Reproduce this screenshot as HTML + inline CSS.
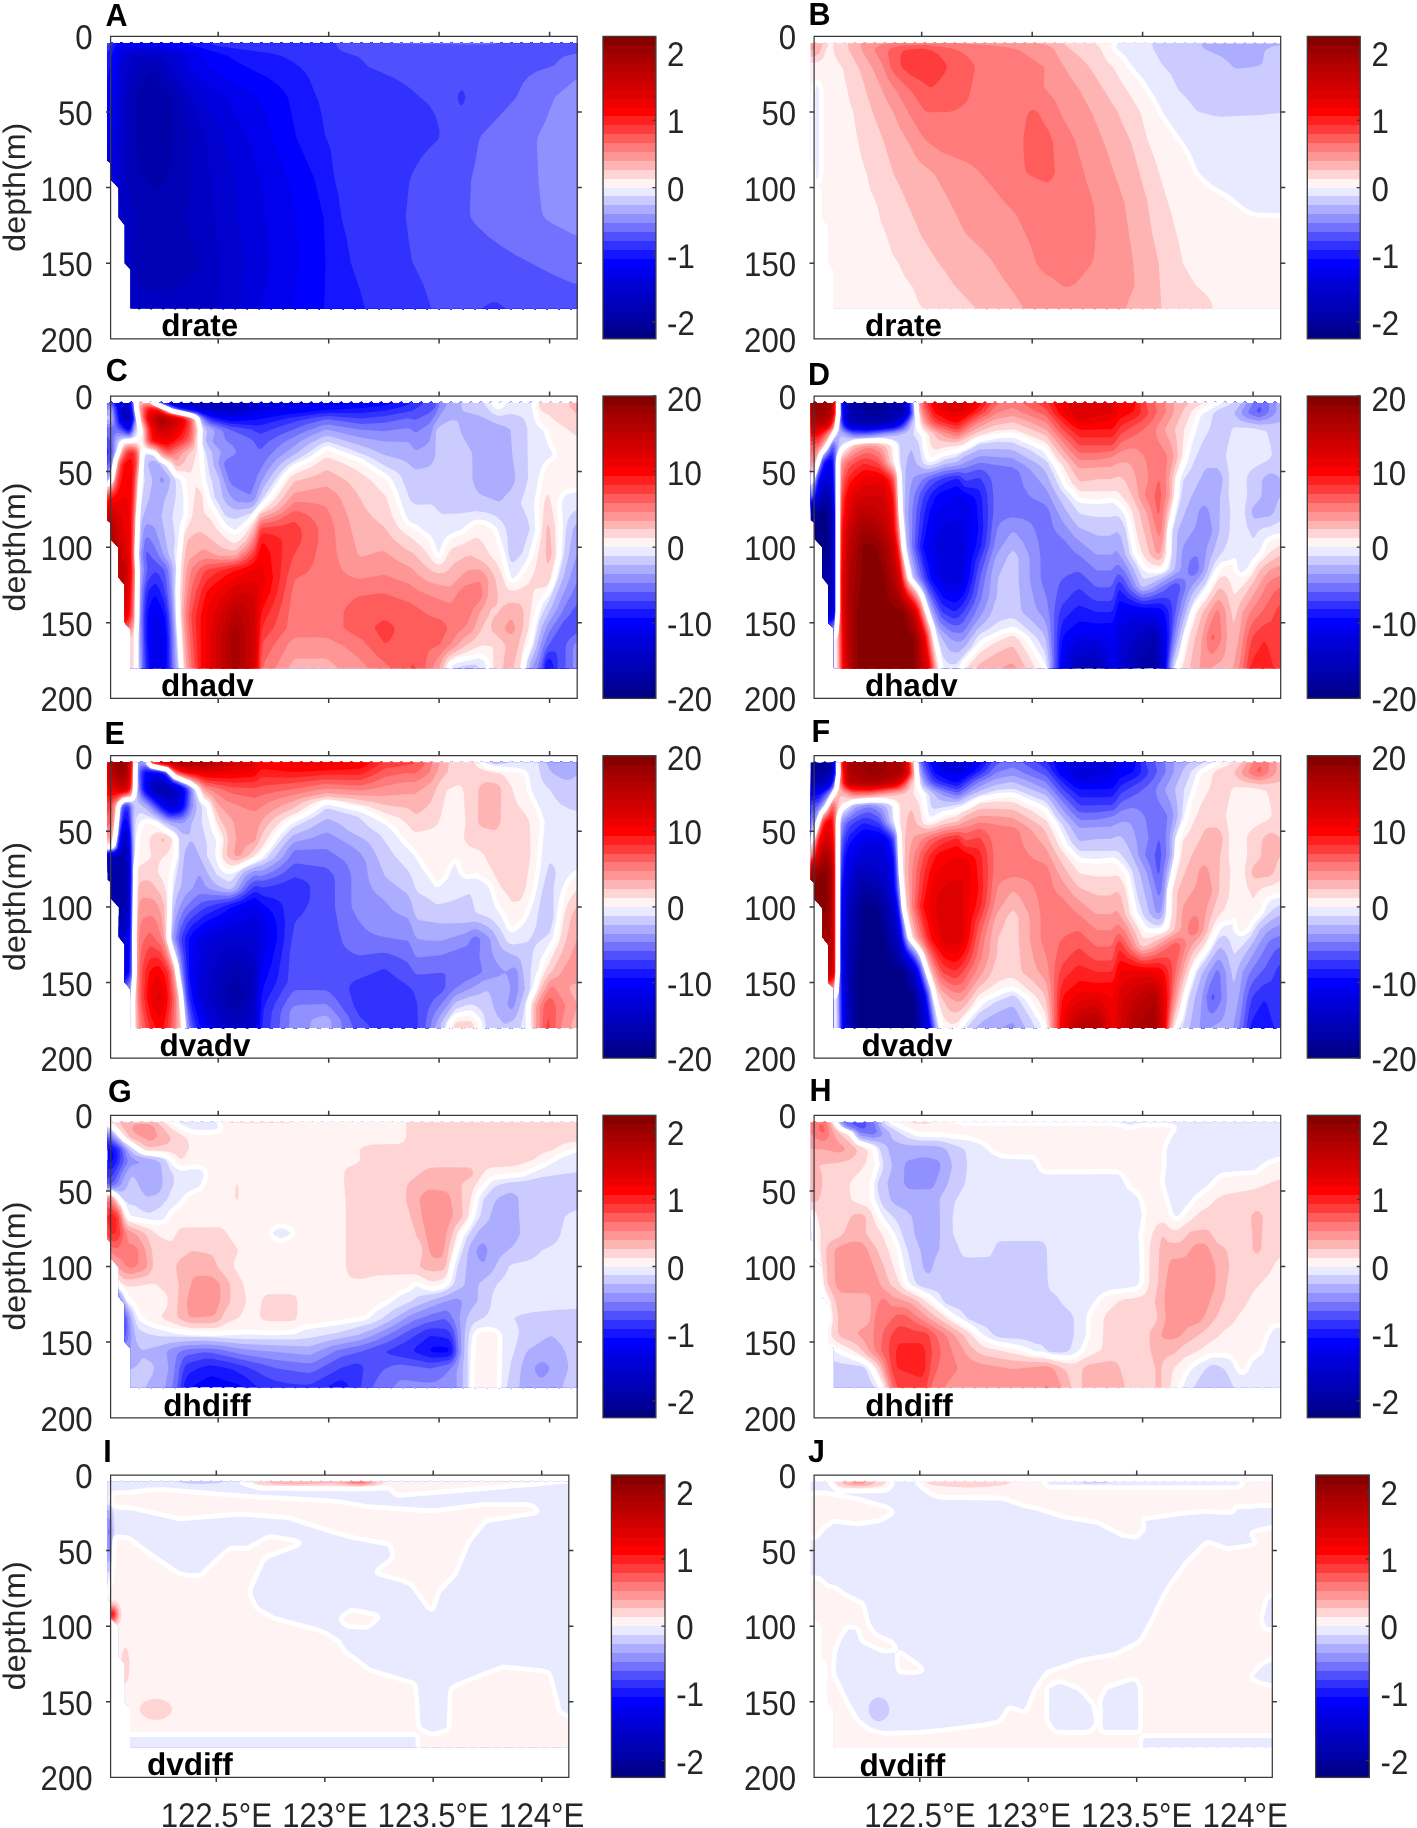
<!DOCTYPE html>
<html><head><meta charset="utf-8"><style>
html,body{margin:0;padding:0;background:#fff;}
svg{display:block;}
text{text-rendering:geometricPrecision;}
svg{will-change:transform;}
.t{font-family:"Liberation Sans",sans-serif;font-size:31.2px;fill:#262626;}
.yl{font-family:"Liberation Sans",sans-serif;font-size:31px;fill:#262626;}
.v{font-family:"Liberation Sans",sans-serif;font-size:31.5px;font-weight:bold;fill:#000;}
.L{font-family:"Liberation Sans",sans-serif;font-size:30.5px;font-weight:bold;fill:#000;}
</style></head><body>
<svg width="1417" height="1828" viewBox="0 0 1417 1828" shape-rendering="geometricPrecision">
<rect width="1417" height="1828" fill="#fff"/>
<clipPath id="p00"><path d="M107.3 43.2 109.3 43.2 111.3 41.9 113.3 43.2 115.3 43.2 117.3 43.2 119.3 43.2 121.3 41.9 123.3 43.2 125.3 43.2 127.3 43.2 129.3 43.2 131.3 41.9 133.3 43.2 135.3 43.2 137.3 43.2 139.3 43.2 141.3 41.9 143.3 43.2 145.3 43.2 147.3 43.2 149.3 43.2 151.3 41.9 153.3 43.2 155.3 43.2 157.3 43.2 159.3 43.2 161.3 41.9 163.3 43.2 165.3 43.2 167.3 43.2 169.3 43.2 171.3 41.9 173.3 43.2 175.3 43.2 177.3 43.2 179.3 43.2 181.3 41.9 183.3 43.2 185.3 43.2 187.3 43.2 189.3 43.2 191.3 41.9 193.3 43.2 195.3 43.2 197.3 43.2 199.3 43.2 201.3 41.9 203.3 43.2 205.3 43.2 207.3 43.2 209.3 43.2 211.3 41.9 213.3 43.2 215.3 43.2 217.3 43.2 219.3 43.2 221.3 41.9 223.3 43.2 225.3 43.2 227.3 43.2 229.3 43.2 231.3 41.9 233.3 43.2 235.3 43.2 237.3 43.2 239.3 43.2 241.3 41.9 243.3 43.2 245.3 43.2 247.3 43.2 249.3 43.2 251.3 41.9 253.3 43.2 255.3 43.2 257.3 43.2 259.3 43.2 261.3 41.9 263.3 43.2 265.3 43.2 267.3 43.2 269.3 43.2 271.3 41.9 273.3 43.2 275.3 43.2 277.3 43.2 279.3 43.2 281.3 41.9 283.3 43.2 285.3 43.2 287.3 43.2 289.3 43.2 291.3 41.9 293.3 43.2 295.3 43.2 297.3 43.2 299.3 43.2 301.3 41.9 303.3 43.2 305.3 43.2 307.3 43.2 309.3 43.2 311.3 41.9 313.3 43.2 315.3 43.2 317.3 43.2 319.3 43.2 321.3 41.9 323.3 43.2 325.3 43.2 327.3 43.2 329.3 43.2 331.3 41.9 333.3 43.2 335.3 43.2 337.3 43.2 339.3 43.2 341.3 41.9 343.3 43.2 345.3 43.2 347.3 43.2 349.3 43.2 351.3 41.9 353.3 43.2 355.3 43.2 357.3 43.2 359.3 43.2 361.3 41.9 363.3 43.2 365.3 43.2 367.3 43.2 369.3 43.2 371.3 41.9 373.3 43.2 375.3 43.2 377.3 43.2 379.3 43.2 381.3 41.9 383.3 43.2 385.3 43.2 387.3 43.2 389.3 43.2 391.3 41.9 393.3 43.2 395.3 43.2 397.3 43.2 399.3 43.2 401.3 41.9 403.3 43.2 405.3 43.2 407.3 43.2 409.3 43.2 411.3 41.9 413.3 43.2 415.3 43.2 417.3 43.2 419.3 43.2 421.3 41.9 423.3 43.2 425.3 43.2 427.3 43.2 429.3 43.2 431.3 41.9 433.3 43.2 435.3 43.2 437.3 43.2 439.3 43.2 441.3 41.9 443.3 43.2 445.3 43.2 447.3 43.2 449.3 43.2 451.3 41.9 453.3 43.2 455.3 43.2 457.3 43.2 459.3 43.2 461.3 41.9 463.3 43.2 465.3 43.2 467.3 43.2 469.3 43.2 471.3 41.9 473.3 43.2 475.3 43.2 477.3 43.2 479.3 43.2 481.3 41.9 483.3 43.2 485.3 43.2 487.3 43.2 489.3 43.2 491.3 41.9 493.3 43.2 495.3 43.2 497.3 43.2 499.3 43.2 501.3 41.9 503.3 43.2 505.3 43.2 507.3 43.2 509.3 43.2 511.3 41.9 513.3 43.2 515.3 43.2 517.3 43.2 519.3 43.2 521.3 41.9 523.3 43.2 525.3 43.2 527.3 43.2 529.3 43.2 531.3 41.9 533.3 43.2 535.3 43.2 537.3 43.2 539.3 43.2 541.3 41.9 543.3 43.2 545.3 43.2 547.3 43.2 549.3 43.2 551.3 41.9 553.3 43.2 555.3 43.2 557.3 43.2 559.3 43.2 561.3 41.9 563.3 43.2 565.3 43.2 567.3 43.2 569.3 43.2 571.3 41.9 573.3 43.2 575.3 43.2 577.2 43.2 577.2 308.6 577.2 308.6 575.2 308.6 573.2 308.6 571.2 309.4 569.2 308.6 567.2 308.6 565.2 308.6 563.2 308.6 561.2 308.6 559.2 309.4 557.2 308.6 555.2 308.6 553.2 308.6 551.2 308.6 549.2 308.6 547.2 309.4 545.2 308.6 543.2 308.6 541.2 308.6 539.2 308.6 537.2 308.6 535.2 309.4 533.2 308.6 531.2 308.6 529.2 308.6 527.2 308.6 525.2 308.6 523.2 309.4 521.2 308.6 519.2 308.6 517.2 308.6 515.2 308.6 513.2 308.6 511.2 309.4 509.2 308.6 507.2 308.6 505.2 308.6 503.2 308.6 501.2 308.6 499.2 309.4 497.2 308.6 495.2 308.6 493.2 308.6 491.2 308.6 489.2 308.6 487.2 309.4 485.2 308.6 483.2 308.6 481.2 308.6 479.2 308.6 477.2 308.6 475.2 309.4 473.2 308.6 471.2 308.6 469.2 308.6 467.2 308.6 465.2 308.6 463.2 309.4 461.2 308.6 459.2 308.6 457.2 308.6 455.2 308.6 453.2 308.6 451.2 309.4 449.2 308.6 447.2 308.6 445.2 308.6 443.2 308.6 441.2 308.6 439.2 309.4 437.2 308.6 435.2 308.6 433.2 308.6 431.2 308.6 429.2 308.6 427.2 309.4 425.2 308.6 423.2 308.6 421.2 308.6 419.2 308.6 417.2 308.6 415.2 309.4 413.2 308.6 411.2 308.6 409.2 308.6 407.2 308.6 405.2 308.6 403.2 309.4 401.2 308.6 399.2 308.6 397.2 308.6 395.2 308.6 393.2 308.6 391.2 309.4 389.2 308.6 387.2 308.6 385.2 308.6 383.2 308.6 381.2 308.6 379.2 309.4 377.2 308.6 375.2 308.6 373.2 308.6 371.2 308.6 369.2 308.6 367.2 309.4 365.2 308.6 363.2 308.6 361.2 308.6 359.2 308.6 357.2 308.6 355.2 309.4 353.2 308.6 351.2 308.6 349.2 308.6 347.2 308.6 345.2 308.6 343.2 309.4 341.2 308.6 339.2 308.6 337.2 308.6 335.2 308.6 333.2 308.6 331.2 309.4 329.2 308.6 327.2 308.6 325.2 308.6 323.2 308.6 321.2 308.6 319.2 309.4 317.2 308.6 315.2 308.6 313.2 308.6 311.2 308.6 309.2 308.6 307.2 309.4 305.2 308.6 303.2 308.6 301.2 308.6 299.2 308.6 297.2 308.6 295.2 309.4 293.2 308.6 291.2 308.6 289.2 308.6 287.2 308.6 285.2 308.6 283.2 309.4 281.2 308.6 279.2 308.6 277.2 308.6 275.2 308.6 273.2 308.6 271.2 309.4 269.2 308.6 267.2 308.6 265.2 308.6 263.2 308.6 261.2 308.6 259.2 309.4 257.2 308.6 255.2 308.6 253.2 308.6 251.2 308.6 249.2 308.6 247.2 309.4 245.2 308.6 243.2 308.6 241.2 308.6 239.2 308.6 237.2 308.6 235.2 309.4 233.2 308.6 231.2 308.6 229.2 308.6 227.2 308.6 225.2 308.6 223.2 309.4 221.2 308.6 219.2 308.6 217.2 308.6 215.2 308.6 213.2 308.6 211.2 309.4 209.2 308.6 207.2 308.6 205.2 308.6 203.2 308.6 201.2 308.6 199.2 309.4 197.2 308.6 195.2 308.6 193.2 308.6 191.2 308.6 189.2 308.6 187.2 309.4 185.2 308.6 183.2 308.6 181.2 308.6 179.2 308.6 177.2 308.6 175.2 309.4 173.2 308.6 171.2 308.6 169.2 308.6 167.2 308.6 165.2 308.6 163.2 309.4 161.2 308.6 159.2 308.6 157.2 308.6 155.2 308.6 153.2 308.6 151.2 309.4 149.2 308.6 147.2 308.6 145.2 308.6 143.2 308.6 141.2 308.6 139.2 309.4 137.2 308.6 135.2 308.6 133.2 308.6 131.2 308.6 130.4 308.6 130.4 269.6 124.6 263.2 124.6 225.2 118.5 217.5 118.5 188.1 110.6 179.4 110.6 163.1 107.3 160.7 107.3 43.2z"/></clipPath>
<g clip-path="url(#p00)">
<path fill="#0000a8" d="M107.3 43.2 109.3 43.2 111.3 41.9 113.3 43.2 115.3 43.2 117.3 43.2 119.3 43.2 121.3 41.9 123.3 43.2 125.3 43.2 127.3 43.2 129.3 43.2 131.3 41.9 133.3 43.2 135.3 43.2 137.3 43.2 139.3 43.2 141.3 41.9 143.3 43.2 145.3 43.2 147.3 43.2 149.3 43.2 151.3 41.9 153.3 43.2 155.3 43.2 157.3 43.2 159.3 43.2 161.3 41.9 163.3 43.2 165.3 43.2 167.3 43.2 169.3 43.2 171.3 41.9 173.3 43.2 175.3 43.2 177.3 43.2 179.3 43.2 181.3 41.9 183.3 43.2 185.3 43.2 187.3 43.2 189.3 43.2 191.3 41.9 193.3 43.2 195.3 43.2 197.3 43.2 199.3 43.2 201.3 41.9 203.3 43.2 205.3 43.2 207.3 43.2 209.3 43.2 211.3 41.9 213.3 43.2 215.3 43.2 217.3 43.2 219.3 43.2 221.3 41.9 223.3 43.2 225.3 43.2 227.3 43.2 229.3 43.2 231.3 41.9 233.3 43.2 235.3 43.2 237.3 43.2 239.3 43.2 241.3 41.9 243.3 43.2 245.3 43.2 247.3 43.2 249.3 43.2 251.3 41.9 253.3 43.2 255.3 43.2 257.3 43.2 259.3 43.2 261.3 41.9 263.3 43.2 265.3 43.2 267.3 43.2 269.3 43.2 271.3 41.9 273.3 43.2 275.3 43.2 277.3 43.2 279.3 43.2 281.3 41.9 283.3 43.2 285.3 43.2 287.3 43.2 289.3 43.2 291.3 41.9 293.3 43.2 295.3 43.2 297.3 43.2 299.3 43.2 301.3 41.9 303.3 43.2 305.3 43.2 307.3 43.2 309.3 43.2 311.3 41.9 313.3 43.2 315.3 43.2 317.3 43.2 319.3 43.2 321.3 41.9 323.3 43.2 325.3 43.2 327.3 43.2 329.3 43.2 331.3 41.9 333.3 43.2 335.3 43.2 337.3 43.2 339.3 43.2 341.3 41.9 343.3 43.2 345.3 43.2 347.3 43.2 349.3 43.2 351.3 41.9 353.3 43.2 355.3 43.2 357.3 43.2 359.3 43.2 361.3 41.9 363.3 43.2 365.3 43.2 367.3 43.2 369.3 43.2 371.3 41.9 373.3 43.2 375.3 43.2 377.3 43.2 379.3 43.2 381.3 41.9 383.3 43.2 385.3 43.2 387.3 43.2 389.3 43.2 391.3 41.9 393.3 43.2 395.3 43.2 397.3 43.2 399.3 43.2 401.3 41.9 403.3 43.2 405.3 43.2 407.3 43.2 409.3 43.2 411.3 41.9 413.3 43.2 415.3 43.2 417.3 43.2 419.3 43.2 421.3 41.9 423.3 43.2 425.3 43.2 427.3 43.2 429.3 43.2 431.3 41.9 433.3 43.2 435.3 43.2 437.3 43.2 439.3 43.2 441.3 41.9 443.3 43.2 445.3 43.2 447.3 43.2 449.3 43.2 451.3 41.9 453.3 43.2 455.3 43.2 457.3 43.2 459.3 43.2 461.3 41.9 463.3 43.2 465.3 43.2 467.3 43.2 469.3 43.2 471.3 41.9 473.3 43.2 475.3 43.2 477.3 43.2 479.3 43.2 481.3 41.9 483.3 43.2 485.3 43.2 487.3 43.2 489.3 43.2 491.3 41.9 493.3 43.2 495.3 43.2 497.3 43.2 499.3 43.2 501.3 41.9 503.3 43.2 505.3 43.2 507.3 43.2 509.3 43.2 511.3 41.9 513.3 43.2 515.3 43.2 517.3 43.2 519.3 43.2 521.3 41.9 523.3 43.2 525.3 43.2 527.3 43.2 529.3 43.2 531.3 41.9 533.3 43.2 535.3 43.2 537.3 43.2 539.3 43.2 541.3 41.9 543.3 43.2 545.3 43.2 547.3 43.2 549.3 43.2 551.3 41.9 553.3 43.2 555.3 43.2 557.3 43.2 559.3 43.2 561.3 41.9 563.3 43.2 565.3 43.2 567.3 43.2 569.3 43.2 571.3 41.9 573.3 43.2 575.3 43.2 577.2 43.2 577.2 308.6 577.2 308.6 575.2 308.6 573.2 308.6 571.2 309.4 569.2 308.6 567.2 308.6 565.2 308.6 563.2 308.6 561.2 308.6 559.2 309.4 557.2 308.6 555.2 308.6 553.2 308.6 551.2 308.6 549.2 308.6 547.2 309.4 545.2 308.6 543.2 308.6 541.2 308.6 539.2 308.6 537.2 308.6 535.2 309.4 533.2 308.6 531.2 308.6 529.2 308.6 527.2 308.6 525.2 308.6 523.2 309.4 521.2 308.6 519.2 308.6 517.2 308.6 515.2 308.6 513.2 308.6 511.2 309.4 509.2 308.6 507.2 308.6 505.2 308.6 503.2 308.6 501.2 308.6 499.2 309.4 497.2 308.6 495.2 308.6 493.2 308.6 491.2 308.6 489.2 308.6 487.2 309.4 485.2 308.6 483.2 308.6 481.2 308.6 479.2 308.6 477.2 308.6 475.2 309.4 473.2 308.6 471.2 308.6 469.2 308.6 467.2 308.6 465.2 308.6 463.2 309.4 461.2 308.6 459.2 308.6 457.2 308.6 455.2 308.6 453.2 308.6 451.2 309.4 449.2 308.6 447.2 308.6 445.2 308.6 443.2 308.6 441.2 308.6 439.2 309.4 437.2 308.6 435.2 308.6 433.2 308.6 431.2 308.6 429.2 308.6 427.2 309.4 425.2 308.6 423.2 308.6 421.2 308.6 419.2 308.6 417.2 308.6 415.2 309.4 413.2 308.6 411.2 308.6 409.2 308.6 407.2 308.6 405.2 308.6 403.2 309.4 401.2 308.6 399.2 308.6 397.2 308.6 395.2 308.6 393.2 308.6 391.2 309.4 389.2 308.6 387.2 308.6 385.2 308.6 383.2 308.6 381.2 308.6 379.2 309.4 377.2 308.6 375.2 308.6 373.2 308.6 371.2 308.6 369.2 308.6 367.2 309.4 365.2 308.6 363.2 308.6 361.2 308.6 359.2 308.6 357.2 308.6 355.2 309.4 353.2 308.6 351.2 308.6 349.2 308.6 347.2 308.6 345.2 308.6 343.2 309.4 341.2 308.6 339.2 308.6 337.2 308.6 335.2 308.6 333.2 308.6 331.2 309.4 329.2 308.6 327.2 308.6 325.2 308.6 323.2 308.6 321.2 308.6 319.2 309.4 317.2 308.6 315.2 308.6 313.2 308.6 311.2 308.6 309.2 308.6 307.2 309.4 305.2 308.6 303.2 308.6 301.2 308.6 299.2 308.6 297.2 308.6 295.2 309.4 293.2 308.6 291.2 308.6 289.2 308.6 287.2 308.6 285.2 308.6 283.2 309.4 281.2 308.6 279.2 308.6 277.2 308.6 275.2 308.6 273.2 308.6 271.2 309.4 269.2 308.6 267.2 308.6 265.2 308.6 263.2 308.6 261.2 308.6 259.2 309.4 257.2 308.6 255.2 308.6 253.2 308.6 251.2 308.6 249.2 308.6 247.2 309.4 245.2 308.6 243.2 308.6 241.2 308.6 239.2 308.6 237.2 308.6 235.2 309.4 233.2 308.6 231.2 308.6 229.2 308.6 227.2 308.6 225.2 308.6 223.2 309.4 221.2 308.6 219.2 308.6 217.2 308.6 215.2 308.6 213.2 308.6 211.2 309.4 209.2 308.6 207.2 308.6 205.2 308.6 203.2 308.6 201.2 308.6 199.2 309.4 197.2 308.6 195.2 308.6 193.2 308.6 191.2 308.6 189.2 308.6 187.2 309.4 185.2 308.6 183.2 308.6 181.2 308.6 179.2 308.6 177.2 308.6 175.2 309.4 173.2 308.6 171.2 308.6 169.2 308.6 167.2 308.6 165.2 308.6 163.2 309.4 161.2 308.6 159.2 308.6 157.2 308.6 155.2 308.6 153.2 308.6 151.2 309.4 149.2 308.6 147.2 308.6 145.2 308.6 143.2 308.6 141.2 308.6 139.2 309.4 137.2 308.6 135.2 308.6 133.2 308.6 131.2 308.6 130.4 308.6 130.4 269.6 124.6 263.2 124.6 225.2 118.5 217.5 118.5 188.1 110.6 179.4 110.6 163.1 107.3 160.7 107.3 43.2z"/>
<path fill="#0000b5" d="M104.6 36.4l475 0l0 302l-475 0l0-302zM149.6 74l-2 2.2l-9 16.2l-1.8 5l-1.1 41l2.9 21.6l4 13.6l2.5 4.8l3.3 4l5.2 4.3l3 0.9l3-1.1l3.2-3.1l3.3-5l1.9-5l4-18l1.6-13l0.1-7l-2.9-37l-1.8-3l-8.5-9l-7.9-11.1l-2-1.4l-1 0.1z"/>
<path fill="#0000c2" d="M104.6 36.4l475 0l0 302l-475 0l0-302zM146.6 61.4l-7 3.3l-3.8 4.7l-4.2 14.8l-2.4 14.2l-0.9 41l1 46l2.4 19l5.7 15l-3.8 19.8l-1.8 23.2l2.6 14l4.2 9l3 2.8l4 2.1l6 2l4 0.6l5-0.9l9-3.1l8.1-3.5l5.9-3.4l6-4.9l5.2-5.7l3.2-5l0.9-4l-1.1-5l-7.2-20l-5.6-18l0-4l3.2-16l2.3-18l0.1-39l-0.5-5l-5.1-18l-4-20l-4.4-8.9l-10-13.2l-7.1-10.9l-3.2-3l-3.7-2l-3-0.5l-3 0.5z"/>
<path fill="#0000cf" d="M104.6 36.4l475 0l0 302l-363.3 0l0.1-26l4.2-50l-6.7-48l-7.4-75l-1.6-5l-8.9-20l-6.2-18l-23.6-34l-3.6-3.3l-4.8-2.7l-5.2-1.5l-4-0.3l-7 1l-6.2 1.8l-2.8 2.1l-2.9 4.9l-2.8 11l-2.8 21l-2.7 79l-1.6 16l-2.2 9.2l-3 5.9l-4 3l-6 0.8l0-173.9z"/>
<path fill="#0000dd" d="M104.6 36.4l475 0l0 302l-339.7 0l0.3-29l5-48l-7.2-43l-2.6-38l-10.3-40l-2.2-6l-20-37l-19.3-22.5l-4.2-6.5l-3.9-9l-2.4-3l-6.5-3l-15-2.6l-16 0.8l-7 1.8l-2.3 2l-1.7 3.1l-2.8 12.9l-2.1 25l-4.6 85l-1.6 6l-2.6 5l-2.3 1.9l-4 0.8l0-158.7z"/>
<path fill="#0000ec" d="M104.6 36.4l475 0l0 302l-320.3 0l0.3-27l9.7-41l1-6l-0.1-6l-3.9-36l-5.7-42l-12.2-40l-6.7-15l-9.6-18l-5.1-8l-4.4-4.2l-13-9.1l-19-17.2l-2.5-4.5l-0.9-8l-2.9-3l-9.4-3l-22.3-2.9l-20 0.7l-8 1.7l-4 3.1l-1.9 6.4l-7.8 106l-2.3 11l-1.8 2l-2.2 0.7l0-142.7z"/>
<path fill="#0000ff" d="M104.6 36.4l475 0l0 302l-287.1 0l0.2-27l5.7-48l-2.2-46l-7.8-37l-11.8-29.4l-10.3-34.6l-6.7-16.1l-3.1-3.9l-5.2-4l-21.7-13.5l-20.1-11.5l-2.9-3.1l-3.5-7.9l-1.9-2l-3.6-2l-18-5.8l-28-4.3l-21 1.2l-8 1.2l-3 2l-2 2.6l-2.4 7.1l-6.6 80.8l-2 9.7l-2 3.5l0-114z"/>
<path fill="#1515ff" d="M104.6 36.4l13.6 0l-0.8 5l-6 15l-4.8 30.2l-2 6.7l0-56.9zM183.4 36.4l396.2 0l0 302l-255.6 0l0-26l1.4-48l-1.8-46.3l-9.3-39.7l-18-41l-7.4-36l-1.6-5l-3.2-5l-5.5-6.1l-12-8.4l-24-11.8l-16.2-9.7l-36.1-11l-4.7-3l-1.4-2l-0.8-3z"/>
<path fill="#3232ff" d="M104.6 36.4l10 0l-0.6 5l-2.4 5.2l-4 5.6l-3 2.1l0-17.9zM209 36.4l370.6 0l0 302l-213.5 0l-0.5-28l-5.8-21l-9.1-27l-4.2-25l-4.9-19.2l-3.5-24.8l-3.5-14l-3.8-28l-1.6-6l-4.1-10l-3.3-20l-2.7-12l-9.6-24l-3.9-6.3l-5.1-5.7l-7.9-6l-7.6-4l-8.4-2.8l-9-1.8l-50-6.8l-4.2-1.6l-2.8-2l-1.1-2l-0.5-4z"/>
<path fill="#5050ff" d="M104.6 36.4l7 0l-0.6 4l-1.4 3.2l-2 2.3l-3 1.7l0-11.2zM333.9 36.4l245.7 0l0 302l-70 0l0-21l-1-5l-2.1-3l-4.9-4.2l-4-2.5l-3-0.7l-4 1l-6 3.3l-3.7 3.1l-1.9 3l-0.9 5l0 21l-45.6 0l0-22l-0.6-6l-8.3-25.4l-11.4-23.6l-3.6-21.7l-2.8-23.3l3.1-32l2.1-8l4.9-10l5.7-9.1l6.4-7.9l9.2-9l1.9-3l0.4-6l-2.7-12l-3.4-8l-4.8-7l-17.2-15l-7.8-5.7l-9-5.4l-26.6-11.9l-7.5-8l-2.8-2l-13.1-4.1l-3.9-1.9l-2.9-3l-2.2-3.8l-1.7-7.2zM461.6 90.3l-3 3.1l-1 4l1.2 5l1.2 2l1.6 0.8l2-1.8l1.8-6l-1.2-5l-1.6-1.9l-1-0.2z"/>
<path fill="#7272ff" d="M104.6 36.4l3.1 0l-1.1 3.8l-2 1.7l0-5.5zM384.9 36.4l116.4 0l-1.1 4l-2.6 2.4l-4 1.2l-8 0.4l-89-0.7l-6-0.9l-3-1.4l-1.8-2l-0.9-3zM578.5 53.4l1.1 0l0 231.2l-8-1.8l-18-7.9l-38-20l-13-7.8l-14.4-10.7l-12.6-11.8l-4.6-6.2l-1.1-6l1.1-32l4.2-18l3.5-21l2.5-6l33.4-35.9l2.6-4.1l5.5-12l5.9-7l8-4.8l17.3-6.2l6.7-6.7l3.7-2.3l6.3-2l7.9-1z"/>
<path fill="#9090ff" d="M579 78.4l0.6-0.1l0 157.6l-7-1.9l-18.4-9.6l-8-5l-3.3-4l-1.5-7l-2.8-26l-1.8-40l1.1-6l7.7-15.6l8.5-22.4l2.6-3l17.9-14.8l4.4-2.2z"/>
</g>
<clipPath id="p01"><path d="M810.8 43.2 812.8 43.2 814.8 41.9 816.8 43.2 818.8 43.2 820.8 43.2 822.8 43.2 824.8 41.9 826.8 43.2 828.8 43.2 830.8 43.2 832.8 43.2 834.8 41.9 836.8 43.2 838.8 43.2 840.8 43.2 842.8 43.2 844.8 41.9 846.8 43.2 848.8 43.2 850.8 43.2 852.8 43.2 854.8 41.9 856.8 43.2 858.8 43.2 860.8 43.2 862.8 43.2 864.8 41.9 866.8 43.2 868.8 43.2 870.8 43.2 872.8 43.2 874.8 41.9 876.8 43.2 878.8 43.2 880.8 43.2 882.8 43.2 884.8 41.9 886.8 43.2 888.8 43.2 890.8 43.2 892.8 43.2 894.8 41.9 896.8 43.2 898.8 43.2 900.8 43.2 902.8 43.2 904.8 41.9 906.8 43.2 908.8 43.2 910.8 43.2 912.8 43.2 914.8 41.9 916.8 43.2 918.8 43.2 920.8 43.2 922.8 43.2 924.8 41.9 926.8 43.2 928.8 43.2 930.8 43.2 932.8 43.2 934.8 41.9 936.8 43.2 938.8 43.2 940.8 43.2 942.8 43.2 944.8 41.9 946.8 43.2 948.8 43.2 950.8 43.2 952.8 43.2 954.8 41.9 956.8 43.2 958.8 43.2 960.8 43.2 962.8 43.2 964.8 41.9 966.8 43.2 968.8 43.2 970.8 43.2 972.8 43.2 974.8 41.9 976.8 43.2 978.8 43.2 980.8 43.2 982.8 43.2 984.8 41.9 986.8 43.2 988.8 43.2 990.8 43.2 992.8 43.2 994.8 41.9 996.8 43.2 998.8 43.2 1000.8 43.2 1002.8 43.2 1004.8 41.9 1006.8 43.2 1008.8 43.2 1010.8 43.2 1012.8 43.2 1014.8 41.9 1016.8 43.2 1018.8 43.2 1020.8 43.2 1022.8 43.2 1024.8 41.9 1026.8 43.2 1028.8 43.2 1030.8 43.2 1032.8 43.2 1034.8 41.9 1036.8 43.2 1038.8 43.2 1040.8 43.2 1042.8 43.2 1044.8 41.9 1046.8 43.2 1048.8 43.2 1050.8 43.2 1052.8 43.2 1054.8 41.9 1056.8 43.2 1058.8 43.2 1060.8 43.2 1062.8 43.2 1064.8 41.9 1066.8 43.2 1068.8 43.2 1070.8 43.2 1072.8 43.2 1074.8 41.9 1076.8 43.2 1078.8 43.2 1080.8 43.2 1082.8 43.2 1084.8 41.9 1086.8 43.2 1088.8 43.2 1090.8 43.2 1092.8 43.2 1094.8 41.9 1096.8 43.2 1098.8 43.2 1100.8 43.2 1102.8 43.2 1104.8 41.9 1106.8 43.2 1108.8 43.2 1110.8 43.2 1112.8 43.2 1114.8 41.9 1116.8 43.2 1118.8 43.2 1120.8 43.2 1122.8 43.2 1124.8 41.9 1126.8 43.2 1128.8 43.2 1130.8 43.2 1132.8 43.2 1134.8 41.9 1136.8 43.2 1138.8 43.2 1140.8 43.2 1142.8 43.2 1144.8 41.9 1146.8 43.2 1148.8 43.2 1150.8 43.2 1152.8 43.2 1154.8 41.9 1156.8 43.2 1158.8 43.2 1160.8 43.2 1162.8 43.2 1164.8 41.9 1166.8 43.2 1168.8 43.2 1170.8 43.2 1172.8 43.2 1174.8 41.9 1176.8 43.2 1178.8 43.2 1180.8 43.2 1182.8 43.2 1184.8 41.9 1186.8 43.2 1188.8 43.2 1190.8 43.2 1192.8 43.2 1194.8 41.9 1196.8 43.2 1198.8 43.2 1200.8 43.2 1202.8 43.2 1204.8 41.9 1206.8 43.2 1208.8 43.2 1210.8 43.2 1212.8 43.2 1214.8 41.9 1216.8 43.2 1218.8 43.2 1220.8 43.2 1222.8 43.2 1224.8 41.9 1226.8 43.2 1228.8 43.2 1230.8 43.2 1232.8 43.2 1234.8 41.9 1236.8 43.2 1238.8 43.2 1240.8 43.2 1242.8 43.2 1244.8 41.9 1246.8 43.2 1248.8 43.2 1250.8 43.2 1252.8 43.2 1254.8 41.9 1256.8 43.2 1258.8 43.2 1260.8 43.2 1262.8 43.2 1264.8 41.9 1266.8 43.2 1268.8 43.2 1270.8 43.2 1272.8 43.2 1274.8 41.9 1276.8 43.2 1278.8 43.2 1280.7 43.2 1280.7 308.6 1280.7 308.6 1278.7 308.6 1276.7 308.6 1274.7 309.4 1272.7 308.6 1270.7 308.6 1268.7 308.6 1266.7 308.6 1264.7 308.6 1262.7 309.4 1260.7 308.6 1258.7 308.6 1256.7 308.6 1254.7 308.6 1252.7 308.6 1250.7 309.4 1248.7 308.6 1246.7 308.6 1244.7 308.6 1242.7 308.6 1240.7 308.6 1238.7 309.4 1236.7 308.6 1234.7 308.6 1232.7 308.6 1230.7 308.6 1228.7 308.6 1226.7 309.4 1224.7 308.6 1222.7 308.6 1220.7 308.6 1218.7 308.6 1216.7 308.6 1214.7 309.4 1212.7 308.6 1210.7 308.6 1208.7 308.6 1206.7 308.6 1204.7 308.6 1202.7 309.4 1200.7 308.6 1198.7 308.6 1196.7 308.6 1194.7 308.6 1192.7 308.6 1190.7 309.4 1188.7 308.6 1186.7 308.6 1184.7 308.6 1182.7 308.6 1180.7 308.6 1178.7 309.4 1176.7 308.6 1174.7 308.6 1172.7 308.6 1170.7 308.6 1168.7 308.6 1166.7 309.4 1164.7 308.6 1162.7 308.6 1160.7 308.6 1158.7 308.6 1156.7 308.6 1154.7 309.4 1152.7 308.6 1150.7 308.6 1148.7 308.6 1146.7 308.6 1144.7 308.6 1142.7 309.4 1140.7 308.6 1138.7 308.6 1136.7 308.6 1134.7 308.6 1132.7 308.6 1130.7 309.4 1128.7 308.6 1126.7 308.6 1124.7 308.6 1122.7 308.6 1120.7 308.6 1118.7 309.4 1116.7 308.6 1114.7 308.6 1112.7 308.6 1110.7 308.6 1108.7 308.6 1106.7 309.4 1104.7 308.6 1102.7 308.6 1100.7 308.6 1098.7 308.6 1096.7 308.6 1094.7 309.4 1092.7 308.6 1090.7 308.6 1088.7 308.6 1086.7 308.6 1084.7 308.6 1082.7 309.4 1080.7 308.6 1078.7 308.6 1076.7 308.6 1074.7 308.6 1072.7 308.6 1070.7 309.4 1068.7 308.6 1066.7 308.6 1064.7 308.6 1062.7 308.6 1060.7 308.6 1058.7 309.4 1056.7 308.6 1054.7 308.6 1052.7 308.6 1050.7 308.6 1048.7 308.6 1046.7 309.4 1044.7 308.6 1042.7 308.6 1040.7 308.6 1038.7 308.6 1036.7 308.6 1034.7 309.4 1032.7 308.6 1030.7 308.6 1028.7 308.6 1026.7 308.6 1024.7 308.6 1022.7 309.4 1020.7 308.6 1018.7 308.6 1016.7 308.6 1014.7 308.6 1012.7 308.6 1010.7 309.4 1008.7 308.6 1006.7 308.6 1004.7 308.6 1002.7 308.6 1000.7 308.6 998.7 309.4 996.7 308.6 994.7 308.6 992.7 308.6 990.7 308.6 988.7 308.6 986.7 309.4 984.7 308.6 982.7 308.6 980.7 308.6 978.7 308.6 976.7 308.6 974.7 309.4 972.7 308.6 970.7 308.6 968.7 308.6 966.7 308.6 964.7 308.6 962.7 309.4 960.7 308.6 958.7 308.6 956.7 308.6 954.7 308.6 952.7 308.6 950.7 309.4 948.7 308.6 946.7 308.6 944.7 308.6 942.7 308.6 940.7 308.6 938.7 309.4 936.7 308.6 934.7 308.6 932.7 308.6 930.7 308.6 928.7 308.6 926.7 309.4 924.7 308.6 922.7 308.6 920.7 308.6 918.7 308.6 916.7 308.6 914.7 309.4 912.7 308.6 910.7 308.6 908.7 308.6 906.7 308.6 904.7 308.6 902.7 309.4 900.7 308.6 898.7 308.6 896.7 308.6 894.7 308.6 892.7 308.6 890.7 309.4 888.7 308.6 886.7 308.6 884.7 308.6 882.7 308.6 880.7 308.6 878.7 309.4 876.7 308.6 874.7 308.6 872.7 308.6 870.7 308.6 868.7 308.6 866.7 309.4 864.7 308.6 862.7 308.6 860.7 308.6 858.7 308.6 856.7 308.6 854.7 309.4 852.7 308.6 850.7 308.6 848.7 308.6 846.7 308.6 844.7 308.6 842.7 309.4 840.7 308.6 838.7 308.6 836.7 308.6 834.7 308.6 833.9 308.6 833.9 269.6 828.1 263.2 828.1 225.2 822 217.5 822 188.1 814.1 179.4 814.1 163.1 810.8 160.7 810.8 43.2z"/></clipPath>
<g clip-path="url(#p01)">
<path fill="#adadff" d="M810.8 43.2 812.8 43.2 814.8 41.9 816.8 43.2 818.8 43.2 820.8 43.2 822.8 43.2 824.8 41.9 826.8 43.2 828.8 43.2 830.8 43.2 832.8 43.2 834.8 41.9 836.8 43.2 838.8 43.2 840.8 43.2 842.8 43.2 844.8 41.9 846.8 43.2 848.8 43.2 850.8 43.2 852.8 43.2 854.8 41.9 856.8 43.2 858.8 43.2 860.8 43.2 862.8 43.2 864.8 41.9 866.8 43.2 868.8 43.2 870.8 43.2 872.8 43.2 874.8 41.9 876.8 43.2 878.8 43.2 880.8 43.2 882.8 43.2 884.8 41.9 886.8 43.2 888.8 43.2 890.8 43.2 892.8 43.2 894.8 41.9 896.8 43.2 898.8 43.2 900.8 43.2 902.8 43.2 904.8 41.9 906.8 43.2 908.8 43.2 910.8 43.2 912.8 43.2 914.8 41.9 916.8 43.2 918.8 43.2 920.8 43.2 922.8 43.2 924.8 41.9 926.8 43.2 928.8 43.2 930.8 43.2 932.8 43.2 934.8 41.9 936.8 43.2 938.8 43.2 940.8 43.2 942.8 43.2 944.8 41.9 946.8 43.2 948.8 43.2 950.8 43.2 952.8 43.2 954.8 41.9 956.8 43.2 958.8 43.2 960.8 43.2 962.8 43.2 964.8 41.9 966.8 43.2 968.8 43.2 970.8 43.2 972.8 43.2 974.8 41.9 976.8 43.2 978.8 43.2 980.8 43.2 982.8 43.2 984.8 41.9 986.8 43.2 988.8 43.2 990.8 43.2 992.8 43.2 994.8 41.9 996.8 43.2 998.8 43.2 1000.8 43.2 1002.8 43.2 1004.8 41.9 1006.8 43.2 1008.8 43.2 1010.8 43.2 1012.8 43.2 1014.8 41.9 1016.8 43.2 1018.8 43.2 1020.8 43.2 1022.8 43.2 1024.8 41.9 1026.8 43.2 1028.8 43.2 1030.8 43.2 1032.8 43.2 1034.8 41.9 1036.8 43.2 1038.8 43.2 1040.8 43.2 1042.8 43.2 1044.8 41.9 1046.8 43.2 1048.8 43.2 1050.8 43.2 1052.8 43.2 1054.8 41.9 1056.8 43.2 1058.8 43.2 1060.8 43.2 1062.8 43.2 1064.8 41.9 1066.8 43.2 1068.8 43.2 1070.8 43.2 1072.8 43.2 1074.8 41.9 1076.8 43.2 1078.8 43.2 1080.8 43.2 1082.8 43.2 1084.8 41.9 1086.8 43.2 1088.8 43.2 1090.8 43.2 1092.8 43.2 1094.8 41.9 1096.8 43.2 1098.8 43.2 1100.8 43.2 1102.8 43.2 1104.8 41.9 1106.8 43.2 1108.8 43.2 1110.8 43.2 1112.8 43.2 1114.8 41.9 1116.8 43.2 1118.8 43.2 1120.8 43.2 1122.8 43.2 1124.8 41.9 1126.8 43.2 1128.8 43.2 1130.8 43.2 1132.8 43.2 1134.8 41.9 1136.8 43.2 1138.8 43.2 1140.8 43.2 1142.8 43.2 1144.8 41.9 1146.8 43.2 1148.8 43.2 1150.8 43.2 1152.8 43.2 1154.8 41.9 1156.8 43.2 1158.8 43.2 1160.8 43.2 1162.8 43.2 1164.8 41.9 1166.8 43.2 1168.8 43.2 1170.8 43.2 1172.8 43.2 1174.8 41.9 1176.8 43.2 1178.8 43.2 1180.8 43.2 1182.8 43.2 1184.8 41.9 1186.8 43.2 1188.8 43.2 1190.8 43.2 1192.8 43.2 1194.8 41.9 1196.8 43.2 1198.8 43.2 1200.8 43.2 1202.8 43.2 1204.8 41.9 1206.8 43.2 1208.8 43.2 1210.8 43.2 1212.8 43.2 1214.8 41.9 1216.8 43.2 1218.8 43.2 1220.8 43.2 1222.8 43.2 1224.8 41.9 1226.8 43.2 1228.8 43.2 1230.8 43.2 1232.8 43.2 1234.8 41.9 1236.8 43.2 1238.8 43.2 1240.8 43.2 1242.8 43.2 1244.8 41.9 1246.8 43.2 1248.8 43.2 1250.8 43.2 1252.8 43.2 1254.8 41.9 1256.8 43.2 1258.8 43.2 1260.8 43.2 1262.8 43.2 1264.8 41.9 1266.8 43.2 1268.8 43.2 1270.8 43.2 1272.8 43.2 1274.8 41.9 1276.8 43.2 1278.8 43.2 1280.7 43.2 1280.7 308.6 1280.7 308.6 1278.7 308.6 1276.7 308.6 1274.7 309.4 1272.7 308.6 1270.7 308.6 1268.7 308.6 1266.7 308.6 1264.7 308.6 1262.7 309.4 1260.7 308.6 1258.7 308.6 1256.7 308.6 1254.7 308.6 1252.7 308.6 1250.7 309.4 1248.7 308.6 1246.7 308.6 1244.7 308.6 1242.7 308.6 1240.7 308.6 1238.7 309.4 1236.7 308.6 1234.7 308.6 1232.7 308.6 1230.7 308.6 1228.7 308.6 1226.7 309.4 1224.7 308.6 1222.7 308.6 1220.7 308.6 1218.7 308.6 1216.7 308.6 1214.7 309.4 1212.7 308.6 1210.7 308.6 1208.7 308.6 1206.7 308.6 1204.7 308.6 1202.7 309.4 1200.7 308.6 1198.7 308.6 1196.7 308.6 1194.7 308.6 1192.7 308.6 1190.7 309.4 1188.7 308.6 1186.7 308.6 1184.7 308.6 1182.7 308.6 1180.7 308.6 1178.7 309.4 1176.7 308.6 1174.7 308.6 1172.7 308.6 1170.7 308.6 1168.7 308.6 1166.7 309.4 1164.7 308.6 1162.7 308.6 1160.7 308.6 1158.7 308.6 1156.7 308.6 1154.7 309.4 1152.7 308.6 1150.7 308.6 1148.7 308.6 1146.7 308.6 1144.7 308.6 1142.7 309.4 1140.7 308.6 1138.7 308.6 1136.7 308.6 1134.7 308.6 1132.7 308.6 1130.7 309.4 1128.7 308.6 1126.7 308.6 1124.7 308.6 1122.7 308.6 1120.7 308.6 1118.7 309.4 1116.7 308.6 1114.7 308.6 1112.7 308.6 1110.7 308.6 1108.7 308.6 1106.7 309.4 1104.7 308.6 1102.7 308.6 1100.7 308.6 1098.7 308.6 1096.7 308.6 1094.7 309.4 1092.7 308.6 1090.7 308.6 1088.7 308.6 1086.7 308.6 1084.7 308.6 1082.7 309.4 1080.7 308.6 1078.7 308.6 1076.7 308.6 1074.7 308.6 1072.7 308.6 1070.7 309.4 1068.7 308.6 1066.7 308.6 1064.7 308.6 1062.7 308.6 1060.7 308.6 1058.7 309.4 1056.7 308.6 1054.7 308.6 1052.7 308.6 1050.7 308.6 1048.7 308.6 1046.7 309.4 1044.7 308.6 1042.7 308.6 1040.7 308.6 1038.7 308.6 1036.7 308.6 1034.7 309.4 1032.7 308.6 1030.7 308.6 1028.7 308.6 1026.7 308.6 1024.7 308.6 1022.7 309.4 1020.7 308.6 1018.7 308.6 1016.7 308.6 1014.7 308.6 1012.7 308.6 1010.7 309.4 1008.7 308.6 1006.7 308.6 1004.7 308.6 1002.7 308.6 1000.7 308.6 998.7 309.4 996.7 308.6 994.7 308.6 992.7 308.6 990.7 308.6 988.7 308.6 986.7 309.4 984.7 308.6 982.7 308.6 980.7 308.6 978.7 308.6 976.7 308.6 974.7 309.4 972.7 308.6 970.7 308.6 968.7 308.6 966.7 308.6 964.7 308.6 962.7 309.4 960.7 308.6 958.7 308.6 956.7 308.6 954.7 308.6 952.7 308.6 950.7 309.4 948.7 308.6 946.7 308.6 944.7 308.6 942.7 308.6 940.7 308.6 938.7 309.4 936.7 308.6 934.7 308.6 932.7 308.6 930.7 308.6 928.7 308.6 926.7 309.4 924.7 308.6 922.7 308.6 920.7 308.6 918.7 308.6 916.7 308.6 914.7 309.4 912.7 308.6 910.7 308.6 908.7 308.6 906.7 308.6 904.7 308.6 902.7 309.4 900.7 308.6 898.7 308.6 896.7 308.6 894.7 308.6 892.7 308.6 890.7 309.4 888.7 308.6 886.7 308.6 884.7 308.6 882.7 308.6 880.7 308.6 878.7 309.4 876.7 308.6 874.7 308.6 872.7 308.6 870.7 308.6 868.7 308.6 866.7 309.4 864.7 308.6 862.7 308.6 860.7 308.6 858.7 308.6 856.7 308.6 854.7 309.4 852.7 308.6 850.7 308.6 848.7 308.6 846.7 308.6 844.7 308.6 842.7 309.4 840.7 308.6 838.7 308.6 836.7 308.6 834.7 308.6 833.9 308.6 833.9 269.6 828.1 263.2 828.1 225.2 822 217.5 822 188.1 814.1 179.4 814.1 163.1 810.8 160.7 810.8 43.2z"/>
<path fill="#cbcbff" d="M808.1 36.4l393.4 0l-0.1 8l1.7 3.3l2.5 1.7l15.4 7l5.5 4l6.6 6.4l2 1.2l3 0.6l13-1.3l9-2.1l2.5-2.8l1.7-10l2-3l6.8-3.1l10-1.5l0 293.6l-475 0l0-302z"/>
<path fill="#e9e9ff" d="M808.1 36.4l344.3 0l0 8l0.7 4l8 14.7l10 11.3l7 15.2l9.6 9.8l7.4 9.5l3 2.5l15 4.3l8 1.1l39-1.9l23-2.3l0 225.8l-475 0l0-302z"/>
<path fill="#fff3f3" d="M808.1 36.4l308.7 0l-0.6 5l-2.6 6l0.6 2l8.9 7.9l7 10.1l11 12.7l12 18.5l9 17l24.1 34.8l4.1 8l5.1 13l3.7 5.2l12 10.7l16.2 9.1l13.2 11l8.6 5.3l8 2.3l26 0.7l0 122.7l-475 0l0-302zM817.1 81.4l-1.3 1l-1.6 3l-1.3 7l0 68l0.7 16l1.5 5.2l2 2.2l2-1.9l1.1-3.5l0.9-6l0.2-9l-0.1-72l-1.3-7l-1-2l-1.8-1z"/>
<path fill="#ffd4d4" d="M808.1 36.4l21.9 0l-0.4 4l-5.7 16l-1.8 3.1l-3 2.2l-11 2.1l0-27.4zM833.6 36.4l256.9 0l1.8 4l7.8 7l6.2 13l7.8 8.2l6.3 11.8l7.5 11l13.1 22l6.6 27l7.4 19l16.3 54l8.1 32l3.7 18l12 21.2l11.8 10.8l3.2 4.7l2 4.5l1.6 8.8l0.1 25l-287.8 0l0-21l-0.8-5l-7.1-11l-5.2-14l-7.8-10l-6-13l-7.4-12l-5.6-18l-5.2-13l-4.1-17l-6.1-14l-3.9-16l-5.1-16l-5.4-26l-2.8-19l-3.9-13l-6.5-30.4l-1.5-3.6l-5.1-7l-2.3-6l-0.8-6l0.2-11z"/>
<path fill="#ffb4b4" d="M808.1 36.4l15.2 0l-1.7 11l-2.5 6l-4 2.7l-7 1.4l0-21.1zM848 36.4l210.3 0l1 3l1.7 2l20.5 17l5.7 6l5.8 8l23.8 38l14.7 33l15.8 58l4.7 31l6.8 31l2.7 47l0.1 28l-182.6 0l-0.1-22l-1.1-5l-3.6-5l-19.8-21l-7.8-12l-9.1-12l-16.4-26l-20.7-48l-7.3-14.5l-9.1-30.5l-11.9-31.3l-12.6-41.7l-10.8-20l-0.7-4l0-9z"/>
<path fill="#ff9696" d="M861.5 36.4l162.5 0l1.5 2l3.7 2l17.9 4.7l4 2l3 2.5l15 25.4l10.3 14.4l13.3 25l11.3 28l20.4 60l8.9 61l1.3 19l-0.6 5l-5.5 13l-2.9 10l-0.5 28l-98.8 0l-0.1-23l-1.8-6l-11.3-17.5l-11-14.7l-11.1-17.8l-8.8-10l-14.8-14l-3.2-4l-11.5-24l-17.4-32l-3.8-4l-10.4-8.1l-6.2-7.9l-6.5-13l-8.3-14l-6.2-15l-7.8-14.1l-14.6-32.9l-9.8-16l-1-5l0.8-9zM808.1 38.4l5 4.5l1.7 3.5l-0.7 2l-1.1 1l-4.9 1.5l0-12.5z"/>
<path fill="#ff7a7a" d="M902.4 41.4l24.7-0.4l66 4.5l15.2 1.9l8.5 2l4.9 2l21.6 15l1.4 4l-1 14l0.6 3l10.7 13l7.1 15.8l13 24.2l11.1 40l7.8 25l1.9 28l-1 15l-1.5 11l-2.8 6l-15.5 18.8l-7 2.5l-5-0.3l-10-7.8l-8-4.9l-4.5-4.3l-4.7-7l-6-19l-12.8-27.4l-4-5.1l-9-8.8l-13-16.5l-13.1-15.2l-5.9-4.9l-7.2-4.1l-23.8-9.3l-13-9.6l-6-6.8l-10.4-17.3l-14.2-26l-9.4-13l-6.3-16l-7.1-13l1.1-3l5.3-2.7l8-1.7l13.3-1.6z"/>
<path fill="#ff5c5c" d="M903.3 45.4l22.8-0.6l25 3.5l9.5 3.1l8.5 6.5l4.9 6.5l0.8 5l-5.1 25l-2.5 6l-3.1 4.1l-7 5l-8 2.5l-19 0.3l-3-0.5l-3-1.9l-12.6-18.5l-15.8-16l-3.6-4.9l-1.8-4.1l-2.3-13l0.5-3l2.4-2l2.5-1l9.9-2zM1031 110.4l2.1-0.7l2 0.3l3.1 2.4l5.1 10l5.8 9.1l3.7 9.9l2.1 31l-2.8 6.9l-4 3.1l-5-0.8l-12.6-6.2l-3.8-3l-1.6-3.6l-1.8-20.4l0.2-11l3.3-21l1.9-4l2.3-2z"/>
<path fill="#ff3c3c" d="M908.5 49.4l14.6-0.9l9.1 1.9l6.2 4l6.7 8l1.8 4l-1.2 5l-5.6 8.1l-7 6.9l-3 0.8l-2-0.9l-6.2-4.9l-10.8-5.8l-9.4-8.2l-1.4-5l0.9-9l2.9-2.9l4.4-1.1z"/>
<path fill="none" stroke="#fff" stroke-width="4.8" stroke-linejoin="round" d="M1116.8 36.4l-0.6 5l-2.6 6l0.6 2l8.9 7.9l7 10.1l11 12.7l12 18.5l9 17l24.1 34.8l4.1 8l5.1 13l3.7 5.2l12 10.7l16.2 9.1l13.2 11l8.6 5.3l8 2.3l26 0.7M817.1 81.4l-1.3 1l-1.6 3l-1.3 7l0 68l0.7 16l1.5 5.2l2 2.2l2-1.9l1.1-3.5l0.9-6l0.2-9l-0.1-72l-1.3-7l-1-2l-1.8-1"/>
</g>
<clipPath id="p10"><path d="M107.3 402.9 109.3 402.9 111.3 401.6 113.3 402.9 115.3 402.9 117.3 402.9 119.3 402.9 121.3 401.6 123.3 402.9 125.3 402.9 127.3 402.9 129.3 402.9 131.3 401.6 133.3 402.9 135.3 402.9 137.3 402.9 139.3 402.9 141.3 401.6 143.3 402.9 145.3 402.9 147.3 402.9 149.3 402.9 151.3 401.6 153.3 402.9 155.3 402.9 157.3 402.9 159.3 402.9 161.3 401.6 163.3 402.9 165.3 402.9 167.3 402.9 169.3 402.9 171.3 401.6 173.3 402.9 175.3 402.9 177.3 402.9 179.3 402.9 181.3 401.6 183.3 402.9 185.3 402.9 187.3 402.9 189.3 402.9 191.3 401.6 193.3 402.9 195.3 402.9 197.3 402.9 199.3 402.9 201.3 401.6 203.3 402.9 205.3 402.9 207.3 402.9 209.3 402.9 211.3 401.6 213.3 402.9 215.3 402.9 217.3 402.9 219.3 402.9 221.3 401.6 223.3 402.9 225.3 402.9 227.3 402.9 229.3 402.9 231.3 401.6 233.3 402.9 235.3 402.9 237.3 402.9 239.3 402.9 241.3 401.6 243.3 402.9 245.3 402.9 247.3 402.9 249.3 402.9 251.3 401.6 253.3 402.9 255.3 402.9 257.3 402.9 259.3 402.9 261.3 401.6 263.3 402.9 265.3 402.9 267.3 402.9 269.3 402.9 271.3 401.6 273.3 402.9 275.3 402.9 277.3 402.9 279.3 402.9 281.3 401.6 283.3 402.9 285.3 402.9 287.3 402.9 289.3 402.9 291.3 401.6 293.3 402.9 295.3 402.9 297.3 402.9 299.3 402.9 301.3 401.6 303.3 402.9 305.3 402.9 307.3 402.9 309.3 402.9 311.3 401.6 313.3 402.9 315.3 402.9 317.3 402.9 319.3 402.9 321.3 401.6 323.3 402.9 325.3 402.9 327.3 402.9 329.3 402.9 331.3 401.6 333.3 402.9 335.3 402.9 337.3 402.9 339.3 402.9 341.3 401.6 343.3 402.9 345.3 402.9 347.3 402.9 349.3 402.9 351.3 401.6 353.3 402.9 355.3 402.9 357.3 402.9 359.3 402.9 361.3 401.6 363.3 402.9 365.3 402.9 367.3 402.9 369.3 402.9 371.3 401.6 373.3 402.9 375.3 402.9 377.3 402.9 379.3 402.9 381.3 401.6 383.3 402.9 385.3 402.9 387.3 402.9 389.3 402.9 391.3 401.6 393.3 402.9 395.3 402.9 397.3 402.9 399.3 402.9 401.3 401.6 403.3 402.9 405.3 402.9 407.3 402.9 409.3 402.9 411.3 401.6 413.3 402.9 415.3 402.9 417.3 402.9 419.3 402.9 421.3 401.6 423.3 402.9 425.3 402.9 427.3 402.9 429.3 402.9 431.3 401.6 433.3 402.9 435.3 402.9 437.3 402.9 439.3 402.9 441.3 401.6 443.3 402.9 445.3 402.9 447.3 402.9 449.3 402.9 451.3 401.6 453.3 402.9 455.3 402.9 457.3 402.9 459.3 402.9 461.3 401.6 463.3 402.9 465.3 402.9 467.3 402.9 469.3 402.9 471.3 401.6 473.3 402.9 475.3 402.9 477.3 402.9 479.3 402.9 481.3 401.6 483.3 402.9 485.3 402.9 487.3 402.9 489.3 402.9 491.3 401.6 493.3 402.9 495.3 402.9 497.3 402.9 499.3 402.9 501.3 401.6 503.3 402.9 505.3 402.9 507.3 402.9 509.3 402.9 511.3 401.6 513.3 402.9 515.3 402.9 517.3 402.9 519.3 402.9 521.3 401.6 523.3 402.9 525.3 402.9 527.3 402.9 529.3 402.9 531.3 401.6 533.3 402.9 535.3 402.9 537.3 402.9 539.3 402.9 541.3 401.6 543.3 402.9 545.3 402.9 547.3 402.9 549.3 402.9 551.3 401.6 553.3 402.9 555.3 402.9 557.3 402.9 559.3 402.9 561.3 401.6 563.3 402.9 565.3 402.9 567.3 402.9 569.3 402.9 571.3 401.6 573.3 402.9 575.3 402.9 577.2 402.9 577.2 668.2 577.2 668.2 575.2 668.2 573.2 668.2 571.2 669 569.2 668.2 567.2 668.2 565.2 668.2 563.2 668.2 561.2 668.2 559.2 669 557.2 668.2 555.2 668.2 553.2 668.2 551.2 668.2 549.2 668.2 547.2 669 545.2 668.2 543.2 668.2 541.2 668.2 539.2 668.2 537.2 668.2 535.2 669 533.2 668.2 531.2 668.2 529.2 668.2 527.2 668.2 525.2 668.2 523.2 669 521.2 668.2 519.2 668.2 517.2 668.2 515.2 668.2 513.2 668.2 511.2 669 509.2 668.2 507.2 668.2 505.2 668.2 503.2 668.2 501.2 668.2 499.2 669 497.2 668.2 495.2 668.2 493.2 668.2 491.2 668.2 489.2 668.2 487.2 669 485.2 668.2 483.2 668.2 481.2 668.2 479.2 668.2 477.2 668.2 475.2 669 473.2 668.2 471.2 668.2 469.2 668.2 467.2 668.2 465.2 668.2 463.2 669 461.2 668.2 459.2 668.2 457.2 668.2 455.2 668.2 453.2 668.2 451.2 669 449.2 668.2 447.2 668.2 445.2 668.2 443.2 668.2 441.2 668.2 439.2 669 437.2 668.2 435.2 668.2 433.2 668.2 431.2 668.2 429.2 668.2 427.2 669 425.2 668.2 423.2 668.2 421.2 668.2 419.2 668.2 417.2 668.2 415.2 669 413.2 668.2 411.2 668.2 409.2 668.2 407.2 668.2 405.2 668.2 403.2 669 401.2 668.2 399.2 668.2 397.2 668.2 395.2 668.2 393.2 668.2 391.2 669 389.2 668.2 387.2 668.2 385.2 668.2 383.2 668.2 381.2 668.2 379.2 669 377.2 668.2 375.2 668.2 373.2 668.2 371.2 668.2 369.2 668.2 367.2 669 365.2 668.2 363.2 668.2 361.2 668.2 359.2 668.2 357.2 668.2 355.2 669 353.2 668.2 351.2 668.2 349.2 668.2 347.2 668.2 345.2 668.2 343.2 669 341.2 668.2 339.2 668.2 337.2 668.2 335.2 668.2 333.2 668.2 331.2 669 329.2 668.2 327.2 668.2 325.2 668.2 323.2 668.2 321.2 668.2 319.2 669 317.2 668.2 315.2 668.2 313.2 668.2 311.2 668.2 309.2 668.2 307.2 669 305.2 668.2 303.2 668.2 301.2 668.2 299.2 668.2 297.2 668.2 295.2 669 293.2 668.2 291.2 668.2 289.2 668.2 287.2 668.2 285.2 668.2 283.2 669 281.2 668.2 279.2 668.2 277.2 668.2 275.2 668.2 273.2 668.2 271.2 669 269.2 668.2 267.2 668.2 265.2 668.2 263.2 668.2 261.2 668.2 259.2 669 257.2 668.2 255.2 668.2 253.2 668.2 251.2 668.2 249.2 668.2 247.2 669 245.2 668.2 243.2 668.2 241.2 668.2 239.2 668.2 237.2 668.2 235.2 669 233.2 668.2 231.2 668.2 229.2 668.2 227.2 668.2 225.2 668.2 223.2 669 221.2 668.2 219.2 668.2 217.2 668.2 215.2 668.2 213.2 668.2 211.2 669 209.2 668.2 207.2 668.2 205.2 668.2 203.2 668.2 201.2 668.2 199.2 669 197.2 668.2 195.2 668.2 193.2 668.2 191.2 668.2 189.2 668.2 187.2 669 185.2 668.2 183.2 668.2 181.2 668.2 179.2 668.2 177.2 668.2 175.2 669 173.2 668.2 171.2 668.2 169.2 668.2 167.2 668.2 165.2 668.2 163.2 669 161.2 668.2 159.2 668.2 157.2 668.2 155.2 668.2 153.2 668.2 151.2 669 149.2 668.2 147.2 668.2 145.2 668.2 143.2 668.2 141.2 668.2 139.2 669 137.2 668.2 135.2 668.2 133.2 668.2 131.2 668.2 130.4 668.2 130.4 629.2 124.6 622.8 124.6 584.9 118.5 577.2 118.5 547.7 110.6 539.1 110.6 522.8 107.3 520.3 107.3 402.9z"/></clipPath>
<g clip-path="url(#p10)">
<path fill="#0000a8" d="M107.3 402.9 109.3 402.9 111.3 401.6 113.3 402.9 115.3 402.9 117.3 402.9 119.3 402.9 121.3 401.6 123.3 402.9 125.3 402.9 127.3 402.9 129.3 402.9 131.3 401.6 133.3 402.9 135.3 402.9 137.3 402.9 139.3 402.9 141.3 401.6 143.3 402.9 145.3 402.9 147.3 402.9 149.3 402.9 151.3 401.6 153.3 402.9 155.3 402.9 157.3 402.9 159.3 402.9 161.3 401.6 163.3 402.9 165.3 402.9 167.3 402.9 169.3 402.9 171.3 401.6 173.3 402.9 175.3 402.9 177.3 402.9 179.3 402.9 181.3 401.6 183.3 402.9 185.3 402.9 187.3 402.9 189.3 402.9 191.3 401.6 193.3 402.9 195.3 402.9 197.3 402.9 199.3 402.9 201.3 401.6 203.3 402.9 205.3 402.9 207.3 402.9 209.3 402.9 211.3 401.6 213.3 402.9 215.3 402.9 217.3 402.9 219.3 402.9 221.3 401.6 223.3 402.9 225.3 402.9 227.3 402.9 229.3 402.9 231.3 401.6 233.3 402.9 235.3 402.9 237.3 402.9 239.3 402.9 241.3 401.6 243.3 402.9 245.3 402.9 247.3 402.9 249.3 402.9 251.3 401.6 253.3 402.9 255.3 402.9 257.3 402.9 259.3 402.9 261.3 401.6 263.3 402.9 265.3 402.9 267.3 402.9 269.3 402.9 271.3 401.6 273.3 402.9 275.3 402.9 277.3 402.9 279.3 402.9 281.3 401.6 283.3 402.9 285.3 402.9 287.3 402.9 289.3 402.9 291.3 401.6 293.3 402.9 295.3 402.9 297.3 402.9 299.3 402.9 301.3 401.6 303.3 402.9 305.3 402.9 307.3 402.9 309.3 402.9 311.3 401.6 313.3 402.9 315.3 402.9 317.3 402.9 319.3 402.9 321.3 401.6 323.3 402.9 325.3 402.9 327.3 402.9 329.3 402.9 331.3 401.6 333.3 402.9 335.3 402.9 337.3 402.9 339.3 402.9 341.3 401.6 343.3 402.9 345.3 402.9 347.3 402.9 349.3 402.9 351.3 401.6 353.3 402.9 355.3 402.9 357.3 402.9 359.3 402.9 361.3 401.6 363.3 402.9 365.3 402.9 367.3 402.9 369.3 402.9 371.3 401.6 373.3 402.9 375.3 402.9 377.3 402.9 379.3 402.9 381.3 401.6 383.3 402.9 385.3 402.9 387.3 402.9 389.3 402.9 391.3 401.6 393.3 402.9 395.3 402.9 397.3 402.9 399.3 402.9 401.3 401.6 403.3 402.9 405.3 402.9 407.3 402.9 409.3 402.9 411.3 401.6 413.3 402.9 415.3 402.9 417.3 402.9 419.3 402.9 421.3 401.6 423.3 402.9 425.3 402.9 427.3 402.9 429.3 402.9 431.3 401.6 433.3 402.9 435.3 402.9 437.3 402.9 439.3 402.9 441.3 401.6 443.3 402.9 445.3 402.9 447.3 402.9 449.3 402.9 451.3 401.6 453.3 402.9 455.3 402.9 457.3 402.9 459.3 402.9 461.3 401.6 463.3 402.9 465.3 402.9 467.3 402.9 469.3 402.9 471.3 401.6 473.3 402.9 475.3 402.9 477.3 402.9 479.3 402.9 481.3 401.6 483.3 402.9 485.3 402.9 487.3 402.9 489.3 402.9 491.3 401.6 493.3 402.9 495.3 402.9 497.3 402.9 499.3 402.9 501.3 401.6 503.3 402.9 505.3 402.9 507.3 402.9 509.3 402.9 511.3 401.6 513.3 402.9 515.3 402.9 517.3 402.9 519.3 402.9 521.3 401.6 523.3 402.9 525.3 402.9 527.3 402.9 529.3 402.9 531.3 401.6 533.3 402.9 535.3 402.9 537.3 402.9 539.3 402.9 541.3 401.6 543.3 402.9 545.3 402.9 547.3 402.9 549.3 402.9 551.3 401.6 553.3 402.9 555.3 402.9 557.3 402.9 559.3 402.9 561.3 401.6 563.3 402.9 565.3 402.9 567.3 402.9 569.3 402.9 571.3 401.6 573.3 402.9 575.3 402.9 577.2 402.9 577.2 668.2 577.2 668.2 575.2 668.2 573.2 668.2 571.2 669 569.2 668.2 567.2 668.2 565.2 668.2 563.2 668.2 561.2 668.2 559.2 669 557.2 668.2 555.2 668.2 553.2 668.2 551.2 668.2 549.2 668.2 547.2 669 545.2 668.2 543.2 668.2 541.2 668.2 539.2 668.2 537.2 668.2 535.2 669 533.2 668.2 531.2 668.2 529.2 668.2 527.2 668.2 525.2 668.2 523.2 669 521.2 668.2 519.2 668.2 517.2 668.2 515.2 668.2 513.2 668.2 511.2 669 509.2 668.2 507.2 668.2 505.2 668.2 503.2 668.2 501.2 668.2 499.2 669 497.2 668.2 495.2 668.2 493.2 668.2 491.2 668.2 489.2 668.2 487.2 669 485.2 668.2 483.2 668.2 481.2 668.2 479.2 668.2 477.2 668.2 475.2 669 473.2 668.2 471.2 668.2 469.2 668.2 467.2 668.2 465.2 668.2 463.2 669 461.2 668.2 459.2 668.2 457.2 668.2 455.2 668.2 453.2 668.2 451.2 669 449.2 668.2 447.2 668.2 445.2 668.2 443.2 668.2 441.2 668.2 439.2 669 437.2 668.2 435.2 668.2 433.2 668.2 431.2 668.2 429.2 668.2 427.2 669 425.2 668.2 423.2 668.2 421.2 668.2 419.2 668.2 417.2 668.2 415.2 669 413.2 668.2 411.2 668.2 409.2 668.2 407.2 668.2 405.2 668.2 403.2 669 401.2 668.2 399.2 668.2 397.2 668.2 395.2 668.2 393.2 668.2 391.2 669 389.2 668.2 387.2 668.2 385.2 668.2 383.2 668.2 381.2 668.2 379.2 669 377.2 668.2 375.2 668.2 373.2 668.2 371.2 668.2 369.2 668.2 367.2 669 365.2 668.2 363.2 668.2 361.2 668.2 359.2 668.2 357.2 668.2 355.2 669 353.2 668.2 351.2 668.2 349.2 668.2 347.2 668.2 345.2 668.2 343.2 669 341.2 668.2 339.2 668.2 337.2 668.2 335.2 668.2 333.2 668.2 331.2 669 329.2 668.2 327.2 668.2 325.2 668.2 323.2 668.2 321.2 668.2 319.2 669 317.2 668.2 315.2 668.2 313.2 668.2 311.2 668.2 309.2 668.2 307.2 669 305.2 668.2 303.2 668.2 301.2 668.2 299.2 668.2 297.2 668.2 295.2 669 293.2 668.2 291.2 668.2 289.2 668.2 287.2 668.2 285.2 668.2 283.2 669 281.2 668.2 279.2 668.2 277.2 668.2 275.2 668.2 273.2 668.2 271.2 669 269.2 668.2 267.2 668.2 265.2 668.2 263.2 668.2 261.2 668.2 259.2 669 257.2 668.2 255.2 668.2 253.2 668.2 251.2 668.2 249.2 668.2 247.2 669 245.2 668.2 243.2 668.2 241.2 668.2 239.2 668.2 237.2 668.2 235.2 669 233.2 668.2 231.2 668.2 229.2 668.2 227.2 668.2 225.2 668.2 223.2 669 221.2 668.2 219.2 668.2 217.2 668.2 215.2 668.2 213.2 668.2 211.2 669 209.2 668.2 207.2 668.2 205.2 668.2 203.2 668.2 201.2 668.2 199.2 669 197.2 668.2 195.2 668.2 193.2 668.2 191.2 668.2 189.2 668.2 187.2 669 185.2 668.2 183.2 668.2 181.2 668.2 179.2 668.2 177.2 668.2 175.2 669 173.2 668.2 171.2 668.2 169.2 668.2 167.2 668.2 165.2 668.2 163.2 669 161.2 668.2 159.2 668.2 157.2 668.2 155.2 668.2 153.2 668.2 151.2 669 149.2 668.2 147.2 668.2 145.2 668.2 143.2 668.2 141.2 668.2 139.2 669 137.2 668.2 135.2 668.2 133.2 668.2 131.2 668.2 130.4 668.2 130.4 629.2 124.6 622.8 124.6 584.9 118.5 577.2 118.5 547.7 110.6 539.1 110.6 522.8 107.3 520.3 107.3 402.9z"/>
<path fill="#0000b5" d="M104.6 396l77.8 0l2 2l4.3 1l21.9 2.9l8.4-1.9l2-2l0.4-2l358.2 0l0 302l-475 0l0-302z"/>
<path fill="#0000c2" d="M104.6 396l68.6 0l1.7 3l6.7 2.7l22 3.4l25 1.5l4-0.8l7.9-4.8l1.8-2l0.7-3l336.6 0l0 302l-475 0l0-302zM126.6 415.4l-0.6 1.6l0.6 1.4l0.8-0.4l0.2-1l-1-1.6z"/>
<path fill="#0000cf" d="M104.6 396l62.2 0l0.6 2l1.1 1l13.1 4.5l22 4.1l27 2.9l11.6-2.5l11.4-4.4l5.5-3.6l1.3-2l0.3-2l318.9 0l0 302l-475 0l0-302zM124.6 406.3l-1.1 2.7l-0.1 8l1.3 3l2.9 1.7l1.8-2.7l0-3l-1.8-6.5l-3-3.2z"/>
<path fill="#0000dd" d="M104.6 396l15.2 0l2.3 22l2.4 4l3.1 1.9l2.1-1.9l0.9-5l-1.8-9l-2.7-7l-0.3-5l38.4 0l0.4 2.3l1.7 1.7l15.3 5l29 5.6l20 2.6l19.1-3.2l12.9-4.8l23.9-4.2l5.3-2l1.7-3l286.1 0l0 302l-475 0l0-302z"/>
<path fill="#0000ec" d="M104.6 396l12.8 0l0.3 4l2 7l1.4 12l2.5 4.1l4 2.9l2-1.2l1.9-6.8l-1.6-10l-2.2-7l-0.4-5l35 0l0.8 3l2.5 2l15 5l15 2.8l16 4l20 3.1l20-2.7l12-3.5l51.6-7.7l9.8-3l1.3-1l0.8-2l252.5 0l0 302l-475 0l0-302z"/>
<path fill="#0000ff" d="M104.6 396l11 0l0.3 4l2.7 8l1.7 12l2.4 4l4.9 4l1 0l1.6-2l2-7l-1.5-11l-1.9-7l-0.3-5l32.1 0l0.8 3l2.3 2l16.7 6l15.2 2.7l17 5.3l19 3.5l20-1.9l16-3.3l58-7.6l41.7-3.7l14.3-2.8l1.5-1.2l0.6-2l195.9 0l0 302l-415.4 0l-0.2-60l-5.2-22l-1.2-2.7l-2-1.8l-2 2l-1 3.5l-1.3 19l1.3 34l0.1 28l-48.1 0l0-302z"/>
<path fill="#1515ff" d="M104.6 396l9.4 0l0.3 4l3.1 8l2.2 13.5l4.2 5.5l2.8 2.3l2 0.5l2-2.1l2.3-8.7l-3.5-23l29.6 0l0.8 3l2.3 2l15.5 6.1l19 3.8l16 6.2l17 3.9l4 0.3l22-1.2l26.4-5.1l41.6-5.1l35-1.7l25-2.5l8-1.9l6.8-2.8l2.2-2l0.6-3l178.4 0l0 302l-412.6 0l-0.2-59l-1.7-19l-2.5-9.9l-5-11.1l-2-2.7l-1-0.1l-2 2.4l-2.3 5.4l-1.7 6.2l-0.8 6.8l-0.2 21l2 32l0.1 28l-45.1 0l0-302z"/>
<path fill="#3232ff" d="M104.6 396l7.4 0l0.5 4l3.7 8l2.6 15l4 5l3.8 2.9l2 0.4l1.7-1.3l1.1-2l2.1-9l-3.2-23l27.2 0l0.2 2l1.4 2l5.5 3.1l15 5.4l17.9 3.5l15.1 7.2l18 4.6l28 1.6l29.5-7.4l32.5-4.6l8-0.7l31 0.6l27-2.9l14-3.2l8-2.6l3-3.1l0.7-5.5l167.3 0l0 302l-26 0l-0.1-32l-1.6-5l-2.3-2.2l-2 0.8l-1 1.5l-1.4 4.9l-0.1 32l-376.2 0l-0.4-59l-1.6-24l-3.3-14.6l-5-12.9l-3-3.8l-3 1.5l-4 5.9l-1.3 5.9l-1.7 16l-0.1 24l1.7 34l0 27l-42.6 0l0-302z"/>
<path fill="#5050ff" d="M104.6 396l4.9 0l0.6 4l4.5 7l2.5 15l1.5 4.2l2.9 2.8l6.1 3.7l2-0.3l1.8-2.4l2.6-10l-2.9-24l25.1 0l0.5 3l2.2 2l13.9 6l6.8 2.2l17 3.4l16 8.8l18 5.1l20 2.8l10 4.7l14-5.7l22.9-7.3l19.5-4l11.6-1.1l33 2.6l24-2.6l26-4.9l4-2l6.7-5l0.7-2l0.1-6l156.5 0l0 302l-21.5 0l-0.5-40l-1.6-6l-3.4-0.8l-3 0.4l-2 1.4l-2 3.6l-1.9 6.4l-0.5 35l-372.6 0l-0.5-59l-1.6-26l-1.9-12.7l-4-17.9l-4-8.3l-3-2.2l-3 1.9l-4 5.7l-2 5.9l-1.5 9.6l-1.2 20l0 20l1.4 36l0.1 27l-40.8 0l0-240.2l3-2.2l1.4-3.6l-1.4-3.7l-3-1.4l0-50.9z"/>
<path fill="#7272ff" d="M131.8 396l23.3 0l0.4 3l1.1 1.4l8 4l12 4.7l20 4.3l4 2.1l10 7.5l15.4 5l21.6 9.3l5.9 3.7l4.1 6.6l2 1.6l2-0.8l8-7.7l12-6.5l24-9.5l18-4.9l6-0.2l32 4.3l23-1.2l23-4.5l7 1.5l2-0.1l12-6l6-5.4l1.7-4.2l0.2-8l143.1 0l0 208l-2 0.5l-2 1.5l-6 8.7l-6 6.5l-18.6 29.8l-3.8 15l-0.1 32l-368.8 0l-0.1-29l-1.4-46l-5.2-48.1l-2-5.7l-11.4-11.2l-4.6-6.3l-1 0.6l-0.7 2.8l1.5 14l-3.5 20l-1.4 26l1.3 83l-39.2 0l0-231.1l2-0.9l2-2.4l2-5.7l1.3-6.9l-2.3-12l-2-2.6l-3-0.9l0-36.9l7 6.3l2 3.1l2.3 17l1 3l2.2 2l5.8 3l3.7 1.1l2-1.1l1.3-2l2.7-11l-2.8-24zM575.3 634l4.3-0.9l0 64.9l-14.4 0l0.5-52l1.1-3l2.6-4l5.9-5z"/>
<path fill="#9090ff" d="M132.5 396l21.5 0l1 4l2.6 2l16.7 7l22.3 5.3l4.4 2.7l7.6 7.3l13.1 5.7l1.5 2l2.4 8l8 6.6l2.5 4.4l-0.4 2l-1.1 1.6l-8 4.8l-2.5 3.6l0.2 3l5.3 15.5l2 3.1l3 2.5l14 7.2l2-0.7l1-1.7l6.5-17.9l7.5-13.2l4-5.4l7-6.9l6-5.2l5.4-3.3l18.2-9l15.4-5.5l7-1.1l31 5.1l24 1.7l24-3.3l3 1l4 3.2l2 0.2l12-7.8l7-10.1l3.6-8.4l0.5-10l139.9 0l0 183.5l-2 1.3l-1 1.6l-4.8 11.6l-5.2 8.8l-4.9 10.2l-11.1 16.7l-4 8.4l-3.6 9.9l-4.9 18l-0.2 32l-363.9 0l-1-62l-1.1-22l-3.7-43l-2.4-6l-6.9-9l-5.3-11.6l-4-6l-2-1.5l-2 1.6l-1 3.2l-1.7 12.3l1.2 16l-2.1 22l-0.9 26l1.3 80l-37.8 0l0-225.1l3-1.8l3-6.1l2.7-13l-0.1-12l1.4-5.6l1.8-1.4l2.2-0.1l10 2.5l2.5-1.4l2.1-4l2.1-11l-2.8-23zM104.6 405l0-0.5l1 0.1l4 1.4l2 1.7l1.1 2.3l1.3 7l0 5l-1.2 4l-2.2 1.5l-6 0.2l0-22.7zM576.9 642l2.7-0.6l0 56.6l-6.8 0l0.2-50l1.5-4l2.4-2z"/>
<path fill="#adadff" d="M133.2 396l19.9 0l0.3 3l1.4 2l14.8 7l8 2.6l14 2.7l6 2.3l3.1 2.4l4.9 7l8.1 5l0.9 3l-2.1 8l1 2l7 8l0.3 2l-2 7l-0.2 4l9 27.1l3.6 5.9l4.3 4l3.1 1l9 0.7l4-0.8l3.3-2.9l6.2-17l7.5-13l8.2-10l24.2-18l10.6-5.5l12-5l3-0.7l4 0.4l29 7l25 4.3l23 0.5l2 1.3l4.5 5.7l2.5 1.2l6.6-3.2l5.4-4.5l1.8-4.5l2.9-12l13.4-21l0.6-9l132.3 0l0 158.4l-2 1.3l-2 3.4l-6.8 21.9l-12.3 29l-8.9 14.8l-4.3 10.2l-5.1 18l-4.8 13l-0.2 32l-357.5 0l0-27l-1-33l-3.9-68l-2.3-7l-5.3-9l-7.6-24.4l-3-3.8l-5-2l-2 1.5l-2 5.3l-2.8 23.4l1.1 16l-1.5 25l-0.5 41l1.1 35l0 27l-36.4 0l0-219.9l2-0.6l1.5-1.5l2.5-5.6l3.9-18.4l0.6-10l1.2-4l1.3-1.4l3-0.9l9 0.9l2.2-1.6l2.1-4l1.5-6l0.5-6l-2.3-15.7l-0.4-7.3zM160.6 477.3l-0.6 3.7l1.6 2.5l1.8-1.5l0.5-2l-1.3-2.4l-2-0.3zM104.6 409l2-0.2l3 0.8l2 3.2l0.9 7.2l-0.9 2.3l-2 1.5l-5 0.2l0-15z"/>
<path fill="#cbcbff" d="M134 396l18.1 0l0.8 4l2.7 2.4l16 7.1l20.1 4.5l4.9 2l2.8 2l3.6 7l4.2 6l-1.2 8l0.1 3l6.1 11l1.3 12l5.9 14l3.3 18l2.9 5.1l3 3.6l4 2.9l4 1.2l12-1.2l4-1.8l4.7-5.8l6.3-13.6l10.3-15.4l5.9-7l6.8-5.7l11.8-7.3l10.2-7.7l14-7.2l4-1.2l5 0.7l37 11.4l16 6.9l18 5.1l5 2.8l6 5.7l2 0.8l3 0l10-2.5l3.3-2.8l2-4l1.5-6l0.5-21l0.7-3.6l2-2.2l4-2.6l7-3.8l3-0.8l4 0.7l1.5 1.3l3.3 12l10.1 18l0.7 4l0.3 23l1.3 5l2.2 5l2.6 3.7l3 2.3l15.6 6l2.4 0.4l2-1.3l9-10.2l2.8-4.9l1.7-5l0.1-4l-2.9-22l-1.7-23l-1.3-2l-3-2l-11.7-3.9l-16-7.8l-15-3.7l-1.2-1.6l-0.8-3l-0.2-11l118.2 0l0 126.7l-4 1.9l-2.7 4.4l-4.2 27l-5.5 22l-11.6 29l-10 20l-5.4 21l-6.3 16l-0.6 5l0 29l-351.7 0l0-28l-4-78l-0.2-22l-1.4-7l-3.8-10l-6.8-37l2.7-14l4.8-13l1.4-9l-1.2-3l-8.9-12l-4.6-3.7l-3-0.7l-3 1.1l-1.6 2.3l0.2 3l3.8 11l0.2 5l-3 15l-7.4 23l-2.7 32l0.9 17l-1.3 66l0.9 62l-35 0l0-217.2l4-1.5l2-3.7l5.4-24.6l0.9-8l1.1-3l3.6-2.1l9-0.2l2.8-2.7l1.7-4l1.1-5l0.5-7l-2.1-12.6l-0.6-10.4zM104.6 416l0-0.7l4 0.4l1.2 1.3l-0.2 2l-2 0.9l-3 0.1l0-4z"/>
<path fill="#e9e9ff" d="M134.8 396l16.2 0l0.8 4l3.7 3l16.1 7.2l21 4.8l4.2 2l2.1 2l4 11l-0.5 13l3.9 11l2.9 18l3.1 11l2.3 14l10 17.4l3 2.8l5 1.6l3 0.3l16-6.1l6-7l20.3-30l7.9-9l5.8-4.5l13.4-7.5l13.6-9.5l6-3l4-0.4l12.8 3.9l28.2 10.9l14 8.2l12 6.1l3.4 2.8l2.9 4l7.7 20.7l2 3.1l3 2.3l3 0.6l13-0.5l3.1 1.8l6.7 7l2.2 1l17-0.6l17-2.5l10 1.5l9.1 3.6l6.5 6l3.4 6l1.7 8l1.4 19l1.9 5.9l2 1.6l3-1.7l6.3-6.8l7.9-25l-2.5-11l-6.5-15l5.2-16l2-9l-0.7-50l-2.9-8l-1.8-2.2l-3-1.9l-8-2.2l-12 2.2l-3-0.6l-4-2l-5.6-5.3l-2.2-3l-0.7-9l95.5 0l0 113.9l-4 0.8l-3 2.1l-2.7 3.2l-1.9 4l-2 9l-2.1 26l-5.6 23l-8.7 21.4l-6 11.3l-4 9.3l-6.1 26l-6 15l-1.1 6l0 31l-48 0l-0.2-30l-1.6-2.9l-3-0.7l-10.5 1.6l-4.9 2l-0.6 3l0 27l-278 0l-0.1-28l-3.8-77l0.3-24l-2.1-16l1.1-15l-2.6-21l3.3-20l0.2-15l-1-3l-9.2-13l-12.1-10.2l-5-1.4l-3 1.2l-2 6.5l-0.1 6.9l1.2 12l-5.1 33.4l-1.8 38.6l0.8 18l-1.2 67l0.7 60l-33.5 0l0-215.3l4-1.1l2.6-3.6l3.5-18l4.8-18l3.1-2.2l9-0.9l2.5-1.9l2.2-4l1.1-5l0.1-8l-2.1-13l-0.6-11z"/>
<path fill="#fff3f3" d="M135.9 396l13.7 0l1 4l4 3.3l17 7.5l20 4.6l3.7 1.6l2.3 2l2.9 11l-0.7 13l1.7 11l1.9 24l5 21l2.8 6l11.7 19l3.7 3.9l7 4.2l2 0.3l2-1.1l14-12.6l6.4-8.7l12.7-14l13.1-19l6.8-7.2l4-2.8l16-7.9l14-10l4-0.6l33 12.4l25.1 16.1l3.8 5l4.5 9l8.3 24l3.1 6l2.5 3l6.7 2.8l13 10.2l3.3 5l3.9 11l1.8 2.4l2 0l1.3-1.4l4.2-11l3.5-5.1l3-2l11-4.3l11-8.8l4-1l6 0.7l4 1.3l4 2.5l3 2.8l1.8 4l5.2 16.8l7 27l2 3.1l2 0.9l3-0.9l3-2.9l7.4-11l4.6-9.2l7-26.8l-1.2-27l4.7-26l2-7l2.5-5.4l2-2.5l5.6-4.1l1.8-3l-0.4-3l-4.8-9l-4-13l-6.2-5.7l-2.7-5.3l-2.8-12l-0.4-11l45.9 0l0 94l-8 0.7l-6 1.7l-3 2.7l-2.3 4.9l-0.6 4l0.9 25l-1.2 27l-5 21l-3.1 9l-3.7 7.3l-6 7.8l-2.7 5.9l-3.9 13l-4.8 24l-5.1 13l-1.6 10l0 31l-35.1 0l-0.5-34l-1.3-3.2l-2-2.4l-3-1.7l-4-0.7l-21 4.7l-4 2l-2.3 2.3l-0.9 4l0 29l-267.9 0l-0.1-27l-3.2-55l-0.5-25l1.3-37l3-28l3.6-11.4l0.1-19.6l-2.2-14l-1.8-3l-6.1-3.4l-6.1-9.6l-8.9-5.2l-6-6.6l-10-3l-1.6 0.8l-0.6 3l-4.5 64l-1.2 36l0.8 17l-0.5 46l-1 23l0.2 58l-31.6 0l0-213.4l4-1l3-3.6l4-19.9l5.9-17.1l3.1-1.7l7-0.7l5.6-1.6l2.4-2l0.8-6l-4-23l-0.5-12zM493.5 396l10 0l-0.1 6l-1.2 3l-3.6 1.8l-3.9-1.8l-1.1-2.4l-0.1-6.6z"/>
<path fill="#ffd4d4" d="M137.8 396l9.4 0l1.5 4l4.9 3.5l6.9 2.5l9.9 5l19.2 4.4l4 1.6l2.6 2l1.3 3l1 8l-1.1 17l-1.8 9l-3.8 14l-1.2 2.2l-2 0.5l-4-1.2l-8-0.6l-2-1.8l-4-6.3l-9-4.5l-7-7.1l-8-2.7l-2.5-2.5l-1.3-4l-0.3-12l-2.3-7l-2.6-14l0.2-13zM538.8 396l40.8 0l0 40.2l-3-0.4l-3-1.6l-9-7.1l-8-5l-7-6.3l-8-4.5l-2.4-5.3l-0.4-10zM125.2 443l8.4-0.8l4 1.1l2.2 2.7l1.1 6l-0.3 14l-1.6 15l-2 36l-1.1 37l0.8 17l-0.5 45l-0.7 13l-1.6 12l-1 57l-28.3 0l0-211.6l4-0.9l3.2-3.5l1.4-4l3.4-18.1l5.2-13.9l1.5-2l1.9-1zM325.2 458l2.4-0.6l2 0.5l17.5 7.1l12.5 6.9l10.8 8.1l15.2 15.7l7.1 21.3l5.3 10l6.6 6.6l9 5.9l8 7.4l5 5.5l6 8.5l4 3.4l3 0.4l3-1.7l3-3.9l4-8.2l3-2.8l11-4l11-6.2l2-0.2l2.7 1.3l4.3 4.5l5.6 10.5l5.4 6.2l3 4.5l3 6.4l5.6 15.9l2.4 2.7l3 0.9l4-0.1l4-1.2l8.9-5.2l5.4-11l2-7l5.3-28l2.9-35l2.5-7.6l1-1l1 0.4l2 5.3l4.5 25.9l0.7 29l-5.2 23l-2 5.3l-3 3.3l-10 2.3l-1.2 1.1l-1.3 3l-4.7 36l-5.8 21l-2.4 14l-0.2 34l-26.6 0l-0.3-49l-0.9-2l-1.6-0.9l-6-1l-4 0.8l-25 10.5l-5 3l-2.7 2.6l-1.5 3l-0.4 3l0 30l-262.8 0l0-28l-3.6-56l0.1-22l1-22l3.5-34l1.4-5.2l4.4-8.8l2.2-6l3.4-28.2l1-0.8l1 0.5l4 6.4l1 4.1l0.9 12l1.2 4l5.9 4.9l6.2 10.1l6.3 7l7.5 5.7l3 1.2l2 0l4.3-2.9l3.7-3.7l9-12.8l6-10.5l9.8-7l7.2-7.6l12.5-18.4l3.5-4l3-2.2l16-6.3l14.6-9.5z"/>
<path fill="#ffb4b4" d="M568.7 396l10.9 0l0 18.4l-4.1-1.4l-5.3-6l-1.4-4l-0.1-7zM142.5 400l2.1 0.2l15 6.1l11 5.5l19 4.3l4 1.9l1.8 2l1.3 10l-1.9 16l-1.4 3l-4.6 5l-4.6 8l-4.3 4l-3.3 0.5l-5-5.7l-9-3.9l-7-6.7l-7-2.5l-3.1-2.7l-1.4-4l-0.5-11.9l-2.8-8.1l-2-13l0.8-4.7l2.9-3.3zM128.1 444l5.5 0l3 1.1l2.2 2.9l1 6l-0.1 11l-1.7 15l-1.8 37l-1 37l0.8 17l-0.5 43l-0.9 12l-2 8.7l-4 5l-4 0.8l-20 0l0-152.3l4.5-1.2l2.9-3l1.8-5l3.1-17l5.1-13l2.6-3.6l3.5-1.4zM324.4 471l2.2-0.8l3 0.8l14.3 8l4.7 3.7l7.2 8.3l9.7 17l6.8 9l11.3 9.2l7 9.7l5 5.1l10 8l8 4.6l8.8 9.4l10.2 8.6l6 2l6-1.2l3.7-2.4l5.3-6l4-3.1l8-4.2l5-1.1l10 4.6l4 2.7l5 5.1l3.8 6l2.2 6l2.2 15l0 5l-0.8 4l-1.4 2l-3 1.9l-2 2.3l-2.4 6.8l-3.6 5.8l-3.8 8.2l-5.1 7l-4.1 3.7l-9.4 6.3l-12.6 7.4l-4 4.7l-2.3 6.9l-0.1 31l-258.2 0l-0.1-28l-3.6-59l2-42l2.3-19.8l2.2-9.2l6.8-6.2l3-1.3l3-0.3l4 2l17.8 13.8l9.2 2.6l4-0.6l11-10l13-24.7l3-2.2l9-4.1l4-3l7.9-9l10.1-14.5l3-1.7l18-4.9l9.8-4.9zM547.6 525l1 0.2l1.2 3.8l2 24l-1.2 5.9l-3 4.9l-1.1-1.8l-0.8-8l0.7-24l1.2-5zM508.5 603l3.1-0.6l5 0.7l3 1l2 1.9l2.1 6l-0.4 14l-9.1 37l-0.3 35l-10.8 0l0.1-32l2.4-19l-0.6-2l-2.8-4l-10-10l-1.3-5l0.9-5l2.1-4l4.7-5l3.1-5l6.8-4z"/>
<path fill="#ff9696" d="M143.3 403l2.3-0.3l4 0.7l10 3.5l10 5.2l20 4.7l4.4 3.2l1 10l-0.8 10l-1.1 4l-2.5 3.7l-7.9 5.3l-5.1 7.2l-2 0.1l-3-1.9l-8-2.4l-3-1.8l-5-4.8l-7-2.7l-3.2-2.7l-1.3-4l-0.4-11l-3.1-9l-1.4-10l0.4-4l2.7-3zM126.9 446l4.7-0.6l4 1l2.6 3.6l0.7 5l0.1 9l-1.8 16l-1.8 37l-0.9 37l0.8 17l-1 49l-2.1 10l-1.6 2.8l-2 1.6l-5 1.1l-19 0.1l0-145.6l5-1.3l3-3.4l1.8-5.3l3.4-18l5.6-13l3.5-3zM322 487l4.6-0.5l3 1.4l7.3 6.1l4 5l6.8 17l9 35l1.1 3l1.8 2.3l3 0.2l16-5l6-0.2l13.4 9.8l13.6 7l7 7.1l8 5.5l5 2.2l16 3.5l2 0.1l2-1l12-12.1l3-2.1l4-1.5l7-0.2l3 0.7l3 2.3l3.5 4.5l1.3 5l-0.7 15l-3 8l-5.3 9l-5.5 15l-3.3 4.1l-7 5.3l-5.8 6.6l-11.2 8.1l-2.9 3.9l-2.9 6l-1 5l0 30l-96.7 0l0-23l-1.1-4l-14.4-11.5l-3-1l-6-0.1l-22 0.1l-2 0.6l-2 1.9l-4.1 7l-1.5 4l-0.2 26l-99.8 0l-0.1-28l-3.7-57l2.9-39l1.5-9.3l2-5.3l10-8.6l4-1.6l3 0.7l6.8 4.1l6.2 2l13 0l3.7-1l9.3-8.9l4-5.1l4-7.7l4.2-11.2l2.8-4.2l13.4-5.8l5.6-3.2l4.1-3.8l10.9-12.5l27.4-5.5zM509.6 620l2-0.3l1 0.9l2.4 6.4l-0.5 4l-2.9 3.3l-2-0.2l-1.8-1.1l-3.2-4l0.6-3l4.4-6z"/>
<path fill="#ff7a7a" d="M143.5 405l3.1-0.8l4 0.4l8 2.5l11 5.6l16 3.5l6.1 2.8l1.4 3l0.3 8l-1.1 10l-1.8 4l-15.9 10.7l-5 0.7l-5-1.5l-8-5.9l-8-3.5l-2.2-3.5l-0.7-12l-3.6-12l-0.6-8l0.4-2l1.6-2zM129.4 447l4.2 0.3l3 2l1.2 3.7l0.4 7l-1.8 20l-1.7 36l-0.8 39l0.7 17l-1 45.9l-2 8.6l-2 3.5l-2 1.6l-5 1.3l-18 0l0-141l5-1.3l3.4-3.6l2.1-6l3.8-19l5.5-12l2.2-2l2.8-1zM295.1 502l9.5 0.3l12 1.4l7 2l3 2.4l4.4 7.9l3.5 12l2.4 26l2.8 11l3.2 6l3.6 3l4.1 2.2l6 2l4 0.5l22-3.6l3 0.1l24 9l9 6.5l30 12.3l2-0.2l2-1.5l5.7-9.2l6.3-6.3l13-4l2 0.2l0.9 1.1l2.1 9l-0.5 5l-1.5 2.9l-6.9 8.1l-6.1 14.7l-3 4l-8.3 8.3l-5.6 9l-7.7 7l-8.8 12l-1.1 5l0 30l-61 0l-0.1-24l-1.7-4l-12.7-13.1l-14.2-10.9l-15.8-8.1l-9-0.7l-23 0.2l-3 1.5l-4.5 5.1l-14.4 27l-0.5 27l-83.8 0l0-28l-3.9-56l3.1-30.6l2-11.3l1.5-4.1l5.5-5.8l7-3.7l18 1.2l12-0.9l4.1-1.8l6.9-6.1l6-7.6l2.5-5.2l3.8-12l2.7-4.6l2-1.4l11-3.5l8-3.7l5.3-3.8l5.7-5.7l2.5-1.3z"/>
<path fill="#ff5c5c" d="M145.2 406l4.4-0.6l7 1.8l12 5.8l16 3.6l5.4 2.4l1.6 3l0.2 8l-1.2 8l-1.9 4l-16.1 10l-3 1.1l-4-0.8l-8.1-5.3l-7.9-3.3l-2.2-3.7l-0.6-11l-3.7-12l-0.2-8l0.9-2l1.4-1zM128 449l4.6-0.3l3 1.5l1.2 2.8l0.5 8l-1.7 19l-1.6 35l-0.8 40l0.7 17l-1.1 44l-2.6 9l-1.6 2.5l-3 2.1l-4 0.8l-17 0l0-136.7l5.9-1.7l3.1-3.4l2.2-6.6l3.8-19l5.2-11l3.2-3zM294.1 511l4.5 0.5l8 3l4 2.5l3.5 4l2.8 5l1.3 4l0.1 9l-0.9 7l-3.2 14l-3.8 9l-3.8 4.1l-10 5.5l-2 2.3l-3 12.1l-4.9 35l-13.6 18l-8.5 16.1l-2.1 8.9l-0.1 27l-70.2 0l-0.1-28l-3.9-56l3.4-24.7l2.4-9.2l3.2-8l3.4-4.4l5-3.3l28-2.5l7.1-2.8l5.9-4.6l6-7.3l2-4.4l4-13.9l2.2-3.8l2.8-1.5l9-1.9l7-2.2l14.5-8.4zM374.5 594l8.1-0.7l3 0.4l25 9.3l19 13l12 4.1l3 2.8l2 3.1l0.4 4l-6.3 13l-2.1 2l-8 4.4l-2 2.7l-1.6 3.9l-1.6 10l0 32l-32.5 0l-0.1-25l-2-5l-14.2-12.5l-14.9-16.5l-15.6-9l-2.6-3l0.1-15l2-4l4-5l5-4.2l5-2.6l14.9-2.2z"/>
<path fill="#ff3c3c" d="M146.8 407l3.8-0.4l6.5 1.4l11.5 5.7l15 3.3l4.6 2l1.7 3l-0.1 7l-1.3 6l-2.4 5l-3.5 3l-12 7l-2 0.6l-4-1.1l-7-3.9l-7-2.8l-1.8-2.8l-0.9-11l-3.7-12l0.2-7l0.9-2l1.5-1zM127.8 451l3.8-0.7l3 1.2l1.1 2.5l0.6 8l-1.5 17l-1.6 36l-0.7 40l0.6 17l-1.3 43l-2.2 7.3l-2 2.9l-2.4 1.8l-3.6 0.9l-17 0l0-132.3l6-1.6l3.8-4l2.6-8l3.5-18l5.1-10.2l2.2-2.8zM292.4 522l3.2 0.5l5.1 5.5l1.1 4l-0.2 7l-1.2 4l-6.8 12.9l-2 5.3l-4.3 15.8l-4.8 24l-6.8 22l-2.9 6l-8.2 10.6l-2 4.7l-2.2 24.8l-0.1 29l-65.3 0l-0.1-28l-3.6-55l4.8-24l6.5-16l2.8-4l3.5-2l27.7-5l5-2.1l5-3.2l4-3.7l3-4l2-4.8l4-14.7l2.4-3.5l20.6-2.6l9.8-3.4zM381.7 621l2.9-0.8l4 1.5l4.9 4.3l1.4 3l-0.5 3l-2.6 5l-2.8 4l-2.4 2l-2-0.1l-1-0.9l-8.7-13l0.3-2l1.4-2l5.1-4zM412 665l1.6-0.5l1.3 3.5l0.2 30l-5.5 0l0.1-25l0.9-5l1.4-3z"/>
<path fill="#ff1f1f" d="M148.5 408l3.1-0.2l6 1.3l10 4.9l14 3.2l5.7 2.8l0.7 3l-1.1 7l-2.7 6l-2.9 4l-10.7 6.8l-3 0.9l-4-1l-12-5l-1.4-2.7l-0.9-10l-3.8-11l0.5-7l1-2l1.5-1zM128.9 453l2.7-0.4l2 1.4l1.2 9l-2.5 50l-0.6 41l0.6 18l-1.6 42l-2.1 6.5l-4 4.2l-3 0.6l-17 0.1l0-127.5l7-2.2l3.7-3.7l2.9-8l3.9-20l6.8-11zM262.1 534l2.5-0.7l7 1.3l5 1.6l4 2.5l1.6 3.3l0 11l-2.3 26l-2.8 14l-4.5 12.6l-9 18.4l-2 7.3l-2.1 25.8l-0.5 41l-61.2 0l0-28l-2.1-53l1.1-7l4.8-20l5-9.3l9.3-7.7l6.6-3l19.1-4.8l5-2.4l5.2-3.8l1.8-2l2-4l4-14.7l2.5-4.2z"/>
<path fill="#ff0000" d="M149.1 410l2.5-0.8l5.6 0.8l9.4 4.4l15 3.6l3.6 2l0.6 3l-1.4 5l-2.8 5.6l-3 3.8l-5.6 4.6l-5.4 2.7l-4-0.3l-10-3.5l-1.3-1.9l-1.4-10l-3.8-10l0.2-5l1.8-4zM129 459l1.6-0.1l1 1.3l1 5.8l-1.6 48l-0.2 40l0.6 19l-2 41l-1.9 5l-1.9 2.3l-2 1.2l-19 0.3l0-121.6l3-0.6l5-2.5l4.4-4.1l3.8-10l3.1-18l1.5-3l3.6-4zM261.6 544l2-0.6l1.9 1.6l2.8 4l2.2 5l2.5 24l-2.7 14l-7.7 16.9l-2 9.9l-2 32.2l-0.6 47l-56.9 0l-0.5-81l5.2-23l1.8-3.3l4-4.3l13.3-10.4l7.1-4l13.6-4.6l8-4.3l2.7-4.1l5.3-15z"/>
<path fill="#ec0000" d="M150.9 412l2.7-0.8l4 0.3l10 4l14 3.5l1.9 2l-0.9 4.2l-5 7.5l-9 8.2l-4 1l-6.6-1.9l-1.8-1l-1.5-2l-2.1-8l-3.7-9l-0.1-4l2.1-4zM128.1 476l0.5-0.7l0.9 1.7l0.2 3l-2.1 11.1l-0.8-9.1l1.3-6zM124.4 497l2.2-0.1l1 3.2l1.1 13.9l1.6 57l-0.7 21.8l-1.7 20.2l-1.3 4.2l-3 2.7l-19 0.4l0-115.1l12-3.9l7.8-4.3zM260.5 563l1.1 0.4l1 2l3.4 13.6l-2.2 11l-3.2 10.5l-1.5 11.5l-2 52l-0.2 34l-51.3 0l0.3-80l0.7-5l2.8-8l5.5-11l6.9-7l12.8-8.8l20-9.1l5.9-6.1z"/>
<path fill="#dd0000" d="M155.4 413l4.2 0.3l9 3.2l9.9 2.5l2.4 2l-0.3 2l-5 6.4l-7 6.4l-4 2l-4-0.7l-3.3-3.1l-6.6-14l-0.1-2.8l1-2l3.8-2.2zM110.6 508l3-0.2l3 1.4l2.5 2.8l2.2 5l3.1 14l4.2 32l0.2 17l-2.6 32l-1.4 4l-3.2 1.6l-17 0.1l0-108.6l6-1.1zM248.7 582l3.9-0.2l3 1.2l1.4 2l0.9 5l-2.1 77l-0.1 31l-45.1 0l0.1-60l2.7-23l6.6-14l6.5-9l9.1-6.5l13.1-3.5z"/>
<path fill="#cf0000" d="M155.5 415l3.1-0.6l3 0.6l14.7 5l0.7 2l-7.4 7.7l-5 2.8l-3 0.3l-3-2.3l-5.6-9.5l-0.3-3l2.8-3zM105.2 513l7.4-0.1l2 1.3l1.8 2.8l7.6 37l3.6 13l-0.4 13l-3.6 28.5l-1 3.7l-2 1.2l-16 0.1l0-100.4l0.6-0.1zM237 593l12.6 0.5l2.4 2.5l1.8 6l1.2 14l-1.1 82l-38.3 0l0-58l1.7-12l3-12l4.7-10l6.6-9.3l3-2.7l2.4-1z"/>
<path fill="#c20000" d="M157.8 416l3.8 0l6 2l4 2l0.5 2l-2.7 3l-3.8 2.5l-3 1.1l-2-0.4l-3.1-3.2l-2.7-5l0.3-2l2.7-2zM104.6 518l6 0l2 1.5l1 1.8l2.3 7.8l6.1 29l3.8 10l-0.1 7l-2.1 9.8l-2 5.2l-1 1.5l-2 1l-14 0.1l0-74.6zM235.4 603l3.2 0l6 3.8l3.6 4.2l1.9 5l0.7 22l-0.2 60l-30 0l0.3-61l5.9-22l4.8-8.1l3.8-3.9z"/>
<path fill="#b50000" d="M158 418l1.6-0.7l3 0.1l3.8 1.6l1.5 2l-2.7 3l-3.6 1.1l-2-1.1l-2-2.7l-0.3-2.3l0.7-1zM104.6 529l0-0.7l6 0.6l3 4.8l5.6 21.3l0 13l-1.6 1.9l-13 0.4l0-41.2zM234.7 613l2.9-0.2l3.6 4.2l2.2 7l1.7 10l0.5 64l-20 0l0.2-60l5.5-19l3.4-6z"/>
<path fill="#a80000" d="M160.4 420l1.2-0.8l1.8 0.8l-0.2 1l-1.6 0.5l-1.2-1.5zM235.3 627l1.3 0.1l2 3.7l1.9 9.2l-1.3 25l-1.6 6.6l-2 2.6l-2-2.6l-1.5-5.6l-1.4-25l1.1-7l1.8-4.7l1.7-2.2z"/>
<path fill="none" stroke="#fff" stroke-width="4.8" stroke-linejoin="round" d="M149.6 396l1 4l4 3.3l17 7.5l20 4.6l3.7 1.6l2.3 2.1l2.9 10.9l-0.7 13l1.7 11l1.9 24l5 21l2.8 6l11.7 19l3.7 3.9l7 4.2l2 0.3l2-1.1l14-12.6l6.4-8.7l12.7-14l13.1-19l6.8-7.2l4-2.8l16-7.9l14-10l4-0.6l33 12.4l25.1 16.1l3.8 5l4.5 9l8.3 24l3.1 6l2.5 3l6.7 2.8l13 10.2l3.3 5l3.9 11l1.8 2.4l2 0l1.3-1.4l4.2-11l3.5-5.1l3-2l11-4.3l11-8.8l4-1l6 0.7l4 1.3l4 2.5l3 2.8l1.8 4l5.2 16.8l7 27l2 3.1l2 0.9l3-0.9l3-2.9l7.4-11l4.6-9.2l7-26.8l-1.2-27l4.7-26l2-7l2.5-5.4l2-2.5l5.6-4.1l1.8-3l-0.4-3l-4.8-9l-4-13l-6.2-5.7l-2.7-5.3l-2.8-12l-0.4-11M503.5 396l-0.6 8l-1.9 2l-2.4 0.8l-2.6-0.8l-2-2l-0.5-8M104.6 484.6l4-1l3-3.6l4-19.9l5.9-17.1l3.1-1.7l7-0.7l5.6-1.6l2.4-2l0.8-6l-4-23l-0.5-12M579.6 490l-8 0.7l-6 1.7l-3 2.7l-2.3 4.9l-0.6 4l0.9 25l-1.2 27l-5 21l-3.1 9l-3.7 7.3l-6 7.8l-2.7 5.9l-3.9 13l-4.8 24l-5.1 13l-1.6 10l0 31M181.5 698l-0.1-27l-3.2-55l-0.5-25l1.3-37l3-28l3.6-11.4l0.1-19.6l-2.2-14l-1.8-3l-6.1-3.4l-6.1-9.6l-8.9-5.2l-6-6.6l-10-3l-1.6 0.8l-0.6 3l-4.5 64l-1.2 36l0.8 17l-0.5 46l-1 23l0.2 58M488.4 698l-0.5-34l-1.3-3.2l-2-2.4l-3-1.7l-4-0.7l-21 4.7l-4 2l-2.3 2.3l-0.9 4l0 29"/>
</g>
<clipPath id="p11"><path d="M810.8 402.9 812.8 402.9 814.8 401.6 816.8 402.9 818.8 402.9 820.8 402.9 822.8 402.9 824.8 401.6 826.8 402.9 828.8 402.9 830.8 402.9 832.8 402.9 834.8 401.6 836.8 402.9 838.8 402.9 840.8 402.9 842.8 402.9 844.8 401.6 846.8 402.9 848.8 402.9 850.8 402.9 852.8 402.9 854.8 401.6 856.8 402.9 858.8 402.9 860.8 402.9 862.8 402.9 864.8 401.6 866.8 402.9 868.8 402.9 870.8 402.9 872.8 402.9 874.8 401.6 876.8 402.9 878.8 402.9 880.8 402.9 882.8 402.9 884.8 401.6 886.8 402.9 888.8 402.9 890.8 402.9 892.8 402.9 894.8 401.6 896.8 402.9 898.8 402.9 900.8 402.9 902.8 402.9 904.8 401.6 906.8 402.9 908.8 402.9 910.8 402.9 912.8 402.9 914.8 401.6 916.8 402.9 918.8 402.9 920.8 402.9 922.8 402.9 924.8 401.6 926.8 402.9 928.8 402.9 930.8 402.9 932.8 402.9 934.8 401.6 936.8 402.9 938.8 402.9 940.8 402.9 942.8 402.9 944.8 401.6 946.8 402.9 948.8 402.9 950.8 402.9 952.8 402.9 954.8 401.6 956.8 402.9 958.8 402.9 960.8 402.9 962.8 402.9 964.8 401.6 966.8 402.9 968.8 402.9 970.8 402.9 972.8 402.9 974.8 401.6 976.8 402.9 978.8 402.9 980.8 402.9 982.8 402.9 984.8 401.6 986.8 402.9 988.8 402.9 990.8 402.9 992.8 402.9 994.8 401.6 996.8 402.9 998.8 402.9 1000.8 402.9 1002.8 402.9 1004.8 401.6 1006.8 402.9 1008.8 402.9 1010.8 402.9 1012.8 402.9 1014.8 401.6 1016.8 402.9 1018.8 402.9 1020.8 402.9 1022.8 402.9 1024.8 401.6 1026.8 402.9 1028.8 402.9 1030.8 402.9 1032.8 402.9 1034.8 401.6 1036.8 402.9 1038.8 402.9 1040.8 402.9 1042.8 402.9 1044.8 401.6 1046.8 402.9 1048.8 402.9 1050.8 402.9 1052.8 402.9 1054.8 401.6 1056.8 402.9 1058.8 402.9 1060.8 402.9 1062.8 402.9 1064.8 401.6 1066.8 402.9 1068.8 402.9 1070.8 402.9 1072.8 402.9 1074.8 401.6 1076.8 402.9 1078.8 402.9 1080.8 402.9 1082.8 402.9 1084.8 401.6 1086.8 402.9 1088.8 402.9 1090.8 402.9 1092.8 402.9 1094.8 401.6 1096.8 402.9 1098.8 402.9 1100.8 402.9 1102.8 402.9 1104.8 401.6 1106.8 402.9 1108.8 402.9 1110.8 402.9 1112.8 402.9 1114.8 401.6 1116.8 402.9 1118.8 402.9 1120.8 402.9 1122.8 402.9 1124.8 401.6 1126.8 402.9 1128.8 402.9 1130.8 402.9 1132.8 402.9 1134.8 401.6 1136.8 402.9 1138.8 402.9 1140.8 402.9 1142.8 402.9 1144.8 401.6 1146.8 402.9 1148.8 402.9 1150.8 402.9 1152.8 402.9 1154.8 401.6 1156.8 402.9 1158.8 402.9 1160.8 402.9 1162.8 402.9 1164.8 401.6 1166.8 402.9 1168.8 402.9 1170.8 402.9 1172.8 402.9 1174.8 401.6 1176.8 402.9 1178.8 402.9 1180.8 402.9 1182.8 402.9 1184.8 401.6 1186.8 402.9 1188.8 402.9 1190.8 402.9 1192.8 402.9 1194.8 401.6 1196.8 402.9 1198.8 402.9 1200.8 402.9 1202.8 402.9 1204.8 401.6 1206.8 402.9 1208.8 402.9 1210.8 402.9 1212.8 402.9 1214.8 401.6 1216.8 402.9 1218.8 402.9 1220.8 402.9 1222.8 402.9 1224.8 401.6 1226.8 402.9 1228.8 402.9 1230.8 402.9 1232.8 402.9 1234.8 401.6 1236.8 402.9 1238.8 402.9 1240.8 402.9 1242.8 402.9 1244.8 401.6 1246.8 402.9 1248.8 402.9 1250.8 402.9 1252.8 402.9 1254.8 401.6 1256.8 402.9 1258.8 402.9 1260.8 402.9 1262.8 402.9 1264.8 401.6 1266.8 402.9 1268.8 402.9 1270.8 402.9 1272.8 402.9 1274.8 401.6 1276.8 402.9 1278.8 402.9 1280.7 402.9 1280.7 668.2 1280.7 668.2 1278.7 668.2 1276.7 668.2 1274.7 669 1272.7 668.2 1270.7 668.2 1268.7 668.2 1266.7 668.2 1264.7 668.2 1262.7 669 1260.7 668.2 1258.7 668.2 1256.7 668.2 1254.7 668.2 1252.7 668.2 1250.7 669 1248.7 668.2 1246.7 668.2 1244.7 668.2 1242.7 668.2 1240.7 668.2 1238.7 669 1236.7 668.2 1234.7 668.2 1232.7 668.2 1230.7 668.2 1228.7 668.2 1226.7 669 1224.7 668.2 1222.7 668.2 1220.7 668.2 1218.7 668.2 1216.7 668.2 1214.7 669 1212.7 668.2 1210.7 668.2 1208.7 668.2 1206.7 668.2 1204.7 668.2 1202.7 669 1200.7 668.2 1198.7 668.2 1196.7 668.2 1194.7 668.2 1192.7 668.2 1190.7 669 1188.7 668.2 1186.7 668.2 1184.7 668.2 1182.7 668.2 1180.7 668.2 1178.7 669 1176.7 668.2 1174.7 668.2 1172.7 668.2 1170.7 668.2 1168.7 668.2 1166.7 669 1164.7 668.2 1162.7 668.2 1160.7 668.2 1158.7 668.2 1156.7 668.2 1154.7 669 1152.7 668.2 1150.7 668.2 1148.7 668.2 1146.7 668.2 1144.7 668.2 1142.7 669 1140.7 668.2 1138.7 668.2 1136.7 668.2 1134.7 668.2 1132.7 668.2 1130.7 669 1128.7 668.2 1126.7 668.2 1124.7 668.2 1122.7 668.2 1120.7 668.2 1118.7 669 1116.7 668.2 1114.7 668.2 1112.7 668.2 1110.7 668.2 1108.7 668.2 1106.7 669 1104.7 668.2 1102.7 668.2 1100.7 668.2 1098.7 668.2 1096.7 668.2 1094.7 669 1092.7 668.2 1090.7 668.2 1088.7 668.2 1086.7 668.2 1084.7 668.2 1082.7 669 1080.7 668.2 1078.7 668.2 1076.7 668.2 1074.7 668.2 1072.7 668.2 1070.7 669 1068.7 668.2 1066.7 668.2 1064.7 668.2 1062.7 668.2 1060.7 668.2 1058.7 669 1056.7 668.2 1054.7 668.2 1052.7 668.2 1050.7 668.2 1048.7 668.2 1046.7 669 1044.7 668.2 1042.7 668.2 1040.7 668.2 1038.7 668.2 1036.7 668.2 1034.7 669 1032.7 668.2 1030.7 668.2 1028.7 668.2 1026.7 668.2 1024.7 668.2 1022.7 669 1020.7 668.2 1018.7 668.2 1016.7 668.2 1014.7 668.2 1012.7 668.2 1010.7 669 1008.7 668.2 1006.7 668.2 1004.7 668.2 1002.7 668.2 1000.7 668.2 998.7 669 996.7 668.2 994.7 668.2 992.7 668.2 990.7 668.2 988.7 668.2 986.7 669 984.7 668.2 982.7 668.2 980.7 668.2 978.7 668.2 976.7 668.2 974.7 669 972.7 668.2 970.7 668.2 968.7 668.2 966.7 668.2 964.7 668.2 962.7 669 960.7 668.2 958.7 668.2 956.7 668.2 954.7 668.2 952.7 668.2 950.7 669 948.7 668.2 946.7 668.2 944.7 668.2 942.7 668.2 940.7 668.2 938.7 669 936.7 668.2 934.7 668.2 932.7 668.2 930.7 668.2 928.7 668.2 926.7 669 924.7 668.2 922.7 668.2 920.7 668.2 918.7 668.2 916.7 668.2 914.7 669 912.7 668.2 910.7 668.2 908.7 668.2 906.7 668.2 904.7 668.2 902.7 669 900.7 668.2 898.7 668.2 896.7 668.2 894.7 668.2 892.7 668.2 890.7 669 888.7 668.2 886.7 668.2 884.7 668.2 882.7 668.2 880.7 668.2 878.7 669 876.7 668.2 874.7 668.2 872.7 668.2 870.7 668.2 868.7 668.2 866.7 669 864.7 668.2 862.7 668.2 860.7 668.2 858.7 668.2 856.7 668.2 854.7 669 852.7 668.2 850.7 668.2 848.7 668.2 846.7 668.2 844.7 668.2 842.7 669 840.7 668.2 838.7 668.2 836.7 668.2 834.7 668.2 833.9 668.2 833.9 629.2 828.1 622.8 828.1 584.9 822 577.2 822 547.7 814.1 539.1 814.1 522.8 810.8 520.3 810.8 402.9z"/></clipPath>
<g clip-path="url(#p11)">
<path fill="#000087" d="M810.8 402.9 812.8 402.9 814.8 401.6 816.8 402.9 818.8 402.9 820.8 402.9 822.8 402.9 824.8 401.6 826.8 402.9 828.8 402.9 830.8 402.9 832.8 402.9 834.8 401.6 836.8 402.9 838.8 402.9 840.8 402.9 842.8 402.9 844.8 401.6 846.8 402.9 848.8 402.9 850.8 402.9 852.8 402.9 854.8 401.6 856.8 402.9 858.8 402.9 860.8 402.9 862.8 402.9 864.8 401.6 866.8 402.9 868.8 402.9 870.8 402.9 872.8 402.9 874.8 401.6 876.8 402.9 878.8 402.9 880.8 402.9 882.8 402.9 884.8 401.6 886.8 402.9 888.8 402.9 890.8 402.9 892.8 402.9 894.8 401.6 896.8 402.9 898.8 402.9 900.8 402.9 902.8 402.9 904.8 401.6 906.8 402.9 908.8 402.9 910.8 402.9 912.8 402.9 914.8 401.6 916.8 402.9 918.8 402.9 920.8 402.9 922.8 402.9 924.8 401.6 926.8 402.9 928.8 402.9 930.8 402.9 932.8 402.9 934.8 401.6 936.8 402.9 938.8 402.9 940.8 402.9 942.8 402.9 944.8 401.6 946.8 402.9 948.8 402.9 950.8 402.9 952.8 402.9 954.8 401.6 956.8 402.9 958.8 402.9 960.8 402.9 962.8 402.9 964.8 401.6 966.8 402.9 968.8 402.9 970.8 402.9 972.8 402.9 974.8 401.6 976.8 402.9 978.8 402.9 980.8 402.9 982.8 402.9 984.8 401.6 986.8 402.9 988.8 402.9 990.8 402.9 992.8 402.9 994.8 401.6 996.8 402.9 998.8 402.9 1000.8 402.9 1002.8 402.9 1004.8 401.6 1006.8 402.9 1008.8 402.9 1010.8 402.9 1012.8 402.9 1014.8 401.6 1016.8 402.9 1018.8 402.9 1020.8 402.9 1022.8 402.9 1024.8 401.6 1026.8 402.9 1028.8 402.9 1030.8 402.9 1032.8 402.9 1034.8 401.6 1036.8 402.9 1038.8 402.9 1040.8 402.9 1042.8 402.9 1044.8 401.6 1046.8 402.9 1048.8 402.9 1050.8 402.9 1052.8 402.9 1054.8 401.6 1056.8 402.9 1058.8 402.9 1060.8 402.9 1062.8 402.9 1064.8 401.6 1066.8 402.9 1068.8 402.9 1070.8 402.9 1072.8 402.9 1074.8 401.6 1076.8 402.9 1078.8 402.9 1080.8 402.9 1082.8 402.9 1084.8 401.6 1086.8 402.9 1088.8 402.9 1090.8 402.9 1092.8 402.9 1094.8 401.6 1096.8 402.9 1098.8 402.9 1100.8 402.9 1102.8 402.9 1104.8 401.6 1106.8 402.9 1108.8 402.9 1110.8 402.9 1112.8 402.9 1114.8 401.6 1116.8 402.9 1118.8 402.9 1120.8 402.9 1122.8 402.9 1124.8 401.6 1126.8 402.9 1128.8 402.9 1130.8 402.9 1132.8 402.9 1134.8 401.6 1136.8 402.9 1138.8 402.9 1140.8 402.9 1142.8 402.9 1144.8 401.6 1146.8 402.9 1148.8 402.9 1150.8 402.9 1152.8 402.9 1154.8 401.6 1156.8 402.9 1158.8 402.9 1160.8 402.9 1162.8 402.9 1164.8 401.6 1166.8 402.9 1168.8 402.9 1170.8 402.9 1172.8 402.9 1174.8 401.6 1176.8 402.9 1178.8 402.9 1180.8 402.9 1182.8 402.9 1184.8 401.6 1186.8 402.9 1188.8 402.9 1190.8 402.9 1192.8 402.9 1194.8 401.6 1196.8 402.9 1198.8 402.9 1200.8 402.9 1202.8 402.9 1204.8 401.6 1206.8 402.9 1208.8 402.9 1210.8 402.9 1212.8 402.9 1214.8 401.6 1216.8 402.9 1218.8 402.9 1220.8 402.9 1222.8 402.9 1224.8 401.6 1226.8 402.9 1228.8 402.9 1230.8 402.9 1232.8 402.9 1234.8 401.6 1236.8 402.9 1238.8 402.9 1240.8 402.9 1242.8 402.9 1244.8 401.6 1246.8 402.9 1248.8 402.9 1250.8 402.9 1252.8 402.9 1254.8 401.6 1256.8 402.9 1258.8 402.9 1260.8 402.9 1262.8 402.9 1264.8 401.6 1266.8 402.9 1268.8 402.9 1270.8 402.9 1272.8 402.9 1274.8 401.6 1276.8 402.9 1278.8 402.9 1280.7 402.9 1280.7 668.2 1280.7 668.2 1278.7 668.2 1276.7 668.2 1274.7 669 1272.7 668.2 1270.7 668.2 1268.7 668.2 1266.7 668.2 1264.7 668.2 1262.7 669 1260.7 668.2 1258.7 668.2 1256.7 668.2 1254.7 668.2 1252.7 668.2 1250.7 669 1248.7 668.2 1246.7 668.2 1244.7 668.2 1242.7 668.2 1240.7 668.2 1238.7 669 1236.7 668.2 1234.7 668.2 1232.7 668.2 1230.7 668.2 1228.7 668.2 1226.7 669 1224.7 668.2 1222.7 668.2 1220.7 668.2 1218.7 668.2 1216.7 668.2 1214.7 669 1212.7 668.2 1210.7 668.2 1208.7 668.2 1206.7 668.2 1204.7 668.2 1202.7 669 1200.7 668.2 1198.7 668.2 1196.7 668.2 1194.7 668.2 1192.7 668.2 1190.7 669 1188.7 668.2 1186.7 668.2 1184.7 668.2 1182.7 668.2 1180.7 668.2 1178.7 669 1176.7 668.2 1174.7 668.2 1172.7 668.2 1170.7 668.2 1168.7 668.2 1166.7 669 1164.7 668.2 1162.7 668.2 1160.7 668.2 1158.7 668.2 1156.7 668.2 1154.7 669 1152.7 668.2 1150.7 668.2 1148.7 668.2 1146.7 668.2 1144.7 668.2 1142.7 669 1140.7 668.2 1138.7 668.2 1136.7 668.2 1134.7 668.2 1132.7 668.2 1130.7 669 1128.7 668.2 1126.7 668.2 1124.7 668.2 1122.7 668.2 1120.7 668.2 1118.7 669 1116.7 668.2 1114.7 668.2 1112.7 668.2 1110.7 668.2 1108.7 668.2 1106.7 669 1104.7 668.2 1102.7 668.2 1100.7 668.2 1098.7 668.2 1096.7 668.2 1094.7 669 1092.7 668.2 1090.7 668.2 1088.7 668.2 1086.7 668.2 1084.7 668.2 1082.7 669 1080.7 668.2 1078.7 668.2 1076.7 668.2 1074.7 668.2 1072.7 668.2 1070.7 669 1068.7 668.2 1066.7 668.2 1064.7 668.2 1062.7 668.2 1060.7 668.2 1058.7 669 1056.7 668.2 1054.7 668.2 1052.7 668.2 1050.7 668.2 1048.7 668.2 1046.7 669 1044.7 668.2 1042.7 668.2 1040.7 668.2 1038.7 668.2 1036.7 668.2 1034.7 669 1032.7 668.2 1030.7 668.2 1028.7 668.2 1026.7 668.2 1024.7 668.2 1022.7 669 1020.7 668.2 1018.7 668.2 1016.7 668.2 1014.7 668.2 1012.7 668.2 1010.7 669 1008.7 668.2 1006.7 668.2 1004.7 668.2 1002.7 668.2 1000.7 668.2 998.7 669 996.7 668.2 994.7 668.2 992.7 668.2 990.7 668.2 988.7 668.2 986.7 669 984.7 668.2 982.7 668.2 980.7 668.2 978.7 668.2 976.7 668.2 974.7 669 972.7 668.2 970.7 668.2 968.7 668.2 966.7 668.2 964.7 668.2 962.7 669 960.7 668.2 958.7 668.2 956.7 668.2 954.7 668.2 952.7 668.2 950.7 669 948.7 668.2 946.7 668.2 944.7 668.2 942.7 668.2 940.7 668.2 938.7 669 936.7 668.2 934.7 668.2 932.7 668.2 930.7 668.2 928.7 668.2 926.7 669 924.7 668.2 922.7 668.2 920.7 668.2 918.7 668.2 916.7 668.2 914.7 669 912.7 668.2 910.7 668.2 908.7 668.2 906.7 668.2 904.7 668.2 902.7 669 900.7 668.2 898.7 668.2 896.7 668.2 894.7 668.2 892.7 668.2 890.7 669 888.7 668.2 886.7 668.2 884.7 668.2 882.7 668.2 880.7 668.2 878.7 669 876.7 668.2 874.7 668.2 872.7 668.2 870.7 668.2 868.7 668.2 866.7 669 864.7 668.2 862.7 668.2 860.7 668.2 858.7 668.2 856.7 668.2 854.7 669 852.7 668.2 850.7 668.2 848.7 668.2 846.7 668.2 844.7 668.2 842.7 669 840.7 668.2 838.7 668.2 836.7 668.2 834.7 668.2 833.9 668.2 833.9 629.2 828.1 622.8 828.1 584.9 822 577.2 822 547.7 814.1 539.1 814.1 522.8 810.8 520.3 810.8 402.9z"/>
<path fill="#000099" d="M808.1 396l475 0l0 302l-475 0l0-152.1l6.5 6.1l4.5 1.8l4 0.5l2-1.4l1.2-2.9l0.8-11l-0.1-24l-0.5-3l-1.4-1.8l-2 0.4l-4.9 3.4l-3.7 12l-6.4 6.5l0-136.5z"/>
<path fill="#0000a8" d="M808.1 396l43.4 0l0.4 4l1.2 2.3l15 11.7l4 2.5l2 0.3l7.4-3.8l3.7-3l3.3-8l0.6-6l394 0l0 302l-129 0l0-26l-1-5l-1-1.2l-1 0.3l-2 2.7l-1.5 4.2l-0.2 25l-339.3 0l0-108.2l4-3l7.7-10.8l5.3-5.4l1.9-3.6l2.1-9.8l0.8-18.2l-0.1-26l-1.7-7.4l-2-3.7l-1 0.1l-4.4 5l-5.8 5l-4.5 7l-2.3 1.5l0-124.5z"/>
<path fill="#0000b5" d="M808.1 396l40.4 0l0.6 8.9l1 4.7l2 4.5l9.1 5.9l6.9 2l5 0.6l6.5-1.6l21.3-10l0.9-3l0-12l381.3 0l0 302l-126.4 0l-0.6-35.3l-2-15.5l-1-2.7l-1-0.5l-16.8 27l-0.4 27l-37.4 0l-0.3-26l-1.7-3l-2.4-0.6l-9.8 2.6l-2.1 2l-0.4 25l-272.7 0l0-87.8l2-0.5l2.1-1.7l15.9-23.2l1.5-3.8l1.5-22.5l0.2-38.5l-0.2-9l-1-7l-2-7.6l-2-1.8l-2 1.6l-6.6 10.8l-5.4 4.7l-4 2l0-117.7z"/>
<path fill="#0000c2" d="M808.1 396l38.9 0l1.1 14.6l1 6l1.6 4.4l1.4 1.1l4.8 0.9l15.2 1.4l6-0.6l10.7-2.8l14.3-7.7l1.2-3.3l-0.1-14l378.9 0l0 302l-124.5 0l0-28l-1.9-29l-1.6-5.4l-1-1.1l-2-0.6l-4.8 2.1l-3.4 3l-8.8 14.5l-3 6.9l-2.9 11.6l-0.1 26l-27.9 0l-0.3-27l-2.9-7l-1.9-2.3l-2-0.8l-13 2.8l-2 1.3l-2.2 3l-1.5 6l-0.1 24l-267.2 0l0-84.2l10.1-1.8l4.5-2l5.4-6.9l2-4.6l1-6.5l0.7-14l0.4-59l-0.1-8l-1.5-13l-1.5-5.2l-2-2.5l-1-0.3l-2 1.5l-5.8 11.5l-3 4l-3.2 2.7l-4 1.4l0-115.1z"/>
<path fill="#0000cf" d="M808.1 396l37.6 0l1.4 18.2l1 6.4l1 2.1l2 1.4l3 0.5l18 1.1l20-3.2l11.5-7.5l1.5-1.9l0.5-2.1l-0.3-15l377.8 0l0 302l-122.7 0l0-28l-1.3-31l-3-8.1l-2-2.1l-2-0.5l-8 2.7l-6.7 4l-3.8 4l-3.4 7l-3.4 11l-2.5 13l-0.2 28l-19.5 0l0-24l-0.6-5l-4.9-11.7l-2-2.5l-3-1.3l-14 3.3l-3 2.9l-2.6 4.3l-2.1 5l-0.8 4l-0.1 25l-263.4 0l0-82.2l18.6-2.8l3.4-1l1.3-2l1.2-29l0.2-63l-1.7-24.8l-2-5.3l-2-2.1l-2 0.4l-2 2.4l-5.3 12.4l-2.5 4l-3.2 3l-4 1.4l0-113.4z"/>
<path fill="#0000dd" d="M808.1 396l36.5 0l1.7 22l0.8 4l1 1.8l2 1.4l3 0.7l17 1l23-2.9l11-7.6l1.8-2.4l0.9-3l-0.5-15l376.8 0l0 302l-121 0l-0.7-60l-1.8-7l-2.4-5l-2.1-2.3l-3-1l-9 1.6l-8 2.9l-6.1 4.8l-4.9 6.7l-2 8.3l-2 17.1l-0.5 33.9l-11.6 0l0-25l-1.6-9l-2.3-7l-3.2-6l-3.6-4l-3.2-0.8l-11 2.1l-4 1.5l-3.2 3.2l-3.7 6l-2.9 7l-1.4 6l-0.1 26l-259.7 0l0-80.4l22-2.9l2-1.5l0.6-2.2l0.7-93l-1.6-27l-1.7-6.3l-3-3.4l-2 0.5l-3 4.2l-4.7 13l-2.3 4.2l-3 3.1l-4 1.5l0-111.8z"/>
<path fill="#0000ec" d="M808.1 396l35.5 0l1.6 23l1.9 5.5l2 1.6l3 1l17 0.9l24-2.7l3.2-1.3l6.8-5.1l3-3.2l1.6-3.7l-0.5-16l375.9 0l0 302l-119.6 0l-0.2-63l-2.2-8.7l-3-6.2l-3-2.4l-5-0.7l-14 0.4l-4 0.9l-8 5l-4 5.6l-2 7.7l-0.8 8.4l-1.6 27l-0.1 26l-3.7 0l-0.2-27l-2-12l-2.3-8l-2.3-4.6l-3-3.6l-4-2.8l-4-0.8l-11 1.5l-4 1.2l-5 4.4l-4.5 6.8l-3.1 8l-2.1 9l-0.2 28l-256.1 0l0-78.7l22-2.4l2-1.2l1.4-3.7l0.3-95l-1.6-31l-4.1-12.6l-2 1.2l-5 8.9l-3.7 12.5l-2.2 5l-3.1 3.7l-4 1.6l0-110.3zM954.1 521l-6 1.7l-5.6 5.3l-4.4 8.8l-2.4 10.2l6.1 32l1.3 2.1l2.8 1.9l9.2 2.2l3-0.7l2-1.8l2.6-5.7l0.7-38l-0.3-10.7l-1-5.2l-2-2l-6 0z"/>
<path fill="#0000ff" d="M808.1 396l34.6 0l1.6 24l1.8 5l2.4 2l3.6 1.3l16 0.9l26-2.9l4-1.9l5-3.8l3.3-3.6l2.1-4l-0.5-17l375.1 0l0 302l-118.4 0l1-60l-1.4-11l-2.2-8.2l-2-4l-3-2.3l-26-2.2l-8 0.2l-2 0.7l-1 1.2l-7 25.6l-1 1.4l-6.2-4.4l-5.8-2l-5-0.7l-12 0.5l-6 1.6l-4 3.1l-4.3 4.5l-3.7 6.5l-2.3 10.5l-1.2 13l0 26l-253.5 0l0-76.9l23-2.5l2.5-3.6l0.7-7l-0.1-97l-1.1-25l-2-21l-1-2.4l-1-0.2l-2 1.6l-7 17.6l-4.5 16.4l-3.5 5l-4 1.8l0-108.8zM956.1 496.9l-4.9 2.1l-14.1 12.4l-2 2.6l-2 7.2l-4.7 25.8l7.4 32l8.3 11.1l10 3.7l4-1l3-2.9l2.6-4.9l2.1-6l5.2-50l-1.1-23l-0.8-4l-2-2.5l-3-1.7l-8-0.9z"/>
<path fill="#1515ff" d="M808.1 396l33.9 0l1.3 24l1.8 5.5l3 2.6l4 1.4l16 0.8l25-2.6l4.7-1.7l4.3-2.8l4.8-5.2l2.6-5l-0.7-17l374.3 0l0 302l-117.4 0l0.1-29l1.7-33l-1.3-15l-2-8l-2.1-3.1l-3-1.9l-19-0.6l-11-2.8l-8-3.4l-1 0.1l-1.3 1.8l-4.7 15.9l-1 2.1l-2 1.9l-14 0.4l-15-2l-3 0.2l-12 10l-2.9 3.5l-2.1 6.1l-1.4 10.9l-1 19l-0.1 27l-251.5 0l0-75.1l23-2.3l2-1.9l1-2.7l0.7-7l-0.2-97l-2.1-49l-0.8-3l-1.6-0.9l-3 1.8l-2 2.2l-6 17.4l-4 16.5l-3 4.3l-4 2l0-107.3zM954.1 486.9l-14 5.6l-3 2.4l-2.1 3.1l-5.5 14l-6.3 35l4.9 17l2.8 14l1.2 2.8l11 16.4l4 2.6l7 2.7l4-1.4l4-4.1l2.7-5l2.6-7l2.1-8l2.1-17l4.5-15l2.3-17l-1.9-24l-1.4-5.1l-3-3.2l-9-4.2l-5-4.5l-2-0.6l-2 0.5z"/>
<path fill="#3232ff" d="M808.1 396l33.2 0l1.2 25l1.7 5l3.3 3l4.6 1.8l15 0.7l27-2.9l5-1.8l4-2.7l5-6l2.3-5.1l-0.8-17l373.5 0l0 302l-116.5 0l0.2-30l2.5-32l-0.4-21l-1-5l-2.8-4.2l-5-2.6l-17 1.2l-7-1.9l-8.4-4.5l-7.6-7.5l-1 0.1l-1 1.4l-4 14.6l-1 2.6l-2 2.5l-3 0.6l-12-0.3l-17-6.7l-4 2.6l-11.6 12.1l-2.6 8l-2.1 16l-0.9 54l-249.8 0l0-73.3l20.8-1.7l3.2-0.9l2.1-4.1l1-9l-0.2-97l-1.8-52l-1.1-4l-1-0.4l-7 6.4l-5.9 18l-3.7 16l-2.8 4l-3.6 1.7l0-105.7zM955.1 479l-8.6 3l-7.4 4.1l-5.6 4.9l-3.9 5l-2.5 6.6l-2.6 10.4l-4.4 33l0.7 5l6.7 26l2.1 5l12.5 22l4 3.3l8 3.9l3-1.1l5-4.9l3.9-6.2l3-7l3.5-13l2.8-17l5.9-16l2.1-19l-1.2-28l-2-7.2l-2-2.5l-2-0.9l-11-1.5l-2.4-1.9l-3.6-5.2l-2-0.9l-2 0.1z"/>
<path fill="#5050ff" d="M808.1 396l32.7 0l0.9 26l1.4 4.5l3 3l5 2.3l5 0.8l10 0.1l28-3l5-1.5l4-2.3l5-6l3.1-5.9l-0.9-18l372.8 0l0 302l-115.6 0l0.2-30l3.3-31l1.3-24l-0.5-7l-1.3-5l-2.4-2.5l-4-0.8l-5 0.4l-12 2.7l-4 0.2l-3-0.6l-6-3.1l-4.4-3.2l-3.6-4l-4-6.2l-3-2.1l-2.5 2.3l-3.5 13.4l-1 2l-2 1.5l-11 0.2l-4-0.7l-6-3.7l-8-7.1l-3-0.8l-4.4 3.2l-11.6 13.1l-3.2 9.9l-1.9 18l-0.8 65l-248.1 0l0-71.6l20.7-1.4l3.3-0.8l2.3-4.2l1.2-10l-0.2-98l-1.6-56l-0.7-3.7l-1-1.1l-9 10.2l-5.2 16.6l-3.8 16.4l-2.1 3.6l-3.9 2.2l0-104.2zM952.1 476l-8.7 2l-7.3 3.5l-6 5.2l-5.3 7.3l-1.8 5l-2.7 13l-3.1 34l7.7 32l16.2 32.3l2 2.5l3 2l6 3.2l3 0.5l4-1.8l5-5.7l5-8.3l3.6-8.7l6.2-30l6.5-18l2.1-17l0.7-18l-1.2-18l-2.9-9l-3-4.6l-2-1.3l-2-0.1l-11 2.9l-7-5.3l-7 0.4z"/>
<path fill="#7272ff" d="M808.1 396l32.2 0l0.6 26l1.2 5l2 2.6l4 2.5l5 1.6l5 0.3l12-0.2l23-2.8l6-1.4l4-1.9l2.8-2.7l3.2-4.6l3-6.4l-1-18l372 0l0 302l-114.6 0l0-26l0.7-10l5.5-44l2.5-16l3.1-13l-0.7-4l-2.5-1.7l-2 0l-3.6 1.8l-8.4 6.1l-8 3.9l-6 1.8l-7 0.7l-5-2.3l-6-4.9l-2.5-3.2l-5-9l-3.5-3.4l-2-0.2l-2 1.7l-4 8.5l-2 2.3l-11 0.4l-4-1.3l-14-13.2l-4-1.4l-9.7 3.6l-6.3 5.3l-2.7 5.8l-2.9 15l-1.4 14l0.4 83l-246.4 0l0-69.8l24-1.8l1.8-2.4l1-3l1.1-11l-0.6-130l-1.1-31l-0.8-2l-1.4 0.1l-4 6.9l-5.3 6l-5.4 17l-4.3 17l-2 3.2l-3 1.5l0-102.7zM976.1 469.9l-10 3.7l-8-1.6l-12 1.9l-12.8 4.1l-4.1 2l-4.4 5l-5.1 9l-3.1 15l-2.1 38l7.3 30l19.3 40.1l7 5.8l6 2.7l5-0.5l4-2.8l10.2-17.2l3.6-10l4.2-21.9l8.9-29.1l3.5-33l-0.2-16l-1.5-13l-1.9-5l-4-5l-4.8-2.5l-5 0.4zM1260.1 406.7l-2 1.4l-1.2 1.9l0.2 2l1 0.7l2-0.1l1.4-1.6l-0.2-3l-1.2-1.3z"/>
<path fill="#9090ff" d="M808.1 396l31.7 0l0.4 27l1 5l1.9 2.7l5 2.9l5 1.6l4 0.2l13-0.3l24-3l6-1.3l4-1.8l3.5-4l3.7-6l1.5-4l0.3-4l-1.2-15l342.5 0l-0.9 6l-5.3 10l0.9 1.5l2.2 1.5l7.8 2.4l6-2.1l3.4-3.3l0.6-3l-0.1-13l14.1 0l0 302l-113.7 0l0.1-26l1.1-12l6.5-39.3l4.5-19.7l4.1-14l0.1-4l-1-3l-2.7-1.6l-6 0l-23 13.4l-10 2.4l-4-1.4l-5.5-4.8l-8.5-16.1l-6-6.6l-2-0.5l-1 0.5l-4 4.3l-2 0.9l-11 0.1l-3-0.7l-15-13.2l-7-5l-10-11.7l-7.5-7l-3.5-6.3l-3.2-13.7l-2.8-6l-3-3.1l-11-5.1l-5.1-4.8l-4.5-8l-3.9-13l-2.4-3l-5.1-2.7l-31-4.5l-4 0.6l-13 4.6l-20 3.1l-16 5.2l-6 3.7l-4.7 7l-3.1 8l-1.9 14l-0.5 36l0.8 6l6.1 25l6.6 12l13.2 31l2.5 4.6l6 5.4l5 3l6 1.3l4-1l4-3.9l8.7-14.4l6.8-16l3.7-21l3.5-14l4.9-16l3.4-17.4l2-4.9l2.1-2.7l2.9-2.1l4.7-1.9l4.3-0.7l10.1 1.8l6.9 3.5l2.1 2.5l2.7 5l3.5 12l2.1 15l0.3 22l6.3 21l2.9 20l2.6 40l0.2 38l-244.7 0l0-68l21-1l3.6-1l1.4-1.7l1-3.1l1.3-13.2l-0.8-163l-1.3-3l-2.2 0.4l-4 7.6l-5.8 7l-5.2 16.3l-4 15.7l-2 4l-3 2l0-101zM1193.1 556.9l-3.3 4.1l-2.1 8l0.7 5l2.7 2l3-0.6l2-1.6l1.9-2.8l0.9-3l-0.5-7l-1.1-4l-1.2-0.9l-3 0.8z"/>
<path fill="#adadff" d="M808.1 396l31.2 0l0.3 28l0.8 6l1.7 2.3l5 2.9l4 1.4l4 0.4l15-0.6l25-2.9l7-1.6l3.7-1.9l2.6-3l5.1-11l0.4-5l-1.2-15l335.9 0l-0.6 5l-6.2 10l0.1 3l1.8 2l3.4 2l12 3.1l8.7-2.1l6.4-4l2.1-4l0.2-15l6.6 0l0 302l-112.6 0l0-25l0.6-7l8.8-44l5.6-21l3.7-10l2.9-5.6l7.2-8.4l4.2-7l3.2-22l5.2-15l0-5l-2.5-14l-1.3-4.2l-2-3.2l-3-0.9l-3 2.8l-1.9 4.5l-1.6 9l-1.9 6l-10.6 16.3l-2 6.9l-0.9 15.8l-1.4 4l-27.7 17.2l-6 2.2l-4 0.3l-3-1.6l-2.8-3.1l-7.2-16l-12-19.2l-1 0l-4 3.2l-2 0.7l-13-0.2l-3-1.6l-20.4-16.9l-12-16l-15.6-31.1l-16.3-19.9l-6.8-5l-10.9-5.9l-30-2.2l-5 1l-18 8.3l-14 2.3l-14 4.5l-11 2.3l-4.8 1.7l-2.2 2.2l-2 5.4l-1.5 8.4l-1.4 21l1.4 34l6.5 29l8.4 14l12.6 32.5l3 6.2l11 10.6l6 2.7l4-0.7l3-2.1l2-2.4l15.9-22.8l2.7-5l4.4-13l1.8-19l3.1-15l3.1-8.3l13-19.6l3-2l3 1.4l6.8 8.5l5.5 12l1.2 6l0.2 20l3.9 19l3.5 11l6.9 8.8l3 8.1l1.8 12.1l1.8 21l0.5 38l-243.1 0l0-66.2l24-1.2l2.4-2.6l1.6-7.5l0.6-10.5l-0.6-148l0.9-16l-0.9-4.1l-2-0.7l-2 1.2l-4.7 8.6l-5.3 6.5l-5.1 15.5l-3.9 14.7l-2.7 5.3l-2.3 1.7l0-98.7z"/>
<path fill="#cbcbff" d="M808.1 396l30.8 0l0.5 17l-0.8 18l-0.9 4l-6.6 6.7l-4 8l-5.2 6.3l-5.2 15l-3.6 13.4l-2 4l-3 2.9l0-95.3zM913.6 396l329.9 0l-0.1 3l-1.1 3l-7.7 10l0 2l1.2 2l4.3 4l6 2.6l14 2.2l13-1.1l10-2.7l0 60.7l-5.2-5.7l-4.8-2.5l-4 0l-4 2.7l-2.3 2.8l-0.7 2l-0.5 13l-0.8 3l-1.7 3l-5 5.4l-1.9 3.6l-0.7 3l1 4l2.6 2.8l15-2.6l4.1-4.2l3.9-12.1l5-6.8l0 204.9l-111.4 0l0.4-29.7l2-10.5l9-36l5.2-17.8l3.1-8l3.7-6.3l8-10.2l4-7.5l3.1-12l4.1-11l5-17l0.8-34l2.7-18l-1.7-6.6l-3-4.6l-2-0.8l-7-0.1l-2 0.4l-2 1.3l-14 27.4l-13.6 35l-1.1 24l-1.7 13l-2.7 3l-5.9 4.1l-19.4 9.9l-3.6 1.1l-3-2.1l-6.1-15l-8.5-15l-4.4-17.7l-3-4.9l-2-0.4l-6 3.8l-12 0l-19-8.2l-5.8-6.6l-9.2-13.7l-11.1-19.3l-6.9-15.4l-4.4-5.6l-5.5-4l-22.1-12.6l-4-0.8l-17-0.6l-14 0.6l-15 7.1l-7 5.4l-12 2l-11 3.8l-7 1.3l-5-1l-4.3-3.2l-2.1-3l-3.6-10.9l-1-0.8l-1 0.6l-2.7 7.1l-1.8 13l-1 40l2.5 35l5.7 27l2 6l5.5 7l3.8 7l12 34l3 6.8l10 16.5l3 1.7l5 0.7l3-1.7l5.5-5l11.5-16.6l9-8.2l4-5.7l2.4-5.5l4.4-14l1.2-18l9.8-22l4.2-4.8l1-0.2l2 1.2l2.4 3.8l0.9 3l0.4 23l2.5 28l1.7 3l10.1 9l9 9.6l2.1 3.4l1.9 6.1l3 23.9l0.3 33l-241.3 0l0-64.5l24-0.8l2-1.2l0.8-1.5l1.3-6l0.9-13l-0.4-149l2.8-24l1.6-1.7l9 2.3l21-0.9l27-2.2l8-2.7l3.8-3.8l4.3-11l0.6-6l-1.2-16z"/>
<path fill="#e9e9ff" d="M808.1 396l30.4 0l0.4 16l-1.1 15l-1.3 5l-6.4 9.5l-3 6.3l-6 7.9l-8 25.4l-2 3.7l-3 2.4l0-91.2zM914.5 396l320.6 0l-0.7 4l-2.4 3l-3.9 2.5l-10.4 4.5l-4.7 4l-2.3 11l-2.1 6l-6.5 11.9l-11.2 26.1l-7.4 11l-2.6 18l-8.4 33l-0.5 23l-1.6 11l-1.2 4l-3 3l-4.1 2.2l-12 3.6l-5 0.9l-2-0.5l-1-1.1l-5.2-11.1l-7-12l-4.2-24l-2.6-6.9l-4-6.2l-3-1.2l-6 1.3l-14-0.1l-14-2.4l-3-1.5l-19.3-25l-11.6-25l-3.1-3l-15-10l-18-7.7l-15-0.5l-15 1.7l-4 1.1l-7.3 4.4l-8.7 4l-6 4l-11 2.5l-8 3.9l-5 1.6l-4 0.5l-4-1.4l-2.3-4.1l-3.2-17l-5.2-9l2.3-19l-1.2-19zM1233 428l3.1-0.8l17 1l12.3 2.8l2.3 3l3 12l1.2 8l-1.5 4l-4.3 3.4l-7.6 3.6l-5.4 3.6l-3.5 3.4l-2.2 4l-1 5l0.8 14l-1.9 11l-0.5 8l2.3 12.7l4.9 10.3l1.1 1.1l1-0.3l4.4-6.8l3.6-2.6l10-2.7l8-4.3l3-0.7l0 177.3l-110 0l0.5-29l6.1-21l4.2-18l6.6-22l4.6-9.7l11-15.3l9.2-21l2.8-4.5l6.1-7.5l3.9-10.2l1.4-8.8l0.8-19l-1.6-16l0.2-22l-3.1-19l5.1-23l2.1-4zM873.1 439l12-0.5l7 0.7l5 2l2.6 3.8l0.6 16l1.5 17l0.5 34l3 36l6.2 29l1.5 3l6.6 8l4.1 8l8 23l10.4 35.1l2.4 4.9l2.6 3.3l3 1.8l4 0.1l3-1l14.9-17.2l5.1-8.7l3-3.2l8.7-5.1l10.3-7.8l10-2.9l5 0.3l4.9 3.4l16.1 14l3.1 4l5.9 10.7l2 7.3l1.3 11l0.2 29l-239.5 0l0-62.6l25-0.7l2-1.9l1.3-5.8l1-16l-0.1-148l1.6-12l2.2-5.7l3-2.9l10-2.1l19-1.3z"/>
<path fill="#fff3f3" d="M808.1 396l30 0l0.3 16l-1.1 13l-1.7 6l-5.5 8.5l-3.8 7.5l-5.2 6.7l-9 26l-2 2.5l-2 0.9l0-87.1zM915.4 396l306.1 0l-0.5 3l-2.4 3l-17.4 10l-2.9 4l-8.5 27l-4.2 17l-7.7 19l-1.3 18l-7.3 34l-0.7 22l-2.1 11l-1.9 4l-2.5 2l-4 1l-5 0.2l-5-0.6l-3.9-2.6l-9.1-15l-6.9-34l-2.2-6l-3.9-5.4l-6-5.8l-3-1.5l-18 1.6l-13-1.1l-4-1.7l-12.1-13.1l-10.7-22l-5.5-7l-3.7-6.1l-3.5-2.9l-28.5-12.7l-4-0.3l-12 0.9l-19 3.7l-14 8.1l-11 4l-11 2.4l-10 5.3l-4 0.3l-1.9-2.7l-1.5-5l-2.1-16l-4.1-6l-1.6-5l-2.5-29zM863.1 441l15-0.5l9 0.7l6 2.3l2.6 3.5l0.6 14l2.4 8l1.1 8l1.1 36l3 36l6 29l1.7 3l6.5 7.7l4 7.1l10.3 31.2l5 21l4.4 23l0.3 27l-134 0l0-60.2l25-0.3l2-1.3l1.6-6.2l1.1-18l0.2-148l1.1-8.8l3-6.3l6.9-4.9l5.1-2l9-1zM1276.4 536l6.7-0.9l0 162.9l-107.7 0l0.3-27l5.4-14.7l4-19.2l7.2-24l4.8-9.5l11.1-15.5l8.9-17.4l3-4l3-2.6l7-1.4l4-2.3l1.5 8.8l1.3 3l3.2 2.4l2 0.1l2-1l4.3-3.5l5.4-9l7.5-8l3.6-9l2.2-3.4l3-2.4l6.3-2.2zM1011.1 629l3 0.3l3 1.5l6 3.8l4 3.4l14.7 24l2.2 6l0.6 4l0.1 26l-85.7 0l0.3-26l1.4-4l3.4-5.9l20-21.5l16-8l11-3.6z"/>
<path fill="#ffd4d4" d="M808.1 396l29.6 0l0.3 16l-1.1 11l-1.8 6.7l-9 15.6l-5.8 7.7l-8.2 22.6l-2 2.6l-2 0.8l0-83zM916.5 396l292.5 0l-0.5 3l-1.7 2l-10.7 6.3l-5 4.5l-7 18.2l-2.2 26l-6.9 22l-1.1 19l-3.8 16.3l-2.5 15.8l-1.5 24l-1.1 5l-1.9 4.5l-2 2.2l-2 0.9l-4.8-0.6l-5.2-2.5l-5-5.8l-2.3-4.7l-3.7-12.6l-5.7-27.4l-4.3-8.2l-9-11.1l-3-1.7l-33 0.3l-3-0.4l-2-1.1l-6.1-6.8l-9.6-18l-7.3-9.1l-5.4-8.9l-3.6-4.1l-3-2l-26-10.5l-4-1.1l-4 0l-12 1.1l-17 4.8l-8.8 3.8l-7.2 4.6l-3 1.2l-18 2.9l-7 1.8l-3-0.6l-2.3-3.9l-1.8-10l-6.1-6l-3-6l-1.8-8.3l-1.6-18.7zM868.5 442l9.6 0.3l7 1.1l4.1 1.6l2.2 3l1.3 13l3.7 7l2 9l1.5 37l3.2 36.7l5.6 28.3l1.6 3l7.5 9l3.8 7l9.9 31l4.9 24l2.5 16l0.3 29l-102.2 0l-0.8-57l2-28l-0.2-85l1-67l1.1-4.4l2-3.7l9.3-7.9l4.7-1.6l12.4-1.4zM1278.9 546l4.2-0.7l0 152.8l-102.3 0l0.3-26.5l4.2-14.5l3.8-19.3l7.7-24.7l2.1-4l8.2-10.9l10-17.2l3-3.4l4-1.5l2 0.7l2 1.9l2.4 4.4l2.6 8.6l1 1.9l1 0.5l15.5-17l5.5-10l3-3.9l13-12.7l6.8-4.4zM1010.5 636l2.6-0.2l2 0.7l4 3.5l11 18l5.5 11l1 5l0.1 24l-72.5 0l0-24l0.6-3l1.3-2.2l13-15.6l15.3-10.2l16.1-7z"/>
<path fill="#ffb4b4" d="M808.1 396l29.2 0l0.2 15l-1 11l-2.1 7l-9.3 15.6l-5.5 7.4l-7.5 19.1l-2 2.8l-2 0.9l0-78.8zM917.6 396l276.3 0l-1.2 4l-5.7 5l-3.1 4l-9 20l2.3 16l0.6 11l-5.4 21l-0.5 19l-4.2 19l-3.6 35l-2 7l-2 2.4l-3 0.5l-4.8-2.9l-3.2-4l-9.8-41l-12.7-28l-2.5-4.1l-3-2.7l-3-0.8l-7 2.6l-14 0.3l-14 2.1l-3-0.2l-3-2.9l-8.6-14.3l-8.4-9.4l-13-17.8l-4-2.6l-29-11.6l-4-0.1l-15 2.8l-16 6.2l-21 10.5l-9 0.3l-8-1.3l-3.3-2l-4.1-5l-8.1-6l-3-4l-3.5-12l-1.5-16zM863.2 444l6.9-0.5l7 0.5l4.8 1l3.8 2l2.1 4l2.2 11l4.3 6l1.8 4.1l1.5 7.9l1.5 34.5l2.6 32.5l5.3 30l2.1 5.7l7.6 9.3l4.4 8.1l9.4 29.9l6.9 40l0.2 28l-99.4 0l-0.7-58l1.1-27l-0.2-85l1.3-64l0.8-4l1.6-3.1l10.3-9.9l3.7-1.8l7.1-1.2zM1279.4 556l3.7-0.7l0 142.8l-94 0l0.4-28l5.5-32l6.7-23l1.9-4l13.5-20.2l2-2l2-0.4l3.3 2.6l2.9 5l3.5 13l2.3 13l1 0l3.3-12l2.7-7l8.5-14l5.7-8l5.7-11l9.1-8l10.3-6zM1010 647l3.1 0.1l2 2l6 9.9l5.4 11l0.7 4l0 24l-53.4 0l0-24l0.7-3l1.9-3l3.7-4.4l4.9-3.6l13.1-7.7l11.9-5.2z"/>
<path fill="#ff9696" d="M808.1 396l28.8 0l0.1 15l-1 10l-2.1 7l-15.2 23l-7.6 17.4l-3 2.2l0-74.6zM918.8 396l255.9 0l-1.1 17l-8.4 16l0.4 3l5.5 12.6l2.3 11.4l-4 21l0.1 19l-3.4 15l-3 28.7l-3 12.9l-1 1.1l-2-0.1l-2-2.8l-8-36.8l-8.3-17l-2.9-19l-2.8-9.1l-3-4.9l-3-1.2l-5-0.5l-3 0.7l-8 3.7l-31 1.7l-3-2.2l-12.7-14.2l-9.8-13l-8.5-9.2l-16.2-7.8l-16.8-5.9l-17 3l-16 7.4l-21 12.1l-5 0.4l-8-1.8l-15-8.1l-6-5.3l-2-4l-2.4-7.8l-1.6-9.2l-0.3-6.8zM862.4 446l8.7-0.8l6 1.1l4 2l3 4.3l3.8 10.4l5.5 7l2.2 5l1.1 6l2.2 43l2.1 23l4.9 30l3.2 8l7 8.8l4.5 8.2l9 29l6.5 39l0.2 28l-97.2 0l-0.8-59l0.6-26l0-84l0.5-33l1.4-30l0.8-4l1.5-2.4l10-9.5l3-2.2l6.3-1.9zM1278.3 566l4.8-0.9l0 132.9l-50.7 0l0.2-28l5.5-28.7l4.6-29.2l22.4-37.2l4.8-4.8l8.4-4zM1217.9 600l2.2 0.4l2 2.5l2.5 5.1l1.3 5l1.1 24l-1.3 13l-1.6 6l-2 3.8l-2.1 2.2l-7.5 5l-2.9 4l-0.5 27l-10 0l0.1-26l2.7-35l3.4-14l3-9l6.8-11.3l2.8-2.7zM1009.2 664l1.9-0.5l2 0.5l2 2.3l2.2 4.8l0.5 27l-21.7 0l0.3-25l1.2-2l2.4-2l9.2-5z"/>
<path fill="#ff7a7a" d="M808.1 396l28.4 0l0.1 14l-1.2 11l-2.3 6.9l-16.5 23.1l-2.3 4l-3.2 8.7l-3 2.7l0-70.4zM920.1 396l244 0l1.6 14l-0.3 3l-8.4 14l-1.2 4l0.8 5l1.7 5l8 13l1 3l-1.6 20l0.5 18l-2.4 13l-2.4 22l-1.3 4.7l-1 1.2l-1-0.5l-1-2.3l-6.7-26.1l-5.3-11.6l0.1-3.4l3.3-14l-2.2-16l-2.8-7l-5.4-5l-4-1.7l-4 0.2l-9 2.8l-9 5.8l-12 2.5l-7 0.7l-13-0.2l-3-2l-7-7.3l-24-28.2l-4-2.2l-19-7.4l-10-5.3l-16 4.9l-8 5.4l-11 5l-18 12.1l-3 0.9l-3-0.4l-9-2.9l-11-4.6l-6-4.6l-3-4.9l-2.5-6.6l-2-9l-0.5-7zM866 448l5.6 0l7.5 4.1l2.3 2.9l4.4 9l7.3 8.8l2 4.6l3.5 52.6l2.3 22l4.1 25l3.1 8.8l8 10.6l4 7.6l8.9 29l6 37l0.2 28l-95.4 0l-0.8-60l0.4-108l0.7-34.1l1.3-20.9l1.6-10l2.4-4l9.7-8.1l10.9-4.9zM1279.5 576l3.6-0.5l0 122.5l-44.5 0l0.2-28l4.9-36l3.4-14.7l3-6.9l10-14.6l7-13.8l4-3.9l8.4-4.1zM1215.9 611l2.2-0.6l1.9 3.6l1.6 24l-1.5 5.4l-3 5.6l-3 3.8l-3 1.1l-2-1.9l-1.5-4l-1.2-11l3.7-12.9l5.8-13.1z"/>
<path fill="#ff5c5c" d="M808.1 396l28 0l0 13l-1.1 11l-2.9 8l-6.9 8l-6.1 8.7l-5.5 5.3l-5.5 10.8l0-64.8zM921.8 396l82.8 0l-1 4l-7.5 5.5l-7.7 8.5l-13.1 7l-15.2 11l-3 0.8l-9-2.3l-12-4.2l-5-3.3l-3-4.5l-3.5-7.5l-2.5-9l-0.3-6zM1019.7 396l134.4 0l0.4 5l2.6 11l-2.9 6l-6.1 7.6l-10 8.1l-17 8.9l-5.7 6.4l-2.3 1.7l-17 2.2l-15-0.1l-3-1.2l-3-2.8l-16-16.9l-12-14.6l-3-2.2l-11-5.1l-8.9-6l-3.8-4l-0.7-4zM865.2 453l4.9 0l8 4.1l5.7 7.9l8.3 9.4l2 3.9l1.3 10.7l2.3 40l2.8 25l3.6 23.2l1.6 5.8l2.4 5.3l7.4 9.8l4.2 8l8.7 29l5.5 35l0.2 28l-93.6 0l-0.8-61l0.2-107l1-33l1.2-16l2-10l3.5-8l7.5-5.5l10.1-4.5zM1158 481l1.1-0.1l1 3.4l1.1 10.7l-1.6 16l-0.5 2.5l-1 0.4l-1-2.6l-2.5-15.3l1.5-8.7l1.9-6.3zM1281.9 587l1.2 0l0 111l-40.6 0l0.3-29l4-29l2.8-11l3.5-7.4l11-12.6l9-15.5l5-5l3.8-1.5zM1212.3 635l0.8-0.4l0.7 0.4l0.7 2l-0.3 2l-1.1 1.3l-1 0l-0.9-2.2l1.1-3z"/>
<path fill="#ff3c3c" d="M808.1 396l27.6 0l0 12l-1.3 12l-3.3 8.1l-7.1 6.9l-5.9 7.2l-10 4.7l0-50.9zM923.9 396l69.9 0l-1.2 6l-7.7 10l-16.5 10l-8.3 6.6l-3 1l-5-0.9l-14-4.6l-5-3l-3.7-6.1l-2.6-6l-2.3-7l-0.6-6zM1032.9 396l111.9 0l0.4 5l3.2 11l-1.7 4l-5.6 5.6l-20 12.2l-7 9.8l-2 1.5l-4 0.5l-27 0l-3-1.4l-7-7.4l-9-8l-17-20.3l-10.7-7.5l-1.1-2l-0.4-3zM861.7 459l3.4-0.8l3 0.2l9 3.6l13 13.1l3 4.8l1.9 16.1l1.8 33l6.6 49l3.8 11l7.9 10.9l4.2 8.1l8.3 28l5.4 35l0.1 27l-91.9 0l-1.1-120l0.5-50l1.5-32.4l2-14.8l4-11.1l4-5.3l9.6-5.4zM1281.6 604l1.5-0.2l0 94.2l-37.1 0l0.2-28l2.9-19.5l3-12.4l3-4.6l7-7.4l9.4-5.1l5-12l2.6-3.4l2.5-1.6z"/>
<path fill="#ff1f1f" d="M808.1 396l27.2 0l-0.4 18l-1.8 8l-2 4.5l-2 2.6l-5.3 3.9l-5.7 5.8l-5 2l-5 1.1l0-45.9zM926.6 396l62.2 0l-1.2 6l-7.2 9l-15.3 9.8l-5.1 4.2l-3.9 1.3l-11.7-3.3l-6.3-2.8l-3.1-2.2l-3-4l-2.9-6.5l-2.1-6.5l-0.4-5zM1045.5 396l94.6 0l0.8 16l-1.7 3l-4.1 3.5l-14 7l-7 9.9l-2 1.6l-4 0.6l-27-0.2l-3-1.3l-12-10l-11-11.1l-8.5-14l-1.1-5zM862.5 464l4.6-0.1l12 4.2l9 7.8l2.5 3.1l1.2 3l2.3 14.5l1.7 32.5l6.8 49l1.8 7l2.7 6.5l8 10.9l3.4 6.6l8 27l5.4 35l0.2 27l-90.1 0l-1.3-119l0.6-50l1.8-27.3l2-14l4-11.5l5-5.9l8.4-6.3zM1263.3 642l1.8-0.1l2.8 5.1l6.4 22l0.5 29l-25.2 0l0.1-25l1.4-8.8l3-7.5l9.2-14.7z"/>
<path fill="#ff0000" d="M808.1 396l26.7 0l-0.4 18l-1.7 7l-2.3 5l-2.3 2.6l-10 6.8l-10 2.4l0-41.8zM929.4 396l54.5 0l-0.1 3l-1.2 3l-7.7 9l-15.8 10.7l-3 1l-4-0.7l-5-1.8l-11-6.4l-2.2-2.8l-3.2-7l-1.1-4l-0.2-4zM1052.5 396l83.4 0l0 4l-1.1 8l-1.7 3.8l-13 6.9l-6 8.4l-2 1.7l-3 0.5l-27 0.6l-4-0.9l-5.1-3l-13.9-11.9l-5.6-12.1l-1-6zM864 470l3.1 0l10 1.9l6 2.6l5 5.2l3 8.6l1.9 10.7l1.7 30l7.3 50l1.7 7l2.4 6.1l3 5.1l5.5 6.8l3.1 6l7.8 26l5.4 35l0.1 27l-88.1 0l-1.6-117l1.6-60l2.9-25l2.8-10l2.5-4.5l3-3.5l6-5.6l3.9-2.4z"/>
<path fill="#ec0000" d="M808.1 396l26.3 0l-0.4 17l-2.9 10.1l-3 4l-11 5.9l-9 0.9l0-37.9zM932.6 396l46.3 0l-0.3 3l-1.3 3l-8.9 10l-6.3 4l-7 1.8l-8-2l-8-5.4l-5.3-7.4l-1-3l-0.2-4zM1058.9 396l60.8 0l-1.3 15l-3.3 6.6l-2 2.3l-2 1.1l-27 4l-5 0l-4-2.2l-12.1-10.8l-3.4-10l-0.7-6zM863.3 477l4.8-0.8l10 0.7l5 1.3l3 3.8l4 12.3l2 13.4l1.5 22.3l8.6 54l4 11l7.9 10.8l2.8 5.2l7.9 27l4.9 33l0.1 27l-85.9 0l-1.8-116l1.5-54l5.5-34.1l3-4.9l11.2-12z"/>
<path fill="#dd0000" d="M808.1 396l25.8 0l-0.3 16l-2.5 9l-3 4.6l-9 4.5l-11 0.2l0-34.3zM936.9 396l35.8 0l-1 5l-7.2 9l-3.4 1.9l-6 0.4l-6-0.7l-7-4.6l-4.5-6l-0.7-5zM1067.8 396l47 0l-0.7 9.3l-1.8 5.7l-2.2 1.8l-30 7.4l-3-1.6l-6.5-7.6l-2.5-10l-0.3-5zM865.8 485l13.3-0.2l3 0.5l2 2.3l3 7.6l3 13.4l2.1 21.4l2.9 14.3l2.6 19.8l4 22l4.4 11.5l9.5 13.5l8 27l4.7 34l0.1 26l-83.3 0l0-27l-1.9-58l-0.1-31l2.1-52l6.9-31l2-3l8-8.5l3.7-2.5z"/>
<path fill="#cf0000" d="M808.1 396l25.3 0l-0.8 18l-2.6 7l-2.9 3.7l-9 3.4l-10-1.3l0-30.8zM941.8 396l24.4 0l0 2l-1.1 3.3l-3 2.8l-12 0.4l-4-1l-2.4-1.5l-1.6-2.8l-0.3-3.2zM865.2 496l11.9 0l4.8 1l1.4 2l3.8 11.5l3.3 19.5l3.7 15.5l2.7 20.5l4.6 23l4.1 10l9.2 13l7.5 26l4.4 34l0 26l-80.1 0l0-27l-2-58l-0.1-31l2.6-50l1.8-9l6.3-18.3l4-5.2l6.1-3.5z"/>
<path fill="#c20000" d="M808.1 396l24.7 0l-0.7 16.9l-3 7.2l-2 2.6l-5.2 2.3l-3.8 0.9l-10-2.9l0-27zM860.5 506l5.6-0.7l6 1.2l3 1.4l7 7.8l3.2 6.3l7.4 25l3.2 23l5.5 23l3.6 8l8.6 12l7.2 25l3.6 34l0.1 26l-76.5 0l-0.1-27l-2-62l0.1-30l1.6-31l2.5-19.4l6.8-18.6l3.6-4z"/>
<path fill="#b50000" d="M808.1 396l24.1 0l-1.1 16.9l-2 3.9l-3 3.5l-5 2.6l-3 0.4l-10-5.2l0-22.1zM860.9 514l4.2 0.1l7 2.2l7 5.1l3 5.1l7.6 19.5l5 29l5.1 18l3.4 8l8.9 12.9l7.2 24.1l2.8 34l0.1 26l-72.5 0l0-27l-1.6-32l-0.4-24l0.4-42.5l1.8-24.5l1.2-7.7l2.4-9.2l4.6-12.7l2.8-4.2z"/>
<path fill="#a80000" d="M808.1 396l23.2 0l-1.1 14l-2.1 4.2l-6 4.2l-3 0.9l-2-0.7l-6-4.9l-3-1.5l0-16.2zM862.7 523l3.4-0.6l8 3.8l4 3l3 4.8l5.6 14l5.6 30l2 7l7.3 17l7.9 11l5.6 16.1l2.9 11.9l1.8 31l0.1 26l-67.9 0l0-27l-2-35l0.2-57l3.6-33l5.3-17l2-4.2l1.6-1.8z"/>
<path fill="#990000" d="M808.1 396l21.6 0l-0.4 6l-1.2 3.8l-5 6.4l-3 1.7l-2-0.3l-2.6-2.6l-7.4-11.8l0-3.2zM863.8 532l1.3-0.8l2 0.4l9 5.2l3 2.9l1.9 3.3l2.1 6l6.9 35l1.9 7l2.4 5l5.5 8l6.8 8l3.2 11l5.3 11.7l1.3 7.3l1.1 30l0 26l-62.7 0l0-28l-1.7-34l0.7-38l3.9-50l3.4-10.9l2.7-5.1z"/>
<path fill="#870000" d="M816.2 396l7.2 0l-0.8 5l-2.5 2.9l-2-0.7l-1-1.5l-0.9-5.7zM865 543l3.1 0.2l6.4 2.8l2.6 2.1l8 29.5l1.7 14.4l1.8 8l3.5 5.3l10 5.6l2 2.1l3.2 16l6.3 9l1.1 32l0 28l-56.7 0l-0.6-86l3.6-32l1.2-31l0.9-3.6l1.9-2.4z"/>
<path fill="none" stroke="#fff" stroke-width="4.8" stroke-linejoin="round" d="M838.1 396l0.3 18l-2 15l-10.1 18l-5.4 7l-8.8 25.7l-2 2.5l-2 0.9M1221.5 396l-0.5 3l-2.4 3l-17.4 10l-2.9 4l-8.5 27l-4.2 17l-7.7 19l-1.3 18l-7.3 34l-0.7 22l-2.1 11l-1.9 4l-2.5 2l-4 1l-5 0.2l-5-0.6l-3.9-2.6l-9.1-15l-6.9-34l-2.2-6l-3.9-5.4l-6-5.8l-3-1.5l-18 1.6l-13-1.1l-4-1.7l-12.1-13.1l-10.7-22l-5.5-7l-3.7-6.1l-3.5-2.9l-28.5-12.7l-4-0.3l-12 0.9l-19 3.7l-14 8.1l-11 4l-11 2.4l-10 5.3l-4 0.3l-1.9-2.7l-1.5-5l-2.1-16l-4.1-6l-1.6-5l-2.5-29M808.1 637.8l25-0.3l2-1.3l1.3-4.2l1.4-20l0.2-148l0.5-6l1.6-5.9l2-3.2l2-1.7l6-3.8l4-1.4l13-1.3l11-0.2l7.9 0.5l5.1 1.4l3 1.9l1.6 2.7l0.6 14l3.2 13l1.4 39l3.2 36.9l6 28.7l8 10.1l4 7.1l10.3 31.2l5 21l4.4 23l0.3 27M959 698l0.3-26l1.4-4l3.4-5.9l17-18.8l3.8-3.2l16.2-7.8l11-3.2l3 0.7l4 2.3l8 6l14.7 24l2.2 6l0.6 4l0.1 26M1175.4 698l0.3-27l5.4-14.7l4-19.2l7.6-25l4.4-8.5l11.1-15.5l9.9-18.9l5-5.1l7-1.4l4-2.3l1.5 8.8l1.3 3l3.2 2.4l3-0.3l5.3-4.1l5.4-9l7.5-8l3.8-9.4l2.5-3.6l2.5-1.8l4-1.5l9-1.6"/>
</g>
<clipPath id="p20"><path d="M107.3 762.5 109.3 762.5 111.3 761.2 113.3 762.5 115.3 762.5 117.3 762.5 119.3 762.5 121.3 761.2 123.3 762.5 125.3 762.5 127.3 762.5 129.3 762.5 131.3 761.2 133.3 762.5 135.3 762.5 137.3 762.5 139.3 762.5 141.3 761.2 143.3 762.5 145.3 762.5 147.3 762.5 149.3 762.5 151.3 761.2 153.3 762.5 155.3 762.5 157.3 762.5 159.3 762.5 161.3 761.2 163.3 762.5 165.3 762.5 167.3 762.5 169.3 762.5 171.3 761.2 173.3 762.5 175.3 762.5 177.3 762.5 179.3 762.5 181.3 761.2 183.3 762.5 185.3 762.5 187.3 762.5 189.3 762.5 191.3 761.2 193.3 762.5 195.3 762.5 197.3 762.5 199.3 762.5 201.3 761.2 203.3 762.5 205.3 762.5 207.3 762.5 209.3 762.5 211.3 761.2 213.3 762.5 215.3 762.5 217.3 762.5 219.3 762.5 221.3 761.2 223.3 762.5 225.3 762.5 227.3 762.5 229.3 762.5 231.3 761.2 233.3 762.5 235.3 762.5 237.3 762.5 239.3 762.5 241.3 761.2 243.3 762.5 245.3 762.5 247.3 762.5 249.3 762.5 251.3 761.2 253.3 762.5 255.3 762.5 257.3 762.5 259.3 762.5 261.3 761.2 263.3 762.5 265.3 762.5 267.3 762.5 269.3 762.5 271.3 761.2 273.3 762.5 275.3 762.5 277.3 762.5 279.3 762.5 281.3 761.2 283.3 762.5 285.3 762.5 287.3 762.5 289.3 762.5 291.3 761.2 293.3 762.5 295.3 762.5 297.3 762.5 299.3 762.5 301.3 761.2 303.3 762.5 305.3 762.5 307.3 762.5 309.3 762.5 311.3 761.2 313.3 762.5 315.3 762.5 317.3 762.5 319.3 762.5 321.3 761.2 323.3 762.5 325.3 762.5 327.3 762.5 329.3 762.5 331.3 761.2 333.3 762.5 335.3 762.5 337.3 762.5 339.3 762.5 341.3 761.2 343.3 762.5 345.3 762.5 347.3 762.5 349.3 762.5 351.3 761.2 353.3 762.5 355.3 762.5 357.3 762.5 359.3 762.5 361.3 761.2 363.3 762.5 365.3 762.5 367.3 762.5 369.3 762.5 371.3 761.2 373.3 762.5 375.3 762.5 377.3 762.5 379.3 762.5 381.3 761.2 383.3 762.5 385.3 762.5 387.3 762.5 389.3 762.5 391.3 761.2 393.3 762.5 395.3 762.5 397.3 762.5 399.3 762.5 401.3 761.2 403.3 762.5 405.3 762.5 407.3 762.5 409.3 762.5 411.3 761.2 413.3 762.5 415.3 762.5 417.3 762.5 419.3 762.5 421.3 761.2 423.3 762.5 425.3 762.5 427.3 762.5 429.3 762.5 431.3 761.2 433.3 762.5 435.3 762.5 437.3 762.5 439.3 762.5 441.3 761.2 443.3 762.5 445.3 762.5 447.3 762.5 449.3 762.5 451.3 761.2 453.3 762.5 455.3 762.5 457.3 762.5 459.3 762.5 461.3 761.2 463.3 762.5 465.3 762.5 467.3 762.5 469.3 762.5 471.3 761.2 473.3 762.5 475.3 762.5 477.3 762.5 479.3 762.5 481.3 761.2 483.3 762.5 485.3 762.5 487.3 762.5 489.3 762.5 491.3 761.2 493.3 762.5 495.3 762.5 497.3 762.5 499.3 762.5 501.3 761.2 503.3 762.5 505.3 762.5 507.3 762.5 509.3 762.5 511.3 761.2 513.3 762.5 515.3 762.5 517.3 762.5 519.3 762.5 521.3 761.2 523.3 762.5 525.3 762.5 527.3 762.5 529.3 762.5 531.3 761.2 533.3 762.5 535.3 762.5 537.3 762.5 539.3 762.5 541.3 761.2 543.3 762.5 545.3 762.5 547.3 762.5 549.3 762.5 551.3 761.2 553.3 762.5 555.3 762.5 557.3 762.5 559.3 762.5 561.3 761.2 563.3 762.5 565.3 762.5 567.3 762.5 569.3 762.5 571.3 761.2 573.3 762.5 575.3 762.5 577.2 762.5 577.2 1027.9 577.2 1027.9 575.2 1027.9 573.2 1027.9 571.2 1028.7 569.2 1027.9 567.2 1027.9 565.2 1027.9 563.2 1027.9 561.2 1027.9 559.2 1028.7 557.2 1027.9 555.2 1027.9 553.2 1027.9 551.2 1027.9 549.2 1027.9 547.2 1028.7 545.2 1027.9 543.2 1027.9 541.2 1027.9 539.2 1027.9 537.2 1027.9 535.2 1028.7 533.2 1027.9 531.2 1027.9 529.2 1027.9 527.2 1027.9 525.2 1027.9 523.2 1028.7 521.2 1027.9 519.2 1027.9 517.2 1027.9 515.2 1027.9 513.2 1027.9 511.2 1028.7 509.2 1027.9 507.2 1027.9 505.2 1027.9 503.2 1027.9 501.2 1027.9 499.2 1028.7 497.2 1027.9 495.2 1027.9 493.2 1027.9 491.2 1027.9 489.2 1027.9 487.2 1028.7 485.2 1027.9 483.2 1027.9 481.2 1027.9 479.2 1027.9 477.2 1027.9 475.2 1028.7 473.2 1027.9 471.2 1027.9 469.2 1027.9 467.2 1027.9 465.2 1027.9 463.2 1028.7 461.2 1027.9 459.2 1027.9 457.2 1027.9 455.2 1027.9 453.2 1027.9 451.2 1028.7 449.2 1027.9 447.2 1027.9 445.2 1027.9 443.2 1027.9 441.2 1027.9 439.2 1028.7 437.2 1027.9 435.2 1027.9 433.2 1027.9 431.2 1027.9 429.2 1027.9 427.2 1028.7 425.2 1027.9 423.2 1027.9 421.2 1027.9 419.2 1027.9 417.2 1027.9 415.2 1028.7 413.2 1027.9 411.2 1027.9 409.2 1027.9 407.2 1027.9 405.2 1027.9 403.2 1028.7 401.2 1027.9 399.2 1027.9 397.2 1027.9 395.2 1027.9 393.2 1027.9 391.2 1028.7 389.2 1027.9 387.2 1027.9 385.2 1027.9 383.2 1027.9 381.2 1027.9 379.2 1028.7 377.2 1027.9 375.2 1027.9 373.2 1027.9 371.2 1027.9 369.2 1027.9 367.2 1028.7 365.2 1027.9 363.2 1027.9 361.2 1027.9 359.2 1027.9 357.2 1027.9 355.2 1028.7 353.2 1027.9 351.2 1027.9 349.2 1027.9 347.2 1027.9 345.2 1027.9 343.2 1028.7 341.2 1027.9 339.2 1027.9 337.2 1027.9 335.2 1027.9 333.2 1027.9 331.2 1028.7 329.2 1027.9 327.2 1027.9 325.2 1027.9 323.2 1027.9 321.2 1027.9 319.2 1028.7 317.2 1027.9 315.2 1027.9 313.2 1027.9 311.2 1027.9 309.2 1027.9 307.2 1028.7 305.2 1027.9 303.2 1027.9 301.2 1027.9 299.2 1027.9 297.2 1027.9 295.2 1028.7 293.2 1027.9 291.2 1027.9 289.2 1027.9 287.2 1027.9 285.2 1027.9 283.2 1028.7 281.2 1027.9 279.2 1027.9 277.2 1027.9 275.2 1027.9 273.2 1027.9 271.2 1028.7 269.2 1027.9 267.2 1027.9 265.2 1027.9 263.2 1027.9 261.2 1027.9 259.2 1028.7 257.2 1027.9 255.2 1027.9 253.2 1027.9 251.2 1027.9 249.2 1027.9 247.2 1028.7 245.2 1027.9 243.2 1027.9 241.2 1027.9 239.2 1027.9 237.2 1027.9 235.2 1028.7 233.2 1027.9 231.2 1027.9 229.2 1027.9 227.2 1027.9 225.2 1027.9 223.2 1028.7 221.2 1027.9 219.2 1027.9 217.2 1027.9 215.2 1027.9 213.2 1027.9 211.2 1028.7 209.2 1027.9 207.2 1027.9 205.2 1027.9 203.2 1027.9 201.2 1027.9 199.2 1028.7 197.2 1027.9 195.2 1027.9 193.2 1027.9 191.2 1027.9 189.2 1027.9 187.2 1028.7 185.2 1027.9 183.2 1027.9 181.2 1027.9 179.2 1027.9 177.2 1027.9 175.2 1028.7 173.2 1027.9 171.2 1027.9 169.2 1027.9 167.2 1027.9 165.2 1027.9 163.2 1028.7 161.2 1027.9 159.2 1027.9 157.2 1027.9 155.2 1027.9 153.2 1027.9 151.2 1028.7 149.2 1027.9 147.2 1027.9 145.2 1027.9 143.2 1027.9 141.2 1027.9 139.2 1028.7 137.2 1027.9 135.2 1027.9 133.2 1027.9 131.2 1027.9 130.4 1027.9 130.4 988.9 124.6 982.5 124.6 944.5 118.5 936.8 118.5 907.4 110.6 898.7 110.6 882.4 107.3 880 107.3 762.5z"/></clipPath>
<g clip-path="url(#p20)">
<path fill="#0000a8" d="M107.3 762.5 109.3 762.5 111.3 761.2 113.3 762.5 115.3 762.5 117.3 762.5 119.3 762.5 121.3 761.2 123.3 762.5 125.3 762.5 127.3 762.5 129.3 762.5 131.3 761.2 133.3 762.5 135.3 762.5 137.3 762.5 139.3 762.5 141.3 761.2 143.3 762.5 145.3 762.5 147.3 762.5 149.3 762.5 151.3 761.2 153.3 762.5 155.3 762.5 157.3 762.5 159.3 762.5 161.3 761.2 163.3 762.5 165.3 762.5 167.3 762.5 169.3 762.5 171.3 761.2 173.3 762.5 175.3 762.5 177.3 762.5 179.3 762.5 181.3 761.2 183.3 762.5 185.3 762.5 187.3 762.5 189.3 762.5 191.3 761.2 193.3 762.5 195.3 762.5 197.3 762.5 199.3 762.5 201.3 761.2 203.3 762.5 205.3 762.5 207.3 762.5 209.3 762.5 211.3 761.2 213.3 762.5 215.3 762.5 217.3 762.5 219.3 762.5 221.3 761.2 223.3 762.5 225.3 762.5 227.3 762.5 229.3 762.5 231.3 761.2 233.3 762.5 235.3 762.5 237.3 762.5 239.3 762.5 241.3 761.2 243.3 762.5 245.3 762.5 247.3 762.5 249.3 762.5 251.3 761.2 253.3 762.5 255.3 762.5 257.3 762.5 259.3 762.5 261.3 761.2 263.3 762.5 265.3 762.5 267.3 762.5 269.3 762.5 271.3 761.2 273.3 762.5 275.3 762.5 277.3 762.5 279.3 762.5 281.3 761.2 283.3 762.5 285.3 762.5 287.3 762.5 289.3 762.5 291.3 761.2 293.3 762.5 295.3 762.5 297.3 762.5 299.3 762.5 301.3 761.2 303.3 762.5 305.3 762.5 307.3 762.5 309.3 762.5 311.3 761.2 313.3 762.5 315.3 762.5 317.3 762.5 319.3 762.5 321.3 761.2 323.3 762.5 325.3 762.5 327.3 762.5 329.3 762.5 331.3 761.2 333.3 762.5 335.3 762.5 337.3 762.5 339.3 762.5 341.3 761.2 343.3 762.5 345.3 762.5 347.3 762.5 349.3 762.5 351.3 761.2 353.3 762.5 355.3 762.5 357.3 762.5 359.3 762.5 361.3 761.2 363.3 762.5 365.3 762.5 367.3 762.5 369.3 762.5 371.3 761.2 373.3 762.5 375.3 762.5 377.3 762.5 379.3 762.5 381.3 761.2 383.3 762.5 385.3 762.5 387.3 762.5 389.3 762.5 391.3 761.2 393.3 762.5 395.3 762.5 397.3 762.5 399.3 762.5 401.3 761.2 403.3 762.5 405.3 762.5 407.3 762.5 409.3 762.5 411.3 761.2 413.3 762.5 415.3 762.5 417.3 762.5 419.3 762.5 421.3 761.2 423.3 762.5 425.3 762.5 427.3 762.5 429.3 762.5 431.3 761.2 433.3 762.5 435.3 762.5 437.3 762.5 439.3 762.5 441.3 761.2 443.3 762.5 445.3 762.5 447.3 762.5 449.3 762.5 451.3 761.2 453.3 762.5 455.3 762.5 457.3 762.5 459.3 762.5 461.3 761.2 463.3 762.5 465.3 762.5 467.3 762.5 469.3 762.5 471.3 761.2 473.3 762.5 475.3 762.5 477.3 762.5 479.3 762.5 481.3 761.2 483.3 762.5 485.3 762.5 487.3 762.5 489.3 762.5 491.3 761.2 493.3 762.5 495.3 762.5 497.3 762.5 499.3 762.5 501.3 761.2 503.3 762.5 505.3 762.5 507.3 762.5 509.3 762.5 511.3 761.2 513.3 762.5 515.3 762.5 517.3 762.5 519.3 762.5 521.3 761.2 523.3 762.5 525.3 762.5 527.3 762.5 529.3 762.5 531.3 761.2 533.3 762.5 535.3 762.5 537.3 762.5 539.3 762.5 541.3 761.2 543.3 762.5 545.3 762.5 547.3 762.5 549.3 762.5 551.3 761.2 553.3 762.5 555.3 762.5 557.3 762.5 559.3 762.5 561.3 761.2 563.3 762.5 565.3 762.5 567.3 762.5 569.3 762.5 571.3 761.2 573.3 762.5 575.3 762.5 577.2 762.5 577.2 1027.9 577.2 1027.9 575.2 1027.9 573.2 1027.9 571.2 1028.7 569.2 1027.9 567.2 1027.9 565.2 1027.9 563.2 1027.9 561.2 1027.9 559.2 1028.7 557.2 1027.9 555.2 1027.9 553.2 1027.9 551.2 1027.9 549.2 1027.9 547.2 1028.7 545.2 1027.9 543.2 1027.9 541.2 1027.9 539.2 1027.9 537.2 1027.9 535.2 1028.7 533.2 1027.9 531.2 1027.9 529.2 1027.9 527.2 1027.9 525.2 1027.9 523.2 1028.7 521.2 1027.9 519.2 1027.9 517.2 1027.9 515.2 1027.9 513.2 1027.9 511.2 1028.7 509.2 1027.9 507.2 1027.9 505.2 1027.9 503.2 1027.9 501.2 1027.9 499.2 1028.7 497.2 1027.9 495.2 1027.9 493.2 1027.9 491.2 1027.9 489.2 1027.9 487.2 1028.7 485.2 1027.9 483.2 1027.9 481.2 1027.9 479.2 1027.9 477.2 1027.9 475.2 1028.7 473.2 1027.9 471.2 1027.9 469.2 1027.9 467.2 1027.9 465.2 1027.9 463.2 1028.7 461.2 1027.9 459.2 1027.9 457.2 1027.9 455.2 1027.9 453.2 1027.9 451.2 1028.7 449.2 1027.9 447.2 1027.9 445.2 1027.9 443.2 1027.9 441.2 1027.9 439.2 1028.7 437.2 1027.9 435.2 1027.9 433.2 1027.9 431.2 1027.9 429.2 1027.9 427.2 1028.7 425.2 1027.9 423.2 1027.9 421.2 1027.9 419.2 1027.9 417.2 1027.9 415.2 1028.7 413.2 1027.9 411.2 1027.9 409.2 1027.9 407.2 1027.9 405.2 1027.9 403.2 1028.7 401.2 1027.9 399.2 1027.9 397.2 1027.9 395.2 1027.9 393.2 1027.9 391.2 1028.7 389.2 1027.9 387.2 1027.9 385.2 1027.9 383.2 1027.9 381.2 1027.9 379.2 1028.7 377.2 1027.9 375.2 1027.9 373.2 1027.9 371.2 1027.9 369.2 1027.9 367.2 1028.7 365.2 1027.9 363.2 1027.9 361.2 1027.9 359.2 1027.9 357.2 1027.9 355.2 1028.7 353.2 1027.9 351.2 1027.9 349.2 1027.9 347.2 1027.9 345.2 1027.9 343.2 1028.7 341.2 1027.9 339.2 1027.9 337.2 1027.9 335.2 1027.9 333.2 1027.9 331.2 1028.7 329.2 1027.9 327.2 1027.9 325.2 1027.9 323.2 1027.9 321.2 1027.9 319.2 1028.7 317.2 1027.9 315.2 1027.9 313.2 1027.9 311.2 1027.9 309.2 1027.9 307.2 1028.7 305.2 1027.9 303.2 1027.9 301.2 1027.9 299.2 1027.9 297.2 1027.9 295.2 1028.7 293.2 1027.9 291.2 1027.9 289.2 1027.9 287.2 1027.9 285.2 1027.9 283.2 1028.7 281.2 1027.9 279.2 1027.9 277.2 1027.9 275.2 1027.9 273.2 1027.9 271.2 1028.7 269.2 1027.9 267.2 1027.9 265.2 1027.9 263.2 1027.9 261.2 1027.9 259.2 1028.7 257.2 1027.9 255.2 1027.9 253.2 1027.9 251.2 1027.9 249.2 1027.9 247.2 1028.7 245.2 1027.9 243.2 1027.9 241.2 1027.9 239.2 1027.9 237.2 1027.9 235.2 1028.7 233.2 1027.9 231.2 1027.9 229.2 1027.9 227.2 1027.9 225.2 1027.9 223.2 1028.7 221.2 1027.9 219.2 1027.9 217.2 1027.9 215.2 1027.9 213.2 1027.9 211.2 1028.7 209.2 1027.9 207.2 1027.9 205.2 1027.9 203.2 1027.9 201.2 1027.9 199.2 1028.7 197.2 1027.9 195.2 1027.9 193.2 1027.9 191.2 1027.9 189.2 1027.9 187.2 1028.7 185.2 1027.9 183.2 1027.9 181.2 1027.9 179.2 1027.9 177.2 1027.9 175.2 1028.7 173.2 1027.9 171.2 1027.9 169.2 1027.9 167.2 1027.9 165.2 1027.9 163.2 1028.7 161.2 1027.9 159.2 1027.9 157.2 1027.9 155.2 1027.9 153.2 1027.9 151.2 1028.7 149.2 1027.9 147.2 1027.9 145.2 1027.9 143.2 1027.9 141.2 1027.9 139.2 1028.7 137.2 1027.9 135.2 1027.9 133.2 1027.9 131.2 1027.9 130.4 1027.9 130.4 988.9 124.6 982.5 124.6 944.5 118.5 936.8 118.5 907.4 110.6 898.7 110.6 882.4 107.3 880 107.3 762.5z"/>
<path fill="#0000b5" d="M104.6 755.7l475 0l0 302l-475 0l0-144.4l12 2.7l4-0.7l2-2.4l1.3-3.2l0.8-8l0-31l-1.7-14l-1.4-0.6l-2.4 1.6l-7.4 11l-7.2 6.7l0-119.7zM162.6 788.5l-0.3 1.2l1.3 0.9l3.1 0.1l0.2-1l-0.9-1l-3.4-0.2zM234.6 975.5l-4.1 8.2l-4.2 13l0.8 3l2.7 4l3.8 4.1l2 0.8l2-0.9l2.3-3l2.3-5l0.6-4l-1.4-9l-2.3-8l-2.5-3.7l-2 0.5z"/>
<path fill="#0000c2" d="M104.6 755.7l475 0l0 302l-475 0l0-131.7l12 1.2l3-1.2l2-2.1l2-3.6l2-6.4l1.1-6.2l0.1-8l-0.3-41l-0.7-5l-1.2-2.5l-2 0.2l-4 3.5l-5 2.8l-5 8.1l-4 2.1l0-112.2zM157.6 785.5l-1.8 1.2l-0.5 2l2.3 2.5l10 4.3l2 0l2.1-1.8l0.7-3l-4.9-4l-3.9-1.5l-6 0.3zM233.6 960.4l-5 4.3l-5.6 8l-3.8 12l-2.1 12l1.3 4l8.2 14.3l6 5.5l3 1.5l2 0.1l3-1.2l3-4.2l6.4-16l1.1-6l1.3-22l-1.8-4.3l-5-3.8l-8-4.4l-4 0.2z"/>
<path fill="#0000cf" d="M104.6 755.7l475 0l0 302l-331 0l0.1-25l3.9-12.9l2-19.2l1.1-27.9l-0.9-11l-1.2-5.8l-2-3.4l-9-4.1l-8-2.1l-4 0.8l-5 3.8l-6.2 6.8l-5.8 8.7l-2.6 7.3l-2 20l0 3l1 3l16.4 32l0.4 26l-122.2 0l0-118.8l10 0l3-0.8l4-4.7l3-5.8l2-7.4l1.2-10.5l0.3-32l-0.3-22l-2.2-13.4l-1-0.2l-2.7 6.6l-2.7 4l-2.6 1.9l-5 2.1l-4 5.2l-3 1.7l0-107.9zM156.6 782.5l-2 1.3l-1.8 2.9l-0.1 2l1 2l15.9 10.9l2.4 0.1l3.6-6.1l1-2.9l-0.1-2l-11.9-7.4l-5-1.1l-3 0.3z"/>
<path fill="#0000dd" d="M104.6 755.7l475 0l0 302l-324.9 0l0-27l2.7-59l-1.1-29l-1.4-5l-2.3-2.3l-4-0.7l-13-0.6l-6 0.6l-7.8 3l-5.7 3l-3.5 3.3l-3 4.4l-2 5l-3.6 18.3l-2.2 21l0.1 5l12.7 24.2l3.9 8.8l0.4 27l-114.3 0l0-102.4l13-0.6l2.1-2l2.2-5l4.7-15.8l1-6.2l1.3-18l0-31l-0.1-20l-1.1-17l-1.1-4.1l-1-0.7l-2 1.8l-2.7 11l-2.1 4l-2.2 1.8l-5.9 2.2l-6.1 3.8l0-103.8zM155.6 779.5l-2.8 2.2l-1.8 3l-0.6 3l1.1 3l3.1 3.2l8.7 5.8l6.3 6.1l3 0.3l2.6-1.4l1.6-2l1.8-5.1l0.9-4.9l-0.7-3l-8.2-4.2l-7-4.6l-5-1.7l-3 0.3z"/>
<path fill="#0000ec" d="M104.6 755.7l475 0l0 302l-323.1 0l0-28l3.1-68.3l1-12l2.2-12.7l-3.2-14l-4-5.4l-3-1.5l-9 4.6l-12 4.4l-11 5.3l-14 5.1l-3.3 2.5l-1.6 3l-4.2 30l0.5 26l3.6 12l10.2 22l0.5 27l-107.7 0l0-87.2l16-0.2l2-0.7l1.4-2.9l2.6-16l2-22.3l1-21.7l0-31l-0.9-37l-2.1-8.2l-1-0.6l-2 1.9l-3.6 15.9l-2.3 4l-3.1 1.9l-10 3.2l0-101.1zM153.6 776.6l-3 2.4l-2 4.7l-0.4 4l2 4l19.4 16.4l4 0.1l5-2.4l1.3-2.1l1.1-6l0.5-6l-0.9-2.3l-2.2-1.7l-7.1-3l-6.7-5.4l-4.9-2.6l-3.1-0.7l-3 0.6z"/>
<path fill="#0000ff" d="M104.6 755.7l475 0l0 302l-321.6 0l0.1-30l2.5-47.2l2-15.1l6.8-24.7l0.6-5l-1.5-11l-1.3-4l-10.3-15l-3.3-1.8l-10 3.8l-21 13.5l-17 7.5l-7.3 6l-3.8 5l-1.9 16.1l-0.7 16.9l3.9 28l3 11l7.1 20l0.2 26l-101.5 0l0-83l18-0.1l3-1.4l1.5-2.5l2.7-53l0.4-44l-0.7-35l-0.9-7.4l-2-6l-1-0.3l-1 0.6l-2 4.1l-3.1 17l-1.9 4l-3 2.2l-10 2.4l0-99.6zM148.6 774.5l-1.6 3.2l-1 9l0.7 3l3.2 4l16 14l3.7 2.3l5 0l4-1.4l2-1.5l1.6-3.4l1-10l-0.1-3l-1.3-2l-10.2-5l-7-6.4l-4.4-2.6l-4.6-0.9l-7 0.7z"/>
<path fill="#1515ff" d="M104.6 755.7l475 0l0 302l-320.1 0l0.1-29.5l2-32.5l2-9.3l4.2-10.7l3.6-12l5.3-23l0.6-6l-1-13l-3.7-8.6l-4.5-5.4l-6.5-4.4l-4.9-4.6l-2.1-0.7l-3 0.9l-8 4.1l-12.8 4.7l-11.2 7.4l-15 7.2l-11 9.4l-4.2 6l-0.6 5l0.6 33l3.5 25l8.8 31l0.2 26l-97.3 0l0-80.1l19-0.3l4-2.6l1.4-4l1.6-62l0.1-37l-0.7-35l-1.4-11.3l-2-6.5l-1-0.2l-1 1.2l-2 5l-3.6 20.8l-1.5 4l-2.9 2.5l-10 2.1l0-98.6zM146.6 772.2l-1.5 1.5l-0.5 2l-0.4 11l1.1 4l2.4 3l15.9 14.3l5 3.5l3 0.9l3-0.3l4-1.2l3-2l1.9-3.2l0.7-4l0.7-10l-1.3-3l-3-2.1l-8.9-3.9l-6.7-7l-3.4-2l-4-1l-11-0.5z"/>
<path fill="#3232ff" d="M104.6 755.7l475 0l0 302l-317.8 0l0.1-27l1.7-20.4l2.1-7.6l10-19l1.8-5l6.8-40l0.7-17l-1.7-14l-1.2-3l-2.3-3l-5-3l-12.2-3l-5-3.3l-2-0.5l-3 1l-11 7.3l-19.4 6.5l-18.6 9.2l-12 10.1l-3 4.2l-3.1 6.5l-0.5 4l4.3 55l3.8 18l4.8 18l0.2 26l-93.5 0l0-77.2l20-0.5l2-1.1l2-2.3l1.4-4.9l1.1-111l-0.8-28l-1.7-15.3l-1-5.3l-1-1.6l-1 0.3l-1 1.6l-2 6.9l-5.2 29.4l-2.8 2.8l-10 1.9l0-97.7zM145.6 770.5l-1.8 1.2l-0.9 2l-0.3 11l0.5 5l2.5 4.2l17 15.5l6 4l3 0.9l3-0.2l4-0.9l3-1.7l2.9-3.8l1.2-4l0.8-12l-1.2-3l-4.5-3l-8.2-3.5l-6.9-7.5l-2.1-1.3l-5-1.5l-13-1.4z"/>
<path fill="#5050ff" d="M104.6 755.7l475 0l0 302l-161.5 0l-0.5-49l-0.7-6l-2.2-8l-2.1-4.3l-3-3.4l-13-9.2l-10-8.1l-3-0.9l-29 12l-3.8 2.9l-1.6 4l0.3 4l4 13l1.8 4l4.3 7.7l8.5 8.3l3.6 6l0.4 27l-102.8 0l0.1-26l2.6-20l3.5-9l12.2-21l2.2-30l4.7-28l2-3.7l5.1-5.3l3.5-5l3.4-6.6l1.3-4.4l0.2-11l-1.3-4l-5.8-4l-8.4-2.4l-11 5.1l-12 3.7l-8 1.4l-6-1.5l-3 0.2l-10 8.5l-6 3.5l-7 2.7l-16 3.3l-7.7 2.5l-6.3 3.3l-7 5.4l-4.5 4.3l-3.5 5.1l-4.4 9.9l-0.8 5l2.6 17l3.6 41l6.7 34l0.1 26l-89.8 0l0-74.4l17 0l4-0.7l3-2.5l2-6.4l1-114l-0.3-22l-1.9-24l-0.8-5.9l-2-1.6l-2 0.7l-1.6 3.8l-5 34l-1.2 4l-3.2 2.5l-9 1.4l0-96.9zM143.6 769.3l-2 2.2l-0.6 2.2l0.2 12l0.8 5l2.8 5l16.8 15.2l6 4l3 1.1l4 0.1l5-1l3-1.7l3-4l1.6-4.7l1-12l-1.2-4l-4.3-3l-10.1-4.6l-6-6.8l-2.2-1.6l-4.8-1.4l-8-0.8l-5-1.7l-3 0.5z"/>
<path fill="#7272ff" d="M104.6 755.7l475 0l0 302l-154.3 0l0-32l1.9-12l2.3-7l3.9-7l8.2-7l3.1-4l0.9-4l-0.2-10l-1.8-1.5l-3-0.5l-20 1.9l-4-0.3l-3-2.7l-4-6.6l-3-3.2l-9-4.8l-11-4.1l-6-0.2l-21 2.9l-5-1.6l-5.6-3.3l-3.4-3l-2.7-4l-3.9-14l-4-22l-0.2-28l-1.5-5l-4.7-5.2l-4-2.2l-28-3.9l-3 0.7l-9.9 8.6l-8.1 4.4l-12 3.7l-7-0.3l-3 0.9l-3.2 2.3l-7.8 8.7l-9 4.9l-5 1.3l-21 2.1l-6 1.5l-12 9.7l-5 6.9l-4.2 9.9l-2 10l3.4 17l4.8 45l4.6 29l0.3 28l-86.9 0l0-71.5l18-0.1l4-0.9l3-3.4l1.7-7.1l0.8-116l-0.2-21l-1.7-28l-0.6-3.2l-2-1.8l-3 0.3l-2.2 2.7l-5.8 40l-3 2.8l-9 1.4l0-96.2zM142.6 767.5l-2.6 3.2l-0.5 5l0.8 14l1.3 4l2 3.3l17.4 15.7l6.3 4l3.3 1.2l4 0.2l6-0.9l3-1.7l3-3.9l2.2-5.9l0.9-13l-1.1-4l-4-3l-11.1-5l-2.9-2.5l-3.4-4.5l-2.6-1.8l-13-2.2l-6-2.6l-3 0.4zM294.4 990.7l4.2-0.6l27 0.2l4 2.1l6 5.9l13 18.1l4.4 11.3l1.1 6l0 24l-75.1 0l0.1-27l1.6-18l2.4-6l4.1-7l4.4-6.5l2.8-2.5z"/>
<path fill="#9090ff" d="M104.6 755.7l475 0l0 302l-149 0l0.1-32l1.7-7l3.2-7l13.2-17l5.8-5.7l10-7.3l13.7-7l2.6-2l1.2-2l-2.7-15l0.9-14l-0.7-2.8l-3-2.4l-2.7 0.2l-2.5 2l-3.8 6l-2 1.8l-24 8.5l-23 2.6l-2-0.5l-2-2.2l-5-11.6l-2.5-2.6l-25.5-4.2l-7-2.1l-5-2.4l-4.3-3.3l-6.7-8.3l-6.4-11.7l-0.8-5l-0.2-27l-1.5-6l-2.4-6l-3.4-4l-13.3-9.3l-4-2.1l-3-0.4l-26 1l-3 0.7l-2 1.9l-5 7.5l-8 7.1l-7 4.4l-8 3.5l-4 0.9l-5-0.4l-3.3 1.2l-4.7 4l-6.4 9l-4.6 3.2l-5 2.2l-4 0.6l-27-1.7l-3 1.5l-5.1 4.2l-7.9 9.1l-3.2 5.9l-2.6 7l-3.1 16l4.7 20l9 71l0.3 29l-85.1 0l0-68.6l18-0.1l4-0.7l3-2.6l2-7.7l0.6-8.3l0.4-113l-1.4-48l-1.3-4l-2.3-1.2l-4 0.8l-2.2 3.4l-3.8 32l-1.7 8l-2.3 2.1l-9 1.3l0-95.4zM141.6 765.2l-1.8 1.5l-0.8 2l-0.6 7l0.9 15l1.3 4.7l2 3.4l14.2 12.9l8.8 6.2l5 1.9l4 0.5l6-0.5l4-1.8l3.5-4.3l2.8-8l0.3-13l-1.1-4l-4.5-3.5l-12-5.4l-8-8.2l-5-1.4l-8-0.9l-7-3.8l-4-0.3zM302.5 1004.7l23.1-0.6l4 2.6l8.1 9l3.2 5l2 10l0.2 27l-54.4 0l0.1-28l0.8-17l2-4l3-3l7.9-1z"/>
<path fill="#adadff" d="M104.6 755.7l475 0l0 302l-144 0l0-29l0.6-5l4.5-9l12.6-17l3.3-2.7l13.4-6.3l14.6-8.5l14-4l6-3.3l1 0.4l2 3.3l2.6 10.1l-0.1 4l-2.8 14l2.3 3.6l2 0.6l1-0.4l2-3.2l3.9-16.6l-0.5-15l-1.2-4l-2.2-2.2l-2 0l-7 4l-1 0l-4-3.9l-3.9-4.9l-3.1-6.2l-1.7-5.8l-1.5-10l-1.3-3l-4.5-4.2l-7-4.1l-2-0.5l-3 0.6l-8 3.9l-24 7.6l-14-0.6l-9-1.4l-3-4.1l-4-11.5l-3-5.2l-9.4-4.5l-5.6-3.8l-8-9.4l-7.3-5.8l-4.2-5l-2.6-5l-2-6l-2.7-17l-5.2-8.4l-4-3.6l-8.8-6l-18.2-10.4l-3-1l-15 5.7l-18 4.6l-5.1 5.1l-5.8 9l-3.1 3.3l-8.2 5.7l-7.8 4.2l-3 0.9l-6 0.2l-6.1 2.7l-3.9 3.9l-6 10.1l-3 2.6l-4 1.9l-4 0.4l-7-0.8l-11-2.9l-4-3.2l-5-9.1l-1-0.9l-2 1l-4.7 11l-8.3 8.9l-6 12.5l-3 10.3l-2.2 16.3l0.4 4l3.1 9l1.8 8l4.4 31l5.1 43l0.1 27l-83.7 0l0-65.8l18 0l5-0.8l2-1.6l1-2l1.4-6.8l0.8-10l0.4-127l-1-37l-0.8-2l-1.8-1.7l-4-0.5l-3 1.3l-2.1 3.9l-3.4 31l-1.5 8.2l-1 1.5l-2 1l-8 0.9l0-94.6zM139.6 762.4l-1.2 2.3l-0.9 6l0.3 16l1 9l2.4 5l7.3 6l5.1 5.3l11 7.6l7 2.7l7 0.9l4-0.3l3-1.7l4.7-5.5l3.1-9l-0.7-15l-1.8-4l-4.3-3l-12-5.2l-3-2.6l-3.4-4.2l-2.6-1.8l-13-2.3l-8-5.3l-3-1.1l-2 0.2zM323.1 1015.7l2.5 0l2 0.8l2.2 2.2l1.5 3l0.8 10l0 26l-22 0l0.5-36l1.5-2l2.5-1.5l8.5-2.5z"/>
<path fill="#cbcbff" d="M104.6 755.7l33.1 0l-1.1 20l0.6 22l1.2 5l15.2 12.5l10 6.4l13 6.3l6 5.5l5 1l1.9-0.7l0.5-1l1.5-9l3.5-8l1.6-7l0.1-4l-2.9-15l-2.4-3l-2.8-2l-14-6.2l-8-7.9l-5-1.4l-8-1l-3-1.2l-6.4-6.3l-1.1-2l-0.4-3l403.9 0l0.4 8l2.6 6.3l3 3.2l9 5.2l4 1.7l4-0.3l3-1.3l5-4.3l2-0.6l0 284.1l-139.2 0l0-29l0.7-5l3.2-6l7.3-10.5l3-3.7l3-2.2l12-4.6l9-2.2l8-3.6l2 1.3l2 3.5l3.3 12l2.7 6.7l6 8.2l3 1.5l6-2.9l3-2.4l3.6-7.1l6.7-23l-2.2-20l-2.1-8.3l-3-3.7l-9-3.6l-5.4-3.4l-3.1-4l-3.9-9l-3.6-5.6l-4.8-4.4l-6.2-3.3l-7-1.8l-11 1.3l-23 0.7l-19-3.1l-4-1.2l-2.8-4.6l-3.6-13l-2.6-6l-3-3.1l-18.1-13.9l-2.8-3l-8-20l-4.4-8l-3.7-5l-5.1-4l-13.5-7l-10.6-8l-6.8-3.2l-5-1.4l-3 0.8l-15.4 8.8l-16.6 6.9l-6.8 7.1l-12.5 16l-10.7 6.3l-8 2.2l-10 4.4l-3 3.1l-7.4 12l-3.6 2.5l-4-0.2l-6.4-2.3l-3.6-2.3l-4-3.7l-4.1-6l-8.4-17l-5.5-13l-3-3.2l-2 0.5l-3.3 5.7l-1.7 5.7l-3.5 32.3l-4.5 12.1l-2.6 11.9l-2.4 27l0.6 4l5.4 17.6l4.8 32.4l4.4 40l0.2 27l-82.4 0l0-62.9l19 0l5-0.8l2.5-3.3l1.5-7.9l0.8-12.1l0.6-127l-0.4-23l0.8-13l-0.2-2l-1.5-2l-4.1-2.2l-5 0.6l-2.8 2.6l-1.2 4l-4.3 37l-1.2 2l-1.5 0.9l-8 0.9l0-93.8z"/>
<path fill="#e9e9ff" d="M104.6 755.7l31.8 0l-0.4 35l-1 8l-1.4 2.1l-6-0.4l-4 0.7l-3.7 3.6l-1.1 4l-2.2 23.4l-2 13l-1 1.8l-1.3 0.8l-7.7 0.9l0-92.9zM145 755.7l344.3 0l0.6 6l2.8 2l3.9 0.7l7.6-0.7l4.4-1.4l1.6-1.6l0.4-5l27.5 0l0.2 8l1.6 9l1.7 6.3l2.4 4.7l6.1 6l5.5 9l5.8 6l8.2 4.3l6 1.8l4 0.3l0 246.6l-59 0l0.2-32l2.3-9l1.9-13l5.3-16l0.5-18l2.4-19l1.6-4l3.8-4.6l10-7.9l2.1-4.5l3-13l-0.2-28l2.3-16l-1.2-5.1l-3-4.1l-2 0.3l-1.7 3.9l-5.6 23l-4.4 23l-1.5 11l-2.3 7l-4.5 7.7l-2 2.1l-3.4 1.2l-10.6 1.8l-4-0.8l-3-2.7l-7.1-13.3l-5.9-6.8l-6-3.8l-9.2-3.4l-3-2l-3.8-14.1l-2-3.9l-19.9 8l-12.1 2.9l-3-1.3l-6-4.9l-10-5.2l-3-4.4l-4-11.6l-3-5.9l-13.1-14.6l-14.9-21.4l-11.9-8.6l-10.1-9.6l-29-8.4l-4 0.3l-10 7.3l-23 11.5l-9 8.9l-16.6 21l-4.4 2.7l-19.4 8.3l-5.1 4l-6.5 7.9l-3 1.1l-8-4.1l-4-3.2l-9.3-17.7l-0.5-3l0.3-8l-5.2-23l0-15l-3.3-7.7l-2.9-10.3l-2.6-3l-3.5-2.6l-15-6.5l-8-7.6l-13-2.4l-3-1.3l-4.6-5.6l-1-5zM138.8 813.7l2.8-0.8l16 7.4l17 11.4l2.8 3l1.8 4l0.2 19l-6.9 41l-2.4 38l0.5 4l6.4 21l4.8 32l3.8 38l0.1 26l-81.1 0l0-57.6l23-0.5l3-2.9l2.1-7l1.3-18l-0.2-36l1.6-111l1.2-7.3l2.2-3.7zM468.1 1004.7l4.5-0.3l5 2.4l4 3.9l2.4 5l1.9 10l0.1 32l-41.4 0l0-29l0.8-5l5.2-8.4l5-6l3-1.6l9.5-3z"/>
<path fill="#fff3f3" d="M104.6 755.7l31 0l-0.4 33l-1.3 8l-2.3 2.4l-8 1l-4 3.6l-1.5 4l-2.5 26.3l-2 10.5l-2.4 2.2l-6.6 0.8l0-91.8zM146.3 755.7l336.1 0l0.6 7l1.5 2l3.3 2l5.8 1.4l18 1.2l11 2l2.4 1.4l1.2 2l2.6 15l11.4 25l2.3 9l-2.9 33l-2 15l-4.4 23l-6.4 19l-2.9 6l-3.3 4.4l-7 5.4l-2 0.5l-1-0.6l-7-13.9l-6.5-9.8l-5.6-18l-2.9-4l-4-3.6l-8-4.2l-10 0.7l-3-1.2l-3-3.7l-3-8.7l-2-1.9l-3 1.6l-2 2.7l-5 12.2l-7 6.7l-2 0.2l-11.6-15.8l-8.4-14l-11-11.2l-11-13.8l-6.4-6l-16.2-9l-10.8-5l-31.6-7.2l-4 0l-3.4 1.2l-13.6 9.2l-15 6.8l-4 2.7l-10 9.7l-11.2 15.6l-8.1 9l-25.7 13.4l-5 1.6l-3-0.5l-4.6-3.5l-3-7l-1.3-7l0.9-14l-3.9-8l-4.4-15l-1.7-9.1l-1-2.1l-6-5.7l-4-10.4l-2.6-2.7l-5.4-3.7l-14.8-6.3l-7.5-7l-15.7-3.5l-2.7-2.5l-1.8-3l-0.8-5zM143.3 821.7l5.3-0.7l8 2.6l5 4.2l11 6.9l2 2l1.4 3l-0.2 16l-4.3 17l-0.8 6l-2.1 58l0.8 5l6.9 23l4.7 31l3.1 36l0.1 26l-51.3 0l-0.2-57l1.9-28l-0.2-38l1.2-67.9l3-32.4l2.3-9.7l2.4-3zM575.9 872.7l3.7-0.9l0 185.9l-51.1 0l-0.3-49l0.7-6l2.4-7l3.7-8l1.9-9l3.2-8l3.4-12l11.6-20l4-22l2.1-16l2.4-9.5l5.2-11.5l3.3-4l3.8-3zM468.3 1012.7l3.3 0.5l2.2 1.5l3.8 4.5l2.2 4.5l0.6 5l0 29l-31.7 0l0-29l1-5l3.9-5.8l3-2.6l11.7-2.6z"/>
<path fill="#ffd4d4" d="M104.6 755.7l30.4 0l-0.5 32l-1.1 7l-2.5 3l-8.3 1.9l-4 4.1l-1.4 4l-1.3 17l-2.7 16l-2.5 4l-6.1 1.4l0-90.4zM147.2 755.7l327.4 0l0.5 8l1.1 2l2.2 2l8.2 3.3l14.5 2.7l4 3l7 11l3.1 11l2.6 6l7.8 9.7l3.4 6.3l1 6l0.5 28l-4.5 31l-1.5 6l-2.9 6.5l-2 2.5l-5 1.4l-3-0.7l-4.9-7.7l-5.1-5.6l-18-33.8l-5.1-4.6l-8.9-3.3l-4.4-4.7l-1.3-4l1.6-16l-1.8-29l-1.2-5l-2.9-2.6l-3 0.3l-7.3 3.3l-2.7 2.5l-6.3 26.5l-1.7 4.9l-2 3l-5.1 3.1l-12.9 3.3l-3-0.1l-3-1.5l-7.8-8.7l-5.7-4l-14.5-4.8l-15.1-6.2l-23.2-5l-16.7-2.4l-6 0.3l-7.8 2.1l-6.2 3l-10.8 7l-12.7 6l-5.5 4l-9 10.2l-9.9 15.8l-8.2 9l-15.9 7.9l-6 0.8l-5-1.9l-3.3-4.8l-1-5l1.4-13l-0.7-5l-4.8-10l-7.6-21.7l-2-2.6l-5.1-3.7l-4.3-9l-1.9-2l-6.7-4.4l-15-6l-8-7.1l-16-3.7l-3.7-4.8l-0.7-5zM155.7 832.7l3.9-0.4l6 2l5 3.3l1.4 3.1l-0.8 5l-2 5l-2.6 3.6l-4.9 4.4l-1.9 3l-1.6 5l-0.5 4l1 3l4.9 8.8l2.5 10.2l1.3 14l-0.1 32l8.3 28.4l4.3 28.6l2.5 36l0.1 26l-47.4 0l-0.8-59l1-26l0.3-65.7l1.2-28.3l0.8-7.4l2-5.3l8-5.3l3.3-4l0.3-2l-1.4-8l-0.4-7l2-4l4.3-3zM576.9 889.7l2.7-0.8l0 168.8l-48.1 0l-0.5-50l0.7-5l6-13l3.9-11l17.4-36l1.6-6l4.1-24l2.4-8l5.5-9.9l4.3-5.1zM457.7 1021.7l11.9-0.6l2 1.2l1.7 2.4l0.6 4l0 29l-20.5 0l0.2-31l1.2-3l2.9-2z"/>
<path fill="#ffb4b4" d="M104.6 755.7l29.9 0l-0.6 31l-0.9 6l-2.4 3.7l-8 2.2l-2.7 2.1l-2.3 3l-1.4 4l-1.1 16l-2.5 13.3l-1 2.7l-2 2.4l-5 1.8l0-88.2zM147.9 755.7l301.2 0l-0.1 6l-1.2 10l-6.2 7.9l-4.9 8.1l-6.1 14.7l-5 5.6l-8 5.9l-3-0.3l-5-4.3l-4-1.6l-20-2.7l-13-3.1l-21-3.1l-24-2.3l-16 2.7l-9.4 3.5l-8.6 5.2l-13.9 6.8l-5.1 3.3l-4 3.9l-5 6.5l-3 5.1l-4 9.7l-8 10.6l-2.1 1.9l-7.9 3.9l-5 1.2l-5-1.6l-3.5-3.5l-0.5-3l1.5-13l-1.5-8l-1.4-4l-4.2-7l-10.4-21.7l-6-4.4l-5.2-7.9l-6.8-4.5l-16.4-6.5l-6.6-5.8l-3-1.7l-12-2.1l-3-1.2l-3-4.2l-0.7-5zM483.4 782.7l4.2-0.7l9 1.4l3 2.5l1.7 3.8l-0.8 32l-2.5 6l-3.4 2.3l-4-0.4l-8-2.1l-3-2.3l-1.5-3.5l0.2-32l1.7-4l3.4-3zM161.4 838.7l2.2 0l0.9 1l-0.9 1.9l-1.4 0.1l-1.2-1l0.4-2zM142 880.7l6.6-0.1l4 2.7l8 11.2l3.6 10.2l1.6 34l8.9 30l4.1 28l1.6 35l0 26l-43.8 0l-1-60l1.1-86l1.9-24.9l1-3.6l2.4-2.5zM577.3 906.7l2.3-0.7l0 151.7l-45.9 0l-0.3-49l0.6-5l10.6-22.8l3-4.8l5.4-6.4l8.9-17l4.4-13l5.1-24l3.2-6.2l2.7-2.8z"/>
<path fill="#ff9696" d="M104.6 755.7l29.4 0l-0.6 30l-0.9 6l-1.9 3.3l-9 3.2l-5.2 5.5l-1.2 4l-1.5 17l-2.1 8.4l-3 6.3l-4 1.9l0-85.6zM148.5 755.7l291.5 0l0 4l-0.4 4l-2.3 8l-4.7 8.8l-3 3.3l-15 10.5l-7-0.4l-25 2l-23-0.4l-34-2.5l-24 5l-20.1 7.7l-10.9 6.4l-6.6 5.6l-5 8l-3.5 14l-1.9 2l-7 4l-2 2.5l-2.7 5.5l-2.3 2l-2 0.5l-2-0.5l-1.4-3l1.9-15l-2.3-15l-2.4-4l-14.8-16.4l-5-7.1l-7-4.6l-4.1-4.9l-2.9-2.2l-7.5-3.8l-13.5-4.7l-9-7l-15.2-3.3l-3.2-4l-0.7-5zM141.4 898.7l2.2-0.8l5 0l3 0.9l3 1.8l4 5.9l3 10.1l2.6 23.1l9.5 30l3.8 27l0.6 61l-40.1 0l-0.1-27l-1.2-33l0.6-60l1.3-28.8l1-6.6l1.8-3.6zM579.1 938.7l0.5-0.2l0 44.5l-7 1.4l-1.8 1.3l-1.1 2l0.5 3l6.7 13l0.4 2l-5.8 19l-0.2 33l-35.3 0l0-48l0.6-5l12-22.8l3-2.5l6-2.4l2.2-2.3l9.7-16l6.1-16.1l2-3l1.5-0.9z"/>
<path fill="#ff7a7a" d="M104.6 755.7l29 0l-0.7 28l-0.8 7l-2.5 3.8l-8 2.6l-3.4 2.6l-2.5 3l-1.6 4l-1.4 14l-1.1 4.9l-4 9.5l-3 2.6l0-82zM149.1 755.7l283.2 0l0 5l-1 7l-1.9 5l-5.8 4.8l-8 4.5l-10 0.1l-19 3.6l-12 3.1l-13 1.8l-34-2.2l-11 1.5l-16 3.3l-25.5 6.5l-8.9 4l-8.6 6.3l-4 1.1l-5-1.3l-22-8.9l-13.9-10.2l-8.1-3.3l-6-5.1l-8-3.6l-14-4.7l-9-6.7l-15-3.1l-2.9-3.5l-0.6-5zM148.7 915.7l2.9 0.1l2 1.3l3 5.2l16.2 49.4l3.3 27l-0.5 59l-35.9 0l-0.1-26l-1.7-35l1.1-59l1.1-11l1.5-6.1l2-2.4l5.1-2.5zM549.9 987.7l2.7-0.9l2.9 1.9l7.8 12l1.9 4l0 3l-3.9 18l-0.1 32l-22.1 0l0.6-51l3.9-8.8l6.3-10.2z"/>
<path fill="#ff5c5c" d="M104.6 755.7l28.5 0l-0.8 28l-1 7l-2.2 3l-8.5 2.9l-5.8 5.1l-2 4l-3.2 17.2l-3 5.7l-2 1.5l0-74.4zM149.6 755.7l275.7 0l0 3l-0.6 5l-1.8 3l-4.3 4.4l-4 2.3l-8-0.4l-20 3.6l-14 5.8l-12 3.1l-37-1.4l-47.5 7.6l-10.5 2.5l-11 3.5l-22-3.9l-12.6-5.1l-14.4-3.5l-8-5.1l-21-7l-9-6.4l-14.7-3l-2.6-3l-0.7-5zM148.2 933.7l1.4-0.9l2 0.6l4.2 6.3l4.8 5.3l8 18.8l2.9 8.9l2.9 26l-1.3 33l0 26l-30.5 0l0-26l-3.1-33l0.2-29l0.9-14.6l1.3-9.4l2.1-6l4.2-6zM550.4 997.7l1.2 0.5l2 2.5l2.4 6l-0.6 51l-12.9 0l0-32l1-18l1.1-4l2-3.3l2-2.1l1.8-0.6z"/>
<path fill="#ff3c3c" d="M104.6 755.7l28.1 0l-0.9 27l-1.2 7.8l-2 2.4l-8 2.5l-6.3 4.3l-3.3 5l-4.4 13.9l-2 2.5l0-65.4zM150.1 755.7l265.8 0l-0.5 6l-1.8 2.4l-28 4.2l-14 7.7l-11 4l-36-0.6l-31 3.7l-29 2.3l-11 2.8l-22-1.3l-26-4.3l-8-4.2l-20-5.9l-10-6.4l-14-2.7l-2.7-2.7l-0.8-5zM150 946.7l1.6-0.2l2 0.9l5 3l2 2.2l7 14l2.2 6.1l2.7 26l-2.2 33l-0.1 26l-23.6 0l-0.1-26l-3-17l-2-16l0.4-22l0.7-9.4l2-10.1l2.8-7.5l2.6-3zM548.1 1018.7l0.5-0.3l0.3 1.3l0.9 6l0.1 32l-3.4 0l0-32l1.6-7z"/>
<path fill="#ff1f1f" d="M104.6 755.7l27.6 0l-1 28l-0.6 4.7l-1 2.3l-2 1.7l-6 1.5l-6.7 2.8l-10.3 9l0-50zM150.6 755.7l235.2 0l-1.3 4l-4.5 4l-11.4 7.2l-9 3.8l-34 0l-33 3l-29-0.6l-3 0.8l-4 3.1l-3 1.3l-20 0.4l-27-2.5l-9-3.5l-16.5-4l-4.5-1.8l-8.4-5.2l-14.6-2.9l-2.2-2.1l-0.8-5zM151.4 957.7l5.2-0.3l3 1.6l7 11.3l1.4 4.4l2.4 24l-3.7 33l-0.1 26l-15.6 0l-0.2-26l-4.5-19l-2.3-17l1.6-25.1l3-9.7l2.8-3.2z"/>
<path fill="#ff0000" d="M104.6 755.7l27.2 0l-1.4 30l-0.8 3.4l-2 2.2l-23 5.9l0-41.5zM151.2 755.7l223.4 0l-0.4 3l-2.1 3l-8.5 5.5l-5 1.9l-65 2.8l-31-3l-2 0.9l-5 5.6l-2.4 1.3l-22.6 1.8l-24-1l-9-2.5l-13-2.3l-7-2.4l-9-5.1l-15-3.1l-2-2.4l-0.4-4zM156.5 965.7l3.1 1l4.4 7l2.3 10l1.7 13l-1.5 14l-4.1 21l-0.2 26l-4.8 0l-0.2-26l-6.6-16l-3.8-18l0.9-14l1.7-11l2.2-4l4.9-3z"/>
<path fill="#ec0000" d="M107 755.7l24.3 0l-1.4 28l-0.7 4l-1.6 2.5l-7 1.8l-4 0.2l-12-3.6l0-23.1l2-4.1l0.4-5.7zM151.7 755.7l212.9 0l-1 4.1l-2 1.9l-3 1.4l-30 2l-35-0.9l-30-4.4l-3 2.1l-5.5 7.8l-3.5 1.9l-20 2.7l-23 0.6l-23-3.3l-8-2.6l-9-4.5l-14-2.7l-2.3-2.1l-0.6-4zM156.6 976.7l2-0.7l2 3l2.8 8.7l1.7 9l-2.5 15.3l-1.7 4.7l-1.3 1.1l-2-1.9l-5-9.1l-2.7-9.1l1.7-10.6l5-10.4z"/>
<path fill="#dd0000" d="M108.4 755.7l22.3 0l-1.1 24.6l-1 6.5l-2 2.6l-6 1.3l-4-0.6l-5-3.4l-3.1-4l-3.5-9l2.6-8.6l0.8-9.4zM152.4 755.7l104.9 0l-0.3 4l-1.2 3l-2.2 2.4l-2 0.9l-22 4.2l-23 2.1l-21-2.1l-8-2.5l-9-3.8l-13-2.5l-2.5-1.7l-0.7-4zM158.4 993.7l1.2-0.1l1.5 3.1l-0.3 3l-1.2 1.8l-2-1.3l-1-2.5l0.3-2l1.5-2z"/>
<path fill="#cf0000" d="M109.5 755.7l20.6 0l-0.4 16l-0.8 8l-1.3 6.2l-2 2.3l-5 1l-3-0.9l-5-4.9l-2.5-3.7l-2-7l1.4-17zM153.2 755.7l98.7 0l-0.2 2l-1.1 1.6l-5.7 2.4l-16.3 4.5l-23 3.6l-18-0.9l-4-0.8l-14-4.7l-14-2.9l-2-1.8l-0.4-3z"/>
<path fill="#c20000" d="M110.6 755.7l18.8 0l-1 21l-1.8 6.9l-3 2.9l-3 0.4l-2-1.1l-5.6-6.1l-2.3-4l-0.8-4l0.7-16zM154.3 755.7l79.6 0l-1.3 3.6l-4.2 2.4l-14.8 4.2l-10 1.5l-17-0.4l-9-1.8l-21-5.5l-2-1.9l-0.3-2.1z"/>
<path fill="#b50000" d="M111.7 755.7l17 0l-1.1 19.3l-2 5l-3 2.5l-2 0.2l-2-1.2l-5-5.1l-1.5-2.7l-0.6-3l0.2-15zM156.5 755.7l64.5 0l-0.6 3l-2.1 2l-7.2 3l-6.5 1.3l-16 0.4l-11-1.6l-17.4-4.1l-3.1-2l-0.6-2z"/>
<path fill="#a80000" d="M112.8 755.7l14.9 0l-1.1 16.6l-1 2.4l-3 2.9l-2 0.4l-2-1l-3-2.6l-1.8-2.7l-1-16zM160.1 755.7l53 0l-0.3 2l-1.2 2l-4 2.1l-5 0.9l-15 0.8l-10-1.1l-13.5-2.7l-3.4-2l-0.6-2z"/>
<path fill="#990000" d="M114.2 755.7l12.4 0l-1 11l-1.7 4l-2.3 2.1l-3-0.8l-2.9-4.3l-1.2-5l-0.3-7zM164 755.7l40.8 0l-1.2 2.6l-3.2 1.4l-13.8 1.8l-19.9-2.8l-1.9-1l-0.8-2z"/>
<path fill="#870000" d="M117 755.7l7.7 0l-0.5 5l-1.6 2.4l-2 0.1l-2.1-1.5l-1.1-2l-0.4-4z"/>
<path fill="none" stroke="#fff" stroke-width="4.8" stroke-linejoin="round" d="M135.6 755.7l-0.4 33l-1.3 8l-2.3 2.4l-8 1l-4 3.6l-1.5 4l-2.5 26.3l-2 10.5l-2.4 2.2l-6.6 0.8M482.4 755.7l0.6 7l1.5 2l3.3 2l6.8 1.5l24 2.1l6.4 2.4l1.5 3l2.7 15l10.1 22l3 9l-3.9 45l-4.1 23l-2.2 9l-4.8 14l-4 8l-4.7 5.2l-5 3.6l-2 0.5l-2-1.8l-6-12.7l-6.5-9.8l-5.6-18l-2.9-4l-4-3.6l-8-4.2l-10 0.7l-3-1.2l-3-3.7l-3-8.7l-2-1.9l-3 1.6l-2 2.7l-5 12.2l-7 6.7l-2 0.2l-11.6-15.8l-8.4-14l-11-11.2l-11-13.8l-6.4-6l-16.2-9l-10.4-4.9l-31-7.1l-4-0.3l-4.4 1.3l-14.6 9.7l-17.2 8.3l-10.8 10.4l-11.2 15.6l-8.1 9l-27.7 14.2l-4 0.8l-3-1l-4.3-4l-2.9-8l-0.7-6l0.9-13l-3.9-8l-4.4-15l-1.7-9.1l-1-2.1l-6-5.7l-4-10.4l-2.6-2.7l-5.4-3.7l-14.8-6.3l-7.5-7l-15.7-3.5l-2.7-2.5l-1.8-3l-0.8-5M132.9 1057.7l-0.2-57l1.9-28l-0.2-38l1.2-67.9l2.1-19.1l0.4-10l2.5-12l2-3.5l5-1.3l9.2 2.8l4.8 4.1l11 6.9l2 2l1.4 3l-0.2 16l-4.3 17l-0.8 6l-2.1 58l0.8 5l6.9 23l4.7 31l3.1 36l0.1 26M448.7 1057.7l0-29l1-5l3.9-5.8l3-2.6l13-2.7l3 1.1l3 2.9l2.9 4.1l1.6 4l0.3 33M528.5 1057.7l-0.3-50l1-6l5.8-14l1.9-9l3.2-8l3.4-12l11.6-20l4-22l2.3-17l3.2-11.2l3-6.8l3.5-5l4.5-3.9l4-1"/>
</g>
<clipPath id="p21"><path d="M810.8 762.5 812.8 762.5 814.8 761.2 816.8 762.5 818.8 762.5 820.8 762.5 822.8 762.5 824.8 761.2 826.8 762.5 828.8 762.5 830.8 762.5 832.8 762.5 834.8 761.2 836.8 762.5 838.8 762.5 840.8 762.5 842.8 762.5 844.8 761.2 846.8 762.5 848.8 762.5 850.8 762.5 852.8 762.5 854.8 761.2 856.8 762.5 858.8 762.5 860.8 762.5 862.8 762.5 864.8 761.2 866.8 762.5 868.8 762.5 870.8 762.5 872.8 762.5 874.8 761.2 876.8 762.5 878.8 762.5 880.8 762.5 882.8 762.5 884.8 761.2 886.8 762.5 888.8 762.5 890.8 762.5 892.8 762.5 894.8 761.2 896.8 762.5 898.8 762.5 900.8 762.5 902.8 762.5 904.8 761.2 906.8 762.5 908.8 762.5 910.8 762.5 912.8 762.5 914.8 761.2 916.8 762.5 918.8 762.5 920.8 762.5 922.8 762.5 924.8 761.2 926.8 762.5 928.8 762.5 930.8 762.5 932.8 762.5 934.8 761.2 936.8 762.5 938.8 762.5 940.8 762.5 942.8 762.5 944.8 761.2 946.8 762.5 948.8 762.5 950.8 762.5 952.8 762.5 954.8 761.2 956.8 762.5 958.8 762.5 960.8 762.5 962.8 762.5 964.8 761.2 966.8 762.5 968.8 762.5 970.8 762.5 972.8 762.5 974.8 761.2 976.8 762.5 978.8 762.5 980.8 762.5 982.8 762.5 984.8 761.2 986.8 762.5 988.8 762.5 990.8 762.5 992.8 762.5 994.8 761.2 996.8 762.5 998.8 762.5 1000.8 762.5 1002.8 762.5 1004.8 761.2 1006.8 762.5 1008.8 762.5 1010.8 762.5 1012.8 762.5 1014.8 761.2 1016.8 762.5 1018.8 762.5 1020.8 762.5 1022.8 762.5 1024.8 761.2 1026.8 762.5 1028.8 762.5 1030.8 762.5 1032.8 762.5 1034.8 761.2 1036.8 762.5 1038.8 762.5 1040.8 762.5 1042.8 762.5 1044.8 761.2 1046.8 762.5 1048.8 762.5 1050.8 762.5 1052.8 762.5 1054.8 761.2 1056.8 762.5 1058.8 762.5 1060.8 762.5 1062.8 762.5 1064.8 761.2 1066.8 762.5 1068.8 762.5 1070.8 762.5 1072.8 762.5 1074.8 761.2 1076.8 762.5 1078.8 762.5 1080.8 762.5 1082.8 762.5 1084.8 761.2 1086.8 762.5 1088.8 762.5 1090.8 762.5 1092.8 762.5 1094.8 761.2 1096.8 762.5 1098.8 762.5 1100.8 762.5 1102.8 762.5 1104.8 761.2 1106.8 762.5 1108.8 762.5 1110.8 762.5 1112.8 762.5 1114.8 761.2 1116.8 762.5 1118.8 762.5 1120.8 762.5 1122.8 762.5 1124.8 761.2 1126.8 762.5 1128.8 762.5 1130.8 762.5 1132.8 762.5 1134.8 761.2 1136.8 762.5 1138.8 762.5 1140.8 762.5 1142.8 762.5 1144.8 761.2 1146.8 762.5 1148.8 762.5 1150.8 762.5 1152.8 762.5 1154.8 761.2 1156.8 762.5 1158.8 762.5 1160.8 762.5 1162.8 762.5 1164.8 761.2 1166.8 762.5 1168.8 762.5 1170.8 762.5 1172.8 762.5 1174.8 761.2 1176.8 762.5 1178.8 762.5 1180.8 762.5 1182.8 762.5 1184.8 761.2 1186.8 762.5 1188.8 762.5 1190.8 762.5 1192.8 762.5 1194.8 761.2 1196.8 762.5 1198.8 762.5 1200.8 762.5 1202.8 762.5 1204.8 761.2 1206.8 762.5 1208.8 762.5 1210.8 762.5 1212.8 762.5 1214.8 761.2 1216.8 762.5 1218.8 762.5 1220.8 762.5 1222.8 762.5 1224.8 761.2 1226.8 762.5 1228.8 762.5 1230.8 762.5 1232.8 762.5 1234.8 761.2 1236.8 762.5 1238.8 762.5 1240.8 762.5 1242.8 762.5 1244.8 761.2 1246.8 762.5 1248.8 762.5 1250.8 762.5 1252.8 762.5 1254.8 761.2 1256.8 762.5 1258.8 762.5 1260.8 762.5 1262.8 762.5 1264.8 761.2 1266.8 762.5 1268.8 762.5 1270.8 762.5 1272.8 762.5 1274.8 761.2 1276.8 762.5 1278.8 762.5 1280.7 762.5 1280.7 1027.9 1280.7 1027.9 1278.7 1027.9 1276.7 1027.9 1274.7 1028.7 1272.7 1027.9 1270.7 1027.9 1268.7 1027.9 1266.7 1027.9 1264.7 1027.9 1262.7 1028.7 1260.7 1027.9 1258.7 1027.9 1256.7 1027.9 1254.7 1027.9 1252.7 1027.9 1250.7 1028.7 1248.7 1027.9 1246.7 1027.9 1244.7 1027.9 1242.7 1027.9 1240.7 1027.9 1238.7 1028.7 1236.7 1027.9 1234.7 1027.9 1232.7 1027.9 1230.7 1027.9 1228.7 1027.9 1226.7 1028.7 1224.7 1027.9 1222.7 1027.9 1220.7 1027.9 1218.7 1027.9 1216.7 1027.9 1214.7 1028.7 1212.7 1027.9 1210.7 1027.9 1208.7 1027.9 1206.7 1027.9 1204.7 1027.9 1202.7 1028.7 1200.7 1027.9 1198.7 1027.9 1196.7 1027.9 1194.7 1027.9 1192.7 1027.9 1190.7 1028.7 1188.7 1027.9 1186.7 1027.9 1184.7 1027.9 1182.7 1027.9 1180.7 1027.9 1178.7 1028.7 1176.7 1027.9 1174.7 1027.9 1172.7 1027.9 1170.7 1027.9 1168.7 1027.9 1166.7 1028.7 1164.7 1027.9 1162.7 1027.9 1160.7 1027.9 1158.7 1027.9 1156.7 1027.9 1154.7 1028.7 1152.7 1027.9 1150.7 1027.9 1148.7 1027.9 1146.7 1027.9 1144.7 1027.9 1142.7 1028.7 1140.7 1027.9 1138.7 1027.9 1136.7 1027.9 1134.7 1027.9 1132.7 1027.9 1130.7 1028.7 1128.7 1027.9 1126.7 1027.9 1124.7 1027.9 1122.7 1027.9 1120.7 1027.9 1118.7 1028.7 1116.7 1027.9 1114.7 1027.9 1112.7 1027.9 1110.7 1027.9 1108.7 1027.9 1106.7 1028.7 1104.7 1027.9 1102.7 1027.9 1100.7 1027.9 1098.7 1027.9 1096.7 1027.9 1094.7 1028.7 1092.7 1027.9 1090.7 1027.9 1088.7 1027.9 1086.7 1027.9 1084.7 1027.9 1082.7 1028.7 1080.7 1027.9 1078.7 1027.9 1076.7 1027.9 1074.7 1027.9 1072.7 1027.9 1070.7 1028.7 1068.7 1027.9 1066.7 1027.9 1064.7 1027.9 1062.7 1027.9 1060.7 1027.9 1058.7 1028.7 1056.7 1027.9 1054.7 1027.9 1052.7 1027.9 1050.7 1027.9 1048.7 1027.9 1046.7 1028.7 1044.7 1027.9 1042.7 1027.9 1040.7 1027.9 1038.7 1027.9 1036.7 1027.9 1034.7 1028.7 1032.7 1027.9 1030.7 1027.9 1028.7 1027.9 1026.7 1027.9 1024.7 1027.9 1022.7 1028.7 1020.7 1027.9 1018.7 1027.9 1016.7 1027.9 1014.7 1027.9 1012.7 1027.9 1010.7 1028.7 1008.7 1027.9 1006.7 1027.9 1004.7 1027.9 1002.7 1027.9 1000.7 1027.9 998.7 1028.7 996.7 1027.9 994.7 1027.9 992.7 1027.9 990.7 1027.9 988.7 1027.9 986.7 1028.7 984.7 1027.9 982.7 1027.9 980.7 1027.9 978.7 1027.9 976.7 1027.9 974.7 1028.7 972.7 1027.9 970.7 1027.9 968.7 1027.9 966.7 1027.9 964.7 1027.9 962.7 1028.7 960.7 1027.9 958.7 1027.9 956.7 1027.9 954.7 1027.9 952.7 1027.9 950.7 1028.7 948.7 1027.9 946.7 1027.9 944.7 1027.9 942.7 1027.9 940.7 1027.9 938.7 1028.7 936.7 1027.9 934.7 1027.9 932.7 1027.9 930.7 1027.9 928.7 1027.9 926.7 1028.7 924.7 1027.9 922.7 1027.9 920.7 1027.9 918.7 1027.9 916.7 1027.9 914.7 1028.7 912.7 1027.9 910.7 1027.9 908.7 1027.9 906.7 1027.9 904.7 1027.9 902.7 1028.7 900.7 1027.9 898.7 1027.9 896.7 1027.9 894.7 1027.9 892.7 1027.9 890.7 1028.7 888.7 1027.9 886.7 1027.9 884.7 1027.9 882.7 1027.9 880.7 1027.9 878.7 1028.7 876.7 1027.9 874.7 1027.9 872.7 1027.9 870.7 1027.9 868.7 1027.9 866.7 1028.7 864.7 1027.9 862.7 1027.9 860.7 1027.9 858.7 1027.9 856.7 1027.9 854.7 1028.7 852.7 1027.9 850.7 1027.9 848.7 1027.9 846.7 1027.9 844.7 1027.9 842.7 1028.7 840.7 1027.9 838.7 1027.9 836.7 1027.9 834.7 1027.9 833.9 1027.9 833.9 988.9 828.1 982.5 828.1 944.5 822 936.8 822 907.4 814.1 898.7 814.1 882.4 810.8 880 810.8 762.5z"/></clipPath>
<g clip-path="url(#p21)">
<path fill="#000087" d="M810.8 762.5 812.8 762.5 814.8 761.2 816.8 762.5 818.8 762.5 820.8 762.5 822.8 762.5 824.8 761.2 826.8 762.5 828.8 762.5 830.8 762.5 832.8 762.5 834.8 761.2 836.8 762.5 838.8 762.5 840.8 762.5 842.8 762.5 844.8 761.2 846.8 762.5 848.8 762.5 850.8 762.5 852.8 762.5 854.8 761.2 856.8 762.5 858.8 762.5 860.8 762.5 862.8 762.5 864.8 761.2 866.8 762.5 868.8 762.5 870.8 762.5 872.8 762.5 874.8 761.2 876.8 762.5 878.8 762.5 880.8 762.5 882.8 762.5 884.8 761.2 886.8 762.5 888.8 762.5 890.8 762.5 892.8 762.5 894.8 761.2 896.8 762.5 898.8 762.5 900.8 762.5 902.8 762.5 904.8 761.2 906.8 762.5 908.8 762.5 910.8 762.5 912.8 762.5 914.8 761.2 916.8 762.5 918.8 762.5 920.8 762.5 922.8 762.5 924.8 761.2 926.8 762.5 928.8 762.5 930.8 762.5 932.8 762.5 934.8 761.2 936.8 762.5 938.8 762.5 940.8 762.5 942.8 762.5 944.8 761.2 946.8 762.5 948.8 762.5 950.8 762.5 952.8 762.5 954.8 761.2 956.8 762.5 958.8 762.5 960.8 762.5 962.8 762.5 964.8 761.2 966.8 762.5 968.8 762.5 970.8 762.5 972.8 762.5 974.8 761.2 976.8 762.5 978.8 762.5 980.8 762.5 982.8 762.5 984.8 761.2 986.8 762.5 988.8 762.5 990.8 762.5 992.8 762.5 994.8 761.2 996.8 762.5 998.8 762.5 1000.8 762.5 1002.8 762.5 1004.8 761.2 1006.8 762.5 1008.8 762.5 1010.8 762.5 1012.8 762.5 1014.8 761.2 1016.8 762.5 1018.8 762.5 1020.8 762.5 1022.8 762.5 1024.8 761.2 1026.8 762.5 1028.8 762.5 1030.8 762.5 1032.8 762.5 1034.8 761.2 1036.8 762.5 1038.8 762.5 1040.8 762.5 1042.8 762.5 1044.8 761.2 1046.8 762.5 1048.8 762.5 1050.8 762.5 1052.8 762.5 1054.8 761.2 1056.8 762.5 1058.8 762.5 1060.8 762.5 1062.8 762.5 1064.8 761.2 1066.8 762.5 1068.8 762.5 1070.8 762.5 1072.8 762.5 1074.8 761.2 1076.8 762.5 1078.8 762.5 1080.8 762.5 1082.8 762.5 1084.8 761.2 1086.8 762.5 1088.8 762.5 1090.8 762.5 1092.8 762.5 1094.8 761.2 1096.8 762.5 1098.8 762.5 1100.8 762.5 1102.8 762.5 1104.8 761.2 1106.8 762.5 1108.8 762.5 1110.8 762.5 1112.8 762.5 1114.8 761.2 1116.8 762.5 1118.8 762.5 1120.8 762.5 1122.8 762.5 1124.8 761.2 1126.8 762.5 1128.8 762.5 1130.8 762.5 1132.8 762.5 1134.8 761.2 1136.8 762.5 1138.8 762.5 1140.8 762.5 1142.8 762.5 1144.8 761.2 1146.8 762.5 1148.8 762.5 1150.8 762.5 1152.8 762.5 1154.8 761.2 1156.8 762.5 1158.8 762.5 1160.8 762.5 1162.8 762.5 1164.8 761.2 1166.8 762.5 1168.8 762.5 1170.8 762.5 1172.8 762.5 1174.8 761.2 1176.8 762.5 1178.8 762.5 1180.8 762.5 1182.8 762.5 1184.8 761.2 1186.8 762.5 1188.8 762.5 1190.8 762.5 1192.8 762.5 1194.8 761.2 1196.8 762.5 1198.8 762.5 1200.8 762.5 1202.8 762.5 1204.8 761.2 1206.8 762.5 1208.8 762.5 1210.8 762.5 1212.8 762.5 1214.8 761.2 1216.8 762.5 1218.8 762.5 1220.8 762.5 1222.8 762.5 1224.8 761.2 1226.8 762.5 1228.8 762.5 1230.8 762.5 1232.8 762.5 1234.8 761.2 1236.8 762.5 1238.8 762.5 1240.8 762.5 1242.8 762.5 1244.8 761.2 1246.8 762.5 1248.8 762.5 1250.8 762.5 1252.8 762.5 1254.8 761.2 1256.8 762.5 1258.8 762.5 1260.8 762.5 1262.8 762.5 1264.8 761.2 1266.8 762.5 1268.8 762.5 1270.8 762.5 1272.8 762.5 1274.8 761.2 1276.8 762.5 1278.8 762.5 1280.7 762.5 1280.7 1027.9 1280.7 1027.9 1278.7 1027.9 1276.7 1027.9 1274.7 1028.7 1272.7 1027.9 1270.7 1027.9 1268.7 1027.9 1266.7 1027.9 1264.7 1027.9 1262.7 1028.7 1260.7 1027.9 1258.7 1027.9 1256.7 1027.9 1254.7 1027.9 1252.7 1027.9 1250.7 1028.7 1248.7 1027.9 1246.7 1027.9 1244.7 1027.9 1242.7 1027.9 1240.7 1027.9 1238.7 1028.7 1236.7 1027.9 1234.7 1027.9 1232.7 1027.9 1230.7 1027.9 1228.7 1027.9 1226.7 1028.7 1224.7 1027.9 1222.7 1027.9 1220.7 1027.9 1218.7 1027.9 1216.7 1027.9 1214.7 1028.7 1212.7 1027.9 1210.7 1027.9 1208.7 1027.9 1206.7 1027.9 1204.7 1027.9 1202.7 1028.7 1200.7 1027.9 1198.7 1027.9 1196.7 1027.9 1194.7 1027.9 1192.7 1027.9 1190.7 1028.7 1188.7 1027.9 1186.7 1027.9 1184.7 1027.9 1182.7 1027.9 1180.7 1027.9 1178.7 1028.7 1176.7 1027.9 1174.7 1027.9 1172.7 1027.9 1170.7 1027.9 1168.7 1027.9 1166.7 1028.7 1164.7 1027.9 1162.7 1027.9 1160.7 1027.9 1158.7 1027.9 1156.7 1027.9 1154.7 1028.7 1152.7 1027.9 1150.7 1027.9 1148.7 1027.9 1146.7 1027.9 1144.7 1027.9 1142.7 1028.7 1140.7 1027.9 1138.7 1027.9 1136.7 1027.9 1134.7 1027.9 1132.7 1027.9 1130.7 1028.7 1128.7 1027.9 1126.7 1027.9 1124.7 1027.9 1122.7 1027.9 1120.7 1027.9 1118.7 1028.7 1116.7 1027.9 1114.7 1027.9 1112.7 1027.9 1110.7 1027.9 1108.7 1027.9 1106.7 1028.7 1104.7 1027.9 1102.7 1027.9 1100.7 1027.9 1098.7 1027.9 1096.7 1027.9 1094.7 1028.7 1092.7 1027.9 1090.7 1027.9 1088.7 1027.9 1086.7 1027.9 1084.7 1027.9 1082.7 1028.7 1080.7 1027.9 1078.7 1027.9 1076.7 1027.9 1074.7 1027.9 1072.7 1027.9 1070.7 1028.7 1068.7 1027.9 1066.7 1027.9 1064.7 1027.9 1062.7 1027.9 1060.7 1027.9 1058.7 1028.7 1056.7 1027.9 1054.7 1027.9 1052.7 1027.9 1050.7 1027.9 1048.7 1027.9 1046.7 1028.7 1044.7 1027.9 1042.7 1027.9 1040.7 1027.9 1038.7 1027.9 1036.7 1027.9 1034.7 1028.7 1032.7 1027.9 1030.7 1027.9 1028.7 1027.9 1026.7 1027.9 1024.7 1027.9 1022.7 1028.7 1020.7 1027.9 1018.7 1027.9 1016.7 1027.9 1014.7 1027.9 1012.7 1027.9 1010.7 1028.7 1008.7 1027.9 1006.7 1027.9 1004.7 1027.9 1002.7 1027.9 1000.7 1027.9 998.7 1028.7 996.7 1027.9 994.7 1027.9 992.7 1027.9 990.7 1027.9 988.7 1027.9 986.7 1028.7 984.7 1027.9 982.7 1027.9 980.7 1027.9 978.7 1027.9 976.7 1027.9 974.7 1028.7 972.7 1027.9 970.7 1027.9 968.7 1027.9 966.7 1027.9 964.7 1027.9 962.7 1028.7 960.7 1027.9 958.7 1027.9 956.7 1027.9 954.7 1027.9 952.7 1027.9 950.7 1028.7 948.7 1027.9 946.7 1027.9 944.7 1027.9 942.7 1027.9 940.7 1027.9 938.7 1028.7 936.7 1027.9 934.7 1027.9 932.7 1027.9 930.7 1027.9 928.7 1027.9 926.7 1028.7 924.7 1027.9 922.7 1027.9 920.7 1027.9 918.7 1027.9 916.7 1027.9 914.7 1028.7 912.7 1027.9 910.7 1027.9 908.7 1027.9 906.7 1027.9 904.7 1027.9 902.7 1028.7 900.7 1027.9 898.7 1027.9 896.7 1027.9 894.7 1027.9 892.7 1027.9 890.7 1028.7 888.7 1027.9 886.7 1027.9 884.7 1027.9 882.7 1027.9 880.7 1027.9 878.7 1028.7 876.7 1027.9 874.7 1027.9 872.7 1027.9 870.7 1027.9 868.7 1027.9 866.7 1028.7 864.7 1027.9 862.7 1027.9 860.7 1027.9 858.7 1027.9 856.7 1027.9 854.7 1028.7 852.7 1027.9 850.7 1027.9 848.7 1027.9 846.7 1027.9 844.7 1027.9 842.7 1028.7 840.7 1027.9 838.7 1027.9 836.7 1027.9 834.7 1027.9 833.9 1027.9 833.9 988.9 828.1 982.5 828.1 944.5 822 936.8 822 907.4 814.1 898.7 814.1 882.4 810.8 880 810.8 762.5z"/>
<path fill="#000099" d="M808.1 755.7l8.1 0l0.6 5l2.3 2.9l1-0.1l2-1.9l1.1-2.9l0.2-3l459.7 0l0 302l-368.4 0l0-28l-1.1-32l-6.3-9l-3.2-16.1l-2-2l-10-5.6l-3.5-5.3l-1.8-8l-1.7-14.4l-8-29.6l-2.6-2l-8.4-3.3l-2.2 1.3l-1.7 5l-1.2 31l-3.6 32l0.6 86l-49.9 0l0-302z"/>
<path fill="#0000a8" d="M829.7 755.7l453.4 0l0 302l-365.6 0l-0.1-28l-1.1-30l-1.1-5l-5.4-12l-3.2-11l-6.8-8l-5.5-8l-2.4-5l-1.9-7l-6.9-35l-2-5.8l-4-5.7l-10-6l-2-0.4l-3 3.5l-4.2 12.4l-3.8 45.4l-0.9 19.6l-0.1 23l1.7 35l0 28l-46.7 0l0-298.8l8 12.6l2 1.8l2 0.3l4.2-2.9l3.8-5.3l1.2-3.7l0.4-6z"/>
<path fill="#0000b5" d="M831.3 755.7l451.8 0l0 302l-363.2 0l-0.2-28l-1.7-30l-1.9-7.8l-6.6-19.2l-7.9-11l-7.3-17l-2-7l-5.6-30l-5.6-14l-2-3.6l-3-3l-6-3.4l-5-1.8l-3 1.3l-2 3.2l-5.8 17.3l-4 34l-0.3 58l2 35l0 27l-43.9 0l0-285.8l3 1.4l6 4.9l2 0.8l2-0.4l5-3.1l2.9-2.8l1.1-2.3l1.2-14.7z"/>
<path fill="#0000c2" d="M832.2 755.7l450.9 0l0 302l-360.9 0l-0.1-26l-2.6-32l-6.4-23.2l-1.9-4.8l-7.5-10l-3.2-7l-5.8-20l-4.6-27.9l-8.7-22.1l-3.3-4.7l-4-3l-7-2.7l-5-0.9l-2 0.8l-1 1.4l-6 16.5l-2.9 12.6l-1.1 12.4l-1.3 21.6l-0.1 32l0.4 28l1.6 32l0 27l-41.6 0l0-279.9l10 5.1l3-0.3l5.3-2.9l2.7-3.2l2-4l1.1-16.8z"/>
<path fill="#0000cf" d="M832.8 755.7l450.3 0l0 302l-358.6 0l-0.1-26l-3.6-34l-7.2-25l-8.6-12l-3.6-8l-5.5-23l-3.2-23l-7.1-24l-3.3-7l-6.2-7.3l-4-2.2l-8-1.3l-3 0.5l-2 1.2l-3 5l-6.1 17.1l-2.1 16l-1.9 33l-0.1 30l2 63l0.1 27l-39.9 0l0-275l10 2.8l6.4-1.8l3.2-2l4.4-9.2l0.7-16.8z"/>
<path fill="#0000dd" d="M833.4 755.7l108.4 0l0.6 4l2.7 3l4 1.3l7 0.2l5-0.2l2.6-1.3l2-3l0.5-4l316.9 0l0 302l-356.5 0l0-26l-4.4-34l-7.5-26l-9.2-13l-4.1-10l-4.6-23l-2.7-20.5l-3.7-15.5l-3.3-19.6l-3-9.3l-2-4l-3-1l-11-0.4l-3 0.3l-3 1.4l-4 3l-2.1 2.6l-1.9 4l-5 15.1l-2 8.9l-2.7 51l0.1 31l2 58l0 27l-38.4 0l0-271.2l11 1.1l7-2.7l2.8-2.2l3.9-10l0.6-17z"/>
<path fill="#0000ec" d="M833.9 755.7l103 0l0.7 5l4.5 5.9l7 4.7l6 0.7l6-0.4l3.4-1.9l7.2-9l1-5l95.1 0l0.5 6l2.8 10l6.6 7l3.4 1.2l30-8l1.7-2.2l1.1-4l0.9-10l168.3 0l0 302l-354.7 0l-0.1-26l-4.7-34l-8-27l-9.5-13.6l-4.4-11.4l-4-22l-2.6-19.7l-2.9-14.3l-2.1-21.4l-2.5-11.6l-2.5-7.4l-3-4.3l-11-0.6l-5 0.2l-2 0.8l-11.5 12.3l-1.7 5l-5.6 26l-2.2 53l0.1 31l1.9 58l0 27l-37 0l0-267.7l10 0l8-3.5l3-2.2l2-3.6l2.2-7l0.6-18z"/>
<path fill="#0000ff" d="M834.4 755.7l98.2 0l0.2 4l1 3l5.3 7.3l8 5.4l8 2.1l7-1.9l6.3-3.9l8.9-10l1.3-3l0.3-3l80 0l0.7 6l3.4 10l12.4 11l2.7 1.6l3 0.6l29-4l3-1.3l3-3.9l2.3-5l1.3-15l163.4 0l0 302l-353.3 0l-0.1-27l-4.9-33l-7.9-27l-2.8-5.3l-7.9-10.7l-4-11l-8.6-54l-1.5-22.3l-2-13.5l-4-12.2l-2-3.1l-5-1.9l-12-0.8l-3 0.4l-3 2.1l-9 10.2l-2.6 4.1l-1.4 4.8l-4.4 29.2l-1.6 55l1.8 116l-35.8 0l0-264.1l10-1.3l9-4.9l3-2.8l2-4.3l1.9-7.6l0.4-17z"/>
<path fill="#1515ff" d="M834.8 755.7l94.6 0l0.2 4l1.1 4l3.2 7l2.2 2.7l11 6.4l5 1.9l4 0.6l3-1l15.8-10.6l7.7-9l1.2-3l0.1-3l68.6 0l1 6l3.7 9l2.8 4l14.1 11.7l5 2.6l4 0.5l26-0.5l4-1.2l7-9.5l11.4-5.6l2.1-2l1.8-6l0.5-9l147.2 0l0 302l-352.1 0l-0.1-27l-5.4-35l-7.8-26l-3.1-6l-5.5-6.9l-3-5l-2.4-6.1l-1.7-7l-7.3-50l-1.7-30l-1.9-10.8l-2.8-8.2l-4.2-4.8l-6-3.1l-13-2.3l-3 1.1l-6 5l-4 4.3l-3 4.6l-3.1 10.2l-2.9 24l-0.9 11l-0.9 50l1.6 118l-34.8 0l0-260.2l10-2.4l10-6.9l2.3-2.5l2.3-5l1.7-7l0.4-18z"/>
<path fill="#3232ff" d="M835.3 755.7l91.3 0l0.4 5l2.1 6.5l2.9 6.5l3 4l3.1 2.2l6.3 2.8l11.7 3.2l3.9-1.2l5.1-4.2l15.3-9.8l7.2-9l1.2-6l56.7 0l1.1 5l7 12l11.4 12l14.1 11.7l3 0.8l5 0.1l22 0l4-1.3l8-10.8l14-7.1l4.9-4.4l1-3l-0.9-15l143 0l0 302l-8.3 0l-0.5-29l-6-21l-2.2-4.9l-2-1.5l-2 1.7l-8 13.4l-3 7.5l-1.4 8.8l-0.1 25l-317.5 0l-0.2-27l-5.4-35l-8-27l-3.4-6.7l-8-10.9l-2.7-6.4l-1.8-7l-6.8-49l-1.7-32.6l-2.3-14.4l-1.2-3l-2.5-3.1l-9-7.9l-14-4.5l-2.6 0.5l-3.2 2l-9.2 8.5l-4 9.3l-2.7 14.2l-2.1 30l-0.6 50l1.3 120l-33.9 0l0-256.2l5-1l5-2.1l5.7-5.7l5.3-3.9l2-2.6l2-4.5l1.8-8l0.4-18z"/>
<path fill="#5050ff" d="M835.7 755.7l88.2 0l0.6 6l2.3 7l2.6 6l3.7 6l5 3.1l14 4.5l5 0.9l3-1l8.3-6.5l16.5-10l7.7-10l1.2-6l39.1 0l0.4 3l1.1 2l11.7 8.4l16 19.4l9 7.9l7 7.4l3 1.5l6 0.2l25-0.8l2-1.5l7-9.8l21-12.9l4.6-4.8l1.7-4l-3.2-11l-0.4-5l138.3 0l0 207.7l-3 1l-3 3.3l-5.6 13l-9.4 5.1l-7 7.4l-3 4.6l-3 12.3l-2.9 19.6l-0.2 28l-312.9 0l-0.1-27l-5.4-35l-8.3-28l-4.2-8.2l-7.9-10.8l-3.8-11l-6.6-49l-1.8-33l-1.9-16l-3-5l-12-12.4l-8-3.7l-4-0.8l-4 0.7l-5 2.4l-4.5 2.8l-2.9 3l-2.6 4.9l-2.6 7.1l-2.1 14l-1.8 35l-0.5 50l1.1 120l-33.1 0l0-251.2l10-4.6l5.9-7.2l6.1-5.6l2-3.1l2-5.2l1.3-7.1l0.3-18z"/>
<path fill="#7272ff" d="M836.1 755.7l85.7 0l0.3 6l2.5 9l3.5 7.5l3 4.5l5 3.3l12 4.2l9 2.3l3-0.9l15.2-10.9l13.1-7l7.7-8.5l7.5-5.5l1-4l15.1 0l0.7 4l3.8 4l8.9 5.9l11 5.1l3 2.2l12.1 14.8l17.9 18.7l3 1.9l6 0.4l11-0.2l16-2.2l2.3-1.6l5.7-6.5l17-8.9l9-7.2l5-5.3l4.8-8.1l0.1-3l-2.5-9l-0.4-5l129 0l0 190.9l-5 1.5l-4.6 4.6l-8.7 15l-10.7 12.2l-4.2 7.8l-2.9 11l-4.2 30l-0.3 29l-308.4 0l-0.2-28l-5.5-35l-8.7-29l-4.2-8l-7.4-9.7l-2.4-5.3l-1.6-5.9l-3.6-23.1l-2.8-25l-2.3-40l-1.3-10.7l-2-3.9l-8.3-9.4l-5.7-8l-7-3.7l-3-0.7l-4 0.7l-6 2.6l-10 6.5l-2 3.2l-2 5.4l-2 10l-1.2 16l-1 33l-0.2 107l0.8 61l-32.4 0l0-237.3l5.5-10.7l6.5-6.6l5.1-7.4l5.6-6l2.3-4l1.7-5l1.1-7l0.2-18zM1158.1 840.5l-3.5 14.2l2.5 16.3l1 2.5l1-0.4l0.5-2.4l1.6-16l-1.1-10.7l-1-3.5l-1 0zM1213.1 994.2l-1 0.6l-0.8 1.9l0.8 3.2l1.3-0.2l1.1-2l-0.4-2.7l-1-0.8z"/>
<path fill="#9090ff" d="M836.5 755.7l83.6 0l0.5 7l2 9l3.2 8l2.8 4l6.5 4.5l12 4.9l9 2.5l4-0.9l18-12l11-5.1l8-5.4l16-4.9l10 5.4l22.3 9l25.9 30l6.8 6.9l3 1.4l15-0.2l13-2.3l5-1.7l8-5.2l9-2.7l5 0.7l3.6 2.1l3 3l1.9 3l1.7 5l2.2 16l-3.5 17l5.1 11.1l7 26.9l1 2.3l1 0.6l2.1-4.9l2.6-23l2.3-12l-0.4-20l1.6-19l-1-3l-8-13l-1.7-5l-0.8-5l1.2-4l8.4-14l0.3-3l-1.6-14l119 0l0 179.5l-6 1.5l-6 3.1l-3 2.6l-7.6 14.3l-9.4 13.7l-3.6 7.3l-3.7 15l-5 37l-0.2 28l-303.4 0l-0.2-28l-6-37l-8.9-29.1l-4-7.6l-8-10.5l-3.1-8.8l-4.1-25l-2.3-22l-3.5-52.6l-2-4.7l-7.9-9.7l-5.1-9.8l-5-3.7l-6-1.9l-5 1l-7 3l-10 7.7l-3.7 4.7l-1.8 9l-1.5 22.8l-0.7 34.2l-0.4 108l0.8 60l-31.7 0l0-231.6l3-2.8l3.2-8.6l2.3-4l14.6-20l2.7-5l2.5-12l0.1-18zM1216.1 970.5l-6 13.2l-3.7 13l1.2 11l1.5 3.9l2 1.9l3-1.1l3-3.7l3-5.7l1.5-5.3l-1.6-24l-1.9-3.7l-2 0.5z"/>
<path fill="#adadff" d="M836.9 755.7l81.9 0l0.3 7l2 10.8l2.5 7.2l2.5 4l5 4.1l13 7.3l10 2.5l3 0.1l3-0.9l20-11.6l16-7.4l14-2.9l4 0l18.2 6.8l13.8 6.7l8.5 9.3l9.8 13l12.7 14.1l3 2.3l31-1.7l10-4.4l4 0.1l4 1l2.7 2.6l2.3 5.8l2.6 10.2l1.8 14l8.3 17l4.4 18l3.7 19l1.2 2.6l2 1.3l1.7-0.9l1-2l2.3-11.3l2.7-26.7l3.8-18l-0.1-19l3.9-20l-2.3-11.4l-5.5-12.6l-0.4-3l8.4-16l1.1-17l108.4 0l0 169l-4 0.7l-7 3.1l-5.6 4.2l-4.9 7l-18.9 32l-4.6 29.3l-5.5 28.7l-0.2 28l-23.3 0l0.5-27l2.9-4l7.5-5l2.6-3l2.5-6.3l1.6-9.7l0.3-8l-1.2-23l-3.1-8l-1.6-2.6l-2-1.6l-3 1.6l-7.3 11.6l-3.3 9l-3.2 13l-3.1 37l-0.1 26l-181.3 0l-0.2-26l-3.5-7.1l-3-1.5l-9.5 4.6l-4.8 4l-0.7 3l0 23l-59.8 0l-0.2-28l-6.5-39l-9-29l-4.5-8.3l-7-8.7l-3.2-8l-4.9-30l-5.1-71l-1.8-5l-6.8-9l-2.6-8l-2.8-5l-4.8-2.7l-8-1.2l-7 1l-7 2.3l-12 11.1l-2.2 5.5l-1.5 30l-0.5 34l0 84l-0.6 26l0.8 59l-31 0l0-227.4l3-2.3l7.6-17.3l15.7-24l1.4-5l1.1-8l0-18z"/>
<path fill="#cbcbff" d="M837.3 755.7l80.3 0l1.7 17l3.8 12l3 3.4l7.6 5.6l4.4 5.3l6 2.5l9 0.6l6-0.7l8-4.6l12-5.6l16-6.3l16-2.9l5 0.9l28 11.5l3 2.1l3.6 4.2l9.4 13.5l9.1 10.5l7.9 13.3l2.8 2.7l3.2 0.3l14-2.1l14-0.2l7-2.7l3 0.8l2.3 1.9l4.7 8.1l11.6 25.9l9.4 40l4 4.7l5 2.3l2-0.7l1.3-1.3l2.4-6l3.6-35l4.5-21l0.5-19l5.4-21l-0.6-11l-2.3-16l7.9-18l2.4-4l7.5-7l1.2-4l89.2 0l0 159.2l-4 0.9l-9 5.2l-10.1 8.7l-5.7 11l-5.7 8l-8.5 14l-2.7 7l-3.3 12l-1 0l-2.3-13l-3.5-13l-2.9-5l-3.3-2.6l-2 0.3l-2 2.1l-13.5 20.2l-1.9 4l-6.7 23l-5.5 32l-0.4 28l-161.9 0l-0.4-27l-9.7-19l-3-4.1l-2-1.2l-3 0.6l-13 6l-14 8.6l-5 5.1l-2.6 4l-0.7 3l0 24l-36.2 0l-0.2-28l-6.9-40l-9.4-30l-4.4-8l-7.6-9.4l-2.1-5.6l-5.3-30l-2.6-32.6l-1.5-34.4l-1.5-8l-1.8-4l-4.3-6l-2.5-12l-2.4-3.4l-5-2.1l-9-1l-15 1.7l-3.7 1.8l-9.3 8.6l-2.2 3.4l-1.2 5l-1.3 64l0.2 85l-1.1 27l0.7 58l-30.1 0l0-223.2l2-0.9l2-2.9l7.5-19l5.5-7.5l10-17.2l2.3-13.3l-0.1-18z"/>
<path fill="#e9e9ff" d="M837.7 755.7l78.8 0l1.6 18.7l2.2 9.3l2.6 5l6.1 6l2.1 11l1.1 2l1.9 1.4l28-5l9.2-5.4l8.8-3.8l17-4.8l12-1.1l4 0l4 1.1l26 10.4l3 2l3.6 4.2l5.4 8.8l7.3 9.2l9.6 18l6.1 6.8l2 1l3 0.4l33-0.2l3 1.6l9 11.1l4.3 8.3l5.7 27.3l5 15.7l3.5 5l3.3 3l4.2 2l4 0.7l3-1.1l2-2.2l2.6-7.4l2.4-29.7l5.9-29.3l1-18l6.7-21l2.4-27l7-18.2l5-4.6l10.7-6.2l1.7-2l0.5-3l74.1 0l0 149.2l-4 0.7l-5.2 3.1l-14.8 14l-3 4l-5.5 10l-15.5 16.9l-1-0.4l-1-2l-3.5-10.5l-3.5-4.3l-2-0.8l-2 0.4l-3 2l-2 2.5l-9 15.8l-10.4 14.4l-8.4 26l-4 20l-4.3 15l-0.2 26l-144.1 0l-0.1-24l-1-5l-5.5-11l-11-18l-3-3l-4-1.3l-17 6.9l-15.8 10.4l-13.2 15.7l-1.3 2.3l-0.6 3l0 24l-25 0l-0.3-29l-2.5-16l-4.9-24l-9.9-31l-3.8-7l-7.5-9l-1.6-3l-5.6-28.4l-3.2-36.6l-1.5-37l-2-9l-3.7-7l-1.3-13l-1-2l-2.3-1.6l-8-2l-12-0.4l-14 1.8l-3 1.4l-9 7.6l-2 3.7l-1.3 6.5l-0.8 66l0.2 84l-2 28l0.8 57l-28.9 0l0-219l2-0.9l2-2.6l8.2-22.5l5.8-7.7l9.6-17.3l2.2-14l-0.2-18z"/>
<path fill="#fff3f3" d="M838.1 755.7l77.3 0l1.7 23.3l1.1 6.7l1.3 4l4.1 6l2.5 17.6l2 5.2l2 1.2l4-1.1l9-4.9l11-2.4l11-3.9l14-8.1l19-3.8l12-0.9l4 0.4l29 13l3 2.6l3.7 6.1l6.1 8l7.2 16l2.9 5l12.1 13.1l4 1.6l13 1.1l18-1.5l3 1.5l6 5.7l3.9 5.5l2.2 6l6.9 34l9.1 15l3.9 2.6l5 0.6l5-0.2l4-1.1l2.5-1.9l1.9-4l2.1-11l0.7-22l7.3-34l1.3-18l7.7-19l4.5-18l9.2-28l3.4-3l15.9-9l2.4-3l0.5-3l61.6 0l0 139.1l-9 1.5l-4 1.6l-2.5 1.8l-2.5 3.6l-3.8 9.4l-7.5 8l-5.4 9l-5.3 4l-3 0.4l-3.2-2.4l-1.3-3l-1.5-8.8l-4 2.4l-7 1.3l-5 5.2l-9.9 18.9l-11.1 15.5l-4.4 8.5l-7.6 25l-4 19.3l-5.4 14.7l-0.3 27l-130.7 0l-0.1-26l-0.6-4l-2.2-6l-14.7-24l-8-6.1l-4-2.2l-3-0.8l-11 3.2l-16.2 7.9l-3.8 3.2l-17 18.9l-3.4 5.9l-1.4 4l-0.3 26l-16.9 0l-0.3-27l-4.4-23l-5-21l-10.3-31.3l-4-7l-8-10.1l-6-28.8l-3.2-36.8l-1.4-39l-3.2-13l-0.6-14l-1.6-2.7l-3-1.9l-5.1-1.4l-7.9-0.5l-11 0.2l-13 1.3l-4 1.4l-6 3.7l-2 1.7l-2 3.3l-1.6 5.9l-0.5 6l-0.2 148l-1.4 20l-1.3 4.2l-2 1.3l-25 0.3l0-154.7l2-1l2-2.4l8.8-25.7l5.4-7l10.1-18l2-15l-0.3-18z"/>
<path fill="#ffd4d4" d="M838.5 755.7l76 0l1.2 19l-2.3 19l5.6 10l3.5 18l1.5 2l2.1 1.1l3 0.3l4-0.7l12-5.3l11-2.5l6-4l8.7-3.9l7.3-4.5l4-1.1l15-1.7l15 0.5l5 1.8l14.7 7l13.3 9l3.1 3l11.6 25l19.3 25l3 1.4l14 2.4l14 0.1l6-1.2l3 1.2l4 6.2l2.6 6.9l4.2 24l7 12l5.2 11.1l1 1l2 0.5l6-1.1l12-3.7l4.4-2.8l2.2-3l2.3-14l0.5-23l8.4-33l2.2-17l7.8-12l11.2-26.2l6.5-11.8l2.1-6l1.9-10l1.1-2l4-3l10.4-4.5l3.9-2.5l2.4-3l0.7-4l48 0l0 124.7l-3 0.6l-8 4.3l-10 2.8l-4.5 3.6l-3.5 5.7l-1 0.3l-1-0.9l-5.2-11.1l-2-11l0.2-8l2.1-12l-0.5-17l2.2-5l3.6-4l5.6-3.8l8-3.8l4.3-3.4l1.4-3l-0.7-7l-3-13l-1-2.3l-1.7-1.7l-12.3-2.9l-17-0.9l-3 0.8l-2.2 4l-5.1 23l3.1 19l-0.2 22l1.6 16l-0.8 19l-1.4 8.8l-3.9 10.2l-6.1 7.4l-2.8 4.6l-9.2 20.9l-11 15.3l-4.6 9.8l-6.6 22l-4.2 18l-6.1 21l-0.5 29l-125.5 0l-0.2-29l-1.3-11l-2-7.3l-5.9-10.7l-3.1-4.1l-17-14.7l-5-3l-5 0.2l-9 2.8l-10.3 7.8l-8.7 5.1l-3 3.2l-5.1 8.7l-14.9 17.1l-3 1l-4 0l-4.1-3.1l-3.9-6.9l-10.4-35.1l-8-23l-3.6-7.2l-7.7-9.8l-1.3-3.3l-6.2-30.7l-2.6-33l-0.6-35l-1.4-16l-0.1-13l-0.8-4l-1.4-2l-2.9-2l-9-1.5l-30 1.6l-11 2l-3 1.6l-2 3.7l-1.9 6.6l-0.8 8l0 149l-1.3 18.3l-1 3.5l-2 1.8l-25 0.8l0-148.2l3-2.4l2-3.8l8-25.4l6-7.8l3-6.4l4.8-6.4l2-4l1.9-16l-0.3-19z"/>
<path fill="#ffb4b4" d="M838.9 755.7l74.7 0l1 20l-1.3 5l-4.1 9l-3.1 2.8l-4 1.8l-6 1.1l-41 2.8l-7-0.1l-6-2.1l-2.2 0.7l-2.5 16l-0.7 9l0.4 149l-1 14l-1.7 6l-2.3 1.7l-24 0.8l0-142.3l3-2.8l2-4l3.6-13.4l5.2-15l5.2-6.4l4-8l5.9-5.6l1.1-2l1.3-20l-0.5-18zM1243.5 755.7l39.6 0l0 25l-10 2.6l-13 1.2l-14-2.2l-6-2.6l-4.3-4l-1.2-2l0-2l7.7-10l1.1-3l0.1-3zM981.9 808.7l15.2 0l16 1l6 2.7l17.1 10.3l5.5 4l3.4 4l7.9 17l10.1 17.6l9.5 14.4l5.5 6.8l3 1.9l17 7l12 0l6-3.7l2 0.4l3 4.9l4.4 17.7l8.5 15l6.1 15l3 2l3.6-1l19.4-10l5.9-4l2.7-3l1.7-13l1.1-24l13.6-35l14-27.4l3-1.6l6-0.2l3 0.4l2 1.5l2.6 5.3l1.1 5l-2.7 17l-1 36l-8.9 27l-3.1 12l-4 7.5l-8 10.1l-3.7 6.4l-3.1 8l-5.2 17.7l-9 36l-2 10.5l-0.4 29.8l-122.3 0l-0.3-33.1l-3-23.9l-1.9-6l-2.1-3.4l-9-9.7l-10.1-8.9l-1.7-3l-2.5-28l-0.4-23l-2.3-5.6l-3-2.5l-3 2.1l-3.4 5l-4.6 12l-4 8l-1.2 18l-4.7 15l-3.7 7l-3.2 4l-7.2 6.2l-11.6 16.8l-6.4 5.9l-3 1.7l-2 0.1l-4-1.1l-3-2.4l-10-17.3l-13.6-37.9l-3.6-7l-6.6-9l-2.2-8l-5-24l-2.4-34l0.4-34l1.8-17l2.2-8.5l2-2.2l2 2.9l2.6 8.8l2.1 3l5.3 3.6l6 0.4l16-4.9l12-2.1l8-5.9l13-6.2l3.8-0.9zM1267.9 833.7l3.2-0.9l4 1.1l2.8 1.8l4.8 5l0.4 12l-5 6.8l-3.5 11.2l-2.5 3.7l-4 2.3l-13 1.8l-2-1.7l-1.1-2.1l-0.1-5l2.2-4.7l5-5.3l1.7-3l1.5-17l1.9-3l3.7-3z"/>
<path fill="#ff9696" d="M839.3 755.7l73.4 0l1.2 16l-0.6 5l-6.2 11.8l-2 1.7l-4 1.7l-6 1.2l-25 3l-15 0.5l-5-0.6l-8-4.1l-2-3.2l-0.8-33zM1248.6 755.7l27.9 0l-0.1 14l-1.3 4l-2 2l-4 2.4l-9 2.6l-10-2l-6-2.7l-2.2-2.3l-0.4-2l6.1-10l1-6zM832.6 801.7l1.5-0.8l2 0.7l0.9 4.1l-0.9 16l0.6 148l-0.7 11l-1.5 7l-2.4 2.5l-24 1.2l0-137l2.3-1.7l2.7-5.3l8.8-29.7l5.5-7l3.4-7l1.8-2zM980.1 815.7l17 0.6l15 1.5l9.2 4.9l7.8 5.4l3.6 3.6l5.4 7.6l8 9.2l15.6 31.2l12 16l20.4 16.8l3 1.6l13 0.2l2-0.7l4-3.1l1 0l12 19.2l7.2 16l2.8 3.1l3 1.6l4-0.4l6-2.1l27.7-17.2l1.4-4l0.9-15.9l2-6.9l10.6-16.2l1.9-6l1.6-9l1.9-4.5l3-2.9l2 0.2l1.4 1.2l1.7 3l1.4 5l2.3 13l0 5l-5.2 15l-3.2 22l-4.2 7l-7.2 8.4l-2.9 5.6l-3.7 10l-5.6 21l-8.8 44l-0.6 7l0 25l-119.3 0l-0.5-38l-1.8-21l-1.8-12.1l-3-8.2l-6.9-8.7l-3.5-11l-3.9-19l-0.2-20l-1.2-6l-6.3-13.2l-4.4-5.8l-3.6-2.8l-2 0.2l-3 2.8l-12 18.5l-3.6 10.3l-2.9 15l-1.4 16l-3.3 11l-3.2 7l-16.6 23.7l-2 2.4l-3 2.1l-3 0.9l-2-0.4l-6-3.2l-9-8.5l-3.4-6l-13.2-34l-8.1-13l-6.3-27l-1.9-39l0.9-15l1.7-11l2.3-6.9l3-2.5l17-4.3l11-3.6l14-2.3l9-4.4l13-5z"/>
<path fill="#ff7a7a" d="M839.8 755.7l72.1 0l1.2 15l-0.6 5l-6.4 11.2l-2.1 1.8l-3.9 1.7l-6 1.4l-25 3l-13 0.3l-5-0.7l-7.5-3.7l-2.8-4l-0.6-4l-0.4-27zM1254.4 755.7l14.6 0l-0.1 15l-2 3l-4.8 2.7l-3 0.7l-4-0.9l-5.5-2.5l-1.4-2l5.3-10l0.9-6zM832.8 803.7l1.3-0.2l1 1.1l0.5 3.1l0.8 162l-0.6 9l-1.7 7.3l-2 2.1l-24 1.5l0-133l3-1.9l2-4l4-15.8l5-15.8l6-7.4l3-6.3l1.7-1.7zM978.5 822.7l8.6 0.3l13 2.6l11 1.2l3 0.9l3.1 2l2.4 3l3.9 13l4.5 8l5.1 4.7l11 5.2l3 3l2.8 6.1l3.2 13.7l3.5 6.3l7.5 7l10 11.6l7 5l15 13.3l3 0.7l11-0.1l2-0.9l4-4.4l1-0.5l2 0.5l6 6.7l8.5 16.1l5.5 4.8l4 1.4l10-2.5l23-13.3l6 0l2.7 1.6l1 3l-0.1 4l-4.1 14l-4.5 19.7l-6.5 39.3l-1.1 12l-0.1 26l-116.6 0l-0.2-37l-1.9-35l-3.6-25.8l-6.3-21.2l-0.3-21l-1.4-11.9l-2.5-11.1l-3.5-8.6l-3.6-4.4l-5.4-2.7l-9-2l-5 0.4l-7 2.8l-4 4.2l-2 4.8l-3.4 17.5l-4.9 16l-3.5 14l-3.4 20l-6 15l-10.8 17.7l-4 3l-3 0.6l-3-0.4l-6-2.5l-8-6.8l-2.5-4.6l-13.2-31l-6.3-11l-6.7-27l-0.5-5l0.3-33l2.1-17l2.1-6l3.4-6l3.3-4l3-1.9l18-6.1l20-3l14.4-5zM1192.9 916.7l3.2-1l1.2 1l1.1 4l0.5 7l-0.9 3l-1.9 2.7l-2 1.7l-3 0.5l-2.7-1.9l-0.7-5l2.1-8l3.1-4z"/>
<path fill="#ff5c5c" d="M840.3 755.7l70.8 0l1 18l-2 4.8l-5 7.2l-3 2.3l-4 1.6l-29 3.9l-13 0.1l-4-0.5l-7-3.1l-3.4-4.3l-0.8-4l-0.6-26zM1259.3 766.7l0.8-0.3l1 0.8l0.5 2.5l-0.7 2l-1.8 0.9l-2-0.9l-0.4-1l0.8-2l1.8-2zM832.1 806.7l1.4 0l0.9 3l1 28l0.6 132l-0.5 7l-1.4 6.7l-2 2.6l-24 1.9l0-129.6l3-1.5l2-3.1l9.2-33l5.8-7.1l4-6.9zM975.6 829.7l4.5-0.8l5 2.2l4.2 4.6l2.5 6l1.5 13l0.2 16l-3.5 33l-8.9 29l-4.2 22l-3.6 10l-10.2 17.3l-4 2.7l-5 0.5l-6-2.7l-7-5.7l-19.3-40.1l-7.3-30l2-37l3.2-16l5.1-9l4.4-5l4.1-2l12.8-4.2l12-1.8l8 1.5l9.5-3.5zM1074.3 931.7l3.8-0.6l2 0.7l14 13.1l2 1.3l3 0.7l11-0.3l2-2.3l4-8.6l2-1.6l2 0.2l3.5 3.4l5 9l2.5 3.2l6 5l5 2.3l7-0.7l6-1.8l8-4l8.4-6l3.6-1.8l2 0l2.5 1.8l0.7 4l-3.1 13l-2.5 16l-5.5 44l-0.7 10l0 26l-114 0l-0.4-83l1-12l3.1-16l2.4-6l5.2-5l8.5-4z"/>
<path fill="#ff3c3c" d="M840.8 755.7l69.5 0l0.9 18l-2.5 5l-4.6 5.9l-3 2.3l-5 2l-27 3.4l-13 0l-5-0.9l-6-3l-3-4.5l-1.3-28.2zM831.1 811.7l1-0.8l1 1.1l0.7 3.7l1.1 23l0.3 137l-1.5 6l-2.6 2.6l-23 1.8l0-126.2l3.9-2.2l2.1-3.6l3.8-16.4l5.2-16.6l8-9.4zM951.7 835.7l4.4-0.7l3 0.2l7 5.4l11-2.9l2 0l2 1.3l3 4.7l2.9 9l1.2 17l-0.7 19l-2.1 17l-6.5 18l-6.2 30l-3.6 8.6l-5 8.3l-5 5.7l-4 1.9l-3-0.5l-6-3.2l-3-2l-2-2.5l-16.2-32.3l-7.7-32l3.1-34l4-17l4.8-7.2l6.2-5.8l7.8-3.9l8.6-2.1zM1118.1 941.7l1-0.4l2 1l5.8 8.4l3.9 4l9.3 5.4l3 0.6l4-0.3l12-2.6l5-0.4l4 0.7l2.4 2.6l1.3 5l0.5 7l-1.3 24l-3.3 31l-0.2 30l-111.3 0l0.8-65l1.9-18l3.2-10l11.6-13l4.4-3.3l3 0.8l8 7.1l6 3.8l4 0.7l11-0.2l2-1.6l1-2l2.7-11.3l2.3-4z"/>
<path fill="#ff1f1f" d="M841.3 755.7l68.3 0l1 15l-0.4 3l-2.7 5l-4.4 5l-4 2.7l-4 1.6l-26 3.1l-13-0.1l-5-0.8l-5-2.5l-2-2.1l-1.3-2.9l-1.5-27zM830.4 815.7l1.7-0.1l1 3l1.2 22.1l0.7 33l0 100l-1.9 6.9l-2 1.7l-23 2l0-122.9l3-1.2l3-3.7l4.1-16.8l5-16l1.9-3.3l5.3-4.7zM954.9 838.7l2.2-0.2l2 1l3.6 5.2l2.4 1.8l11 1.6l2 0.9l2 2.5l2 7.2l1.2 28l-2.1 19l-5.9 16l-2.8 17l-3.5 13l-3 7l-3.9 6.1l-5 4.9l-3 1.1l-8-3.8l-4-3.4l-12.5-21.9l-2.1-5l-6.7-26l-0.7-5l4.4-33l4.6-16.1l4-5.5l6-5.3l7.4-4.1l8.4-3zM1118.8 950.7l1.3-0.5l8 7.8l9 4.5l7 1.6l16-1.3l5 2.7l2.8 4.2l1 5l0.4 21l-2.5 32l-0.2 30l-108.7 0l0.9-54l2.1-16l2.6-8l11.6-12.2l4-2.6l17 6.8l12 0.2l3-0.6l2-2.5l1-2.6l4.7-15.5z"/>
<path fill="#ff0000" d="M842 755.7l66.8 0l0.7 17l-2.4 4.7l-4 4.6l-4 3l-5 2.1l-24 2.8l-14-0.2l-5-0.7l-4.5-2.3l-2.8-4l-1.8-27zM828.3 819.7l2.8-0.8l1.1 1.8l1.7 26l0.7 27l0 99l-1.5 5.6l-2 1.9l-23 2.3l0-119.6l4-1.9l3-4.3l4-16.5l5.1-15.5l1.7-3l2.4-2zM953.7 846.7l2.4-0.6l2 0.6l5 4.4l9 4.2l3 3.3l1.4 5.1l1.9 24l-2.3 17l-4.5 15l-2.1 17l-2.1 8l-2.6 7l-2.7 4.9l-4 4.1l-4 1.5l-7-2.8l-4-2.6l-11-16.3l-1.2-2.8l-2.8-14l-4.9-17l6.3-35l5.5-14l2.1-3.2l3-2.4l13.6-5.4zM1119.4 961.7l1.7-0.9l8 3.5l12 2.9l18 0.5l3 1.9l2.1 3.1l2 8l1.3 15l-1.7 33l-0.1 29l-106.1 0l0.1-27l1-19l1.4-10.9l2.1-6.1l2.9-3.5l12-10l3-0.2l15 2l14-0.4l2-1.9l1-2.1l4-14.4l1.3-2.5z"/>
<path fill="#ec0000" d="M842.7 755.7l65.3 0l0.5 17l-1.4 3l-3 3.7l-5.4 4.3l-4.6 2.2l-23 2.9l-20-1.1l-4-2l-2.5-4l-1.9-26zM828 822.7l2.1-0.4l1 2.1l2.8 36.3l0.2 111.7l-1 3.6l-2 2.2l-23 2.6l0-116.4l4-1.8l3.5-4.9l4.5-16.5l6-15.6l1.9-2.9zM955.3 856.7l4.8 0l4 0.8l3 1.7l2 2.5l0.8 4l1.1 22l-5.2 51l-2.1 6l-2.6 4.8l-3 3l-3 1l-4-0.8l-7-3l-8.3-11l-7.4-32l4.7-25.8l2-7.2l2-2.7l14-12.2l4.2-2.1zM1121.4 970.7l10.7-0.8l23 1.9l4 1.5l2 2.8l2.8 8.6l1.7 12l-0.9 61l-103.1 0l0.5-33l2-13.3l3.3-7.7l7.7-8.2l3-1.9l4-1.1l12-0.5l5 0.4l6.8 2.3l6.2 4.3l2-4.8l5-19.8l2.3-3.7z"/>
<path fill="#dd0000" d="M843.6 755.7l63.6 0l0.2 17l-1.5 3l-2.8 2.9l-6.8 5.1l-3.2 1.3l-21 2.6l-21-1.1l-3.4-1.8l-2.1-4l-2-25zM826.7 833.7l1.4-0.7l0.4 0.7l2.6 7.2l1.1 4.8l1 11l0.6 18l-0.3 97l-1.4 3.7l-2 1.1l-22 2.5l0-113l4-1.7l3.1-3.6l2.2-5l3.7-12.5l5.6-9.5zM953.3 880.7l5.8-0.2l2 0.6l1.5 3.6l0.7 7l-0.6 45l-2.6 5.7l-2 1.7l-3 0.8l-9.2-2.2l-2.8-2l-1.3-2l-6.1-32l2.4-10.3l4.4-8.7l5.6-5.4l5.2-1.6zM1149.6 976.7l5.5 0.7l3 2.3l3 6.2l2.2 8.8l0.2 63l-47.9 0l0.1-26l1.6-27l0.8-8.4l2-7.7l4-5.7l8-4.9l4-1l13.5-0.3zM1087.2 999.7l6.9-0.8l4 0.8l5.2 4l3.7 6l2.4 8l2.2 12l0.3 28l-47.7 0l0.1-27l3.5-14l4.2-8l5.1-5.8l4-2.1l6.1-1.1z"/>
<path fill="#cf0000" d="M844.6 755.7l61.7 0l0.3 16l-2.5 4.3l-8.9 6.7l-3.1 1.2l-20 2.6l-21-1.3l-2.8-1.5l-1.5-3l-2.2-25zM824.9 841.7l1.2-0.8l2 0.7l2.9 5.1l1.1 5.5l1 13.5l-0.4 105l-0.6 2.2l-2 1.5l-22 2.8l0-109.7l4-1.5l3.1-3.3l2.6-5l3.3-10l3.8-6zM1149 982.7l4.1-0.3l3 1.8l3 5.2l2.1 7.3l0.9 61l-42.5 0l0.4-32l1.8-17l2.1-10l4.1-6l6.1-5.2l6-2.7l8.9-2.1zM1089.1 1006.7l6-0.8l3 1.4l3.5 4.4l3.2 7l3.1 13l0.1 26l-40.2 0l0.1-26l3-10l3.6-7l3.6-4.4l3-1.8l8-1.8z"/>
<path fill="#c20000" d="M845.7 755.7l59.6 0l0.1 16l-2.3 3.4l-9.8 6.6l-2.9 1l-17.3 2.6l-22-1.6l-2-1.3l-1.1-2.7l-2.3-24zM825.3 845.7l1.8-0.2l1 0.7l2.7 5.5l1.9 19l-0.1 68l-1.1 30l-0.5 2l-2.9 1.6l-20 3.1l0-106.3l4-1.5l3.9-3.9l6.1-13.6l3.2-4.4zM1149 988.7l4.1-0.7l2 1.3l2.2 3.4l1.6 5l1.5 31l0 29l-36.3 0l0.2-28l2.3-12l2.9-10l3.5-8l3.1-3.9l6-4.1l6.9-3zM1090.7 1013.7l3.4-0.5l3 1.2l3 4.3l3.3 8l1.1 6l0.1 25l-33.1 0l0.1-25l2-7l2.6-5l2.9-3.6l3-1.5l8.6-1.9z"/>
<path fill="#b50000" d="M847 755.7l57.2 0l-0.1 15.5l-2 2.5l-10 5.6l-10.3 3.4l-10.7 1.3l-19-2.3l-2-1.9l-1-3.5l-1.9-13.6l-0.2-7zM826.1 849.7l2 1.2l2 4.2l2 15.7l-0.2 59.9l-1.1 23l-1.7 7.3l-5.2 7.7l-5.7 3l-10.1 1.7l0-102.6l4-1.4l4.1-3.7l6.9-13l3-3zM1151.6 993.7l1.5 0l2 1.6l1.6 5.4l1.9 29l0 28l-29.5 0l0.1-26l2.9-11.7l3-6.8l8.8-14.5l3.4-3l4.3-2zM1092.5 1020.7l2.6 0.1l2 1.5l3.5 7.4l0.6 28l-25.9 0l0.1-24l1.1-5l2.6-4l2-1.4l11.4-2.6z"/>
<path fill="#a80000" d="M848.5 755.7l53.3 0l-0.3 14l-2.2 2l-22.5 10l-4.7 0.5l-8.2-1.5l-7.9-4l-4.5-4l-2.4-8.1l-0.6-8.9zM825.1 854.7l2-0.1l1.2 2.1l2.9 15l0.1 38l-1.2 28.8l-2 5.9l-15.2 22.3l-1.8 2.1l-3 1l0-96.5l4-1.9l5.4-4.7l7.6-12zM1152.1 1003.7l1 0.5l1 2.7l2 15.5l0.6 35.3l-21.8 0l0.4-27l16.8-27zM1089.9 1028.7l3.2-0.6l2 0.3l2 2.8l0.4 26.5l-16.7 0l0.3-24.7l2.2-2.3l6.6-2z"/>
<path fill="#990000" d="M851.5 755.7l37.6 0l-0.1 3l-1.8 7l-2.9 5l-8.2 5.1l-3 0.6l-5-2.7l-15-11.8l-1.2-2.2l-0.4-4zM825 861.7l1.1-0.2l1.4 2.2l2.3 10l0 33l-1.7 16.4l-3 7.1l-5.3 5.5l-8.7 11.9l-3 1.9l0-69.3l2.3-1.5l3.5-6l6.8-6l4.3-5zM1151.3 1025.7l0.8-0.3l1 1.3l1 5l0 26l-6.7 0l0.2-25l1.4-4l2.3-3z"/>
<path fill="#870000" d="M822.4 870.7l2.7-0.8l1 0.9l0.8 2.9l0.2 29l-1 7.7l-2 3.2l-2 0.4l-7.5-2.3l-6.4-6l-0.1-13.6l6.4-6.4l3.6-11.9l4.3-3.1z"/>
<path fill="none" stroke="#fff" stroke-width="4.8" stroke-linejoin="round" d="M915.4 755.7l2.5 29l1.6 5l4.1 6l2.1 16l1.5 5l1.9 2.7l4-0.4l10-5.3l11-2.4l11-3.9l14-8.1l19-3.8l12-0.9l4 0.4l28.5 12.7l3.5 2.9l3.7 6.1l5.5 7l10.7 22l12.1 13.1l4 1.6l13 1.1l18-1.5l3 1.5l6 5.7l3.9 5.5l2.2 6l6.9 34l9.1 15l3.9 2.6l5 0.6l5-0.2l4-1.1l2.5-1.9l1.9-4l2.1-11l0.7-22l7.3-34l1.3-18l7.7-19l4.2-17l8.5-27l2.9-4l17.4-10l2.4-3l0.5-3M808.1 842.8l2-1l2-2.4l8.8-25.7l5.4-7l10.1-18l2-15l-0.3-18M1283.1 894.8l-9 1.5l-4 1.6l-2.5 1.8l-2.5 3.6l-3.8 9.4l-7.5 8l-5.4 9l-5.3 4l-3 0.4l-3.2-2.4l-1.3-3l-1.5-8.8l-4 2.4l-7 1.3l-5 5.2l-9.9 18.9l-11.1 15.5l-4.4 8.5l-7.6 25l-4 19.3l-5.4 14.7l-0.3 27M942.1 1057.7l-0.3-27l-4.4-23l-5-21l-10.3-31.3l-4-7l-8-10.1l-6-28.8l-3.2-36.8l-1.4-39l-3.2-13l-0.6-14l-1.6-2.7l-3-1.9l-5.1-1.4l-7.9-0.5l-11 0.2l-13 1.3l-4 1.4l-6 3.7l-2 1.7l-2 3.3l-1.6 5.9l-0.5 6l-0.2 148l-1.4 20l-1.3 4.2l-2 1.3l-25 0.3M1044.7 1057.7l-0.1-26l-0.6-4l-2.2-6l-14.7-24l-8-6.1l-4-2.2l-3-0.8l-11 3.2l-16.2 7.9l-3.8 3.2l-17 18.9l-3.4 5.9l-1.4 4l-0.3 26"/>
</g>
<clipPath id="p30"><path d="M107.3 1122.2 109.3 1122.2 111.3 1120.9 113.3 1122.2 115.3 1122.2 117.3 1122.2 119.3 1122.2 121.3 1120.9 123.3 1122.2 125.3 1122.2 127.3 1122.2 129.3 1122.2 131.3 1120.9 133.3 1122.2 135.3 1122.2 137.3 1122.2 139.3 1122.2 141.3 1120.9 143.3 1122.2 145.3 1122.2 147.3 1122.2 149.3 1122.2 151.3 1120.9 153.3 1122.2 155.3 1122.2 157.3 1122.2 159.3 1122.2 161.3 1120.9 163.3 1122.2 165.3 1122.2 167.3 1122.2 169.3 1122.2 171.3 1120.9 173.3 1122.2 175.3 1122.2 177.3 1122.2 179.3 1122.2 181.3 1120.9 183.3 1122.2 185.3 1122.2 187.3 1122.2 189.3 1122.2 191.3 1120.9 193.3 1122.2 195.3 1122.2 197.3 1122.2 199.3 1122.2 201.3 1120.9 203.3 1122.2 205.3 1122.2 207.3 1122.2 209.3 1122.2 211.3 1120.9 213.3 1122.2 215.3 1122.2 217.3 1122.2 219.3 1122.2 221.3 1120.9 223.3 1122.2 225.3 1122.2 227.3 1122.2 229.3 1122.2 231.3 1120.9 233.3 1122.2 235.3 1122.2 237.3 1122.2 239.3 1122.2 241.3 1120.9 243.3 1122.2 245.3 1122.2 247.3 1122.2 249.3 1122.2 251.3 1120.9 253.3 1122.2 255.3 1122.2 257.3 1122.2 259.3 1122.2 261.3 1120.9 263.3 1122.2 265.3 1122.2 267.3 1122.2 269.3 1122.2 271.3 1120.9 273.3 1122.2 275.3 1122.2 277.3 1122.2 279.3 1122.2 281.3 1120.9 283.3 1122.2 285.3 1122.2 287.3 1122.2 289.3 1122.2 291.3 1120.9 293.3 1122.2 295.3 1122.2 297.3 1122.2 299.3 1122.2 301.3 1120.9 303.3 1122.2 305.3 1122.2 307.3 1122.2 309.3 1122.2 311.3 1120.9 313.3 1122.2 315.3 1122.2 317.3 1122.2 319.3 1122.2 321.3 1120.9 323.3 1122.2 325.3 1122.2 327.3 1122.2 329.3 1122.2 331.3 1120.9 333.3 1122.2 335.3 1122.2 337.3 1122.2 339.3 1122.2 341.3 1120.9 343.3 1122.2 345.3 1122.2 347.3 1122.2 349.3 1122.2 351.3 1120.9 353.3 1122.2 355.3 1122.2 357.3 1122.2 359.3 1122.2 361.3 1120.9 363.3 1122.2 365.3 1122.2 367.3 1122.2 369.3 1122.2 371.3 1120.9 373.3 1122.2 375.3 1122.2 377.3 1122.2 379.3 1122.2 381.3 1120.9 383.3 1122.2 385.3 1122.2 387.3 1122.2 389.3 1122.2 391.3 1120.9 393.3 1122.2 395.3 1122.2 397.3 1122.2 399.3 1122.2 401.3 1120.9 403.3 1122.2 405.3 1122.2 407.3 1122.2 409.3 1122.2 411.3 1120.9 413.3 1122.2 415.3 1122.2 417.3 1122.2 419.3 1122.2 421.3 1120.9 423.3 1122.2 425.3 1122.2 427.3 1122.2 429.3 1122.2 431.3 1120.9 433.3 1122.2 435.3 1122.2 437.3 1122.2 439.3 1122.2 441.3 1120.9 443.3 1122.2 445.3 1122.2 447.3 1122.2 449.3 1122.2 451.3 1120.9 453.3 1122.2 455.3 1122.2 457.3 1122.2 459.3 1122.2 461.3 1120.9 463.3 1122.2 465.3 1122.2 467.3 1122.2 469.3 1122.2 471.3 1120.9 473.3 1122.2 475.3 1122.2 477.3 1122.2 479.3 1122.2 481.3 1120.9 483.3 1122.2 485.3 1122.2 487.3 1122.2 489.3 1122.2 491.3 1120.9 493.3 1122.2 495.3 1122.2 497.3 1122.2 499.3 1122.2 501.3 1120.9 503.3 1122.2 505.3 1122.2 507.3 1122.2 509.3 1122.2 511.3 1120.9 513.3 1122.2 515.3 1122.2 517.3 1122.2 519.3 1122.2 521.3 1120.9 523.3 1122.2 525.3 1122.2 527.3 1122.2 529.3 1122.2 531.3 1120.9 533.3 1122.2 535.3 1122.2 537.3 1122.2 539.3 1122.2 541.3 1120.9 543.3 1122.2 545.3 1122.2 547.3 1122.2 549.3 1122.2 551.3 1120.9 553.3 1122.2 555.3 1122.2 557.3 1122.2 559.3 1122.2 561.3 1120.9 563.3 1122.2 565.3 1122.2 567.3 1122.2 569.3 1122.2 571.3 1120.9 573.3 1122.2 575.3 1122.2 577.2 1122.2 577.2 1387.5 577.2 1387.5 575.2 1387.5 573.2 1387.5 571.2 1388.3 569.2 1387.5 567.2 1387.5 565.2 1387.5 563.2 1387.5 561.2 1387.5 559.2 1388.3 557.2 1387.5 555.2 1387.5 553.2 1387.5 551.2 1387.5 549.2 1387.5 547.2 1388.3 545.2 1387.5 543.2 1387.5 541.2 1387.5 539.2 1387.5 537.2 1387.5 535.2 1388.3 533.2 1387.5 531.2 1387.5 529.2 1387.5 527.2 1387.5 525.2 1387.5 523.2 1388.3 521.2 1387.5 519.2 1387.5 517.2 1387.5 515.2 1387.5 513.2 1387.5 511.2 1388.3 509.2 1387.5 507.2 1387.5 505.2 1387.5 503.2 1387.5 501.2 1387.5 499.2 1388.3 497.2 1387.5 495.2 1387.5 493.2 1387.5 491.2 1387.5 489.2 1387.5 487.2 1388.3 485.2 1387.5 483.2 1387.5 481.2 1387.5 479.2 1387.5 477.2 1387.5 475.2 1388.3 473.2 1387.5 471.2 1387.5 469.2 1387.5 467.2 1387.5 465.2 1387.5 463.2 1388.3 461.2 1387.5 459.2 1387.5 457.2 1387.5 455.2 1387.5 453.2 1387.5 451.2 1388.3 449.2 1387.5 447.2 1387.5 445.2 1387.5 443.2 1387.5 441.2 1387.5 439.2 1388.3 437.2 1387.5 435.2 1387.5 433.2 1387.5 431.2 1387.5 429.2 1387.5 427.2 1388.3 425.2 1387.5 423.2 1387.5 421.2 1387.5 419.2 1387.5 417.2 1387.5 415.2 1388.3 413.2 1387.5 411.2 1387.5 409.2 1387.5 407.2 1387.5 405.2 1387.5 403.2 1388.3 401.2 1387.5 399.2 1387.5 397.2 1387.5 395.2 1387.5 393.2 1387.5 391.2 1388.3 389.2 1387.5 387.2 1387.5 385.2 1387.5 383.2 1387.5 381.2 1387.5 379.2 1388.3 377.2 1387.5 375.2 1387.5 373.2 1387.5 371.2 1387.5 369.2 1387.5 367.2 1388.3 365.2 1387.5 363.2 1387.5 361.2 1387.5 359.2 1387.5 357.2 1387.5 355.2 1388.3 353.2 1387.5 351.2 1387.5 349.2 1387.5 347.2 1387.5 345.2 1387.5 343.2 1388.3 341.2 1387.5 339.2 1387.5 337.2 1387.5 335.2 1387.5 333.2 1387.5 331.2 1388.3 329.2 1387.5 327.2 1387.5 325.2 1387.5 323.2 1387.5 321.2 1387.5 319.2 1388.3 317.2 1387.5 315.2 1387.5 313.2 1387.5 311.2 1387.5 309.2 1387.5 307.2 1388.3 305.2 1387.5 303.2 1387.5 301.2 1387.5 299.2 1387.5 297.2 1387.5 295.2 1388.3 293.2 1387.5 291.2 1387.5 289.2 1387.5 287.2 1387.5 285.2 1387.5 283.2 1388.3 281.2 1387.5 279.2 1387.5 277.2 1387.5 275.2 1387.5 273.2 1387.5 271.2 1388.3 269.2 1387.5 267.2 1387.5 265.2 1387.5 263.2 1387.5 261.2 1387.5 259.2 1388.3 257.2 1387.5 255.2 1387.5 253.2 1387.5 251.2 1387.5 249.2 1387.5 247.2 1388.3 245.2 1387.5 243.2 1387.5 241.2 1387.5 239.2 1387.5 237.2 1387.5 235.2 1388.3 233.2 1387.5 231.2 1387.5 229.2 1387.5 227.2 1387.5 225.2 1387.5 223.2 1388.3 221.2 1387.5 219.2 1387.5 217.2 1387.5 215.2 1387.5 213.2 1387.5 211.2 1388.3 209.2 1387.5 207.2 1387.5 205.2 1387.5 203.2 1387.5 201.2 1387.5 199.2 1388.3 197.2 1387.5 195.2 1387.5 193.2 1387.5 191.2 1387.5 189.2 1387.5 187.2 1388.3 185.2 1387.5 183.2 1387.5 181.2 1387.5 179.2 1387.5 177.2 1387.5 175.2 1388.3 173.2 1387.5 171.2 1387.5 169.2 1387.5 167.2 1387.5 165.2 1387.5 163.2 1388.3 161.2 1387.5 159.2 1387.5 157.2 1387.5 155.2 1387.5 153.2 1387.5 151.2 1388.3 149.2 1387.5 147.2 1387.5 145.2 1387.5 143.2 1387.5 141.2 1387.5 139.2 1388.3 137.2 1387.5 135.2 1387.5 133.2 1387.5 131.2 1387.5 130.4 1387.5 130.4 1348.5 124.6 1342.1 124.6 1304.2 118.5 1296.5 118.5 1267 110.6 1258.4 110.6 1242.1 107.3 1239.6 107.3 1122.2z"/></clipPath>
<g clip-path="url(#p30)">
<path fill="#0000ff" d="M107.3 1122.2 109.3 1122.2 111.3 1120.9 113.3 1122.2 115.3 1122.2 117.3 1122.2 119.3 1122.2 121.3 1120.9 123.3 1122.2 125.3 1122.2 127.3 1122.2 129.3 1122.2 131.3 1120.9 133.3 1122.2 135.3 1122.2 137.3 1122.2 139.3 1122.2 141.3 1120.9 143.3 1122.2 145.3 1122.2 147.3 1122.2 149.3 1122.2 151.3 1120.9 153.3 1122.2 155.3 1122.2 157.3 1122.2 159.3 1122.2 161.3 1120.9 163.3 1122.2 165.3 1122.2 167.3 1122.2 169.3 1122.2 171.3 1120.9 173.3 1122.2 175.3 1122.2 177.3 1122.2 179.3 1122.2 181.3 1120.9 183.3 1122.2 185.3 1122.2 187.3 1122.2 189.3 1122.2 191.3 1120.9 193.3 1122.2 195.3 1122.2 197.3 1122.2 199.3 1122.2 201.3 1120.9 203.3 1122.2 205.3 1122.2 207.3 1122.2 209.3 1122.2 211.3 1120.9 213.3 1122.2 215.3 1122.2 217.3 1122.2 219.3 1122.2 221.3 1120.9 223.3 1122.2 225.3 1122.2 227.3 1122.2 229.3 1122.2 231.3 1120.9 233.3 1122.2 235.3 1122.2 237.3 1122.2 239.3 1122.2 241.3 1120.9 243.3 1122.2 245.3 1122.2 247.3 1122.2 249.3 1122.2 251.3 1120.9 253.3 1122.2 255.3 1122.2 257.3 1122.2 259.3 1122.2 261.3 1120.9 263.3 1122.2 265.3 1122.2 267.3 1122.2 269.3 1122.2 271.3 1120.9 273.3 1122.2 275.3 1122.2 277.3 1122.2 279.3 1122.2 281.3 1120.9 283.3 1122.2 285.3 1122.2 287.3 1122.2 289.3 1122.2 291.3 1120.9 293.3 1122.2 295.3 1122.2 297.3 1122.2 299.3 1122.2 301.3 1120.9 303.3 1122.2 305.3 1122.2 307.3 1122.2 309.3 1122.2 311.3 1120.9 313.3 1122.2 315.3 1122.2 317.3 1122.2 319.3 1122.2 321.3 1120.9 323.3 1122.2 325.3 1122.2 327.3 1122.2 329.3 1122.2 331.3 1120.9 333.3 1122.2 335.3 1122.2 337.3 1122.2 339.3 1122.2 341.3 1120.9 343.3 1122.2 345.3 1122.2 347.3 1122.2 349.3 1122.2 351.3 1120.9 353.3 1122.2 355.3 1122.2 357.3 1122.2 359.3 1122.2 361.3 1120.9 363.3 1122.2 365.3 1122.2 367.3 1122.2 369.3 1122.2 371.3 1120.9 373.3 1122.2 375.3 1122.2 377.3 1122.2 379.3 1122.2 381.3 1120.9 383.3 1122.2 385.3 1122.2 387.3 1122.2 389.3 1122.2 391.3 1120.9 393.3 1122.2 395.3 1122.2 397.3 1122.2 399.3 1122.2 401.3 1120.9 403.3 1122.2 405.3 1122.2 407.3 1122.2 409.3 1122.2 411.3 1120.9 413.3 1122.2 415.3 1122.2 417.3 1122.2 419.3 1122.2 421.3 1120.9 423.3 1122.2 425.3 1122.2 427.3 1122.2 429.3 1122.2 431.3 1120.9 433.3 1122.2 435.3 1122.2 437.3 1122.2 439.3 1122.2 441.3 1120.9 443.3 1122.2 445.3 1122.2 447.3 1122.2 449.3 1122.2 451.3 1120.9 453.3 1122.2 455.3 1122.2 457.3 1122.2 459.3 1122.2 461.3 1120.9 463.3 1122.2 465.3 1122.2 467.3 1122.2 469.3 1122.2 471.3 1120.9 473.3 1122.2 475.3 1122.2 477.3 1122.2 479.3 1122.2 481.3 1120.9 483.3 1122.2 485.3 1122.2 487.3 1122.2 489.3 1122.2 491.3 1120.9 493.3 1122.2 495.3 1122.2 497.3 1122.2 499.3 1122.2 501.3 1120.9 503.3 1122.2 505.3 1122.2 507.3 1122.2 509.3 1122.2 511.3 1120.9 513.3 1122.2 515.3 1122.2 517.3 1122.2 519.3 1122.2 521.3 1120.9 523.3 1122.2 525.3 1122.2 527.3 1122.2 529.3 1122.2 531.3 1120.9 533.3 1122.2 535.3 1122.2 537.3 1122.2 539.3 1122.2 541.3 1120.9 543.3 1122.2 545.3 1122.2 547.3 1122.2 549.3 1122.2 551.3 1120.9 553.3 1122.2 555.3 1122.2 557.3 1122.2 559.3 1122.2 561.3 1120.9 563.3 1122.2 565.3 1122.2 567.3 1122.2 569.3 1122.2 571.3 1120.9 573.3 1122.2 575.3 1122.2 577.2 1122.2 577.2 1387.5 577.2 1387.5 575.2 1387.5 573.2 1387.5 571.2 1388.3 569.2 1387.5 567.2 1387.5 565.2 1387.5 563.2 1387.5 561.2 1387.5 559.2 1388.3 557.2 1387.5 555.2 1387.5 553.2 1387.5 551.2 1387.5 549.2 1387.5 547.2 1388.3 545.2 1387.5 543.2 1387.5 541.2 1387.5 539.2 1387.5 537.2 1387.5 535.2 1388.3 533.2 1387.5 531.2 1387.5 529.2 1387.5 527.2 1387.5 525.2 1387.5 523.2 1388.3 521.2 1387.5 519.2 1387.5 517.2 1387.5 515.2 1387.5 513.2 1387.5 511.2 1388.3 509.2 1387.5 507.2 1387.5 505.2 1387.5 503.2 1387.5 501.2 1387.5 499.2 1388.3 497.2 1387.5 495.2 1387.5 493.2 1387.5 491.2 1387.5 489.2 1387.5 487.2 1388.3 485.2 1387.5 483.2 1387.5 481.2 1387.5 479.2 1387.5 477.2 1387.5 475.2 1388.3 473.2 1387.5 471.2 1387.5 469.2 1387.5 467.2 1387.5 465.2 1387.5 463.2 1388.3 461.2 1387.5 459.2 1387.5 457.2 1387.5 455.2 1387.5 453.2 1387.5 451.2 1388.3 449.2 1387.5 447.2 1387.5 445.2 1387.5 443.2 1387.5 441.2 1387.5 439.2 1388.3 437.2 1387.5 435.2 1387.5 433.2 1387.5 431.2 1387.5 429.2 1387.5 427.2 1388.3 425.2 1387.5 423.2 1387.5 421.2 1387.5 419.2 1387.5 417.2 1387.5 415.2 1388.3 413.2 1387.5 411.2 1387.5 409.2 1387.5 407.2 1387.5 405.2 1387.5 403.2 1388.3 401.2 1387.5 399.2 1387.5 397.2 1387.5 395.2 1387.5 393.2 1387.5 391.2 1388.3 389.2 1387.5 387.2 1387.5 385.2 1387.5 383.2 1387.5 381.2 1387.5 379.2 1388.3 377.2 1387.5 375.2 1387.5 373.2 1387.5 371.2 1387.5 369.2 1387.5 367.2 1388.3 365.2 1387.5 363.2 1387.5 361.2 1387.5 359.2 1387.5 357.2 1387.5 355.2 1388.3 353.2 1387.5 351.2 1387.5 349.2 1387.5 347.2 1387.5 345.2 1387.5 343.2 1388.3 341.2 1387.5 339.2 1387.5 337.2 1387.5 335.2 1387.5 333.2 1387.5 331.2 1388.3 329.2 1387.5 327.2 1387.5 325.2 1387.5 323.2 1387.5 321.2 1387.5 319.2 1388.3 317.2 1387.5 315.2 1387.5 313.2 1387.5 311.2 1387.5 309.2 1387.5 307.2 1388.3 305.2 1387.5 303.2 1387.5 301.2 1387.5 299.2 1387.5 297.2 1387.5 295.2 1388.3 293.2 1387.5 291.2 1387.5 289.2 1387.5 287.2 1387.5 285.2 1387.5 283.2 1388.3 281.2 1387.5 279.2 1387.5 277.2 1387.5 275.2 1387.5 273.2 1387.5 271.2 1388.3 269.2 1387.5 267.2 1387.5 265.2 1387.5 263.2 1387.5 261.2 1387.5 259.2 1388.3 257.2 1387.5 255.2 1387.5 253.2 1387.5 251.2 1387.5 249.2 1387.5 247.2 1388.3 245.2 1387.5 243.2 1387.5 241.2 1387.5 239.2 1387.5 237.2 1387.5 235.2 1388.3 233.2 1387.5 231.2 1387.5 229.2 1387.5 227.2 1387.5 225.2 1387.5 223.2 1388.3 221.2 1387.5 219.2 1387.5 217.2 1387.5 215.2 1387.5 213.2 1387.5 211.2 1388.3 209.2 1387.5 207.2 1387.5 205.2 1387.5 203.2 1387.5 201.2 1387.5 199.2 1388.3 197.2 1387.5 195.2 1387.5 193.2 1387.5 191.2 1387.5 189.2 1387.5 187.2 1388.3 185.2 1387.5 183.2 1387.5 181.2 1387.5 179.2 1387.5 177.2 1387.5 175.2 1388.3 173.2 1387.5 171.2 1387.5 169.2 1387.5 167.2 1387.5 165.2 1387.5 163.2 1388.3 161.2 1387.5 159.2 1387.5 157.2 1387.5 155.2 1387.5 153.2 1387.5 151.2 1388.3 149.2 1387.5 147.2 1387.5 145.2 1387.5 143.2 1387.5 141.2 1387.5 139.2 1388.3 137.2 1387.5 135.2 1387.5 133.2 1387.5 131.2 1387.5 130.4 1387.5 130.4 1348.5 124.6 1342.1 124.6 1304.2 118.5 1296.5 118.5 1267 110.6 1258.4 110.6 1242.1 107.3 1239.6 107.3 1122.2z"/>
<path fill="#1515ff" d="M104.6 1115.3l475 0l0 302l-332.3 0l-0.1-23l-1.8-5l-3.8-3.3l-4-2l-26-7.7l-3 0.6l-6 3.4l-11 6.7l-3 3.2l-0.8 4.1l-0.1 23l-83.1 0l0-259.4l4 3l3 0.7l1.9-2.2l0.3-3l-0.4-4l-1.8-2.6l-3-0.2l-4 2.4l0-36.6zM432.6 1347.3l-1.4 1l-0.7 2l1.1 1.2l3 1l11.3-0.2l1.7-0.5l1.1-1.5l-0.6-2l-2.5-1.3l-9-0.6l-4 0.9z"/>
<path fill="#3232ff" d="M104.6 1115.3l475 0l0 302l-229 0l0-23l-0.6-5l-3.4-6.2l-3-2.2l-3-0.7l-4 1.3l-8.5 4.8l-6.4 5l-1.1 4l0 22l-58.5 0l-0.1-23l-1-3l-4.2-5l-12-10l-10.8-6l-7.4-2.4l-16-2.7l-6 1l-8.3 3.1l-6.7 3.9l-3 3.7l-2 5.6l-1.5 7.8l-0.2 27l-78.3 0l0-248.4l6 0.2l3-1.6l3.1-5.2l0.9-5l-0.5-6l-1.6-3l-4.9-3.3l-6-1.5l0-28.2zM430.6 1336.1l-4 2.1l-10.9 9.1l-1.8 3l1.4 2l6.9 3l10.4 2.4l14-0.8l4-1.9l1.5-2.7l0.3-4l-1.8-6l-2-2.9l-3-1.4l-8-1.6l-7-0.3z"/>
<path fill="#5050ff" d="M104.6 1115.3l475 0l0 302l-219 0l0.1-27l2.7-21l-1-3l-2.8-2.3l-5-0.4l-13 4.2l-29 15.8l-3 0.9l-4 0.2l-15-0.9l-15-3.1l-10-3.9l-11-6.5l-9.9-4l-16.1-4.3l-15-2.9l-6-0.5l-6 0.8l-12 3.2l-3 1.6l-2.2 3.1l-2.2 8l-2.1 14l-0.2 28l-75.3 0l0-83.8l16-0.4l2-2.4l1.2-9.4l-1.2-5.2l-5-5.4l-3-0.9l-10-0.2l0-130.9l6-1.6l3-2.8l5.8-11l1.2-5l-0.5-7l-1.5-3l-9-7.1l-5-2l0-23.9zM431.6 1328.2l-5 1.4l-8 3.8l-14 9.2l-16.5 7.8l-1.6 2l1.1 1.2l4 1.4l37 7.5l7-0.1l14-2.4l3.3-3.6l1.7-6l-1.4-10l-2.6-7.2l-3-3.2l-3-1.3l-13-0.4z"/>
<path fill="#7272ff" d="M104.6 1115.3l475 0l0 302l-208.3 0l0-23l0.8-6l5.7-11l4.6-6l3.2-2.7l7-3l8-1.2l30 4l18-4.1l4.1-3l2.7-5l1.2-5l-1.6-16l-1.8-6l-2.6-4.9l-4-4.2l-3-1.1l-17 3.7l-14 5.8l-20 11.2l-7 3.2l-24 8.6l-20 5.1l-27 14.6l-5 1.7l-10-0.9l-22-3.5l-18-5.1l-48-10.7l-8-0.5l-15 2.6l-3.3 1.4l-2.6 3l-3.2 9l-2.7 22l-0.1 27l-72.1 0l0-77.2l15 0l4-1.1l2.4-4.7l0.4-10l-1.1-8l-7.7-12.6l-3-1.6l-10-1.4l0-116.3l7-1l2.8-2.1l8.5-18l1-4l-1.3-8l-2-3.8l-11-9.3l-5-1.9l0-21z"/>
<path fill="#9090ff" d="M104.6 1115.3l475 0l0 302l-189 0l0.3-25l2.3-5l5.4-5.8l2-1.2l3-0.4l24 2.8l7-0.9l4-1.7l4-2.8l10-10.7l3-4.2l2.3-6l0.9-6l-1.9-21l-2.1-7l-4.2-8.5l-3-2.8l-3-0.5l-13 3.7l-18 6.5l-26 14.3l-12 5.6l-15 4.9l-23 4.4l-21 10.9l-6 2.3l-5 0l-29-3.3l-35-5.7l-20-4.5l-11-1.3l-13 0l-10 0.9l-5 1.1l-4.9 3l-1.7 5l-4.1 33l-0.2 26l-67.1 0l0-71.6l16-0.1l4-1l3-4.4l1.1-7.9l-1-15l-7.1-14.6l-3-3.9l-7-4.5l-6-7.4l0-100.4l8-0.5l4-1.8l1.7-2.9l3.4-9l5.3-9l0.7-3l-2.6-9l-2.2-4l-12.3-11l-3-1.7l-3-0.6l0-18.7z"/>
<path fill="#adadff" d="M104.6 1115.3l475 0l0 302l-123 0l0-45l4.7-20l-0.4-18l-1.2-17l2.2-14l-1.1-3l-4.2-1.7l-3 0.4l-15.5 5.3l-26.5 10.3l-19 11.4l-22 10.5l-11 3.7l-28 5.8l-8 2.9l-13 5.9l-5 0l-63-5.9l-20-3.2l-15-1.3l-22 0.8l-13 2.7l-4.5 2.4l-1.5 3l1.9 15l-4 22l-0.2 27l-59.7 0l0-65l19-0.1l5-1.3l2-3.6l0.8-11l-1.3-17l-2-6l-8.3-16l-7.2-7l-5-7.4l-3-1.8l0-93.1l11-0.1l3.9-1.6l2.2-3l4.6-11l3.3-4.7l3-2.5l6.1-1.8l0.4-1l-7.5-4.7l-6.3-10.2l-13.7-12.8l-3-1.8l-4-0.9l0-16.5zM482.6 1243.3l-2 0.6l-2 2.1l-2.2 5.3l0.4 3l1.8 4.2l2 2.5l2 1l2-0.9l1-2l1.9-8.8l-1.6-5l-3.3-2zM540.6 1362l-4 2.8l-1.5 2.5l-0.2 2l0.8 3l1.9 3.3l2 1.7l2 0.3l2-0.7l3-2.6l2-3l0.8-3l-0.8-2.4l-2-2.2l-3-1.5l-3-0.2z"/>
<path fill="#cbcbff" d="M104.6 1115.3l475 0l0 302l-19 0l0.3-26l6.6-20l0.7-4l-0.2-4l-2.2-10l-3.5-7l-6.7-7.9l-3-1.9l-2-0.3l-3 1l-18.1 12.1l-2.9 3l-1.9 4l-3.3 10l-0.8 5l-1.6 20l-0.1 26l-55.7 0l-0.5-48l1.5-16l0.6-21l1.6-12l3.2-8.2l7.8-10.8l0.8-14l1.2-4l11.7-10l3.4-5l5.1-10.3l3-3.3l10.2-8.4l3.8-5.3l2.9-5.7l0.7-4l-1.1-14l-0.4-17l-0.9-3l-1.5-2l-4.7-2.6l-3 0.3l-3 1.2l-6.3 3.1l-2.7 2.2l-2.6 4.8l-4.8 15l-2.9 4l-8.1 8l-7.6 12.7l-2.7 8.3l-3 30l-1 3l-1.5 2l-15.8 8.2l-17 5.3l-20 8.1l-20.3 12.4l-14.7 7.2l-16 6.2l-31 6.4l-19 5.5l-65-2.6l-35-3.2l-20 0.1l-18 1.8l-27 7.4l-2-0.3l-3-3.5l-2.3-5l-4.2-23l-2.1-6l-9.4-17.7l-5.7-6.2l-6.3-8.8l-4-2.5l0-87.6l8 0.3l8 1.6l3-0.3l2.3-2.7l4.7-10.1l2-1.5l1.6 0.6l1.4 1.7l6 11.6l4 5.4l3 0.6l7-1.6l4-3.1l2.5-5.6l0.5-7l-1-11l-1-4.3l-2.1-2.7l-4.9-2l-13-2.3l-6-2.4l-22-21.9l-4-2.4l-4-0.8l0-14.2zM142.4 1358.3l2.2 0.1l6 3.4l2.7 3.5l0.7 3l-1.4 5.9l-5.9 11.1l-1.7 5l-0.3 27l-40.1 0l0-47.5l22 0l5-0.8l5-3l5.8-7.7z"/>
<path fill="#e9e9ff" d="M104.6 1115.3l475 0l0 56.4l-37 5.4l-18 4.1l-16 1.2l-9 2.4l-5.6 2.5l-9.9 11l-1.1 3l-2.7 15l-13.7 21.7l-8.9 28.3l-2.8 15l-2.1 4l-5 4l-6.2 2.8l-9 2l-11 1.4l-4 1.3l-6.8 4.5l-16.4 8l-13.8 10l-9 4l-32.1 9l-29.9 5.8l-16 1.5l-50-0.6l-35-1.8l-49.3-0.9l-11.7-2.6l-6-2.6l-3-2.4l-2-4.2l-3.9-13.2l-6.1-9.1l-4-8.8l-6-7.1l-7-10l-3-2.6l-2-0.8l0-82.2l6 0.3l4 1l3.6 2.3l10.4 9.6l7 2.1l8 5.6l4 1l3-0.2l4-1.6l6-3.8l6.6-7.7l6.2-14l0.5-5l-0.3-5l-4-6.6l-2.6-6.4l-2.8-3l-6.6-2.3l-13-1.7l-6-2.4l-4-2.6l-13.2-11l-8.8-9.4l-4-2.1l-4-0.8l0-11.7zM576 1210.3l3.6-0.4l0 98.8l-24 1.3l-23 2.2l-11 2.3l-6.4 2.8l-0.5 2l3.2 7l1.1 7l-4.3 17l-3.6 11l-3.8 23l-0.9 8l0 25l-38.8 0l0.2-67l1.2-16l2.6-8.3l3-3.6l9.7-5.1l3.3-3.2l2.4-5.8l2.4-13l2.2-6.6l2.7-4.4l7.3-8.3l5-10.2l3-1.9l12-2.3l7-2.5l4.3-2.8l6.7-6.3l8-3.7l4-2.8l3-3.4l2.5-4.8l4.6-18l4.3-4l7-3z"/>
<path fill="#fff3f3" d="M104.6 1115.3l63.7 0l0.7 3l1.5 2l11.1 6.8l10 4.3l8 1.1l15-0.5l5-2l1.2-2.7l-2.7-7l-0.4-5l361.9 0l0 34.1l-5 0.9l-15 5.8l-15 8.9l-22 9.3l-27 3.2l-4 1.3l-3 2.3l-8 9.5l-3.5 5.8l-4.1 20l-3.4 6.9l-8.1 12.1l-8.9 29l-3.3 15l-2.2 4l-4.4 3l-7.1 2l-5 0.1l-6-1.5l-6-2.9l-3-0.3l-7 5.3l-10 4.6l-8.7 6.8l-14.3 8.4l-6.8 6.6l-3.2 2l-24 4.5l-35 4.9l-13 4.9l-26 0.9l-17-0.9l-36 1.6l-25-0.6l-14-1.7l-14-3.2l-11-3.6l-8-4.3l-2.2-2.5l-5.2-12l-6.4-6l-4.2-8l-6-6.6l-7.8-11.4l-3.2-3.1l-3-1.4l0-76.7l7 0.6l4.6 2.6l7 9l4.4 10.7l2 2.4l3 1.2l20 3.9l9-0.2l3-1l2-1.7l5.1-8.2l8.1-7l6.8-8.3l4-2.9l8-3.6l3-2.3l1.8-2.9l1.7-5l1-4l-0.2-3l-2.3-3.4l-4-1.9l-7-0.4l-10 1.7l-3-0.6l-4-2.6l-5.6-6.8l-3.4-2.3l-7-1.8l-14-1.3l-4-1.6l-17.2-12l-11.8-12.6l-4-2.1l-4-0.9l0-8.4zM277.6 1226.3l-5 3l-2 3l0.7 3l3.4 3l3.9 1.8l4 0.2l5.6-2l4.1-3l0.8-2l-0.5-1.9l-3-2.8l-7-2.8l-5 0.5zM480.2 1330.3l6.4-0.8l7 0.6l4.3 2.2l2.2 4l-0.4 32l-1.2 24l0 25l-26.6 0l0-28l1.7-43l1.4-11l2-3l3.2-2z"/>
<path fill="#ffd4d4" d="M104.6 1115.3l56.1 0l1 4l2.6 3l10.3 8.4l9.3 5.6l3.4 3l1.7 6l-0.5 4l-4.4 8l-2.5 1.9l-2-0.7l-4.5-4.2l-5.5-2.2l-6-0.9l-16-0.6l-3-0.8l-16.8-10.5l-12.2-14.3l-10.3-7.7l-0.7-2zM224.6 1115.3l70.2 0l-0.7 4l-2.5 2.7l-3 0.9l-8 0.1l-49-0.2l-3-0.8l-2.5-1.7l-1.1-2l-0.4-3zM406.3 1115.3l173.3 0l0 26.2l-9 0.8l-8 1.9l-11 6.2l-10 3.4l-8 5.8l-14 5.1l-9 1.7l-19 1l-3 1l-3 2.1l-4 5l-8.4 13.8l-2 7l-3.2 20l-2 4l-6.4 8.6l-2.4 4.4l-6 22l-3.6 16.8l-2 4.2l-3 2.8l-5 1.9l-5 0.6l-5-1.7l-10-5l-5-1l-36 1.7l-15 3.3l-5-0.1l-4-0.9l-3-1.8l-2.3-3.8l-1.5-6l-0.2-66l-1.6-18l0.6-10.5l1-2.3l2-2l8-3.4l3.7-2.8l1.1-3l-0.7-8l1.4-2l2.5-1.6l8-2.1l27-0.6l5-2.1l1.8-2.6l0.8-3l0.1-21zM235.8 1185.3l0.8-0.8l1 0.4l0.9 3.4l-0.2 9l-0.7 2.2l-1 0.4l-1-1.4l-0.4-3.2l0.6-10zM104.6 1194.3l0-0.9l6 0.6l3 1.2l2 2l6.3 9.1l4.3 12l2.4 3.3l19.6 6.8l5.1 3l7.3 5.8l7 3.6l3 0.3l2-0.9l6-10.4l4-2.4l35-0.2l3 0.6l3 1.7l2.7 2.9l11.5 17l-0.2 3l-3.7 10l-0.2 4l9.6 17l2.9 17l-1.7 7l-4.7 9l-5.2 3.7l-7 2.7l-8 4.2l-4 1.1l-23 0.1l-11-2l-15-5.8l-4.3-3l0-3l3.3-4.6l2-4.8l0.2-6.6l-1.2-3.5l-2-3.1l-8.5-7.4l-4.5-1l-12 2.5l-10 0.9l-4-1l-4-2.5l-11-14.5l-3-2.9l-3-1.4l0-70.1zM268.5 1294.3l22.1-0.1l4 1.2l2 3.1l0.9 4.8l-0.1 12l-1.8 4l-2 1.3l-3 0.5l-21 0.1l-5-0.7l-3-1.8l-1.5-2.4l-0.2-2l1.7-13l2.6-5l4.3-2z"/>
<path fill="#ffb4b4" d="M116.9 1115.3l37 0l1.4 5l8.4 8l6.7 9l0.3 3l-3.1 3.1l-6 2.4l-11 1.4l-5-0.9l-5.6-4l-7.4-3.2l-3-2.2l-7.5-10.6l-4.4-8l-0.8-3zM437.5 1167.3l31.1 0.1l3 1.3l1.7 3.6l-0.7 2.6l-1.7 2.4l-7.3 5l-2.1 3l1.2 30l-1.3 3l-5.8 7.6l-2.4 5.4l-3.7 14l-3.9 21.3l-2 3.1l-2 1.1l-9 0.8l-8-1.8l-3.6-2.5l-1.2-2l2.6-12l-0.2-5l-1.6-4.7l-4.3-8.2l-4.1-13l-5.9-21l-0.4-6l1-9l2.9-5l15.9-12l4.9-1.6l6.9-0.4zM104.6 1195.3l0-0.6l6 0.8l4 2.8l6.4 10l4.6 13.6l2 3.1l2 1.4l13 5.5l3.1 2.4l2 3l4.3 12l1.1 15l-0.7 4l-1.4 3l-2.4 3.1l-3 2.1l-13 3l-8-0.5l-5-3.8l-10-12.6l-2-1.7l-3-1.2l0-64.4zM191.3 1251.3l3.3-0.2l12 2.2l5.3 2l2.3 3l3.6 9l9 11l3.2 6l0.6 13l-1 6l-8.2 15l-2.8 2.8l-3 1.5l-6 0.6l-19 0l-8.5-2.9l-3.1-2l-1.5-2l-0.5-4l1.8-27l-2.5-15l-0.1-4l1.4-3.7l3-3.8l10.7-7.5z"/>
<path fill="#ff9696" d="M135.2 1124.3l11.4-0.6l5 1.6l2.4 2l1.8 3l1 4l-0.3 3l-3.9 2.9l-4 0.3l-12.1-6.2l-2.9-2.6l-1.4-3.4l0.4-2l2.6-2zM430.5 1189.3l13.1 1.7l4.5 2.3l2.6 5l2.1 14l-0.2 4l-3.5 8l-2.4 8l-3.1 20l-2 4.4l-3 1.4l-4-0.2l-2-1l-2.7-4.6l-8-35l-2.1-15l0.2-4l2.2-4l4.4-3.6l3.9-1.4zM104.6 1196.3l5 0.5l3.8 2.5l7.2 11.5l4 13.6l2 3.9l2 1.9l8.3 5.1l5.7 8.1l3 7.5l1.8 12.4l-0.7 4l-3.1 3.2l-11 3.4l-4 0l-4-1.1l-5-3.5l-9-11.2l-3-2.2l-3-1l0-58.6zM196.2 1276.3l6.4-0.7l8 0.7l5 2.9l4.1 5.1l0.9 5l-0.5 12l-4.5 12.2l-3 2.6l-20 1.5l-3-1.2l-1.4-2.1l-1.3-10l0.6-7l4.1-15.4l2-3.6l2.6-2z"/>
<path fill="#ff7a7a" d="M104.6 1198.3l0-0.4l3.5 0.4l3.5 1.9l7 10.1l2.4 5l2.1 10l3.8 10l1.7 7.8l1 0.9l5 1.4l3.3 3.9l0.7 5l-0.5 9l-1.1 2l-2.9 2l-3.5 0.8l-3-1l-2.1-1.8l-3.2-5l-13.7-9.2l-4-1.5l0-51.2z"/>
<path fill="#ff5c5c" d="M104.6 1201.3l0-0.7l3 0.6l4 3l6.4 8.1l2.1 5l3 15l0.1 4l-2.3 8l-2.3 2.9l-2 1.1l-4-0.8l-8-5.5l0-40.7z"/>
<path fill="#ff3c3c" d="M104.6 1208.3l0-0.7l3 0l4 1.3l5 4.7l2 3.8l1.8 17l-1.8 4.4l-3 2.4l-2 0.1l-2-1l-7-6.8l0-25.1z"/>
<path fill="#ff1f1f" d="M109.1 1214.3l2.5-0.5l2 0.8l2.7 3.8l0.2 11l-0.8 3l-1.1 1.2l-2 0l-1.1-1.2l-4.7-13l0.2-3l2.1-2z"/>
<path fill="none" stroke="#fff" stroke-width="4.8" stroke-linejoin="round" d="M168.3 1115.3l0.7 3l1.5 2l11.1 6.8l10 4.3l8 1.1l15-0.5l5-2l1.2-2.7l-2.7-7l-0.4-5M579.6 1149.4l-5 0.9l-15 5.8l-15 8.9l-22 9.3l-26 3l-4 1l-3 1.8l-9 10.5l-3.5 5.8l-4.1 20l-3.4 6.9l-8.1 12.1l-8.9 29l-3 14l-2.5 5l-5.5 3.5l-9 1.8l-6.6-1.2l-8.4-3.6l-3 0.4l-6 4.9l-10 4.6l-8.7 6.8l-14.3 8.4l-7 6.8l-5 2.3l-23 4.2l-33 4.5l-5 1.2l-7 3.4l-6 1l-23 0.4l-16-0.9l-38 1.6l-23-0.6l-15-1.9l-21-5.5l-6.8-2.9l-4.8-3l-1.6-2l-5.2-12l-6.4-6l-4.2-8l-6-6.6l-7.8-11.4l-3.2-3.1l-3-1.4M104.6 1192.1l7 0.6l4.6 2.6l7 9l4.4 10.7l2 2.4l3 1.2l19 3.8l9 0.1l3.9-1.2l2.1-1.7l5.1-8.2l8.1-7l7.5-9l4.6-3l7-3l2.6-2l2.7-5l2-8l-1.3-4l-4.3-3l-8-0.7l-9 1.6l-3-0.1l-4.8-2.8l-5.8-7l-3.4-2.3l-6-1.6l-14-1.3l-4-1.2l-18.2-12.6l-11.8-12.6l-4-2.1l-4-0.9M277.6 1226.3l-5 3l-2 3l0.7 3l3.4 3l3.9 1.8l4 0.2l5.6-2l4.1-3l0.8-2l-0.5-1.9l-3-2.8l-7-2.8l-5 0.5M471.9 1417.3l0.1-30l1.2-36l1.3-14l1.1-3.2l3-3l4-1.4l5-0.2l5 0.4l3 0.9l3.2 2.5l1.3 3l-0.4 32l-1.2 24l0 25"/>
</g>
<clipPath id="p31"><path d="M810.8 1122.2 812.8 1122.2 814.8 1120.9 816.8 1122.2 818.8 1122.2 820.8 1122.2 822.8 1122.2 824.8 1120.9 826.8 1122.2 828.8 1122.2 830.8 1122.2 832.8 1122.2 834.8 1120.9 836.8 1122.2 838.8 1122.2 840.8 1122.2 842.8 1122.2 844.8 1120.9 846.8 1122.2 848.8 1122.2 850.8 1122.2 852.8 1122.2 854.8 1120.9 856.8 1122.2 858.8 1122.2 860.8 1122.2 862.8 1122.2 864.8 1120.9 866.8 1122.2 868.8 1122.2 870.8 1122.2 872.8 1122.2 874.8 1120.9 876.8 1122.2 878.8 1122.2 880.8 1122.2 882.8 1122.2 884.8 1120.9 886.8 1122.2 888.8 1122.2 890.8 1122.2 892.8 1122.2 894.8 1120.9 896.8 1122.2 898.8 1122.2 900.8 1122.2 902.8 1122.2 904.8 1120.9 906.8 1122.2 908.8 1122.2 910.8 1122.2 912.8 1122.2 914.8 1120.9 916.8 1122.2 918.8 1122.2 920.8 1122.2 922.8 1122.2 924.8 1120.9 926.8 1122.2 928.8 1122.2 930.8 1122.2 932.8 1122.2 934.8 1120.9 936.8 1122.2 938.8 1122.2 940.8 1122.2 942.8 1122.2 944.8 1120.9 946.8 1122.2 948.8 1122.2 950.8 1122.2 952.8 1122.2 954.8 1120.9 956.8 1122.2 958.8 1122.2 960.8 1122.2 962.8 1122.2 964.8 1120.9 966.8 1122.2 968.8 1122.2 970.8 1122.2 972.8 1122.2 974.8 1120.9 976.8 1122.2 978.8 1122.2 980.8 1122.2 982.8 1122.2 984.8 1120.9 986.8 1122.2 988.8 1122.2 990.8 1122.2 992.8 1122.2 994.8 1120.9 996.8 1122.2 998.8 1122.2 1000.8 1122.2 1002.8 1122.2 1004.8 1120.9 1006.8 1122.2 1008.8 1122.2 1010.8 1122.2 1012.8 1122.2 1014.8 1120.9 1016.8 1122.2 1018.8 1122.2 1020.8 1122.2 1022.8 1122.2 1024.8 1120.9 1026.8 1122.2 1028.8 1122.2 1030.8 1122.2 1032.8 1122.2 1034.8 1120.9 1036.8 1122.2 1038.8 1122.2 1040.8 1122.2 1042.8 1122.2 1044.8 1120.9 1046.8 1122.2 1048.8 1122.2 1050.8 1122.2 1052.8 1122.2 1054.8 1120.9 1056.8 1122.2 1058.8 1122.2 1060.8 1122.2 1062.8 1122.2 1064.8 1120.9 1066.8 1122.2 1068.8 1122.2 1070.8 1122.2 1072.8 1122.2 1074.8 1120.9 1076.8 1122.2 1078.8 1122.2 1080.8 1122.2 1082.8 1122.2 1084.8 1120.9 1086.8 1122.2 1088.8 1122.2 1090.8 1122.2 1092.8 1122.2 1094.8 1120.9 1096.8 1122.2 1098.8 1122.2 1100.8 1122.2 1102.8 1122.2 1104.8 1120.9 1106.8 1122.2 1108.8 1122.2 1110.8 1122.2 1112.8 1122.2 1114.8 1120.9 1116.8 1122.2 1118.8 1122.2 1120.8 1122.2 1122.8 1122.2 1124.8 1120.9 1126.8 1122.2 1128.8 1122.2 1130.8 1122.2 1132.8 1122.2 1134.8 1120.9 1136.8 1122.2 1138.8 1122.2 1140.8 1122.2 1142.8 1122.2 1144.8 1120.9 1146.8 1122.2 1148.8 1122.2 1150.8 1122.2 1152.8 1122.2 1154.8 1120.9 1156.8 1122.2 1158.8 1122.2 1160.8 1122.2 1162.8 1122.2 1164.8 1120.9 1166.8 1122.2 1168.8 1122.2 1170.8 1122.2 1172.8 1122.2 1174.8 1120.9 1176.8 1122.2 1178.8 1122.2 1180.8 1122.2 1182.8 1122.2 1184.8 1120.9 1186.8 1122.2 1188.8 1122.2 1190.8 1122.2 1192.8 1122.2 1194.8 1120.9 1196.8 1122.2 1198.8 1122.2 1200.8 1122.2 1202.8 1122.2 1204.8 1120.9 1206.8 1122.2 1208.8 1122.2 1210.8 1122.2 1212.8 1122.2 1214.8 1120.9 1216.8 1122.2 1218.8 1122.2 1220.8 1122.2 1222.8 1122.2 1224.8 1120.9 1226.8 1122.2 1228.8 1122.2 1230.8 1122.2 1232.8 1122.2 1234.8 1120.9 1236.8 1122.2 1238.8 1122.2 1240.8 1122.2 1242.8 1122.2 1244.8 1120.9 1246.8 1122.2 1248.8 1122.2 1250.8 1122.2 1252.8 1122.2 1254.8 1120.9 1256.8 1122.2 1258.8 1122.2 1260.8 1122.2 1262.8 1122.2 1264.8 1120.9 1266.8 1122.2 1268.8 1122.2 1270.8 1122.2 1272.8 1122.2 1274.8 1120.9 1276.8 1122.2 1278.8 1122.2 1280.7 1122.2 1280.7 1387.5 1280.7 1387.5 1278.7 1387.5 1276.7 1387.5 1274.7 1388.3 1272.7 1387.5 1270.7 1387.5 1268.7 1387.5 1266.7 1387.5 1264.7 1387.5 1262.7 1388.3 1260.7 1387.5 1258.7 1387.5 1256.7 1387.5 1254.7 1387.5 1252.7 1387.5 1250.7 1388.3 1248.7 1387.5 1246.7 1387.5 1244.7 1387.5 1242.7 1387.5 1240.7 1387.5 1238.7 1388.3 1236.7 1387.5 1234.7 1387.5 1232.7 1387.5 1230.7 1387.5 1228.7 1387.5 1226.7 1388.3 1224.7 1387.5 1222.7 1387.5 1220.7 1387.5 1218.7 1387.5 1216.7 1387.5 1214.7 1388.3 1212.7 1387.5 1210.7 1387.5 1208.7 1387.5 1206.7 1387.5 1204.7 1387.5 1202.7 1388.3 1200.7 1387.5 1198.7 1387.5 1196.7 1387.5 1194.7 1387.5 1192.7 1387.5 1190.7 1388.3 1188.7 1387.5 1186.7 1387.5 1184.7 1387.5 1182.7 1387.5 1180.7 1387.5 1178.7 1388.3 1176.7 1387.5 1174.7 1387.5 1172.7 1387.5 1170.7 1387.5 1168.7 1387.5 1166.7 1388.3 1164.7 1387.5 1162.7 1387.5 1160.7 1387.5 1158.7 1387.5 1156.7 1387.5 1154.7 1388.3 1152.7 1387.5 1150.7 1387.5 1148.7 1387.5 1146.7 1387.5 1144.7 1387.5 1142.7 1388.3 1140.7 1387.5 1138.7 1387.5 1136.7 1387.5 1134.7 1387.5 1132.7 1387.5 1130.7 1388.3 1128.7 1387.5 1126.7 1387.5 1124.7 1387.5 1122.7 1387.5 1120.7 1387.5 1118.7 1388.3 1116.7 1387.5 1114.7 1387.5 1112.7 1387.5 1110.7 1387.5 1108.7 1387.5 1106.7 1388.3 1104.7 1387.5 1102.7 1387.5 1100.7 1387.5 1098.7 1387.5 1096.7 1387.5 1094.7 1388.3 1092.7 1387.5 1090.7 1387.5 1088.7 1387.5 1086.7 1387.5 1084.7 1387.5 1082.7 1388.3 1080.7 1387.5 1078.7 1387.5 1076.7 1387.5 1074.7 1387.5 1072.7 1387.5 1070.7 1388.3 1068.7 1387.5 1066.7 1387.5 1064.7 1387.5 1062.7 1387.5 1060.7 1387.5 1058.7 1388.3 1056.7 1387.5 1054.7 1387.5 1052.7 1387.5 1050.7 1387.5 1048.7 1387.5 1046.7 1388.3 1044.7 1387.5 1042.7 1387.5 1040.7 1387.5 1038.7 1387.5 1036.7 1387.5 1034.7 1388.3 1032.7 1387.5 1030.7 1387.5 1028.7 1387.5 1026.7 1387.5 1024.7 1387.5 1022.7 1388.3 1020.7 1387.5 1018.7 1387.5 1016.7 1387.5 1014.7 1387.5 1012.7 1387.5 1010.7 1388.3 1008.7 1387.5 1006.7 1387.5 1004.7 1387.5 1002.7 1387.5 1000.7 1387.5 998.7 1388.3 996.7 1387.5 994.7 1387.5 992.7 1387.5 990.7 1387.5 988.7 1387.5 986.7 1388.3 984.7 1387.5 982.7 1387.5 980.7 1387.5 978.7 1387.5 976.7 1387.5 974.7 1388.3 972.7 1387.5 970.7 1387.5 968.7 1387.5 966.7 1387.5 964.7 1387.5 962.7 1388.3 960.7 1387.5 958.7 1387.5 956.7 1387.5 954.7 1387.5 952.7 1387.5 950.7 1388.3 948.7 1387.5 946.7 1387.5 944.7 1387.5 942.7 1387.5 940.7 1387.5 938.7 1388.3 936.7 1387.5 934.7 1387.5 932.7 1387.5 930.7 1387.5 928.7 1387.5 926.7 1388.3 924.7 1387.5 922.7 1387.5 920.7 1387.5 918.7 1387.5 916.7 1387.5 914.7 1388.3 912.7 1387.5 910.7 1387.5 908.7 1387.5 906.7 1387.5 904.7 1387.5 902.7 1388.3 900.7 1387.5 898.7 1387.5 896.7 1387.5 894.7 1387.5 892.7 1387.5 890.7 1388.3 888.7 1387.5 886.7 1387.5 884.7 1387.5 882.7 1387.5 880.7 1387.5 878.7 1388.3 876.7 1387.5 874.7 1387.5 872.7 1387.5 870.7 1387.5 868.7 1387.5 866.7 1388.3 864.7 1387.5 862.7 1387.5 860.7 1387.5 858.7 1387.5 856.7 1387.5 854.7 1388.3 852.7 1387.5 850.7 1387.5 848.7 1387.5 846.7 1387.5 844.7 1387.5 842.7 1388.3 840.7 1387.5 838.7 1387.5 836.7 1387.5 834.7 1387.5 833.9 1387.5 833.9 1348.5 828.1 1342.1 828.1 1304.2 822 1296.5 822 1267 814.1 1258.4 814.1 1242.1 810.8 1239.6 810.8 1122.2z"/></clipPath>
<g clip-path="url(#p31)">
<path fill="#5050ff" d="M810.8 1122.2 812.8 1122.2 814.8 1120.9 816.8 1122.2 818.8 1122.2 820.8 1122.2 822.8 1122.2 824.8 1120.9 826.8 1122.2 828.8 1122.2 830.8 1122.2 832.8 1122.2 834.8 1120.9 836.8 1122.2 838.8 1122.2 840.8 1122.2 842.8 1122.2 844.8 1120.9 846.8 1122.2 848.8 1122.2 850.8 1122.2 852.8 1122.2 854.8 1120.9 856.8 1122.2 858.8 1122.2 860.8 1122.2 862.8 1122.2 864.8 1120.9 866.8 1122.2 868.8 1122.2 870.8 1122.2 872.8 1122.2 874.8 1120.9 876.8 1122.2 878.8 1122.2 880.8 1122.2 882.8 1122.2 884.8 1120.9 886.8 1122.2 888.8 1122.2 890.8 1122.2 892.8 1122.2 894.8 1120.9 896.8 1122.2 898.8 1122.2 900.8 1122.2 902.8 1122.2 904.8 1120.9 906.8 1122.2 908.8 1122.2 910.8 1122.2 912.8 1122.2 914.8 1120.9 916.8 1122.2 918.8 1122.2 920.8 1122.2 922.8 1122.2 924.8 1120.9 926.8 1122.2 928.8 1122.2 930.8 1122.2 932.8 1122.2 934.8 1120.9 936.8 1122.2 938.8 1122.2 940.8 1122.2 942.8 1122.2 944.8 1120.9 946.8 1122.2 948.8 1122.2 950.8 1122.2 952.8 1122.2 954.8 1120.9 956.8 1122.2 958.8 1122.2 960.8 1122.2 962.8 1122.2 964.8 1120.9 966.8 1122.2 968.8 1122.2 970.8 1122.2 972.8 1122.2 974.8 1120.9 976.8 1122.2 978.8 1122.2 980.8 1122.2 982.8 1122.2 984.8 1120.9 986.8 1122.2 988.8 1122.2 990.8 1122.2 992.8 1122.2 994.8 1120.9 996.8 1122.2 998.8 1122.2 1000.8 1122.2 1002.8 1122.2 1004.8 1120.9 1006.8 1122.2 1008.8 1122.2 1010.8 1122.2 1012.8 1122.2 1014.8 1120.9 1016.8 1122.2 1018.8 1122.2 1020.8 1122.2 1022.8 1122.2 1024.8 1120.9 1026.8 1122.2 1028.8 1122.2 1030.8 1122.2 1032.8 1122.2 1034.8 1120.9 1036.8 1122.2 1038.8 1122.2 1040.8 1122.2 1042.8 1122.2 1044.8 1120.9 1046.8 1122.2 1048.8 1122.2 1050.8 1122.2 1052.8 1122.2 1054.8 1120.9 1056.8 1122.2 1058.8 1122.2 1060.8 1122.2 1062.8 1122.2 1064.8 1120.9 1066.8 1122.2 1068.8 1122.2 1070.8 1122.2 1072.8 1122.2 1074.8 1120.9 1076.8 1122.2 1078.8 1122.2 1080.8 1122.2 1082.8 1122.2 1084.8 1120.9 1086.8 1122.2 1088.8 1122.2 1090.8 1122.2 1092.8 1122.2 1094.8 1120.9 1096.8 1122.2 1098.8 1122.2 1100.8 1122.2 1102.8 1122.2 1104.8 1120.9 1106.8 1122.2 1108.8 1122.2 1110.8 1122.2 1112.8 1122.2 1114.8 1120.9 1116.8 1122.2 1118.8 1122.2 1120.8 1122.2 1122.8 1122.2 1124.8 1120.9 1126.8 1122.2 1128.8 1122.2 1130.8 1122.2 1132.8 1122.2 1134.8 1120.9 1136.8 1122.2 1138.8 1122.2 1140.8 1122.2 1142.8 1122.2 1144.8 1120.9 1146.8 1122.2 1148.8 1122.2 1150.8 1122.2 1152.8 1122.2 1154.8 1120.9 1156.8 1122.2 1158.8 1122.2 1160.8 1122.2 1162.8 1122.2 1164.8 1120.9 1166.8 1122.2 1168.8 1122.2 1170.8 1122.2 1172.8 1122.2 1174.8 1120.9 1176.8 1122.2 1178.8 1122.2 1180.8 1122.2 1182.8 1122.2 1184.8 1120.9 1186.8 1122.2 1188.8 1122.2 1190.8 1122.2 1192.8 1122.2 1194.8 1120.9 1196.8 1122.2 1198.8 1122.2 1200.8 1122.2 1202.8 1122.2 1204.8 1120.9 1206.8 1122.2 1208.8 1122.2 1210.8 1122.2 1212.8 1122.2 1214.8 1120.9 1216.8 1122.2 1218.8 1122.2 1220.8 1122.2 1222.8 1122.2 1224.8 1120.9 1226.8 1122.2 1228.8 1122.2 1230.8 1122.2 1232.8 1122.2 1234.8 1120.9 1236.8 1122.2 1238.8 1122.2 1240.8 1122.2 1242.8 1122.2 1244.8 1120.9 1246.8 1122.2 1248.8 1122.2 1250.8 1122.2 1252.8 1122.2 1254.8 1120.9 1256.8 1122.2 1258.8 1122.2 1260.8 1122.2 1262.8 1122.2 1264.8 1120.9 1266.8 1122.2 1268.8 1122.2 1270.8 1122.2 1272.8 1122.2 1274.8 1120.9 1276.8 1122.2 1278.8 1122.2 1280.7 1122.2 1280.7 1387.5 1280.7 1387.5 1278.7 1387.5 1276.7 1387.5 1274.7 1388.3 1272.7 1387.5 1270.7 1387.5 1268.7 1387.5 1266.7 1387.5 1264.7 1387.5 1262.7 1388.3 1260.7 1387.5 1258.7 1387.5 1256.7 1387.5 1254.7 1387.5 1252.7 1387.5 1250.7 1388.3 1248.7 1387.5 1246.7 1387.5 1244.7 1387.5 1242.7 1387.5 1240.7 1387.5 1238.7 1388.3 1236.7 1387.5 1234.7 1387.5 1232.7 1387.5 1230.7 1387.5 1228.7 1387.5 1226.7 1388.3 1224.7 1387.5 1222.7 1387.5 1220.7 1387.5 1218.7 1387.5 1216.7 1387.5 1214.7 1388.3 1212.7 1387.5 1210.7 1387.5 1208.7 1387.5 1206.7 1387.5 1204.7 1387.5 1202.7 1388.3 1200.7 1387.5 1198.7 1387.5 1196.7 1387.5 1194.7 1387.5 1192.7 1387.5 1190.7 1388.3 1188.7 1387.5 1186.7 1387.5 1184.7 1387.5 1182.7 1387.5 1180.7 1387.5 1178.7 1388.3 1176.7 1387.5 1174.7 1387.5 1172.7 1387.5 1170.7 1387.5 1168.7 1387.5 1166.7 1388.3 1164.7 1387.5 1162.7 1387.5 1160.7 1387.5 1158.7 1387.5 1156.7 1387.5 1154.7 1388.3 1152.7 1387.5 1150.7 1387.5 1148.7 1387.5 1146.7 1387.5 1144.7 1387.5 1142.7 1388.3 1140.7 1387.5 1138.7 1387.5 1136.7 1387.5 1134.7 1387.5 1132.7 1387.5 1130.7 1388.3 1128.7 1387.5 1126.7 1387.5 1124.7 1387.5 1122.7 1387.5 1120.7 1387.5 1118.7 1388.3 1116.7 1387.5 1114.7 1387.5 1112.7 1387.5 1110.7 1387.5 1108.7 1387.5 1106.7 1388.3 1104.7 1387.5 1102.7 1387.5 1100.7 1387.5 1098.7 1387.5 1096.7 1387.5 1094.7 1388.3 1092.7 1387.5 1090.7 1387.5 1088.7 1387.5 1086.7 1387.5 1084.7 1387.5 1082.7 1388.3 1080.7 1387.5 1078.7 1387.5 1076.7 1387.5 1074.7 1387.5 1072.7 1387.5 1070.7 1388.3 1068.7 1387.5 1066.7 1387.5 1064.7 1387.5 1062.7 1387.5 1060.7 1387.5 1058.7 1388.3 1056.7 1387.5 1054.7 1387.5 1052.7 1387.5 1050.7 1387.5 1048.7 1387.5 1046.7 1388.3 1044.7 1387.5 1042.7 1387.5 1040.7 1387.5 1038.7 1387.5 1036.7 1387.5 1034.7 1388.3 1032.7 1387.5 1030.7 1387.5 1028.7 1387.5 1026.7 1387.5 1024.7 1387.5 1022.7 1388.3 1020.7 1387.5 1018.7 1387.5 1016.7 1387.5 1014.7 1387.5 1012.7 1387.5 1010.7 1388.3 1008.7 1387.5 1006.7 1387.5 1004.7 1387.5 1002.7 1387.5 1000.7 1387.5 998.7 1388.3 996.7 1387.5 994.7 1387.5 992.7 1387.5 990.7 1387.5 988.7 1387.5 986.7 1388.3 984.7 1387.5 982.7 1387.5 980.7 1387.5 978.7 1387.5 976.7 1387.5 974.7 1388.3 972.7 1387.5 970.7 1387.5 968.7 1387.5 966.7 1387.5 964.7 1387.5 962.7 1388.3 960.7 1387.5 958.7 1387.5 956.7 1387.5 954.7 1387.5 952.7 1387.5 950.7 1388.3 948.7 1387.5 946.7 1387.5 944.7 1387.5 942.7 1387.5 940.7 1387.5 938.7 1388.3 936.7 1387.5 934.7 1387.5 932.7 1387.5 930.7 1387.5 928.7 1387.5 926.7 1388.3 924.7 1387.5 922.7 1387.5 920.7 1387.5 918.7 1387.5 916.7 1387.5 914.7 1388.3 912.7 1387.5 910.7 1387.5 908.7 1387.5 906.7 1387.5 904.7 1387.5 902.7 1388.3 900.7 1387.5 898.7 1387.5 896.7 1387.5 894.7 1387.5 892.7 1387.5 890.7 1388.3 888.7 1387.5 886.7 1387.5 884.7 1387.5 882.7 1387.5 880.7 1387.5 878.7 1388.3 876.7 1387.5 874.7 1387.5 872.7 1387.5 870.7 1387.5 868.7 1387.5 866.7 1388.3 864.7 1387.5 862.7 1387.5 860.7 1387.5 858.7 1387.5 856.7 1387.5 854.7 1388.3 852.7 1387.5 850.7 1387.5 848.7 1387.5 846.7 1387.5 844.7 1387.5 842.7 1388.3 840.7 1387.5 838.7 1387.5 836.7 1387.5 834.7 1387.5 833.9 1387.5 833.9 1348.5 828.1 1342.1 828.1 1304.2 822 1296.5 822 1267 814.1 1258.4 814.1 1242.1 810.8 1239.6 810.8 1122.2z"/>
<path fill="#7272ff" d="M808.1 1115.3l36.4 0l0.6 3l3 3.3l10 5.7l4 1.2l2-0.3l2-1.9l0.5-11l416.5 0l0 302l-475 0l0-302z"/>
<path fill="#9090ff" d="M808.1 1115.3l32.9 0l1.1 5l4.9 5l7.1 2.7l7 4.7l11 1.7l3.8-1.1l0.9-2l-3-9l-0.7-7l410 0l0 302l-475 0l0-302z"/>
<path fill="#adadff" d="M808.1 1115.3l30.9 0l1.4 6l4.7 5.2l9 3.5l7 5.7l13 2.2l6-1.3l1.6-1.2l0.8-2l-4.5-9l-1.4-9l406.5 0l0 302l-475 0l0-302zM922.1 1157.3l-13 2.6l-2.3 1.4l-1.7 2.9l-0.8 5.1l-0.4 13l1.8 4l3.4 2.6l5 0.7l16-0.3l3-2l2.3-4l5-15l-0.3-5l-2-2.7l-3-1.4l-8-1.7l-5-0.2z"/>
<path fill="#cbcbff" d="M808.1 1115.3l29.3 0l0.7 5l3.2 5l3.8 2.9l8.4 3.1l5.6 6l3 1.4l17.2 3.6l5.1 2l2.6 2l1.6 4l3.4 14l-0.4 4l-4.3 15l2.8 15l1.5 3l2.9 3l11.6 6.1l5 5.2l1.3 3.8l2.3 15l6 17l2.4 15.8l2 4.2l3 2.1l2-0.9l1.4-2.2l3.6-11.4l4.4-10.6l0.6-18l-0.5-30l1.3-4l5.6-10l2-5l3.4-14l-0.6-6l-3.8-10l-2.4-2.4l-4-2l-5-0.9l-27-0.8l-8.6-1.9l-6.4-2.8l-1.9-2.2l-2.8-6l-7.6-7l-1.7-4.1l-0.6-5.9l403.6 0l0 302l-475 0l0-302z"/>
<path fill="#e9e9ff" d="M808.1 1115.3l27.6 0l0.4 4l1.1 3l4.9 5.7l10.1 4.3l4.9 6.2l2.3 1.8l14.7 4.3l3.3 1.8l1.9 2l1.9 5l2.3 11l-1 6l-5 13l0.3 6l1.7 9l2.1 5l3.1 5l10.8 11l3.5 6l8.1 23l7.3 31l2.7 4.6l5 2.9l9.7 2.5l5.3 2.3l2.9 2.8l3.1 6l3 3.3l13 5.5l2.8 2.2l6.2 7.4l16 7l3.5 2.6l5.7 6l3.3 2l4.5 1.3l18 1.1l8 1.3l8 3.3l7 1.5l3.9 4.5l3.1 2.2l12 1.1l6.2-1.2l2.5-2l1.1-2l3-13l-0.2-16l-2.7-6l-8.5-8l-5.3-8l-6.1-5.3l-2.3-3.7l-1.2-7l-0.7-30l-0.9-4l-1.9-3.4l-2-1.5l-3-0.7l-38 0.2l-2 0.6l-2.4 1.8l-4.8 10l-1.8 2.3l-2 1.2l-20 0.5l-3-0.5l-2-1.2l-2.3-3.2l-7.8-19l-0.5-14l0.7-8l1.9-10l8.9-16l1.6-5l1.6-16l-1.1-10l-1.2-4l-1.9-2l-3.6-2l-15.3-5l-7-0.9l-19-0.4l-10-2.3l-22.1-13.4l-2.8-4l-0.6-5l400.5 0l0 302l-47.7 0l0-23l-1.2-6l-6.1-13.7l-3.2-5.2l-5.8-3.9l-5-1.2l-4.1 1.1l-5.3 4l-12.6 20l-1.1 5l0 23l-313.7 0l-0.4-26l-1.8-3.8l-5-7.4l-3.4-9.8l-2.2-3l-3.4-1.5l-20-3.1l-10-3l-23-0.2l0-244.2z"/>
<path fill="#fff3f3" d="M808.1 1115.3l26 0l1.2 7l4.7 6l11.1 5.6l4.7 6.4l2.3 2.1l13 4.6l3.8 3.3l2.5 14l-5.7 19l0.5 16l8.9 19l9.8 13l3.2 6.3l4.9 12.8l2.8 15l4 16l2.5 4l20.8 11.2l15 12.9l10.5 7.9l18.5 11.3l9 8.1l5 3.1l11 3.9l21 3.5l15 6l8 0.6l8 2.2l13 1.7l6-0.2l5-1.2l5-3l3.7-4l5.4-14l0.2-15l0.8-5l4.3-9l6.8-9l4.2-3l5.6-1.9l25-3.5l3-1.6l2.6-3l0.9-4l0.5-13l-1.3-33l3.5-19l-2.3-13l-3.1-7l-2.8-2.9l-7-5.2l-6-11.5l-2-2.2l-3-1.6l-6-0.5l-67 0.7l-4-2.6l-4.8-9.2l-3.2-2.8l-4-0.6l-23-0.4l-5-1l-8-3.8l-7.1-6.4l-4.5-3l-5.4-2.2l-8-2.1l-24-3.1l-23-0.4l-5-0.9l-23.6-11.2l-3.7-3l-1.3-4l66.3 0l0.6 3l2.7 2.8l4 1.7l5 0.8l146 0.1l8 1.1l10 3.2l8-2.2l7-1l21 0l6 1l2 1.2l0.5 1.3l-5.9 10l-4.3 10l-0.2 17l-2 17l8.9 32l2 2.9l3 1.3l2-0.3l3-2.1l16-19.9l11-7.8l8-8.9l4-3.2l6-2l28-1.8l4-2l7-5.8l4-2.3l8-3l6-0.8l0 166l-8 1.3l-4.4 3.4l-3.9 7l-5.7 15.7l-9.7 7.3l-5.3 10.8l-3 2.7l-2-0.2l-2-1.6l-4.7-9.7l-2.3-2.8l-3-1.9l-4-0.9l-9-0.9l-6 0.6l-11 5.6l-6.2 4.3l-3.9 4l-3.9 5.8l-5 12.2l-1 6l0 24l-296.4 0l-0.5-27l-9.5-20l-2.8-4l-5.8-4.4l-22-8.9l-16-9.6l-18-0.5l0-15.9l13 0l3.6-0.7l2.6-3l1.4-6l-1.7-14l-4.5-10l-3-11l-3.7-29l-2.6-34l-2.1-3.9l-3-1.1l0-99z"/>
<path fill="#ffd4d4" d="M808.1 1115.3l24.4 0l1 7l3.6 5.8l11.5 7.2l7.7 9l8.4 4l2.6 2l0.7 2l-0.2 3l-2.7 9.2l-3.3 4.8l-9.9 11l-1.9 3l-0.5 4l1.1 10l0.8 2l2.2 2l13.5 5.7l4.4 5.3l4.6 13l5.6 9l7.4 18l5.3 18l6.2 15l4.5 4.1l18 9.8l25.2 20.1l18.8 11.6l4.1 3.4l7.8 9l4.1 2.8l4 1.7l45 9.6l12 0.8l20 4.5l8 1l4-0.8l10-5.5l13.4-6.1l1.9-2l1.1-4l1.3-26l1.3-3.5l3-4.5l10.5-10l5.5-2.1l11-1.2l6-1.6l4-2.9l2.4-4.2l1.7-7l0.5-36l2.7-13l3.6-7l3.3-3l3.8-0.7l2 1l5 4.8l2 1.1l4 0.5l3-0.9l13.7-10.7l6.3-5.8l9.7-6.2l8.3-8.1l8-3.9l29-5.1l23-9.1l6-1.2l0 78.3l-4 1.2l-3.1 2.9l-6.9 12.6l-15.5 17.4l-6.6 12l-14.9 21l-8 6.3l-8 7.7l-8 5l-8 6.4l-16 8.3l-9.6 9.3l-2.1 5l-1.9 14l-0.4 31l-284.6 0l-0.4-27.2l-2-6.2l-7-16l-4-4.5l-7-5.4l-14-8.9l-13.5-6.8l-4.4-4l-1.7-3l-0.3-3l1.6-12l-0.2-6l-2-14l-5.1-11l-1.3-5l-3.6-34l-0.2-20l-2.5-13l-1.8-4.8l-3-3l-5-1.1l0-93.1zM901.7 1115.3l32.4 0l-0.6 4l-2.4 3l-3 1.1l-6 0.3l-9-0.4l-6-1.6l-3.8-2.4l-1.6-4z"/>
<path fill="#ffb4b4" d="M808.1 1115.3l22.6 0l0.8 7l2.9 6l21.1 20l1.6 3l-0.6 2l-2.4 3.4l-5 3.4l-10 2.6l-16 1.5l-4 2.1l2.3 6l1 8l-0.4 7l-1.9 8.9l-1.3 3.1l-1.7 1.7l-9 1.5l0-87.2zM1255.1 1211.3l3-0.4l2 1.3l2 3l0.7 3.1l-1.5 30l-1.2 3.1l-3 2.2l-3-1.4l-1.6-3.9l-0.3-15l-1.2-13l0.7-5l3.4-4zM853.7 1214.3l2.4-0.5l5 0.3l2 0.7l2 1.9l0.8 2.6l-0.1 11l0.8 4l9.5 13.4l7.5 17.6l4.9 15l3 5l9.6 7.8l15.1 7.2l17.9 15.3l27.5 17.8l3 3l6.5 10l5 4.7l5 3.1l4 1.6l25 4.4l23 1.9l14 0.4l10.4 2.9l7.1 4l1.8 2l1.9 4l3.1 12l0.5 30l-184.4 0l-0.3-27l-2.1-8.1l-5.1-13.9l-3.9-5.9l-12-10.1l-7-7.4l-5-3.1l-10-4.2l-3.4-3.2l-0.8-3l0.1-15l-1.9-13l-2.4-7l-6-13l-1.7-31l1-6l1.7-3l2.4-2.3l9-4.6l2.4-2.1l1.9-3l5.7-13.3l3.6-3.7zM1195.8 1230.3l9.3-0.8l4 1.3l8 11.7l7.7 5.8l2.1 3l2.6 15l-4.9 32l-8.1 19l-8.1 10l-6.3 5.5l-20 13.6l-8 7.5l-7 3.2l-3.2 3.2l-1.9 5l-0.7 5l0 47l-5.7 0l-0.1-48l-5.1-19l-1.1-14l1.1-5l5.5-9l1.4-4l-0.1-4l-2.6-13l3.4-17l1.3-34l1.6-10l1.2-3.2l1-0.3l4 4.1l2.4 1.4l4.6 0.7l5-0.6l3.3-2.1l6.7-7.9l6.7-2.1zM1107.6 1361.3l4.5-0.2l3.7 1.2l2.8 3l1.8 4l3.2 11l1.7 9l0.3 28l-43 0l-0.7-44l0.6-4l2.8-3l3.9-2l18.4-3z"/>
<path fill="#ff9696" d="M808.1 1115.3l20.5 0l1.3 9l6.2 14.5l2 2.9l6.2 5.6l0.6 2l-0.7 1l-3.1 1.9l-4 0.4l-13-3l-16-1l0-33.2zM849.1 1242.3l4-0.7l7 0.4l2 0.9l3 3l3.1 5.4l12 33l2.9 3.9l11 8.8l17 6.3l18 15l23.6 15l3.5 4l9.9 17.3l6 5.7l10 3.8l30 5l33-3l5 1.1l3.5 2.1l3.1 5l6.3 16l0.3 27l-173.9 0l-0.3-28l-2.3-9l-4.7-13.7l-4-7l-8.7-8.2l-5.3-10.6l-6.6-7.4l1.6-3l8-5.1l2.2-3.9l1.1-5l0.8-13l-1.1-6.6l-2-2.6l-2-0.9l-22-0.2l-3-0.6l-4-4.1l-2-5l-0.7-29l0.6-4l1.3-2l2.8-2l10-4zM1195.8 1244.3l4.3-0.7l5 0.5l2.8 2.2l2.1 4l4.3 12l1.1 5l0.1 15l-1.4 7l-7 20.5l-3.2 7.5l-2.8 3.8l-3 2.1l-10 4l-6.9 8.1l-3.1 2.3l-6 1.8l-7-0.4l-2.3-1.7l-1.2-3l4.2-15l-1.4-20l1.7-17.8l2.8-17.2l2.1-4l2.1-1.4l9-0.9l3.9-1.7l6.1-9l3.7-3z"/>
<path fill="#ff7a7a" d="M808.1 1115.3l18 0l0.5 6l2.8 12l-1 4l-2.3 2.9l-3 0.9l-3.4-0.8l-11.6-7.4l0-17.6zM881.1 1299.3l2-0.6l2 0.6l6 6.7l12 1.3l5 1.6l11 8.9l24.6 15.5l3.6 4l10.3 31l-1.3 3l-8.2 10.6l-4.4 8.4l-0.6 5l0 22l-51.6 0l-0.1-25l-1.8-10l-6.6-21l-2.2-4l-5.8-7l-1-4l-0.6-11l1.7-19l3-11.6l3-5.4zM1045.1 1386.3l1-0.8l2 0.4l2.9 5.4l0.4 26l-9.2 0l0.1-24l1-4l1.8-3z"/>
<path fill="#ff5c5c" d="M820.8 1124.3l1.3-0.1l1 0.8l1.1 2.3l0.2 4l-1.3 1.5l-2-0.5l-2.1-3l0-3l1.8-2zM899.1 1314.3l7 1l9 7.3l13 5.9l7.1 5.8l2.6 5l2.7 10l0.1 5l-2.2 12l-5.3 13.9l-2.3 9.1l-0.4 28l-36.4 0l-0.5-29l-7.1-27l-4.5-10l-0.7-4l1.5-13l2.1-6l9.3-11.9l2-1.4l3-0.7z"/>
<path fill="#ff3c3c" d="M900.8 1326.3l4.3 0.5l9 3.6l11 2.2l3 2.1l1.9 3.6l2.2 14l-2.2 17l-4.2 22l-0.1 26l-26.6 0l-0.2-25l-7.5-24l-2.8-19l1.7-11l1.8-4.7l4-5.4l2-1.3l2.7-0.6z"/>
<path fill="#ff1f1f" d="M900.9 1343.3l17.2-0.3l3 0.7l2 1.8l2.2 5.8l0.3 14l-1.2 7l-2.3 4.4l-2 0.6l-4-1.2l-15-5.8l-3.6-3l-1.2-5l-0.3-11l2.1-5.8l2.8-2.2z"/>
<path fill="none" stroke="#fff" stroke-width="4.8" stroke-linejoin="round" d="M834.1 1115.3l1.2 7l4.7 6l11.1 5.6l4.7 6.4l2.3 2.1l13 4.6l3.8 3.3l2.5 14l-5.7 19l0.5 16l8.9 19l9.8 13l3.2 6.3l4.9 12.8l2.8 15l4 16l2.3 3.9l3 2.1l18 9.2l15 12.9l10.5 7.9l18.2 11l9.3 8.4l6 3.6l10 3.4l21 3.5l15 6l8 0.6l9 2.4l14 1.6l6-0.6l4-1.3l4-2.6l3.7-4l5.4-14l0.2-15l0.8-5l4.3-9l6.6-8.8l4.4-3.2l5.6-1.9l25-3.5l3-1.6l2.6-3l0.9-4l0.5-13l-1.3-33l3.5-19l-2.3-13l-3.1-7l-2.8-2.9l-7-5.2l-6-11.5l-2-2.2l-3-1.6l-6-0.5l-67 0.7l-4-2.6l-4.8-9.2l-3.2-2.8l-4-0.6l-23-0.4l-5-1l-8-3.8l-7.1-6.4l-4.5-3l-5.4-2.2l-8-2.1l-24-3.1l-23-0.4l-5-0.9l-23.6-11.2l-3.7-3l-1.3-4M953.8 1115.3l0.6 3l2.7 2.8l4 1.7l5 0.8l146 0.1l8 1.1l10 3.2l8-2.2l7-1l21 0l7 1.4l1.3 1.1l-0.2 2l-5.1 8.2l-4.7 10.8l-0.2 17l-2 17l8.9 32l2 2.9l3 1.3l2-0.3l3-2.1l16-19.9l11-7.8l8-8.9l4-3.2l6-2l28-1.8l4-2l7-5.8l4-2.3l8-3l6-0.8M1283.1 1324.6l-8 1.3l-4.4 3.4l-3.9 7l-5.7 15.7l-9.7 7.3l-5.3 10.8l-3 2.7l-2-0.2l-2-1.6l-4.7-9.7l-2.3-2.8l-3-1.9l-4-0.9l-9-0.9l-6 0.6l-11 5.6l-6.2 4.3l-3.9 4l-3.9 5.8l-5 12.2l-1 6l0 24M808.1 1327l13 0l3.6-0.7l2.6-3l1.4-6l-1.7-14l-4.5-10l-3-11l-3.7-29l-2.6-34l-2.1-3.9l-3-1.1M882.7 1417.3l-0.5-27l-9.5-20l-2.8-4l-5.8-4.4l-22-8.9l-16-9.6l-18-0.5"/>
</g>
<clipPath id="p40"><path d="M107.3 1481.8 109.3 1481.8 111.3 1480.5 113.3 1481.8 115.3 1481.8 117.3 1481.8 119.3 1481.8 121.3 1480.5 123.3 1481.8 125.3 1481.8 127.3 1481.8 129.3 1481.8 131.3 1480.5 133.3 1481.8 135.3 1481.8 137.3 1481.8 139.3 1481.8 141.3 1480.5 143.3 1481.8 145.3 1481.8 147.3 1481.8 149.3 1481.8 151.3 1480.5 153.3 1481.8 155.3 1481.8 157.3 1481.8 159.3 1481.8 161.3 1480.5 163.3 1481.8 165.3 1481.8 167.3 1481.8 169.3 1481.8 171.3 1480.5 173.3 1481.8 175.3 1481.8 177.3 1481.8 179.3 1481.8 181.3 1480.5 183.3 1481.8 185.3 1481.8 187.3 1481.8 189.3 1481.8 191.3 1480.5 193.3 1481.8 195.3 1481.8 197.3 1481.8 199.3 1481.8 201.3 1480.5 203.3 1481.8 205.3 1481.8 207.3 1481.8 209.3 1481.8 211.3 1480.5 213.3 1481.8 215.3 1481.8 217.3 1481.8 219.3 1481.8 221.3 1480.5 223.3 1481.8 225.3 1481.8 227.3 1481.8 229.3 1481.8 231.3 1480.5 233.3 1481.8 235.3 1481.8 237.3 1481.8 239.3 1481.8 241.3 1480.5 243.3 1481.8 245.3 1481.8 247.3 1481.8 249.3 1481.8 251.3 1480.5 253.3 1481.8 255.3 1481.8 257.3 1481.8 259.3 1481.8 261.3 1480.5 263.3 1481.8 265.3 1481.8 267.3 1481.8 269.3 1481.8 271.3 1480.5 273.3 1481.8 275.3 1481.8 277.3 1481.8 279.3 1481.8 281.3 1480.5 283.3 1481.8 285.3 1481.8 287.3 1481.8 289.3 1481.8 291.3 1480.5 293.3 1481.8 295.3 1481.8 297.3 1481.8 299.3 1481.8 301.3 1480.5 303.3 1481.8 305.3 1481.8 307.3 1481.8 309.3 1481.8 311.3 1480.5 313.3 1481.8 315.3 1481.8 317.3 1481.8 319.3 1481.8 321.3 1480.5 323.3 1481.8 325.3 1481.8 327.3 1481.8 329.3 1481.8 331.3 1480.5 333.3 1481.8 335.3 1481.8 337.3 1481.8 339.3 1481.8 341.3 1480.5 343.3 1481.8 345.3 1481.8 347.3 1481.8 349.3 1481.8 351.3 1480.5 353.3 1481.8 355.3 1481.8 357.3 1481.8 359.3 1481.8 361.3 1480.5 363.3 1481.8 365.3 1481.8 367.3 1481.8 369.3 1481.8 371.3 1480.5 373.3 1481.8 375.3 1481.8 377.3 1481.8 379.3 1481.8 381.3 1480.5 383.3 1481.8 385.3 1481.8 387.3 1481.8 389.3 1481.8 391.3 1480.5 393.3 1481.8 395.3 1481.8 397.3 1481.8 399.3 1481.8 401.3 1480.5 403.3 1481.8 405.3 1481.8 407.3 1481.8 409.3 1481.8 411.3 1480.5 413.3 1481.8 415.3 1481.8 417.3 1481.8 419.3 1481.8 421.3 1480.5 423.3 1481.8 425.3 1481.8 427.3 1481.8 429.3 1481.8 431.3 1480.5 433.3 1481.8 435.3 1481.8 437.3 1481.8 439.3 1481.8 441.3 1480.5 443.3 1481.8 445.3 1481.8 447.3 1481.8 449.3 1481.8 451.3 1480.5 453.3 1481.8 455.3 1481.8 457.3 1481.8 459.3 1481.8 461.3 1480.5 463.3 1481.8 465.3 1481.8 467.3 1481.8 469.3 1481.8 471.3 1480.5 473.3 1481.8 475.3 1481.8 477.3 1481.8 479.3 1481.8 481.3 1480.5 483.3 1481.8 485.3 1481.8 487.3 1481.8 489.3 1481.8 491.3 1480.5 493.3 1481.8 495.3 1481.8 497.3 1481.8 499.3 1481.8 501.3 1480.5 503.3 1481.8 505.3 1481.8 507.3 1481.8 509.3 1481.8 511.3 1480.5 513.3 1481.8 515.3 1481.8 517.3 1481.8 519.3 1481.8 521.3 1480.5 523.3 1481.8 525.3 1481.8 527.3 1481.8 529.3 1481.8 531.3 1480.5 533.3 1481.8 535.3 1481.8 537.3 1481.8 539.3 1481.8 541.3 1480.5 543.3 1481.8 545.3 1481.8 547.3 1481.8 549.3 1481.8 551.3 1480.5 553.3 1481.8 555.3 1481.8 557.3 1481.8 559.3 1481.8 561.3 1480.5 563.3 1481.8 565.3 1481.8 567.3 1481.8 568.8 1481.8 568.8 1747.2 568.8 1747.2 566.8 1747.2 564.8 1747.2 562.8 1748 560.8 1747.2 558.8 1747.2 556.8 1747.2 554.8 1747.2 552.8 1747.2 550.8 1748 548.8 1747.2 546.8 1747.2 544.8 1747.2 542.8 1747.2 540.8 1747.2 538.8 1748 536.8 1747.2 534.8 1747.2 532.8 1747.2 530.8 1747.2 528.8 1747.2 526.8 1748 524.8 1747.2 522.8 1747.2 520.8 1747.2 518.8 1747.2 516.8 1747.2 514.8 1748 512.8 1747.2 510.8 1747.2 508.8 1747.2 506.8 1747.2 504.8 1747.2 502.8 1748 500.8 1747.2 498.8 1747.2 496.8 1747.2 494.8 1747.2 492.8 1747.2 490.8 1748 488.8 1747.2 486.8 1747.2 484.8 1747.2 482.8 1747.2 480.8 1747.2 478.8 1748 476.8 1747.2 474.8 1747.2 472.8 1747.2 470.8 1747.2 468.8 1747.2 466.8 1748 464.8 1747.2 462.8 1747.2 460.8 1747.2 458.8 1747.2 456.8 1747.2 454.8 1748 452.8 1747.2 450.8 1747.2 448.8 1747.2 446.8 1747.2 444.8 1747.2 442.8 1748 440.8 1747.2 438.8 1747.2 436.8 1747.2 434.8 1747.2 432.8 1747.2 430.8 1748 428.8 1747.2 426.8 1747.2 424.8 1747.2 422.8 1747.2 420.8 1747.2 418.8 1748 416.8 1747.2 414.8 1747.2 412.8 1747.2 410.8 1747.2 408.8 1747.2 406.8 1748 404.8 1747.2 402.8 1747.2 400.8 1747.2 398.8 1747.2 396.8 1747.2 394.8 1748 392.8 1747.2 390.8 1747.2 388.8 1747.2 386.8 1747.2 384.8 1747.2 382.8 1748 380.8 1747.2 378.8 1747.2 376.8 1747.2 374.8 1747.2 372.8 1747.2 370.8 1748 368.8 1747.2 366.8 1747.2 364.8 1747.2 362.8 1747.2 360.8 1747.2 358.8 1748 356.8 1747.2 354.8 1747.2 352.8 1747.2 350.8 1747.2 348.8 1747.2 346.8 1748 344.8 1747.2 342.8 1747.2 340.8 1747.2 338.8 1747.2 336.8 1747.2 334.8 1748 332.8 1747.2 330.8 1747.2 328.8 1747.2 326.8 1747.2 324.8 1747.2 322.8 1748 320.8 1747.2 318.8 1747.2 316.8 1747.2 314.8 1747.2 312.8 1747.2 310.8 1748 308.8 1747.2 306.8 1747.2 304.8 1747.2 302.8 1747.2 300.8 1747.2 298.8 1748 296.8 1747.2 294.8 1747.2 292.8 1747.2 290.8 1747.2 288.8 1747.2 286.8 1748 284.8 1747.2 282.8 1747.2 280.8 1747.2 278.8 1747.2 276.8 1747.2 274.8 1748 272.8 1747.2 270.8 1747.2 268.8 1747.2 266.8 1747.2 264.8 1747.2 262.8 1748 260.8 1747.2 258.8 1747.2 256.8 1747.2 254.8 1747.2 252.8 1747.2 250.8 1748 248.8 1747.2 246.8 1747.2 244.8 1747.2 242.8 1747.2 240.8 1747.2 238.8 1748 236.8 1747.2 234.8 1747.2 232.8 1747.2 230.8 1747.2 228.8 1747.2 226.8 1748 224.8 1747.2 222.8 1747.2 220.8 1747.2 218.8 1747.2 216.8 1747.2 214.8 1748 212.8 1747.2 210.8 1747.2 208.8 1747.2 206.8 1747.2 204.8 1747.2 202.8 1748 200.8 1747.2 198.8 1747.2 196.8 1747.2 194.8 1747.2 192.8 1747.2 190.8 1748 188.8 1747.2 186.8 1747.2 184.8 1747.2 182.8 1747.2 180.8 1747.2 178.8 1748 176.8 1747.2 174.8 1747.2 172.8 1747.2 170.8 1747.2 168.8 1747.2 166.8 1748 164.8 1747.2 162.8 1747.2 160.8 1747.2 158.8 1747.2 156.8 1747.2 154.8 1748 152.8 1747.2 150.8 1747.2 148.8 1747.2 146.8 1747.2 144.8 1747.2 142.8 1748 140.8 1747.2 138.8 1747.2 136.8 1747.2 134.8 1747.2 132.8 1747.2 130.8 1748 130 1747.2 130 1708.2 124.3 1701.8 124.3 1663.8 118.4 1656.1 118.4 1626.7 110.6 1618 110.6 1601.7 107.3 1599.3 107.3 1481.8z"/></clipPath>
<g clip-path="url(#p40)">
<path fill="#7272ff" d="M107.3 1481.8 109.3 1481.8 111.3 1480.5 113.3 1481.8 115.3 1481.8 117.3 1481.8 119.3 1481.8 121.3 1480.5 123.3 1481.8 125.3 1481.8 127.3 1481.8 129.3 1481.8 131.3 1480.5 133.3 1481.8 135.3 1481.8 137.3 1481.8 139.3 1481.8 141.3 1480.5 143.3 1481.8 145.3 1481.8 147.3 1481.8 149.3 1481.8 151.3 1480.5 153.3 1481.8 155.3 1481.8 157.3 1481.8 159.3 1481.8 161.3 1480.5 163.3 1481.8 165.3 1481.8 167.3 1481.8 169.3 1481.8 171.3 1480.5 173.3 1481.8 175.3 1481.8 177.3 1481.8 179.3 1481.8 181.3 1480.5 183.3 1481.8 185.3 1481.8 187.3 1481.8 189.3 1481.8 191.3 1480.5 193.3 1481.8 195.3 1481.8 197.3 1481.8 199.3 1481.8 201.3 1480.5 203.3 1481.8 205.3 1481.8 207.3 1481.8 209.3 1481.8 211.3 1480.5 213.3 1481.8 215.3 1481.8 217.3 1481.8 219.3 1481.8 221.3 1480.5 223.3 1481.8 225.3 1481.8 227.3 1481.8 229.3 1481.8 231.3 1480.5 233.3 1481.8 235.3 1481.8 237.3 1481.8 239.3 1481.8 241.3 1480.5 243.3 1481.8 245.3 1481.8 247.3 1481.8 249.3 1481.8 251.3 1480.5 253.3 1481.8 255.3 1481.8 257.3 1481.8 259.3 1481.8 261.3 1480.5 263.3 1481.8 265.3 1481.8 267.3 1481.8 269.3 1481.8 271.3 1480.5 273.3 1481.8 275.3 1481.8 277.3 1481.8 279.3 1481.8 281.3 1480.5 283.3 1481.8 285.3 1481.8 287.3 1481.8 289.3 1481.8 291.3 1480.5 293.3 1481.8 295.3 1481.8 297.3 1481.8 299.3 1481.8 301.3 1480.5 303.3 1481.8 305.3 1481.8 307.3 1481.8 309.3 1481.8 311.3 1480.5 313.3 1481.8 315.3 1481.8 317.3 1481.8 319.3 1481.8 321.3 1480.5 323.3 1481.8 325.3 1481.8 327.3 1481.8 329.3 1481.8 331.3 1480.5 333.3 1481.8 335.3 1481.8 337.3 1481.8 339.3 1481.8 341.3 1480.5 343.3 1481.8 345.3 1481.8 347.3 1481.8 349.3 1481.8 351.3 1480.5 353.3 1481.8 355.3 1481.8 357.3 1481.8 359.3 1481.8 361.3 1480.5 363.3 1481.8 365.3 1481.8 367.3 1481.8 369.3 1481.8 371.3 1480.5 373.3 1481.8 375.3 1481.8 377.3 1481.8 379.3 1481.8 381.3 1480.5 383.3 1481.8 385.3 1481.8 387.3 1481.8 389.3 1481.8 391.3 1480.5 393.3 1481.8 395.3 1481.8 397.3 1481.8 399.3 1481.8 401.3 1480.5 403.3 1481.8 405.3 1481.8 407.3 1481.8 409.3 1481.8 411.3 1480.5 413.3 1481.8 415.3 1481.8 417.3 1481.8 419.3 1481.8 421.3 1480.5 423.3 1481.8 425.3 1481.8 427.3 1481.8 429.3 1481.8 431.3 1480.5 433.3 1481.8 435.3 1481.8 437.3 1481.8 439.3 1481.8 441.3 1480.5 443.3 1481.8 445.3 1481.8 447.3 1481.8 449.3 1481.8 451.3 1480.5 453.3 1481.8 455.3 1481.8 457.3 1481.8 459.3 1481.8 461.3 1480.5 463.3 1481.8 465.3 1481.8 467.3 1481.8 469.3 1481.8 471.3 1480.5 473.3 1481.8 475.3 1481.8 477.3 1481.8 479.3 1481.8 481.3 1480.5 483.3 1481.8 485.3 1481.8 487.3 1481.8 489.3 1481.8 491.3 1480.5 493.3 1481.8 495.3 1481.8 497.3 1481.8 499.3 1481.8 501.3 1480.5 503.3 1481.8 505.3 1481.8 507.3 1481.8 509.3 1481.8 511.3 1480.5 513.3 1481.8 515.3 1481.8 517.3 1481.8 519.3 1481.8 521.3 1480.5 523.3 1481.8 525.3 1481.8 527.3 1481.8 529.3 1481.8 531.3 1480.5 533.3 1481.8 535.3 1481.8 537.3 1481.8 539.3 1481.8 541.3 1480.5 543.3 1481.8 545.3 1481.8 547.3 1481.8 549.3 1481.8 551.3 1480.5 553.3 1481.8 555.3 1481.8 557.3 1481.8 559.3 1481.8 561.3 1480.5 563.3 1481.8 565.3 1481.8 567.3 1481.8 568.8 1481.8 568.8 1747.2 568.8 1747.2 566.8 1747.2 564.8 1747.2 562.8 1748 560.8 1747.2 558.8 1747.2 556.8 1747.2 554.8 1747.2 552.8 1747.2 550.8 1748 548.8 1747.2 546.8 1747.2 544.8 1747.2 542.8 1747.2 540.8 1747.2 538.8 1748 536.8 1747.2 534.8 1747.2 532.8 1747.2 530.8 1747.2 528.8 1747.2 526.8 1748 524.8 1747.2 522.8 1747.2 520.8 1747.2 518.8 1747.2 516.8 1747.2 514.8 1748 512.8 1747.2 510.8 1747.2 508.8 1747.2 506.8 1747.2 504.8 1747.2 502.8 1748 500.8 1747.2 498.8 1747.2 496.8 1747.2 494.8 1747.2 492.8 1747.2 490.8 1748 488.8 1747.2 486.8 1747.2 484.8 1747.2 482.8 1747.2 480.8 1747.2 478.8 1748 476.8 1747.2 474.8 1747.2 472.8 1747.2 470.8 1747.2 468.8 1747.2 466.8 1748 464.8 1747.2 462.8 1747.2 460.8 1747.2 458.8 1747.2 456.8 1747.2 454.8 1748 452.8 1747.2 450.8 1747.2 448.8 1747.2 446.8 1747.2 444.8 1747.2 442.8 1748 440.8 1747.2 438.8 1747.2 436.8 1747.2 434.8 1747.2 432.8 1747.2 430.8 1748 428.8 1747.2 426.8 1747.2 424.8 1747.2 422.8 1747.2 420.8 1747.2 418.8 1748 416.8 1747.2 414.8 1747.2 412.8 1747.2 410.8 1747.2 408.8 1747.2 406.8 1748 404.8 1747.2 402.8 1747.2 400.8 1747.2 398.8 1747.2 396.8 1747.2 394.8 1748 392.8 1747.2 390.8 1747.2 388.8 1747.2 386.8 1747.2 384.8 1747.2 382.8 1748 380.8 1747.2 378.8 1747.2 376.8 1747.2 374.8 1747.2 372.8 1747.2 370.8 1748 368.8 1747.2 366.8 1747.2 364.8 1747.2 362.8 1747.2 360.8 1747.2 358.8 1748 356.8 1747.2 354.8 1747.2 352.8 1747.2 350.8 1747.2 348.8 1747.2 346.8 1748 344.8 1747.2 342.8 1747.2 340.8 1747.2 338.8 1747.2 336.8 1747.2 334.8 1748 332.8 1747.2 330.8 1747.2 328.8 1747.2 326.8 1747.2 324.8 1747.2 322.8 1748 320.8 1747.2 318.8 1747.2 316.8 1747.2 314.8 1747.2 312.8 1747.2 310.8 1748 308.8 1747.2 306.8 1747.2 304.8 1747.2 302.8 1747.2 300.8 1747.2 298.8 1748 296.8 1747.2 294.8 1747.2 292.8 1747.2 290.8 1747.2 288.8 1747.2 286.8 1748 284.8 1747.2 282.8 1747.2 280.8 1747.2 278.8 1747.2 276.8 1747.2 274.8 1748 272.8 1747.2 270.8 1747.2 268.8 1747.2 266.8 1747.2 264.8 1747.2 262.8 1748 260.8 1747.2 258.8 1747.2 256.8 1747.2 254.8 1747.2 252.8 1747.2 250.8 1748 248.8 1747.2 246.8 1747.2 244.8 1747.2 242.8 1747.2 240.8 1747.2 238.8 1748 236.8 1747.2 234.8 1747.2 232.8 1747.2 230.8 1747.2 228.8 1747.2 226.8 1748 224.8 1747.2 222.8 1747.2 220.8 1747.2 218.8 1747.2 216.8 1747.2 214.8 1748 212.8 1747.2 210.8 1747.2 208.8 1747.2 206.8 1747.2 204.8 1747.2 202.8 1748 200.8 1747.2 198.8 1747.2 196.8 1747.2 194.8 1747.2 192.8 1747.2 190.8 1748 188.8 1747.2 186.8 1747.2 184.8 1747.2 182.8 1747.2 180.8 1747.2 178.8 1748 176.8 1747.2 174.8 1747.2 172.8 1747.2 170.8 1747.2 168.8 1747.2 166.8 1748 164.8 1747.2 162.8 1747.2 160.8 1747.2 158.8 1747.2 156.8 1747.2 154.8 1748 152.8 1747.2 150.8 1747.2 148.8 1747.2 146.8 1747.2 144.8 1747.2 142.8 1748 140.8 1747.2 138.8 1747.2 136.8 1747.2 134.8 1747.2 132.8 1747.2 130.8 1748 130 1747.2 130 1708.2 124.3 1701.8 124.3 1663.8 118.4 1656.1 118.4 1626.7 110.6 1618 110.6 1601.7 107.3 1599.3 107.3 1481.8z"/>
<path fill="#9090ff" d="M104.6 1475l467 0l0 302l-467 0l0-302zM108.6 1528.3l-0.9 3.7l0.9 3.5l1-3.5l-1-3.7z"/>
<path fill="#adadff" d="M104.6 1475l467 0l0 302l-467 0l0-302zM108.6 1518l-1 1.5l-0.7 3.5l-0.8 9l1.2 17l1.3 3.7l1-3.1l1.6-17.6l-0.8-9l-0.8-3.7l-1-1.3z"/>
<path fill="#cbcbff" d="M104.6 1475l467 0l0 302l-467 0l0-302zM108.6 1509.5l-1.5 1.5l-1 4l-1.4 17l1.3 23l1.2 6l1.4 1.7l1-1.6l1-4.9l2-24.2l-1.4-17l-1.1-4l-1.5-1.5z"/>
<path fill="#e9e9ff" d="M104.6 1475l467 0l0 302l-467 0l0-213.6l1.2 5.6l1.8 3.6l1 0.1l1.7-3.7l1.6-9l1-20l1.6-10l-0.8-15l-1.3-6l-1.8-2.8l-2-1.4l-2 0.6l-2 3l0-33.4zM201.6 1478l-17 0.9l-6.1 1.1l-1.6 1l3.7 1.6l10 1.1l13 0.3l13-0.7l6.6-1.3l1.3-1l-0.8-1l-8.1-1.5l-14-0.5z"/>
<path fill="#fff3f3" d="M250.7 1476l4.5-1l312.4 0.6l4 0.1l0 4.8l-38 3.8l-134 11.1l-4-1l-5-5.4l-4-1.1l-27 1.2l-99-0.9l-16.2-4.2l-1.8-1l0.6-2l7.5-5zM148.1 1490l15.5-0.4l84 6.8l80 4.2l13 1.2l24 4.5l60 4.2l12-0.2l46-5.7l45-0.1l5.1 1.5l3.5 3l0.8 2l-1.4 1.8l-2 0.7l-43 6.6l-4 1.1l-2.5 1.8l-14.9 18l-13.6 32.7l-16.1 17.3l-1.6 3l-4.1 13l-2.2 2.4l-3-1.5l-15.4-20.9l-3.6-3.7l-8-3.1l-21-5.7l-3-1.5l-0.4-2l1.4-1.9l11.7-9.1l2-3l0.1-3l-1.3-6l-1.5-2.6l-2-1.4l-35-6.6l-18-4.9l-46-14.8l-40-3.1l-14-0.1l-55 4.4l-48-10.9l-15-0.8l-3-2.2l-2.1-6l-0.2-3l2.3-2.7l3-0.7l14-0.3l17.5-2.3zM117.1 1537l8.5 0.6l4 1.2l23 17l26 17.5l9 1.9l9 0.4l3-0.3l2-1.1l22.7-21.2l7.3-4.9l16 0.3l18-10.4l4-1.3l4 0.1l12 2.1l12.9 3.1l0.8 1l-0.3 1l-3 2l-28.4 10.5l-4.4 3.5l-13.3 30l0.6 5l5.1 11.8l4 3.5l14 7.8l44 11.8l7.7 3.1l13 8l4.9 8l2.4 2.6l24 18.4l43.4 13l1.7 2l1.1 4l2.8 37l3 3.6l9 4.3l6-0.2l9-2.8l2.5-1.9l1-4l1.1-33l1-3l3.4-2.7l13-5.8l35-13.6l39 3.8l6 1.4l2 1.9l0.8 2l8.9 34l2.3 2.9l3 1.9l3 1.3l4 0.4l0 60.5l-153.5 0l-0.1-38l-1.4-3.3l-3-1.1l-261 0l-41-0.1l-4-0.6l-1.9-1.9l-0.6-4l-0.5-126.1l2-10l3.6-6.9l1.9-7l1.9-16l0.8-21l0.8-2.9l1.5-1.1zM349.5 1611l2.1-0.7l3 0.1l19 3.7l4 1.8l0.4 2.1l-7 7l-3.4 2l-6 0.4l-14-1.4l-4.4-3l-2.3-4l1.7-3.2l6.9-4.8z"/>
<path fill="#ffd4d4" d="M345.9 1477l11.7-0.6l10 0.3l9.7 1.3l6.1 2l1.3 2l-2.4 2l-7.7 1.9l-10 1.1l-11 0l-20-1.3l-38 0.6l-31-0.8l-8.7-1.5l-1.9-1l-1.3-2l0.9-1.5l2-0.8l13-1l29-0.5l35 0.6l13.3-0.8zM110.7 1601l3.9-0.4l3 2l2.3 3.4l1.5 5l0 6l-1.4 5l-2.8 4l-3.6 1.9l-3-0.3l-2-1.5l-2.4-4.1l-1.2-5l0-5l1-5l2.2-4l2.5-2zM124.5 1648l1.1-0.4l1 0.8l1.3 2.6l1.8 12l-1 14l-1.2 4l-1.9 2.4l-2-1.4l-1-2.5l-1.6-11.5l0.8-13l1-4l1.7-3zM151.9 1699l4.7-0.3l5 0.7l4 1.5l3.2 2.1l2.3 3l0.9 3l-0.5 3l-2 3l-5.9 3.7l-7 1.3l-8-1.1l-6-3.3l-2.8-4.6l0.6-5l4.2-4.4l7.3-2.6z"/>
<path fill="#ffb4b4" d="M351.8 1478l13.8 0l6 0.8l4 1.4l1.3 1.8l-2.8 2l-11.5 1.8l-12-0.4l-17-2.4l-42 1.4l-18-0.8l-9-1.6l1.2-1l3.8-0.6l12-1l24-0.3l27 1.5l19.2-2.6zM110.8 1604l2.8-0.4l3 1.9l2 3.5l0.8 4l-0.2 4l-1.4 4l-2.2 2.7l-3 1l-2-0.4l-2-1.7l-1.4-2.6l-1-4l0.1-4l1-4l1.3-2.2l2.2-1.8z"/>
<path fill="#ff9696" d="M354.2 1479l12.4 0.4l4 1.1l1.3 1.5l-3.3 1.8l-5 0.8l-13.8-0.6l-3.8-1l-1.5-1l0.6-1l9.1-2zM110.8 1606l2.8-0.4l2 1.2l1.5 2.2l1.1 4l-0.3 4l-1.2 3l-2.1 2.2l-2 0.6l-3.3-1.8l-2-5l0.5-6l3-4z"/>
<path fill="#ff7a7a" d="M357.5 1480l6.1 0.4l2.5 0.6l0.7 1l-1.9 1l-3.3 0.5l-8.6-0.5l-2.1-1l0.8-1l5.8-1zM110.3 1608l2.3-1l2 0.7l2.4 4.3l-0.4 5.6l-1 1.9l-2 1.5l-3-0.5l-2.2-3.5l-0.1-5l2-4z"/>
<path fill="#ff5c5c" d="M111.1 1609l1.5-0.6l2 1l1.6 3.6l-0.6 4.3l-1 1.5l-2 1l-2-0.9l-1.6-3.9l0.5-4l1.6-2z"/>
<path fill="#ff3c3c" d="M112.3 1610l2.1 1l0.9 3l-0.7 2.9l-2 1.4l-2-1.3l-0.7-3l0.7-2.7l1.7-1.3z"/>
<path fill="#ff1f1f" d="M112.2 1612l1.4 0.5l0.4 1.5l-0.4 1.7l-1 0.7l-1-0.6l-0.4-1.8l1-2z"/>
<path fill="none" stroke="#fff" stroke-width="4.8" stroke-linejoin="round" d="M380.2 1475l191.4 0.7M571.6 1480.5l-38 3.8l-134 11.1l-4-1l-5-5.4l-4-1.1l-27 1.2l-99-0.9l-16.2-4.2l-1.8-1l0.6-2l7.4-5l4.6-1M148.1 1490l15.5-0.4l84 6.8l80 4.2l13 1.2l24 4.5l60 4.2l12-0.2l46-5.7l45-0.1l5.1 1.5l3.5 3l0.8 2l-1.4 1.8l-2 0.7l-43 6.6l-4 1.1l-2.5 1.8l-14.9 18l-13.6 32.7l-16.1 17.3l-1.6 3l-4.1 13l-2.2 2.4l-3-1.5l-15.4-20.9l-3.6-3.7l-8-3.1l-21-5.7l-3-1.5l-0.4-2l1.4-1.9l11.7-9.1l2-3l0.1-3l-1.3-6l-1.5-2.6l-2-1.4l-35-6.6l-18-4.9l-46-14.8l-40-3.1l-14-0.1l-55 4.4l-48-10.9l-15-0.8l-3-2.2l-2.1-6l-0.2-3l2.3-2.7l3-0.7l14-0.3l17.5-2.3M104.6 1601.9l2-10l3.6-6.9l1.7-6l2.1-17l0.8-21l0.8-2.9l2-1.3l9 0.9l3 1.1l23 17l26 17.5l9 1.9l9 0.4l3-0.3l2.3-1.3l21.7-20.4l7-5.2l3-0.5l14 0.5l18-10.4l4-1.3l5 0.2l21 4l2.9 1.1l0.8 1l-1.4 2l-30.3 11.5l-4.4 3.5l-13.3 30l0.6 5l5.1 11.8l4 3.5l14 7.8l44 11.8l7.7 3.1l13 8l4.9 8l2.4 2.6l24 18.4l43.4 13l1.7 2l1.1 4l2.6 36l1.2 2.8l2 1.8l7 3.6l4 1l5-0.7l9.6-3.5l1.4-2l0.4-2l1.2-33l1.4-4.5l3.6-2.5l11.4-5.1l36-14l40 3.9l6 2l2.1 4.2l8.6 33l2.3 2.9l3 1.9l3 1.3l4 0.4M349.5 1611l2.1-0.7l3 0.1l19 3.7l4 1.8l0.4 2.1l-7 7l-3.4 2l-6 0.4l-14-1.4l-4.4-3l-2.3-4l1.7-3.2l6.9-4.8M418.1 1777l-0.1-38l-1.4-3.3l-3-1.1l-261 0l-41-0.1l-4-0.6l-1.9-1.9l-0.6-4l-0.5-100.6"/>
</g>
<clipPath id="p41"><path d="M810.8 1481.8 812.8 1481.8 814.8 1480.5 816.8 1481.8 818.8 1481.8 820.8 1481.8 822.8 1481.8 824.8 1480.5 826.8 1481.8 828.8 1481.8 830.8 1481.8 832.8 1481.8 834.8 1480.5 836.8 1481.8 838.8 1481.8 840.8 1481.8 842.8 1481.8 844.8 1480.5 846.8 1481.8 848.8 1481.8 850.8 1481.8 852.8 1481.8 854.8 1480.5 856.8 1481.8 858.8 1481.8 860.8 1481.8 862.8 1481.8 864.8 1480.5 866.8 1481.8 868.8 1481.8 870.8 1481.8 872.8 1481.8 874.8 1480.5 876.8 1481.8 878.8 1481.8 880.8 1481.8 882.8 1481.8 884.8 1480.5 886.8 1481.8 888.8 1481.8 890.8 1481.8 892.8 1481.8 894.8 1480.5 896.8 1481.8 898.8 1481.8 900.8 1481.8 902.8 1481.8 904.8 1480.5 906.8 1481.8 908.8 1481.8 910.8 1481.8 912.8 1481.8 914.8 1480.5 916.8 1481.8 918.8 1481.8 920.8 1481.8 922.8 1481.8 924.8 1480.5 926.8 1481.8 928.8 1481.8 930.8 1481.8 932.8 1481.8 934.8 1480.5 936.8 1481.8 938.8 1481.8 940.8 1481.8 942.8 1481.8 944.8 1480.5 946.8 1481.8 948.8 1481.8 950.8 1481.8 952.8 1481.8 954.8 1480.5 956.8 1481.8 958.8 1481.8 960.8 1481.8 962.8 1481.8 964.8 1480.5 966.8 1481.8 968.8 1481.8 970.8 1481.8 972.8 1481.8 974.8 1480.5 976.8 1481.8 978.8 1481.8 980.8 1481.8 982.8 1481.8 984.8 1480.5 986.8 1481.8 988.8 1481.8 990.8 1481.8 992.8 1481.8 994.8 1480.5 996.8 1481.8 998.8 1481.8 1000.8 1481.8 1002.8 1481.8 1004.8 1480.5 1006.8 1481.8 1008.8 1481.8 1010.8 1481.8 1012.8 1481.8 1014.8 1480.5 1016.8 1481.8 1018.8 1481.8 1020.8 1481.8 1022.8 1481.8 1024.8 1480.5 1026.8 1481.8 1028.8 1481.8 1030.8 1481.8 1032.8 1481.8 1034.8 1480.5 1036.8 1481.8 1038.8 1481.8 1040.8 1481.8 1042.8 1481.8 1044.8 1480.5 1046.8 1481.8 1048.8 1481.8 1050.8 1481.8 1052.8 1481.8 1054.8 1480.5 1056.8 1481.8 1058.8 1481.8 1060.8 1481.8 1062.8 1481.8 1064.8 1480.5 1066.8 1481.8 1068.8 1481.8 1070.8 1481.8 1072.8 1481.8 1074.8 1480.5 1076.8 1481.8 1078.8 1481.8 1080.8 1481.8 1082.8 1481.8 1084.8 1480.5 1086.8 1481.8 1088.8 1481.8 1090.8 1481.8 1092.8 1481.8 1094.8 1480.5 1096.8 1481.8 1098.8 1481.8 1100.8 1481.8 1102.8 1481.8 1104.8 1480.5 1106.8 1481.8 1108.8 1481.8 1110.8 1481.8 1112.8 1481.8 1114.8 1480.5 1116.8 1481.8 1118.8 1481.8 1120.8 1481.8 1122.8 1481.8 1124.8 1480.5 1126.8 1481.8 1128.8 1481.8 1130.8 1481.8 1132.8 1481.8 1134.8 1480.5 1136.8 1481.8 1138.8 1481.8 1140.8 1481.8 1142.8 1481.8 1144.8 1480.5 1146.8 1481.8 1148.8 1481.8 1150.8 1481.8 1152.8 1481.8 1154.8 1480.5 1156.8 1481.8 1158.8 1481.8 1160.8 1481.8 1162.8 1481.8 1164.8 1480.5 1166.8 1481.8 1168.8 1481.8 1170.8 1481.8 1172.8 1481.8 1174.8 1480.5 1176.8 1481.8 1178.8 1481.8 1180.8 1481.8 1182.8 1481.8 1184.8 1480.5 1186.8 1481.8 1188.8 1481.8 1190.8 1481.8 1192.8 1481.8 1194.8 1480.5 1196.8 1481.8 1198.8 1481.8 1200.8 1481.8 1202.8 1481.8 1204.8 1480.5 1206.8 1481.8 1208.8 1481.8 1210.8 1481.8 1212.8 1481.8 1214.8 1480.5 1216.8 1481.8 1218.8 1481.8 1220.8 1481.8 1222.8 1481.8 1224.8 1480.5 1226.8 1481.8 1228.8 1481.8 1230.8 1481.8 1232.8 1481.8 1234.8 1480.5 1236.8 1481.8 1238.8 1481.8 1240.8 1481.8 1242.8 1481.8 1244.8 1480.5 1246.8 1481.8 1248.8 1481.8 1250.8 1481.8 1252.8 1481.8 1254.8 1480.5 1256.8 1481.8 1258.8 1481.8 1260.8 1481.8 1262.8 1481.8 1264.8 1480.5 1266.8 1481.8 1268.8 1481.8 1270.8 1481.8 1272.3 1481.8 1272.3 1747.2 1272.3 1747.2 1270.3 1747.2 1268.3 1747.2 1266.3 1748 1264.3 1747.2 1262.3 1747.2 1260.3 1747.2 1258.3 1747.2 1256.3 1747.2 1254.3 1748 1252.3 1747.2 1250.3 1747.2 1248.3 1747.2 1246.3 1747.2 1244.3 1747.2 1242.3 1748 1240.3 1747.2 1238.3 1747.2 1236.3 1747.2 1234.3 1747.2 1232.3 1747.2 1230.3 1748 1228.3 1747.2 1226.3 1747.2 1224.3 1747.2 1222.3 1747.2 1220.3 1747.2 1218.3 1748 1216.3 1747.2 1214.3 1747.2 1212.3 1747.2 1210.3 1747.2 1208.3 1747.2 1206.3 1748 1204.3 1747.2 1202.3 1747.2 1200.3 1747.2 1198.3 1747.2 1196.3 1747.2 1194.3 1748 1192.3 1747.2 1190.3 1747.2 1188.3 1747.2 1186.3 1747.2 1184.3 1747.2 1182.3 1748 1180.3 1747.2 1178.3 1747.2 1176.3 1747.2 1174.3 1747.2 1172.3 1747.2 1170.3 1748 1168.3 1747.2 1166.3 1747.2 1164.3 1747.2 1162.3 1747.2 1160.3 1747.2 1158.3 1748 1156.3 1747.2 1154.3 1747.2 1152.3 1747.2 1150.3 1747.2 1148.3 1747.2 1146.3 1748 1144.3 1747.2 1142.3 1747.2 1140.3 1747.2 1138.3 1747.2 1136.3 1747.2 1134.3 1748 1132.3 1747.2 1130.3 1747.2 1128.3 1747.2 1126.3 1747.2 1124.3 1747.2 1122.3 1748 1120.3 1747.2 1118.3 1747.2 1116.3 1747.2 1114.3 1747.2 1112.3 1747.2 1110.3 1748 1108.3 1747.2 1106.3 1747.2 1104.3 1747.2 1102.3 1747.2 1100.3 1747.2 1098.3 1748 1096.3 1747.2 1094.3 1747.2 1092.3 1747.2 1090.3 1747.2 1088.3 1747.2 1086.3 1748 1084.3 1747.2 1082.3 1747.2 1080.3 1747.2 1078.3 1747.2 1076.3 1747.2 1074.3 1748 1072.3 1747.2 1070.3 1747.2 1068.3 1747.2 1066.3 1747.2 1064.3 1747.2 1062.3 1748 1060.3 1747.2 1058.3 1747.2 1056.3 1747.2 1054.3 1747.2 1052.3 1747.2 1050.3 1748 1048.3 1747.2 1046.3 1747.2 1044.3 1747.2 1042.3 1747.2 1040.3 1747.2 1038.3 1748 1036.3 1747.2 1034.3 1747.2 1032.3 1747.2 1030.3 1747.2 1028.3 1747.2 1026.3 1748 1024.3 1747.2 1022.3 1747.2 1020.3 1747.2 1018.3 1747.2 1016.3 1747.2 1014.3 1748 1012.3 1747.2 1010.3 1747.2 1008.3 1747.2 1006.3 1747.2 1004.3 1747.2 1002.3 1748 1000.3 1747.2 998.3 1747.2 996.3 1747.2 994.3 1747.2 992.3 1747.2 990.3 1748 988.3 1747.2 986.3 1747.2 984.3 1747.2 982.3 1747.2 980.3 1747.2 978.3 1748 976.3 1747.2 974.3 1747.2 972.3 1747.2 970.3 1747.2 968.3 1747.2 966.3 1748 964.3 1747.2 962.3 1747.2 960.3 1747.2 958.3 1747.2 956.3 1747.2 954.3 1748 952.3 1747.2 950.3 1747.2 948.3 1747.2 946.3 1747.2 944.3 1747.2 942.3 1748 940.3 1747.2 938.3 1747.2 936.3 1747.2 934.3 1747.2 932.3 1747.2 930.3 1748 928.3 1747.2 926.3 1747.2 924.3 1747.2 922.3 1747.2 920.3 1747.2 918.3 1748 916.3 1747.2 914.3 1747.2 912.3 1747.2 910.3 1747.2 908.3 1747.2 906.3 1748 904.3 1747.2 902.3 1747.2 900.3 1747.2 898.3 1747.2 896.3 1747.2 894.3 1748 892.3 1747.2 890.3 1747.2 888.3 1747.2 886.3 1747.2 884.3 1747.2 882.3 1748 880.3 1747.2 878.3 1747.2 876.3 1747.2 874.3 1747.2 872.3 1747.2 870.3 1748 868.3 1747.2 866.3 1747.2 864.3 1747.2 862.3 1747.2 860.3 1747.2 858.3 1748 856.3 1747.2 854.3 1747.2 852.3 1747.2 850.3 1747.2 848.3 1747.2 846.3 1748 844.3 1747.2 842.3 1747.2 840.3 1747.2 838.3 1747.2 836.3 1747.2 834.3 1748 833.5 1747.2 833.5 1708.2 827.8 1701.8 827.8 1663.8 821.9 1656.1 821.9 1626.7 814.1 1618 814.1 1601.7 810.8 1599.3 810.8 1481.8z"/></clipPath>
<g clip-path="url(#p41)">
<path fill="#cbcbff" d="M810.8 1481.8 812.8 1481.8 814.8 1480.5 816.8 1481.8 818.8 1481.8 820.8 1481.8 822.8 1481.8 824.8 1480.5 826.8 1481.8 828.8 1481.8 830.8 1481.8 832.8 1481.8 834.8 1480.5 836.8 1481.8 838.8 1481.8 840.8 1481.8 842.8 1481.8 844.8 1480.5 846.8 1481.8 848.8 1481.8 850.8 1481.8 852.8 1481.8 854.8 1480.5 856.8 1481.8 858.8 1481.8 860.8 1481.8 862.8 1481.8 864.8 1480.5 866.8 1481.8 868.8 1481.8 870.8 1481.8 872.8 1481.8 874.8 1480.5 876.8 1481.8 878.8 1481.8 880.8 1481.8 882.8 1481.8 884.8 1480.5 886.8 1481.8 888.8 1481.8 890.8 1481.8 892.8 1481.8 894.8 1480.5 896.8 1481.8 898.8 1481.8 900.8 1481.8 902.8 1481.8 904.8 1480.5 906.8 1481.8 908.8 1481.8 910.8 1481.8 912.8 1481.8 914.8 1480.5 916.8 1481.8 918.8 1481.8 920.8 1481.8 922.8 1481.8 924.8 1480.5 926.8 1481.8 928.8 1481.8 930.8 1481.8 932.8 1481.8 934.8 1480.5 936.8 1481.8 938.8 1481.8 940.8 1481.8 942.8 1481.8 944.8 1480.5 946.8 1481.8 948.8 1481.8 950.8 1481.8 952.8 1481.8 954.8 1480.5 956.8 1481.8 958.8 1481.8 960.8 1481.8 962.8 1481.8 964.8 1480.5 966.8 1481.8 968.8 1481.8 970.8 1481.8 972.8 1481.8 974.8 1480.5 976.8 1481.8 978.8 1481.8 980.8 1481.8 982.8 1481.8 984.8 1480.5 986.8 1481.8 988.8 1481.8 990.8 1481.8 992.8 1481.8 994.8 1480.5 996.8 1481.8 998.8 1481.8 1000.8 1481.8 1002.8 1481.8 1004.8 1480.5 1006.8 1481.8 1008.8 1481.8 1010.8 1481.8 1012.8 1481.8 1014.8 1480.5 1016.8 1481.8 1018.8 1481.8 1020.8 1481.8 1022.8 1481.8 1024.8 1480.5 1026.8 1481.8 1028.8 1481.8 1030.8 1481.8 1032.8 1481.8 1034.8 1480.5 1036.8 1481.8 1038.8 1481.8 1040.8 1481.8 1042.8 1481.8 1044.8 1480.5 1046.8 1481.8 1048.8 1481.8 1050.8 1481.8 1052.8 1481.8 1054.8 1480.5 1056.8 1481.8 1058.8 1481.8 1060.8 1481.8 1062.8 1481.8 1064.8 1480.5 1066.8 1481.8 1068.8 1481.8 1070.8 1481.8 1072.8 1481.8 1074.8 1480.5 1076.8 1481.8 1078.8 1481.8 1080.8 1481.8 1082.8 1481.8 1084.8 1480.5 1086.8 1481.8 1088.8 1481.8 1090.8 1481.8 1092.8 1481.8 1094.8 1480.5 1096.8 1481.8 1098.8 1481.8 1100.8 1481.8 1102.8 1481.8 1104.8 1480.5 1106.8 1481.8 1108.8 1481.8 1110.8 1481.8 1112.8 1481.8 1114.8 1480.5 1116.8 1481.8 1118.8 1481.8 1120.8 1481.8 1122.8 1481.8 1124.8 1480.5 1126.8 1481.8 1128.8 1481.8 1130.8 1481.8 1132.8 1481.8 1134.8 1480.5 1136.8 1481.8 1138.8 1481.8 1140.8 1481.8 1142.8 1481.8 1144.8 1480.5 1146.8 1481.8 1148.8 1481.8 1150.8 1481.8 1152.8 1481.8 1154.8 1480.5 1156.8 1481.8 1158.8 1481.8 1160.8 1481.8 1162.8 1481.8 1164.8 1480.5 1166.8 1481.8 1168.8 1481.8 1170.8 1481.8 1172.8 1481.8 1174.8 1480.5 1176.8 1481.8 1178.8 1481.8 1180.8 1481.8 1182.8 1481.8 1184.8 1480.5 1186.8 1481.8 1188.8 1481.8 1190.8 1481.8 1192.8 1481.8 1194.8 1480.5 1196.8 1481.8 1198.8 1481.8 1200.8 1481.8 1202.8 1481.8 1204.8 1480.5 1206.8 1481.8 1208.8 1481.8 1210.8 1481.8 1212.8 1481.8 1214.8 1480.5 1216.8 1481.8 1218.8 1481.8 1220.8 1481.8 1222.8 1481.8 1224.8 1480.5 1226.8 1481.8 1228.8 1481.8 1230.8 1481.8 1232.8 1481.8 1234.8 1480.5 1236.8 1481.8 1238.8 1481.8 1240.8 1481.8 1242.8 1481.8 1244.8 1480.5 1246.8 1481.8 1248.8 1481.8 1250.8 1481.8 1252.8 1481.8 1254.8 1480.5 1256.8 1481.8 1258.8 1481.8 1260.8 1481.8 1262.8 1481.8 1264.8 1480.5 1266.8 1481.8 1268.8 1481.8 1270.8 1481.8 1272.3 1481.8 1272.3 1747.2 1272.3 1747.2 1270.3 1747.2 1268.3 1747.2 1266.3 1748 1264.3 1747.2 1262.3 1747.2 1260.3 1747.2 1258.3 1747.2 1256.3 1747.2 1254.3 1748 1252.3 1747.2 1250.3 1747.2 1248.3 1747.2 1246.3 1747.2 1244.3 1747.2 1242.3 1748 1240.3 1747.2 1238.3 1747.2 1236.3 1747.2 1234.3 1747.2 1232.3 1747.2 1230.3 1748 1228.3 1747.2 1226.3 1747.2 1224.3 1747.2 1222.3 1747.2 1220.3 1747.2 1218.3 1748 1216.3 1747.2 1214.3 1747.2 1212.3 1747.2 1210.3 1747.2 1208.3 1747.2 1206.3 1748 1204.3 1747.2 1202.3 1747.2 1200.3 1747.2 1198.3 1747.2 1196.3 1747.2 1194.3 1748 1192.3 1747.2 1190.3 1747.2 1188.3 1747.2 1186.3 1747.2 1184.3 1747.2 1182.3 1748 1180.3 1747.2 1178.3 1747.2 1176.3 1747.2 1174.3 1747.2 1172.3 1747.2 1170.3 1748 1168.3 1747.2 1166.3 1747.2 1164.3 1747.2 1162.3 1747.2 1160.3 1747.2 1158.3 1748 1156.3 1747.2 1154.3 1747.2 1152.3 1747.2 1150.3 1747.2 1148.3 1747.2 1146.3 1748 1144.3 1747.2 1142.3 1747.2 1140.3 1747.2 1138.3 1747.2 1136.3 1747.2 1134.3 1748 1132.3 1747.2 1130.3 1747.2 1128.3 1747.2 1126.3 1747.2 1124.3 1747.2 1122.3 1748 1120.3 1747.2 1118.3 1747.2 1116.3 1747.2 1114.3 1747.2 1112.3 1747.2 1110.3 1748 1108.3 1747.2 1106.3 1747.2 1104.3 1747.2 1102.3 1747.2 1100.3 1747.2 1098.3 1748 1096.3 1747.2 1094.3 1747.2 1092.3 1747.2 1090.3 1747.2 1088.3 1747.2 1086.3 1748 1084.3 1747.2 1082.3 1747.2 1080.3 1747.2 1078.3 1747.2 1076.3 1747.2 1074.3 1748 1072.3 1747.2 1070.3 1747.2 1068.3 1747.2 1066.3 1747.2 1064.3 1747.2 1062.3 1748 1060.3 1747.2 1058.3 1747.2 1056.3 1747.2 1054.3 1747.2 1052.3 1747.2 1050.3 1748 1048.3 1747.2 1046.3 1747.2 1044.3 1747.2 1042.3 1747.2 1040.3 1747.2 1038.3 1748 1036.3 1747.2 1034.3 1747.2 1032.3 1747.2 1030.3 1747.2 1028.3 1747.2 1026.3 1748 1024.3 1747.2 1022.3 1747.2 1020.3 1747.2 1018.3 1747.2 1016.3 1747.2 1014.3 1748 1012.3 1747.2 1010.3 1747.2 1008.3 1747.2 1006.3 1747.2 1004.3 1747.2 1002.3 1748 1000.3 1747.2 998.3 1747.2 996.3 1747.2 994.3 1747.2 992.3 1747.2 990.3 1748 988.3 1747.2 986.3 1747.2 984.3 1747.2 982.3 1747.2 980.3 1747.2 978.3 1748 976.3 1747.2 974.3 1747.2 972.3 1747.2 970.3 1747.2 968.3 1747.2 966.3 1748 964.3 1747.2 962.3 1747.2 960.3 1747.2 958.3 1747.2 956.3 1747.2 954.3 1748 952.3 1747.2 950.3 1747.2 948.3 1747.2 946.3 1747.2 944.3 1747.2 942.3 1748 940.3 1747.2 938.3 1747.2 936.3 1747.2 934.3 1747.2 932.3 1747.2 930.3 1748 928.3 1747.2 926.3 1747.2 924.3 1747.2 922.3 1747.2 920.3 1747.2 918.3 1748 916.3 1747.2 914.3 1747.2 912.3 1747.2 910.3 1747.2 908.3 1747.2 906.3 1748 904.3 1747.2 902.3 1747.2 900.3 1747.2 898.3 1747.2 896.3 1747.2 894.3 1748 892.3 1747.2 890.3 1747.2 888.3 1747.2 886.3 1747.2 884.3 1747.2 882.3 1748 880.3 1747.2 878.3 1747.2 876.3 1747.2 874.3 1747.2 872.3 1747.2 870.3 1748 868.3 1747.2 866.3 1747.2 864.3 1747.2 862.3 1747.2 860.3 1747.2 858.3 1748 856.3 1747.2 854.3 1747.2 852.3 1747.2 850.3 1747.2 848.3 1747.2 846.3 1748 844.3 1747.2 842.3 1747.2 840.3 1747.2 838.3 1747.2 836.3 1747.2 834.3 1748 833.5 1747.2 833.5 1708.2 827.8 1701.8 827.8 1663.8 821.9 1656.1 821.9 1626.7 814.1 1618 814.1 1601.7 810.8 1599.3 810.8 1481.8z"/>
<path fill="#e9e9ff" d="M808.1 1475l467 0l0 302l-467 0l0-302zM876.1 1697.8l-3.7 2.2l-2.3 3l-1.4 4l0.1 5l1.5 4l2.8 3.3l3 1.6l4 0.4l4-1.5l3.5-3.8l1.5-4l0-5l-2-5l-3-3l-4-1.6l-4 0.4zM1080.1 1478.9l-4.3 1.1l-1.2 1l1.2 1l10.3 1.6l19-0.3l7-1.3l1.3-1l-1.2-1l-3.1-0.8l-8-1l-11-0.1l-10 0.8z"/>
<path fill="#fff3f3" d="M835.1 1476l3.9-1l48.1 0.3l3 0.7l1.3 1l0.9 2l0.3 3l-1 3l-2.5 3.7l-4 1.9l-46 0.3l-3-1.3l-5.8-6.6l1.1-3l3.7-4zM919 1476l4.1-0.7l23-0.3l92 0.5l4 1.7l4.6 8.8l4.4 1.4l182 0.1l5-0.2l2.9-1.3l4.3-8l2.8-2.1l27-0.4l0 30l-18 0.1l-8 0.9l-11 0.2l-3 0.9l-1.7 3.4l-3.3 1.3l-8 0.1l-16-1.3l-28 2.7l-32 4.7l-2 0.7l-1.3 1.8l1.3 6l-0.9 3l-5.3 6l-1.8 0.9l-3 0.1l-11-2l-24-12.3l-34-5.7l-24-7.8l-18-4.4l-20-6.8l-59-0.5l-5-0.6l-12-5.8l-7.7-7.1l-1.6-4l0.4-2l1.8-2zM812.6 1493l13.5-0.2l33 6.6l28 8l4 2.6l1 3l-2 2.1l-10 5.3l-15 2.8l-8 0.7l-19-2.4l-5 0.1l-9.6 6.4l-6.4 8.7l-3 1.1l-3-0.1l-1.9-1.7l-0.6-3l0-34l1-4l3-2zM1271.9 1527l3.2-0.4l0 65.7l-6 4.1l-3.2 3.6l-3.9 14l-0.6 5l1.7 6.8l2 2.7l3 0.9l7 0.1l0 27.6l-14 7.1l-7.8 8.8l-1.8 4l1.6 2.5l7 3.6l15 3.2l0 49.2l-127 0l-5 0.5l-2 2l-0.5 3l0 36l-332 0l0-193l0.6-4l1.9-1.9l4-0.5l4 0.8l9 7.6l8 2l7 5.6l19 9.4l2 3.8l4.1 17.2l5.1 8l3.8 3.3l14 6.3l4.4 5.4l0.2 2l-0.8 1l-8.8 1.1l-4-0.5l-6-2.4l-13-6.7l-1.9-2.5l-3.1-9.4l-2-1.6l-4-0.9l-3-0.2l-3 1.3l-6.6 10.8l-4.6 12l-1.3 14l0.4 10l12.4 26l10.3 18l11.4 9.9l7 2.6l9 2l35-1.1l31-3l33-4.2l15-3.2l3.6-3l5.4-9l3-2l3 0.4l9 3.2l3-0.3l2.5-3.3l7.4-18l9.3-14l3.9-4l33.9-12l33-5.6l23-11.8l4.2-4.6l9.1-17l13-27l4.2-7l18.2-25l18-18l2.3-1.4l3-0.2l18 6.5l24-3.8l2.1-1.1l0.8-2l-3.3-7l0.4-1.9l1-1l18.8-5.1zM1057.1 1681.9l-8 4.1l-1.7 2l-0.6 2l-0.1 28l0.6 3l1.5 3l4.6 6l3.7 2.2l28 0.3l5-1.4l4.4-4.1l2.2-4l-2.2-15l-1.5-4l-8.9-10.4l-6.1-5.6l-15.9-6.3l-5 0.2zM1132.1 1678.9l-24 7.7l-2.5 2.4l-4.1 7l-1.8 6l0.8 9l-0.3 13l0.9 5.8l2 2.1l4 0.6l28 0l3-0.5l2-2l0.5-5l-0.2-36l-1.1-4l-2.6-5l-1.6-1.1l-3 0zM897.6 1653l2.5-0.5l4 2.2l15.4 11.3l2 2l0.5 2l-1.9 1.4l-5 1l-12 0l-3-0.8l-1.3-1.6l-0.9-3l-0.9-11l0.6-3z"/>
<path fill="#ffd4d4" d="M843.4 1478l14.7-0.8l15 0.8l9.7 2l2 1l0.8 2l-3.5 2.5l-10 2l-14 0.7l-14-0.8l-5.9-1.4l-2.5-3l0.3-2l1.1-1.3l6.3-1.7zM945.1 1479l23-0.7l23.4 0.7l16.2 2l2.4 1l0.2 1l-6.2 2.1l-15 1.6l-20 0.7l-21-0.6l-16-1.8l-5.3-2l0-1l2.1-1l16.2-2z"/>
<path fill="#ffb4b4" d="M858 1479l11.8 1l3.4 1l1.4 1l0.1 1l-4.1 2l-7.5 1l-9 0.1l-8.1-1.1l-4-2l0.1-1l1.4-1l5.6-1.4l8.9-0.6z"/>
<path fill="#ff9696" d="M851.8 1482l8.3-0.9l4.7 0.9l0.2 1l-3.9 1l-5.6 0l-3.9-1l0.2-1z"/>
<path fill="none" stroke="#fff" stroke-width="4.8" stroke-linejoin="round" d="M879 1475l9.1 0.4l3.3 1.6l1.2 3l-0.2 3l-2 4l-2.3 2.5l-4 1.2l-26 0.5l-18-0.2l-4-1.4l-5.3-5.6l-0.5-2l3.8-5.2l2-1.3l2.9-0.5M990.4 1475l47.7 0.5l4 1.7l4 8.1l3 1.9l42 0.4l146-0.2l4-1.5l4.2-7.9l2.8-2.1l27-0.4M812.6 1493l13.5-0.2l33 6.6l28 8l4 2.6l1 3l-2 2.1l-10 5.3l-15 2.8l-8 0.7l-19-2.4l-5 0.1l-9.6 6.4l-6.4 8.7l-3 1.1l-3-0.1l-1.9-1.7l-0.6-3l0-34l1-4l3-2M1275.1 1505.5l-18 0.1l-8 0.9l-11 0.2l-3 0.9l-1.7 3.4l-3.3 1.3l-8 0.1l-16-1.3l-28 2.7l-32 4.7l-2 0.7l-1.3 1.8l1.3 6l-0.9 3l-5.3 6l-1.8 0.9l-3 0.1l-11-2l-24-12.3l-34-5.7l-24-7.8l-18-4.4l-20-6.8l-59-0.5l-6-0.9l-9-4.3l-4-2.9l-6.5-6.4l-0.7-2l0.3-3l1.8-2l2.1-0.6l25-0.4M1275.1 1592.3l-6 4.1l-3.2 3.6l-4.5 18l1.4 7l1.7 3l2.6 1.3l8 0.2M897.6 1653l2.5-0.5l4 2.2l15.4 11.3l2 2l0.5 2l-1.9 1.4l-5 1l-12 0l-3-0.8l-1.3-1.6l-0.9-3l-0.9-11l0.6-3M1275.1 1657.1l-14 7.1l-7.8 8.8l-1.8 4l1.6 2.5l7 3.6l15 3.2M1132.1 1678.9l-24 7.7l-2.5 2.4l-4.1 7l-1.8 6l0.8 9l-0.3 13l0.9 5.8l2 2.1l4 0.6l28 0l3-0.5l2-2l0.5-5l-0.2-36l-1.1-4l-2.6-5l-1.6-1.1l-3 0M1057.1 1681.9l-8 4.1l-1.7 2l-0.6 2l-0.1 28l0.6 3l1.5 3l4.6 6l3.7 2.2l28 0.3l5-1.4l4.4-4.1l2.2-4l-2.2-15l-1.5-4l-8.9-10.4l-6.1-5.6l-15.9-6.3l-5 0.2M1275.1 1735.5l-127 0l-5 0.5l-2 2l-0.5 3l0 36M808.6 1777l0-193l0.6-4l1.9-1.9l4-0.5l4 0.8l9 7.6l8 2l7 5.6l19 9.4l2 3.8l4.1 17.2l5.1 8l3.8 3.3l14 6.3l4.4 5.4l0.2 2l-0.8 1l-8.8 1.1l-4-0.5l-6-2.4l-13-6.7l-1.9-2.5l-3.1-9.4l-2-1.6l-4-0.9l-3-0.2l-3 1.3l-6.6 10.8l-4.6 12l-1.3 14l0.4 10l12.4 26l10.3 18l11.4 9.9l7 2.6l9 2l35-1.1l31-3l33-4.2l15-3.2l3.6-3l5.4-9l3-2l3 0.4l9 3.2l3-0.3l2.5-3.3l7.4-18l9.3-14l3.9-4l33.9-12l33-5.6l23-11.8l4.2-4.6l9.1-17l13-27l4.2-7l18.2-25l18-18l2.3-1.4l3-0.2l18 6.5l24-3.8l2.1-1.1l0.8-2l-3.3-7l0.4-1.9l1-1l7-2.2l15-3.3"/>
</g>
<path fill="none" stroke="#3a3a3a" stroke-width="1.25" d="M110.6 36.4H577.2V338.8H110.6z"/>
<path fill="none" stroke="#3a3a3a" stroke-width="1.5" d="M218.2 36.4v-4.6M218.2 338.8v4.6M328.7 36.4v-4.6M328.7 338.8v4.6M439.1 36.4v-4.6M439.1 338.8v4.6M549.6 36.4v-4.6M549.6 338.8v4.6M110.6 112h-4.6M577.2 112h4.6M110.6 187.6h-4.6M577.2 187.6h4.6M110.6 263.2h-4.6M577.2 263.2h4.6"/>
<text transform="translate(92.6 49.4) scale(1 1.1)" text-anchor="end" class="t">0</text>
<text transform="translate(92.6 125) scale(1 1.1)" text-anchor="end" class="t">50</text>
<text transform="translate(92.6 200.6) scale(1 1.1)" text-anchor="end" class="t">100</text>
<text transform="translate(92.6 276.2) scale(1 1.1)" text-anchor="end" class="t">150</text>
<text transform="translate(92.6 351.8) scale(1 1.1)" text-anchor="end" class="t">200</text>
<linearGradient id="cb00" x1="0" y1="0" x2="0" y2="1"><stop offset="0.00000" stop-color="#870000"/><stop offset="0.02941" stop-color="#870000"/><stop offset="0.02941" stop-color="#990000"/><stop offset="0.05882" stop-color="#990000"/><stop offset="0.05882" stop-color="#a80000"/><stop offset="0.08824" stop-color="#a80000"/><stop offset="0.08824" stop-color="#b50000"/><stop offset="0.11765" stop-color="#b50000"/><stop offset="0.11765" stop-color="#c20000"/><stop offset="0.14706" stop-color="#c20000"/><stop offset="0.14706" stop-color="#cf0000"/><stop offset="0.17647" stop-color="#cf0000"/><stop offset="0.17647" stop-color="#dd0000"/><stop offset="0.20588" stop-color="#dd0000"/><stop offset="0.20588" stop-color="#ec0000"/><stop offset="0.23529" stop-color="#ec0000"/><stop offset="0.23529" stop-color="#ff0000"/><stop offset="0.26471" stop-color="#ff0000"/><stop offset="0.26471" stop-color="#ff1f1f"/><stop offset="0.29412" stop-color="#ff1f1f"/><stop offset="0.29412" stop-color="#ff3c3c"/><stop offset="0.32353" stop-color="#ff3c3c"/><stop offset="0.32353" stop-color="#ff5c5c"/><stop offset="0.35294" stop-color="#ff5c5c"/><stop offset="0.35294" stop-color="#ff7a7a"/><stop offset="0.38235" stop-color="#ff7a7a"/><stop offset="0.38235" stop-color="#ff9696"/><stop offset="0.41176" stop-color="#ff9696"/><stop offset="0.41176" stop-color="#ffb4b4"/><stop offset="0.44118" stop-color="#ffb4b4"/><stop offset="0.44118" stop-color="#ffd4d4"/><stop offset="0.47059" stop-color="#ffd4d4"/><stop offset="0.47059" stop-color="#fff3f3"/><stop offset="0.50000" stop-color="#fff3f3"/><stop offset="0.50000" stop-color="#e9e9ff"/><stop offset="0.52941" stop-color="#e9e9ff"/><stop offset="0.52941" stop-color="#cbcbff"/><stop offset="0.55882" stop-color="#cbcbff"/><stop offset="0.55882" stop-color="#adadff"/><stop offset="0.58824" stop-color="#adadff"/><stop offset="0.58824" stop-color="#9090ff"/><stop offset="0.61765" stop-color="#9090ff"/><stop offset="0.61765" stop-color="#7272ff"/><stop offset="0.64706" stop-color="#7272ff"/><stop offset="0.64706" stop-color="#5050ff"/><stop offset="0.67647" stop-color="#5050ff"/><stop offset="0.67647" stop-color="#3232ff"/><stop offset="0.70588" stop-color="#3232ff"/><stop offset="0.70588" stop-color="#1515ff"/><stop offset="0.73529" stop-color="#1515ff"/><stop offset="0.73529" stop-color="#0000ff"/><stop offset="0.76471" stop-color="#0000ff"/><stop offset="0.76471" stop-color="#0000ec"/><stop offset="0.79412" stop-color="#0000ec"/><stop offset="0.79412" stop-color="#0000dd"/><stop offset="0.82353" stop-color="#0000dd"/><stop offset="0.82353" stop-color="#0000cf"/><stop offset="0.85294" stop-color="#0000cf"/><stop offset="0.85294" stop-color="#0000c2"/><stop offset="0.88235" stop-color="#0000c2"/><stop offset="0.88235" stop-color="#0000b5"/><stop offset="0.91176" stop-color="#0000b5"/><stop offset="0.91176" stop-color="#0000a8"/><stop offset="0.94118" stop-color="#0000a8"/><stop offset="0.94118" stop-color="#000099"/><stop offset="0.97059" stop-color="#000099"/><stop offset="0.97059" stop-color="#000087"/><stop offset="1.00000" stop-color="#000087"/></linearGradient>
<rect x="603" y="36.4" width="52.9" height="302.4" fill="url(#cb00)"/>
<rect x="603" y="36.4" width="52.9" height="302.4" fill="none" stroke="#3a3a3a" stroke-width="1.3"/>
<text transform="translate(667.1 66.2) scale(1 1.1)" class="t">2</text>
<text transform="translate(667.1 133.4) scale(1 1.1)" class="t">1</text>
<text transform="translate(667.1 200.6) scale(1 1.1)" class="t">0</text>
<text transform="translate(667.1 267.8) scale(1 1.1)" class="t">-1</text>
<text transform="translate(667.1 335) scale(1 1.1)" class="t">-2</text>
<path fill="none" stroke="#3a3a3a" stroke-width="1.3" d="M655.9 53.2h-3.5M655.9 120.4h-3.5M655.9 187.6h-3.5M655.9 254.8h-3.5M655.9 322h-3.5"/>
<text class="yl" transform="translate(24.6 187.2) rotate(-90) scale(1.04 1)" text-anchor="middle">depth(m)</text>
<text class="v" x="161.2" y="336.2">drate</text>
<text class="L" transform="translate(105.5 26.1) scale(1 1.05)">A</text>
<path fill="none" stroke="#3a3a3a" stroke-width="1.25" d="M814.1 36.4H1280.7V338.8H814.1z"/>
<path fill="none" stroke="#3a3a3a" stroke-width="1.5" d="M921.7 36.4v-4.6M921.7 338.8v4.6M1032.2 36.4v-4.6M1032.2 338.8v4.6M1142.6 36.4v-4.6M1142.6 338.8v4.6M1253.1 36.4v-4.6M1253.1 338.8v4.6M814.1 112h-4.6M1280.7 112h4.6M814.1 187.6h-4.6M1280.7 187.6h4.6M814.1 263.2h-4.6M1280.7 263.2h4.6"/>
<text transform="translate(796.1 49.4) scale(1 1.1)" text-anchor="end" class="t">0</text>
<text transform="translate(796.1 125) scale(1 1.1)" text-anchor="end" class="t">50</text>
<text transform="translate(796.1 200.6) scale(1 1.1)" text-anchor="end" class="t">100</text>
<text transform="translate(796.1 276.2) scale(1 1.1)" text-anchor="end" class="t">150</text>
<text transform="translate(796.1 351.8) scale(1 1.1)" text-anchor="end" class="t">200</text>
<linearGradient id="cb01" x1="0" y1="0" x2="0" y2="1"><stop offset="0.00000" stop-color="#870000"/><stop offset="0.02941" stop-color="#870000"/><stop offset="0.02941" stop-color="#990000"/><stop offset="0.05882" stop-color="#990000"/><stop offset="0.05882" stop-color="#a80000"/><stop offset="0.08824" stop-color="#a80000"/><stop offset="0.08824" stop-color="#b50000"/><stop offset="0.11765" stop-color="#b50000"/><stop offset="0.11765" stop-color="#c20000"/><stop offset="0.14706" stop-color="#c20000"/><stop offset="0.14706" stop-color="#cf0000"/><stop offset="0.17647" stop-color="#cf0000"/><stop offset="0.17647" stop-color="#dd0000"/><stop offset="0.20588" stop-color="#dd0000"/><stop offset="0.20588" stop-color="#ec0000"/><stop offset="0.23529" stop-color="#ec0000"/><stop offset="0.23529" stop-color="#ff0000"/><stop offset="0.26471" stop-color="#ff0000"/><stop offset="0.26471" stop-color="#ff1f1f"/><stop offset="0.29412" stop-color="#ff1f1f"/><stop offset="0.29412" stop-color="#ff3c3c"/><stop offset="0.32353" stop-color="#ff3c3c"/><stop offset="0.32353" stop-color="#ff5c5c"/><stop offset="0.35294" stop-color="#ff5c5c"/><stop offset="0.35294" stop-color="#ff7a7a"/><stop offset="0.38235" stop-color="#ff7a7a"/><stop offset="0.38235" stop-color="#ff9696"/><stop offset="0.41176" stop-color="#ff9696"/><stop offset="0.41176" stop-color="#ffb4b4"/><stop offset="0.44118" stop-color="#ffb4b4"/><stop offset="0.44118" stop-color="#ffd4d4"/><stop offset="0.47059" stop-color="#ffd4d4"/><stop offset="0.47059" stop-color="#fff3f3"/><stop offset="0.50000" stop-color="#fff3f3"/><stop offset="0.50000" stop-color="#e9e9ff"/><stop offset="0.52941" stop-color="#e9e9ff"/><stop offset="0.52941" stop-color="#cbcbff"/><stop offset="0.55882" stop-color="#cbcbff"/><stop offset="0.55882" stop-color="#adadff"/><stop offset="0.58824" stop-color="#adadff"/><stop offset="0.58824" stop-color="#9090ff"/><stop offset="0.61765" stop-color="#9090ff"/><stop offset="0.61765" stop-color="#7272ff"/><stop offset="0.64706" stop-color="#7272ff"/><stop offset="0.64706" stop-color="#5050ff"/><stop offset="0.67647" stop-color="#5050ff"/><stop offset="0.67647" stop-color="#3232ff"/><stop offset="0.70588" stop-color="#3232ff"/><stop offset="0.70588" stop-color="#1515ff"/><stop offset="0.73529" stop-color="#1515ff"/><stop offset="0.73529" stop-color="#0000ff"/><stop offset="0.76471" stop-color="#0000ff"/><stop offset="0.76471" stop-color="#0000ec"/><stop offset="0.79412" stop-color="#0000ec"/><stop offset="0.79412" stop-color="#0000dd"/><stop offset="0.82353" stop-color="#0000dd"/><stop offset="0.82353" stop-color="#0000cf"/><stop offset="0.85294" stop-color="#0000cf"/><stop offset="0.85294" stop-color="#0000c2"/><stop offset="0.88235" stop-color="#0000c2"/><stop offset="0.88235" stop-color="#0000b5"/><stop offset="0.91176" stop-color="#0000b5"/><stop offset="0.91176" stop-color="#0000a8"/><stop offset="0.94118" stop-color="#0000a8"/><stop offset="0.94118" stop-color="#000099"/><stop offset="0.97059" stop-color="#000099"/><stop offset="0.97059" stop-color="#000087"/><stop offset="1.00000" stop-color="#000087"/></linearGradient>
<rect x="1307.3" y="36.4" width="52.9" height="302.4" fill="url(#cb01)"/>
<rect x="1307.3" y="36.4" width="52.9" height="302.4" fill="none" stroke="#3a3a3a" stroke-width="1.3"/>
<text transform="translate(1371.4 66.2) scale(1 1.1)" class="t">2</text>
<text transform="translate(1371.4 133.4) scale(1 1.1)" class="t">1</text>
<text transform="translate(1371.4 200.6) scale(1 1.1)" class="t">0</text>
<text transform="translate(1371.4 267.8) scale(1 1.1)" class="t">-1</text>
<text transform="translate(1371.4 335) scale(1 1.1)" class="t">-2</text>
<path fill="none" stroke="#3a3a3a" stroke-width="1.3" d="M1360.2 53.2h-3.5M1360.2 120.4h-3.5M1360.2 187.6h-3.5M1360.2 254.8h-3.5M1360.2 322h-3.5"/>
<text class="v" x="865.1" y="336.2">drate</text>
<text class="L" transform="translate(808.4 24.6) scale(1 1.05)">B</text>
<path fill="none" stroke="#3a3a3a" stroke-width="1.25" d="M110.6 396H577.2V698.4H110.6z"/>
<path fill="none" stroke="#3a3a3a" stroke-width="1.5" d="M218.2 396v-4.6M218.2 698.4v4.6M328.7 396v-4.6M328.7 698.4v4.6M439.1 396v-4.6M439.1 698.4v4.6M549.6 396v-4.6M549.6 698.4v4.6M110.6 471.6h-4.6M577.2 471.6h4.6M110.6 547.2h-4.6M577.2 547.2h4.6M110.6 622.8h-4.6M577.2 622.8h4.6"/>
<text transform="translate(92.6 409) scale(1 1.1)" text-anchor="end" class="t">0</text>
<text transform="translate(92.6 484.6) scale(1 1.1)" text-anchor="end" class="t">50</text>
<text transform="translate(92.6 560.2) scale(1 1.1)" text-anchor="end" class="t">100</text>
<text transform="translate(92.6 635.8) scale(1 1.1)" text-anchor="end" class="t">150</text>
<text transform="translate(92.6 711.4) scale(1 1.1)" text-anchor="end" class="t">200</text>
<linearGradient id="cb10" x1="0" y1="0" x2="0" y2="1"><stop offset="0.00000" stop-color="#870000"/><stop offset="0.02941" stop-color="#870000"/><stop offset="0.02941" stop-color="#990000"/><stop offset="0.05882" stop-color="#990000"/><stop offset="0.05882" stop-color="#a80000"/><stop offset="0.08824" stop-color="#a80000"/><stop offset="0.08824" stop-color="#b50000"/><stop offset="0.11765" stop-color="#b50000"/><stop offset="0.11765" stop-color="#c20000"/><stop offset="0.14706" stop-color="#c20000"/><stop offset="0.14706" stop-color="#cf0000"/><stop offset="0.17647" stop-color="#cf0000"/><stop offset="0.17647" stop-color="#dd0000"/><stop offset="0.20588" stop-color="#dd0000"/><stop offset="0.20588" stop-color="#ec0000"/><stop offset="0.23529" stop-color="#ec0000"/><stop offset="0.23529" stop-color="#ff0000"/><stop offset="0.26471" stop-color="#ff0000"/><stop offset="0.26471" stop-color="#ff1f1f"/><stop offset="0.29412" stop-color="#ff1f1f"/><stop offset="0.29412" stop-color="#ff3c3c"/><stop offset="0.32353" stop-color="#ff3c3c"/><stop offset="0.32353" stop-color="#ff5c5c"/><stop offset="0.35294" stop-color="#ff5c5c"/><stop offset="0.35294" stop-color="#ff7a7a"/><stop offset="0.38235" stop-color="#ff7a7a"/><stop offset="0.38235" stop-color="#ff9696"/><stop offset="0.41176" stop-color="#ff9696"/><stop offset="0.41176" stop-color="#ffb4b4"/><stop offset="0.44118" stop-color="#ffb4b4"/><stop offset="0.44118" stop-color="#ffd4d4"/><stop offset="0.47059" stop-color="#ffd4d4"/><stop offset="0.47059" stop-color="#fff3f3"/><stop offset="0.50000" stop-color="#fff3f3"/><stop offset="0.50000" stop-color="#e9e9ff"/><stop offset="0.52941" stop-color="#e9e9ff"/><stop offset="0.52941" stop-color="#cbcbff"/><stop offset="0.55882" stop-color="#cbcbff"/><stop offset="0.55882" stop-color="#adadff"/><stop offset="0.58824" stop-color="#adadff"/><stop offset="0.58824" stop-color="#9090ff"/><stop offset="0.61765" stop-color="#9090ff"/><stop offset="0.61765" stop-color="#7272ff"/><stop offset="0.64706" stop-color="#7272ff"/><stop offset="0.64706" stop-color="#5050ff"/><stop offset="0.67647" stop-color="#5050ff"/><stop offset="0.67647" stop-color="#3232ff"/><stop offset="0.70588" stop-color="#3232ff"/><stop offset="0.70588" stop-color="#1515ff"/><stop offset="0.73529" stop-color="#1515ff"/><stop offset="0.73529" stop-color="#0000ff"/><stop offset="0.76471" stop-color="#0000ff"/><stop offset="0.76471" stop-color="#0000ec"/><stop offset="0.79412" stop-color="#0000ec"/><stop offset="0.79412" stop-color="#0000dd"/><stop offset="0.82353" stop-color="#0000dd"/><stop offset="0.82353" stop-color="#0000cf"/><stop offset="0.85294" stop-color="#0000cf"/><stop offset="0.85294" stop-color="#0000c2"/><stop offset="0.88235" stop-color="#0000c2"/><stop offset="0.88235" stop-color="#0000b5"/><stop offset="0.91176" stop-color="#0000b5"/><stop offset="0.91176" stop-color="#0000a8"/><stop offset="0.94118" stop-color="#0000a8"/><stop offset="0.94118" stop-color="#000099"/><stop offset="0.97059" stop-color="#000099"/><stop offset="0.97059" stop-color="#000087"/><stop offset="1.00000" stop-color="#000087"/></linearGradient>
<rect x="603" y="396" width="52.9" height="302.4" fill="url(#cb10)"/>
<rect x="603" y="396" width="52.9" height="302.4" fill="none" stroke="#3a3a3a" stroke-width="1.3"/>
<text transform="translate(667.1 410.5) scale(1 1.1)" class="t">20</text>
<text transform="translate(667.1 484.6) scale(1 1.1)" class="t">10</text>
<text transform="translate(667.1 560.2) scale(1 1.1)" class="t">0</text>
<text transform="translate(667.1 635.8) scale(1 1.1)" class="t">-10</text>
<text transform="translate(667.1 711.4) scale(1 1.1)" class="t">-20</text>
<path fill="none" stroke="#3a3a3a" stroke-width="1.3" d="M655.9 396h-3.5M655.9 471.6h-3.5M655.9 547.2h-3.5M655.9 622.8h-3.5M655.9 698.4h-3.5"/>
<text class="yl" transform="translate(24.6 546.9) rotate(-90) scale(1.04 1)" text-anchor="middle">depth(m)</text>
<text class="v" x="161" y="695.9">dhadv</text>
<text class="L" transform="translate(105.7 380.8) scale(1 1.05)">C</text>
<path fill="none" stroke="#3a3a3a" stroke-width="1.25" d="M814.1 396H1280.7V698.4H814.1z"/>
<path fill="none" stroke="#3a3a3a" stroke-width="1.5" d="M921.7 396v-4.6M921.7 698.4v4.6M1032.2 396v-4.6M1032.2 698.4v4.6M1142.6 396v-4.6M1142.6 698.4v4.6M1253.1 396v-4.6M1253.1 698.4v4.6M814.1 471.6h-4.6M1280.7 471.6h4.6M814.1 547.2h-4.6M1280.7 547.2h4.6M814.1 622.8h-4.6M1280.7 622.8h4.6"/>
<text transform="translate(796.1 409) scale(1 1.1)" text-anchor="end" class="t">0</text>
<text transform="translate(796.1 484.6) scale(1 1.1)" text-anchor="end" class="t">50</text>
<text transform="translate(796.1 560.2) scale(1 1.1)" text-anchor="end" class="t">100</text>
<text transform="translate(796.1 635.8) scale(1 1.1)" text-anchor="end" class="t">150</text>
<text transform="translate(796.1 711.4) scale(1 1.1)" text-anchor="end" class="t">200</text>
<linearGradient id="cb11" x1="0" y1="0" x2="0" y2="1"><stop offset="0.00000" stop-color="#870000"/><stop offset="0.02941" stop-color="#870000"/><stop offset="0.02941" stop-color="#990000"/><stop offset="0.05882" stop-color="#990000"/><stop offset="0.05882" stop-color="#a80000"/><stop offset="0.08824" stop-color="#a80000"/><stop offset="0.08824" stop-color="#b50000"/><stop offset="0.11765" stop-color="#b50000"/><stop offset="0.11765" stop-color="#c20000"/><stop offset="0.14706" stop-color="#c20000"/><stop offset="0.14706" stop-color="#cf0000"/><stop offset="0.17647" stop-color="#cf0000"/><stop offset="0.17647" stop-color="#dd0000"/><stop offset="0.20588" stop-color="#dd0000"/><stop offset="0.20588" stop-color="#ec0000"/><stop offset="0.23529" stop-color="#ec0000"/><stop offset="0.23529" stop-color="#ff0000"/><stop offset="0.26471" stop-color="#ff0000"/><stop offset="0.26471" stop-color="#ff1f1f"/><stop offset="0.29412" stop-color="#ff1f1f"/><stop offset="0.29412" stop-color="#ff3c3c"/><stop offset="0.32353" stop-color="#ff3c3c"/><stop offset="0.32353" stop-color="#ff5c5c"/><stop offset="0.35294" stop-color="#ff5c5c"/><stop offset="0.35294" stop-color="#ff7a7a"/><stop offset="0.38235" stop-color="#ff7a7a"/><stop offset="0.38235" stop-color="#ff9696"/><stop offset="0.41176" stop-color="#ff9696"/><stop offset="0.41176" stop-color="#ffb4b4"/><stop offset="0.44118" stop-color="#ffb4b4"/><stop offset="0.44118" stop-color="#ffd4d4"/><stop offset="0.47059" stop-color="#ffd4d4"/><stop offset="0.47059" stop-color="#fff3f3"/><stop offset="0.50000" stop-color="#fff3f3"/><stop offset="0.50000" stop-color="#e9e9ff"/><stop offset="0.52941" stop-color="#e9e9ff"/><stop offset="0.52941" stop-color="#cbcbff"/><stop offset="0.55882" stop-color="#cbcbff"/><stop offset="0.55882" stop-color="#adadff"/><stop offset="0.58824" stop-color="#adadff"/><stop offset="0.58824" stop-color="#9090ff"/><stop offset="0.61765" stop-color="#9090ff"/><stop offset="0.61765" stop-color="#7272ff"/><stop offset="0.64706" stop-color="#7272ff"/><stop offset="0.64706" stop-color="#5050ff"/><stop offset="0.67647" stop-color="#5050ff"/><stop offset="0.67647" stop-color="#3232ff"/><stop offset="0.70588" stop-color="#3232ff"/><stop offset="0.70588" stop-color="#1515ff"/><stop offset="0.73529" stop-color="#1515ff"/><stop offset="0.73529" stop-color="#0000ff"/><stop offset="0.76471" stop-color="#0000ff"/><stop offset="0.76471" stop-color="#0000ec"/><stop offset="0.79412" stop-color="#0000ec"/><stop offset="0.79412" stop-color="#0000dd"/><stop offset="0.82353" stop-color="#0000dd"/><stop offset="0.82353" stop-color="#0000cf"/><stop offset="0.85294" stop-color="#0000cf"/><stop offset="0.85294" stop-color="#0000c2"/><stop offset="0.88235" stop-color="#0000c2"/><stop offset="0.88235" stop-color="#0000b5"/><stop offset="0.91176" stop-color="#0000b5"/><stop offset="0.91176" stop-color="#0000a8"/><stop offset="0.94118" stop-color="#0000a8"/><stop offset="0.94118" stop-color="#000099"/><stop offset="0.97059" stop-color="#000099"/><stop offset="0.97059" stop-color="#000087"/><stop offset="1.00000" stop-color="#000087"/></linearGradient>
<rect x="1307.3" y="396" width="52.9" height="302.4" fill="url(#cb11)"/>
<rect x="1307.3" y="396" width="52.9" height="302.4" fill="none" stroke="#3a3a3a" stroke-width="1.3"/>
<text transform="translate(1371.4 410.5) scale(1 1.1)" class="t">20</text>
<text transform="translate(1371.4 484.6) scale(1 1.1)" class="t">10</text>
<text transform="translate(1371.4 560.2) scale(1 1.1)" class="t">0</text>
<text transform="translate(1371.4 635.8) scale(1 1.1)" class="t">-10</text>
<text transform="translate(1371.4 711.4) scale(1 1.1)" class="t">-20</text>
<path fill="none" stroke="#3a3a3a" stroke-width="1.3" d="M1360.2 396h-3.5M1360.2 471.6h-3.5M1360.2 547.2h-3.5M1360.2 622.8h-3.5M1360.2 698.4h-3.5"/>
<text class="v" x="864.9" y="695.9">dhadv</text>
<text class="L" transform="translate(808 384.5) scale(1 1.05)">D</text>
<path fill="none" stroke="#3a3a3a" stroke-width="1.25" d="M110.6 755.7H577.2V1058.1H110.6z"/>
<path fill="none" stroke="#3a3a3a" stroke-width="1.5" d="M218.2 755.7v-4.6M218.2 1058.1v4.6M328.7 755.7v-4.6M328.7 1058.1v4.6M439.1 755.7v-4.6M439.1 1058.1v4.6M549.6 755.7v-4.6M549.6 1058.1v4.6M110.6 831.3h-4.6M577.2 831.3h4.6M110.6 906.9h-4.6M577.2 906.9h4.6M110.6 982.5h-4.6M577.2 982.5h4.6"/>
<text transform="translate(92.6 768.7) scale(1 1.1)" text-anchor="end" class="t">0</text>
<text transform="translate(92.6 844.3) scale(1 1.1)" text-anchor="end" class="t">50</text>
<text transform="translate(92.6 919.9) scale(1 1.1)" text-anchor="end" class="t">100</text>
<text transform="translate(92.6 995.5) scale(1 1.1)" text-anchor="end" class="t">150</text>
<text transform="translate(92.6 1071.1) scale(1 1.1)" text-anchor="end" class="t">200</text>
<linearGradient id="cb20" x1="0" y1="0" x2="0" y2="1"><stop offset="0.00000" stop-color="#870000"/><stop offset="0.02941" stop-color="#870000"/><stop offset="0.02941" stop-color="#990000"/><stop offset="0.05882" stop-color="#990000"/><stop offset="0.05882" stop-color="#a80000"/><stop offset="0.08824" stop-color="#a80000"/><stop offset="0.08824" stop-color="#b50000"/><stop offset="0.11765" stop-color="#b50000"/><stop offset="0.11765" stop-color="#c20000"/><stop offset="0.14706" stop-color="#c20000"/><stop offset="0.14706" stop-color="#cf0000"/><stop offset="0.17647" stop-color="#cf0000"/><stop offset="0.17647" stop-color="#dd0000"/><stop offset="0.20588" stop-color="#dd0000"/><stop offset="0.20588" stop-color="#ec0000"/><stop offset="0.23529" stop-color="#ec0000"/><stop offset="0.23529" stop-color="#ff0000"/><stop offset="0.26471" stop-color="#ff0000"/><stop offset="0.26471" stop-color="#ff1f1f"/><stop offset="0.29412" stop-color="#ff1f1f"/><stop offset="0.29412" stop-color="#ff3c3c"/><stop offset="0.32353" stop-color="#ff3c3c"/><stop offset="0.32353" stop-color="#ff5c5c"/><stop offset="0.35294" stop-color="#ff5c5c"/><stop offset="0.35294" stop-color="#ff7a7a"/><stop offset="0.38235" stop-color="#ff7a7a"/><stop offset="0.38235" stop-color="#ff9696"/><stop offset="0.41176" stop-color="#ff9696"/><stop offset="0.41176" stop-color="#ffb4b4"/><stop offset="0.44118" stop-color="#ffb4b4"/><stop offset="0.44118" stop-color="#ffd4d4"/><stop offset="0.47059" stop-color="#ffd4d4"/><stop offset="0.47059" stop-color="#fff3f3"/><stop offset="0.50000" stop-color="#fff3f3"/><stop offset="0.50000" stop-color="#e9e9ff"/><stop offset="0.52941" stop-color="#e9e9ff"/><stop offset="0.52941" stop-color="#cbcbff"/><stop offset="0.55882" stop-color="#cbcbff"/><stop offset="0.55882" stop-color="#adadff"/><stop offset="0.58824" stop-color="#adadff"/><stop offset="0.58824" stop-color="#9090ff"/><stop offset="0.61765" stop-color="#9090ff"/><stop offset="0.61765" stop-color="#7272ff"/><stop offset="0.64706" stop-color="#7272ff"/><stop offset="0.64706" stop-color="#5050ff"/><stop offset="0.67647" stop-color="#5050ff"/><stop offset="0.67647" stop-color="#3232ff"/><stop offset="0.70588" stop-color="#3232ff"/><stop offset="0.70588" stop-color="#1515ff"/><stop offset="0.73529" stop-color="#1515ff"/><stop offset="0.73529" stop-color="#0000ff"/><stop offset="0.76471" stop-color="#0000ff"/><stop offset="0.76471" stop-color="#0000ec"/><stop offset="0.79412" stop-color="#0000ec"/><stop offset="0.79412" stop-color="#0000dd"/><stop offset="0.82353" stop-color="#0000dd"/><stop offset="0.82353" stop-color="#0000cf"/><stop offset="0.85294" stop-color="#0000cf"/><stop offset="0.85294" stop-color="#0000c2"/><stop offset="0.88235" stop-color="#0000c2"/><stop offset="0.88235" stop-color="#0000b5"/><stop offset="0.91176" stop-color="#0000b5"/><stop offset="0.91176" stop-color="#0000a8"/><stop offset="0.94118" stop-color="#0000a8"/><stop offset="0.94118" stop-color="#000099"/><stop offset="0.97059" stop-color="#000099"/><stop offset="0.97059" stop-color="#000087"/><stop offset="1.00000" stop-color="#000087"/></linearGradient>
<rect x="603" y="755.7" width="52.9" height="302.4" fill="url(#cb20)"/>
<rect x="603" y="755.7" width="52.9" height="302.4" fill="none" stroke="#3a3a3a" stroke-width="1.3"/>
<text transform="translate(667.1 770.2) scale(1 1.1)" class="t">20</text>
<text transform="translate(667.1 844.3) scale(1 1.1)" class="t">10</text>
<text transform="translate(667.1 919.9) scale(1 1.1)" class="t">0</text>
<text transform="translate(667.1 995.5) scale(1 1.1)" class="t">-10</text>
<text transform="translate(667.1 1071.1) scale(1 1.1)" class="t">-20</text>
<path fill="none" stroke="#3a3a3a" stroke-width="1.3" d="M655.9 755.7h-3.5M655.9 831.3h-3.5M655.9 906.9h-3.5M655.9 982.5h-3.5M655.9 1058.1h-3.5"/>
<text class="yl" transform="translate(24.6 906.5) rotate(-90) scale(1.04 1)" text-anchor="middle">depth(m)</text>
<text class="v" x="159.6" y="1056.3">dvadv</text>
<text class="L" transform="translate(104.4 743.7) scale(1 1.05)">E</text>
<path fill="none" stroke="#3a3a3a" stroke-width="1.25" d="M814.1 755.7H1280.7V1058.1H814.1z"/>
<path fill="none" stroke="#3a3a3a" stroke-width="1.5" d="M921.7 755.7v-4.6M921.7 1058.1v4.6M1032.2 755.7v-4.6M1032.2 1058.1v4.6M1142.6 755.7v-4.6M1142.6 1058.1v4.6M1253.1 755.7v-4.6M1253.1 1058.1v4.6M814.1 831.3h-4.6M1280.7 831.3h4.6M814.1 906.9h-4.6M1280.7 906.9h4.6M814.1 982.5h-4.6M1280.7 982.5h4.6"/>
<text transform="translate(796.1 768.7) scale(1 1.1)" text-anchor="end" class="t">0</text>
<text transform="translate(796.1 844.3) scale(1 1.1)" text-anchor="end" class="t">50</text>
<text transform="translate(796.1 919.9) scale(1 1.1)" text-anchor="end" class="t">100</text>
<text transform="translate(796.1 995.5) scale(1 1.1)" text-anchor="end" class="t">150</text>
<text transform="translate(796.1 1071.1) scale(1 1.1)" text-anchor="end" class="t">200</text>
<linearGradient id="cb21" x1="0" y1="0" x2="0" y2="1"><stop offset="0.00000" stop-color="#870000"/><stop offset="0.02941" stop-color="#870000"/><stop offset="0.02941" stop-color="#990000"/><stop offset="0.05882" stop-color="#990000"/><stop offset="0.05882" stop-color="#a80000"/><stop offset="0.08824" stop-color="#a80000"/><stop offset="0.08824" stop-color="#b50000"/><stop offset="0.11765" stop-color="#b50000"/><stop offset="0.11765" stop-color="#c20000"/><stop offset="0.14706" stop-color="#c20000"/><stop offset="0.14706" stop-color="#cf0000"/><stop offset="0.17647" stop-color="#cf0000"/><stop offset="0.17647" stop-color="#dd0000"/><stop offset="0.20588" stop-color="#dd0000"/><stop offset="0.20588" stop-color="#ec0000"/><stop offset="0.23529" stop-color="#ec0000"/><stop offset="0.23529" stop-color="#ff0000"/><stop offset="0.26471" stop-color="#ff0000"/><stop offset="0.26471" stop-color="#ff1f1f"/><stop offset="0.29412" stop-color="#ff1f1f"/><stop offset="0.29412" stop-color="#ff3c3c"/><stop offset="0.32353" stop-color="#ff3c3c"/><stop offset="0.32353" stop-color="#ff5c5c"/><stop offset="0.35294" stop-color="#ff5c5c"/><stop offset="0.35294" stop-color="#ff7a7a"/><stop offset="0.38235" stop-color="#ff7a7a"/><stop offset="0.38235" stop-color="#ff9696"/><stop offset="0.41176" stop-color="#ff9696"/><stop offset="0.41176" stop-color="#ffb4b4"/><stop offset="0.44118" stop-color="#ffb4b4"/><stop offset="0.44118" stop-color="#ffd4d4"/><stop offset="0.47059" stop-color="#ffd4d4"/><stop offset="0.47059" stop-color="#fff3f3"/><stop offset="0.50000" stop-color="#fff3f3"/><stop offset="0.50000" stop-color="#e9e9ff"/><stop offset="0.52941" stop-color="#e9e9ff"/><stop offset="0.52941" stop-color="#cbcbff"/><stop offset="0.55882" stop-color="#cbcbff"/><stop offset="0.55882" stop-color="#adadff"/><stop offset="0.58824" stop-color="#adadff"/><stop offset="0.58824" stop-color="#9090ff"/><stop offset="0.61765" stop-color="#9090ff"/><stop offset="0.61765" stop-color="#7272ff"/><stop offset="0.64706" stop-color="#7272ff"/><stop offset="0.64706" stop-color="#5050ff"/><stop offset="0.67647" stop-color="#5050ff"/><stop offset="0.67647" stop-color="#3232ff"/><stop offset="0.70588" stop-color="#3232ff"/><stop offset="0.70588" stop-color="#1515ff"/><stop offset="0.73529" stop-color="#1515ff"/><stop offset="0.73529" stop-color="#0000ff"/><stop offset="0.76471" stop-color="#0000ff"/><stop offset="0.76471" stop-color="#0000ec"/><stop offset="0.79412" stop-color="#0000ec"/><stop offset="0.79412" stop-color="#0000dd"/><stop offset="0.82353" stop-color="#0000dd"/><stop offset="0.82353" stop-color="#0000cf"/><stop offset="0.85294" stop-color="#0000cf"/><stop offset="0.85294" stop-color="#0000c2"/><stop offset="0.88235" stop-color="#0000c2"/><stop offset="0.88235" stop-color="#0000b5"/><stop offset="0.91176" stop-color="#0000b5"/><stop offset="0.91176" stop-color="#0000a8"/><stop offset="0.94118" stop-color="#0000a8"/><stop offset="0.94118" stop-color="#000099"/><stop offset="0.97059" stop-color="#000099"/><stop offset="0.97059" stop-color="#000087"/><stop offset="1.00000" stop-color="#000087"/></linearGradient>
<rect x="1307.3" y="755.7" width="52.9" height="302.4" fill="url(#cb21)"/>
<rect x="1307.3" y="755.7" width="52.9" height="302.4" fill="none" stroke="#3a3a3a" stroke-width="1.3"/>
<text transform="translate(1371.4 770.2) scale(1 1.1)" class="t">20</text>
<text transform="translate(1371.4 844.3) scale(1 1.1)" class="t">10</text>
<text transform="translate(1371.4 919.9) scale(1 1.1)" class="t">0</text>
<text transform="translate(1371.4 995.5) scale(1 1.1)" class="t">-10</text>
<text transform="translate(1371.4 1071.1) scale(1 1.1)" class="t">-20</text>
<path fill="none" stroke="#3a3a3a" stroke-width="1.3" d="M1360.2 755.7h-3.5M1360.2 831.3h-3.5M1360.2 906.9h-3.5M1360.2 982.5h-3.5M1360.2 1058.1h-3.5"/>
<text class="v" x="861.5" y="1056.3">dvadv</text>
<text class="L" transform="translate(811.6 741.6) scale(1 1.05)">F</text>
<path fill="none" stroke="#3a3a3a" stroke-width="1.25" d="M110.6 1115.3H577.2V1417.8H110.6z"/>
<path fill="none" stroke="#3a3a3a" stroke-width="1.5" d="M218.2 1115.3v-4.6M218.2 1417.8v4.6M328.7 1115.3v-4.6M328.7 1417.8v4.6M439.1 1115.3v-4.6M439.1 1417.8v4.6M549.6 1115.3v-4.6M549.6 1417.8v4.6M110.6 1190.9h-4.6M577.2 1190.9h4.6M110.6 1266.5h-4.6M577.2 1266.5h4.6M110.6 1342.1h-4.6M577.2 1342.1h4.6"/>
<text transform="translate(92.6 1128.3) scale(1 1.1)" text-anchor="end" class="t">0</text>
<text transform="translate(92.6 1203.9) scale(1 1.1)" text-anchor="end" class="t">50</text>
<text transform="translate(92.6 1279.5) scale(1 1.1)" text-anchor="end" class="t">100</text>
<text transform="translate(92.6 1355.1) scale(1 1.1)" text-anchor="end" class="t">150</text>
<text transform="translate(92.6 1430.8) scale(1 1.1)" text-anchor="end" class="t">200</text>
<linearGradient id="cb30" x1="0" y1="0" x2="0" y2="1"><stop offset="0.00000" stop-color="#870000"/><stop offset="0.02941" stop-color="#870000"/><stop offset="0.02941" stop-color="#990000"/><stop offset="0.05882" stop-color="#990000"/><stop offset="0.05882" stop-color="#a80000"/><stop offset="0.08824" stop-color="#a80000"/><stop offset="0.08824" stop-color="#b50000"/><stop offset="0.11765" stop-color="#b50000"/><stop offset="0.11765" stop-color="#c20000"/><stop offset="0.14706" stop-color="#c20000"/><stop offset="0.14706" stop-color="#cf0000"/><stop offset="0.17647" stop-color="#cf0000"/><stop offset="0.17647" stop-color="#dd0000"/><stop offset="0.20588" stop-color="#dd0000"/><stop offset="0.20588" stop-color="#ec0000"/><stop offset="0.23529" stop-color="#ec0000"/><stop offset="0.23529" stop-color="#ff0000"/><stop offset="0.26471" stop-color="#ff0000"/><stop offset="0.26471" stop-color="#ff1f1f"/><stop offset="0.29412" stop-color="#ff1f1f"/><stop offset="0.29412" stop-color="#ff3c3c"/><stop offset="0.32353" stop-color="#ff3c3c"/><stop offset="0.32353" stop-color="#ff5c5c"/><stop offset="0.35294" stop-color="#ff5c5c"/><stop offset="0.35294" stop-color="#ff7a7a"/><stop offset="0.38235" stop-color="#ff7a7a"/><stop offset="0.38235" stop-color="#ff9696"/><stop offset="0.41176" stop-color="#ff9696"/><stop offset="0.41176" stop-color="#ffb4b4"/><stop offset="0.44118" stop-color="#ffb4b4"/><stop offset="0.44118" stop-color="#ffd4d4"/><stop offset="0.47059" stop-color="#ffd4d4"/><stop offset="0.47059" stop-color="#fff3f3"/><stop offset="0.50000" stop-color="#fff3f3"/><stop offset="0.50000" stop-color="#e9e9ff"/><stop offset="0.52941" stop-color="#e9e9ff"/><stop offset="0.52941" stop-color="#cbcbff"/><stop offset="0.55882" stop-color="#cbcbff"/><stop offset="0.55882" stop-color="#adadff"/><stop offset="0.58824" stop-color="#adadff"/><stop offset="0.58824" stop-color="#9090ff"/><stop offset="0.61765" stop-color="#9090ff"/><stop offset="0.61765" stop-color="#7272ff"/><stop offset="0.64706" stop-color="#7272ff"/><stop offset="0.64706" stop-color="#5050ff"/><stop offset="0.67647" stop-color="#5050ff"/><stop offset="0.67647" stop-color="#3232ff"/><stop offset="0.70588" stop-color="#3232ff"/><stop offset="0.70588" stop-color="#1515ff"/><stop offset="0.73529" stop-color="#1515ff"/><stop offset="0.73529" stop-color="#0000ff"/><stop offset="0.76471" stop-color="#0000ff"/><stop offset="0.76471" stop-color="#0000ec"/><stop offset="0.79412" stop-color="#0000ec"/><stop offset="0.79412" stop-color="#0000dd"/><stop offset="0.82353" stop-color="#0000dd"/><stop offset="0.82353" stop-color="#0000cf"/><stop offset="0.85294" stop-color="#0000cf"/><stop offset="0.85294" stop-color="#0000c2"/><stop offset="0.88235" stop-color="#0000c2"/><stop offset="0.88235" stop-color="#0000b5"/><stop offset="0.91176" stop-color="#0000b5"/><stop offset="0.91176" stop-color="#0000a8"/><stop offset="0.94118" stop-color="#0000a8"/><stop offset="0.94118" stop-color="#000099"/><stop offset="0.97059" stop-color="#000099"/><stop offset="0.97059" stop-color="#000087"/><stop offset="1.00000" stop-color="#000087"/></linearGradient>
<rect x="603" y="1115.3" width="52.9" height="302.4" fill="url(#cb30)"/>
<rect x="603" y="1115.3" width="52.9" height="302.4" fill="none" stroke="#3a3a3a" stroke-width="1.3"/>
<text transform="translate(667.1 1145.1) scale(1 1.1)" class="t">2</text>
<text transform="translate(667.1 1212.3) scale(1 1.1)" class="t">1</text>
<text transform="translate(667.1 1279.5) scale(1 1.1)" class="t">0</text>
<text transform="translate(667.1 1346.8) scale(1 1.1)" class="t">-1</text>
<text transform="translate(667.1 1413.9) scale(1 1.1)" class="t">-2</text>
<path fill="none" stroke="#3a3a3a" stroke-width="1.3" d="M655.9 1132.1h-3.5M655.9 1199.3h-3.5M655.9 1266.5h-3.5M655.9 1333.8h-3.5M655.9 1400.9h-3.5"/>
<text class="yl" transform="translate(24.6 1266.1) rotate(-90) scale(1.04 1)" text-anchor="middle">depth(m)</text>
<text class="v" x="163.3" y="1415.5">dhdiff</text>
<text class="L" transform="translate(108.1 1101.9) scale(1 1.05)">G</text>
<path fill="none" stroke="#3a3a3a" stroke-width="1.25" d="M814.1 1115.3H1280.7V1417.8H814.1z"/>
<path fill="none" stroke="#3a3a3a" stroke-width="1.5" d="M921.7 1115.3v-4.6M921.7 1417.8v4.6M1032.2 1115.3v-4.6M1032.2 1417.8v4.6M1142.6 1115.3v-4.6M1142.6 1417.8v4.6M1253.1 1115.3v-4.6M1253.1 1417.8v4.6M814.1 1190.9h-4.6M1280.7 1190.9h4.6M814.1 1266.5h-4.6M1280.7 1266.5h4.6M814.1 1342.1h-4.6M1280.7 1342.1h4.6"/>
<text transform="translate(796.1 1128.3) scale(1 1.1)" text-anchor="end" class="t">0</text>
<text transform="translate(796.1 1203.9) scale(1 1.1)" text-anchor="end" class="t">50</text>
<text transform="translate(796.1 1279.5) scale(1 1.1)" text-anchor="end" class="t">100</text>
<text transform="translate(796.1 1355.1) scale(1 1.1)" text-anchor="end" class="t">150</text>
<text transform="translate(796.1 1430.8) scale(1 1.1)" text-anchor="end" class="t">200</text>
<linearGradient id="cb31" x1="0" y1="0" x2="0" y2="1"><stop offset="0.00000" stop-color="#870000"/><stop offset="0.02941" stop-color="#870000"/><stop offset="0.02941" stop-color="#990000"/><stop offset="0.05882" stop-color="#990000"/><stop offset="0.05882" stop-color="#a80000"/><stop offset="0.08824" stop-color="#a80000"/><stop offset="0.08824" stop-color="#b50000"/><stop offset="0.11765" stop-color="#b50000"/><stop offset="0.11765" stop-color="#c20000"/><stop offset="0.14706" stop-color="#c20000"/><stop offset="0.14706" stop-color="#cf0000"/><stop offset="0.17647" stop-color="#cf0000"/><stop offset="0.17647" stop-color="#dd0000"/><stop offset="0.20588" stop-color="#dd0000"/><stop offset="0.20588" stop-color="#ec0000"/><stop offset="0.23529" stop-color="#ec0000"/><stop offset="0.23529" stop-color="#ff0000"/><stop offset="0.26471" stop-color="#ff0000"/><stop offset="0.26471" stop-color="#ff1f1f"/><stop offset="0.29412" stop-color="#ff1f1f"/><stop offset="0.29412" stop-color="#ff3c3c"/><stop offset="0.32353" stop-color="#ff3c3c"/><stop offset="0.32353" stop-color="#ff5c5c"/><stop offset="0.35294" stop-color="#ff5c5c"/><stop offset="0.35294" stop-color="#ff7a7a"/><stop offset="0.38235" stop-color="#ff7a7a"/><stop offset="0.38235" stop-color="#ff9696"/><stop offset="0.41176" stop-color="#ff9696"/><stop offset="0.41176" stop-color="#ffb4b4"/><stop offset="0.44118" stop-color="#ffb4b4"/><stop offset="0.44118" stop-color="#ffd4d4"/><stop offset="0.47059" stop-color="#ffd4d4"/><stop offset="0.47059" stop-color="#fff3f3"/><stop offset="0.50000" stop-color="#fff3f3"/><stop offset="0.50000" stop-color="#e9e9ff"/><stop offset="0.52941" stop-color="#e9e9ff"/><stop offset="0.52941" stop-color="#cbcbff"/><stop offset="0.55882" stop-color="#cbcbff"/><stop offset="0.55882" stop-color="#adadff"/><stop offset="0.58824" stop-color="#adadff"/><stop offset="0.58824" stop-color="#9090ff"/><stop offset="0.61765" stop-color="#9090ff"/><stop offset="0.61765" stop-color="#7272ff"/><stop offset="0.64706" stop-color="#7272ff"/><stop offset="0.64706" stop-color="#5050ff"/><stop offset="0.67647" stop-color="#5050ff"/><stop offset="0.67647" stop-color="#3232ff"/><stop offset="0.70588" stop-color="#3232ff"/><stop offset="0.70588" stop-color="#1515ff"/><stop offset="0.73529" stop-color="#1515ff"/><stop offset="0.73529" stop-color="#0000ff"/><stop offset="0.76471" stop-color="#0000ff"/><stop offset="0.76471" stop-color="#0000ec"/><stop offset="0.79412" stop-color="#0000ec"/><stop offset="0.79412" stop-color="#0000dd"/><stop offset="0.82353" stop-color="#0000dd"/><stop offset="0.82353" stop-color="#0000cf"/><stop offset="0.85294" stop-color="#0000cf"/><stop offset="0.85294" stop-color="#0000c2"/><stop offset="0.88235" stop-color="#0000c2"/><stop offset="0.88235" stop-color="#0000b5"/><stop offset="0.91176" stop-color="#0000b5"/><stop offset="0.91176" stop-color="#0000a8"/><stop offset="0.94118" stop-color="#0000a8"/><stop offset="0.94118" stop-color="#000099"/><stop offset="0.97059" stop-color="#000099"/><stop offset="0.97059" stop-color="#000087"/><stop offset="1.00000" stop-color="#000087"/></linearGradient>
<rect x="1307.3" y="1115.3" width="52.9" height="302.4" fill="url(#cb31)"/>
<rect x="1307.3" y="1115.3" width="52.9" height="302.4" fill="none" stroke="#3a3a3a" stroke-width="1.3"/>
<text transform="translate(1371.4 1145.1) scale(1 1.1)" class="t">2</text>
<text transform="translate(1371.4 1212.3) scale(1 1.1)" class="t">1</text>
<text transform="translate(1371.4 1279.5) scale(1 1.1)" class="t">0</text>
<text transform="translate(1371.4 1346.8) scale(1 1.1)" class="t">-1</text>
<text transform="translate(1371.4 1413.9) scale(1 1.1)" class="t">-2</text>
<path fill="none" stroke="#3a3a3a" stroke-width="1.3" d="M1360.2 1132.1h-3.5M1360.2 1199.3h-3.5M1360.2 1266.5h-3.5M1360.2 1333.8h-3.5M1360.2 1400.9h-3.5"/>
<text class="v" x="865.2" y="1415.5">dhdiff</text>
<text class="L" transform="translate(809.5 1101.3) scale(1 1.05)">H</text>
<path fill="none" stroke="#3a3a3a" stroke-width="1.25" d="M110.6 1475H568.8V1777.4H110.6z"/>
<path fill="none" stroke="#3a3a3a" stroke-width="1.5" d="M216.3 1475v-4.6M216.3 1777.4v4.6M324.8 1475v-4.6M324.8 1777.4v4.6M433.2 1475v-4.6M433.2 1777.4v4.6M541.7 1475v-4.6M541.7 1777.4v4.6M110.6 1550.6h-4.6M568.8 1550.6h4.6M110.6 1626.2h-4.6M568.8 1626.2h4.6M110.6 1701.8h-4.6M568.8 1701.8h4.6"/>
<text transform="translate(92.6 1488) scale(1 1.1)" text-anchor="end" class="t">0</text>
<text transform="translate(92.6 1563.6) scale(1 1.1)" text-anchor="end" class="t">50</text>
<text transform="translate(92.6 1639.2) scale(1 1.1)" text-anchor="end" class="t">100</text>
<text transform="translate(92.6 1714.8) scale(1 1.1)" text-anchor="end" class="t">150</text>
<text transform="translate(92.6 1790.4) scale(1 1.1)" text-anchor="end" class="t">200</text>
<text transform="translate(216.3 1827.4) scale(1 1.1)" text-anchor="middle" class="t">122.5&#176;E</text>
<text transform="translate(324.8 1827.4) scale(1 1.1)" text-anchor="middle" class="t">123&#176;E</text>
<text transform="translate(433.2 1827.4) scale(1 1.1)" text-anchor="middle" class="t">123.5&#176;E</text>
<text transform="translate(541.7 1827.4) scale(1 1.1)" text-anchor="middle" class="t">124&#176;E</text>
<linearGradient id="cb40" x1="0" y1="0" x2="0" y2="1"><stop offset="0.00000" stop-color="#870000"/><stop offset="0.02941" stop-color="#870000"/><stop offset="0.02941" stop-color="#990000"/><stop offset="0.05882" stop-color="#990000"/><stop offset="0.05882" stop-color="#a80000"/><stop offset="0.08824" stop-color="#a80000"/><stop offset="0.08824" stop-color="#b50000"/><stop offset="0.11765" stop-color="#b50000"/><stop offset="0.11765" stop-color="#c20000"/><stop offset="0.14706" stop-color="#c20000"/><stop offset="0.14706" stop-color="#cf0000"/><stop offset="0.17647" stop-color="#cf0000"/><stop offset="0.17647" stop-color="#dd0000"/><stop offset="0.20588" stop-color="#dd0000"/><stop offset="0.20588" stop-color="#ec0000"/><stop offset="0.23529" stop-color="#ec0000"/><stop offset="0.23529" stop-color="#ff0000"/><stop offset="0.26471" stop-color="#ff0000"/><stop offset="0.26471" stop-color="#ff1f1f"/><stop offset="0.29412" stop-color="#ff1f1f"/><stop offset="0.29412" stop-color="#ff3c3c"/><stop offset="0.32353" stop-color="#ff3c3c"/><stop offset="0.32353" stop-color="#ff5c5c"/><stop offset="0.35294" stop-color="#ff5c5c"/><stop offset="0.35294" stop-color="#ff7a7a"/><stop offset="0.38235" stop-color="#ff7a7a"/><stop offset="0.38235" stop-color="#ff9696"/><stop offset="0.41176" stop-color="#ff9696"/><stop offset="0.41176" stop-color="#ffb4b4"/><stop offset="0.44118" stop-color="#ffb4b4"/><stop offset="0.44118" stop-color="#ffd4d4"/><stop offset="0.47059" stop-color="#ffd4d4"/><stop offset="0.47059" stop-color="#fff3f3"/><stop offset="0.50000" stop-color="#fff3f3"/><stop offset="0.50000" stop-color="#e9e9ff"/><stop offset="0.52941" stop-color="#e9e9ff"/><stop offset="0.52941" stop-color="#cbcbff"/><stop offset="0.55882" stop-color="#cbcbff"/><stop offset="0.55882" stop-color="#adadff"/><stop offset="0.58824" stop-color="#adadff"/><stop offset="0.58824" stop-color="#9090ff"/><stop offset="0.61765" stop-color="#9090ff"/><stop offset="0.61765" stop-color="#7272ff"/><stop offset="0.64706" stop-color="#7272ff"/><stop offset="0.64706" stop-color="#5050ff"/><stop offset="0.67647" stop-color="#5050ff"/><stop offset="0.67647" stop-color="#3232ff"/><stop offset="0.70588" stop-color="#3232ff"/><stop offset="0.70588" stop-color="#1515ff"/><stop offset="0.73529" stop-color="#1515ff"/><stop offset="0.73529" stop-color="#0000ff"/><stop offset="0.76471" stop-color="#0000ff"/><stop offset="0.76471" stop-color="#0000ec"/><stop offset="0.79412" stop-color="#0000ec"/><stop offset="0.79412" stop-color="#0000dd"/><stop offset="0.82353" stop-color="#0000dd"/><stop offset="0.82353" stop-color="#0000cf"/><stop offset="0.85294" stop-color="#0000cf"/><stop offset="0.85294" stop-color="#0000c2"/><stop offset="0.88235" stop-color="#0000c2"/><stop offset="0.88235" stop-color="#0000b5"/><stop offset="0.91176" stop-color="#0000b5"/><stop offset="0.91176" stop-color="#0000a8"/><stop offset="0.94118" stop-color="#0000a8"/><stop offset="0.94118" stop-color="#000099"/><stop offset="0.97059" stop-color="#000099"/><stop offset="0.97059" stop-color="#000087"/><stop offset="1.00000" stop-color="#000087"/></linearGradient>
<rect x="611.4" y="1475" width="53.6" height="302.4" fill="url(#cb40)"/>
<rect x="611.4" y="1475" width="53.6" height="302.4" fill="none" stroke="#3a3a3a" stroke-width="1.3"/>
<text transform="translate(676.2 1504.8) scale(1 1.1)" class="t">2</text>
<text transform="translate(676.2 1572) scale(1 1.1)" class="t">1</text>
<text transform="translate(676.2 1639.2) scale(1 1.1)" class="t">0</text>
<text transform="translate(676.2 1706.4) scale(1 1.1)" class="t">-1</text>
<text transform="translate(676.2 1773.6) scale(1 1.1)" class="t">-2</text>
<path fill="none" stroke="#3a3a3a" stroke-width="1.3" d="M665 1491.8h-3.5M665 1559h-3.5M665 1626.2h-3.5M665 1693.4h-3.5M665 1760.6h-3.5"/>
<text class="yl" transform="translate(24.6 1625.8) rotate(-90) scale(1.04 1)" text-anchor="middle">depth(m)</text>
<text class="v" x="147.1" y="1775">dvdiff</text>
<text class="L" transform="translate(103.2 1462.3) scale(1 1.05)">I</text>
<path fill="none" stroke="#3a3a3a" stroke-width="1.25" d="M814.1 1475H1272.3V1777.4H814.1z"/>
<path fill="none" stroke="#3a3a3a" stroke-width="1.5" d="M919.8 1475v-4.6M919.8 1777.4v4.6M1028.3 1475v-4.6M1028.3 1777.4v4.6M1136.7 1475v-4.6M1136.7 1777.4v4.6M1245.2 1475v-4.6M1245.2 1777.4v4.6M814.1 1550.6h-4.6M1272.3 1550.6h4.6M814.1 1626.2h-4.6M1272.3 1626.2h4.6M814.1 1701.8h-4.6M1272.3 1701.8h4.6"/>
<text transform="translate(796.1 1488) scale(1 1.1)" text-anchor="end" class="t">0</text>
<text transform="translate(796.1 1563.6) scale(1 1.1)" text-anchor="end" class="t">50</text>
<text transform="translate(796.1 1639.2) scale(1 1.1)" text-anchor="end" class="t">100</text>
<text transform="translate(796.1 1714.8) scale(1 1.1)" text-anchor="end" class="t">150</text>
<text transform="translate(796.1 1790.4) scale(1 1.1)" text-anchor="end" class="t">200</text>
<text transform="translate(919.8 1827.4) scale(1 1.1)" text-anchor="middle" class="t">122.5&#176;E</text>
<text transform="translate(1028.3 1827.4) scale(1 1.1)" text-anchor="middle" class="t">123&#176;E</text>
<text transform="translate(1136.7 1827.4) scale(1 1.1)" text-anchor="middle" class="t">123.5&#176;E</text>
<text transform="translate(1245.2 1827.4) scale(1 1.1)" text-anchor="middle" class="t">124&#176;E</text>
<linearGradient id="cb41" x1="0" y1="0" x2="0" y2="1"><stop offset="0.00000" stop-color="#870000"/><stop offset="0.02941" stop-color="#870000"/><stop offset="0.02941" stop-color="#990000"/><stop offset="0.05882" stop-color="#990000"/><stop offset="0.05882" stop-color="#a80000"/><stop offset="0.08824" stop-color="#a80000"/><stop offset="0.08824" stop-color="#b50000"/><stop offset="0.11765" stop-color="#b50000"/><stop offset="0.11765" stop-color="#c20000"/><stop offset="0.14706" stop-color="#c20000"/><stop offset="0.14706" stop-color="#cf0000"/><stop offset="0.17647" stop-color="#cf0000"/><stop offset="0.17647" stop-color="#dd0000"/><stop offset="0.20588" stop-color="#dd0000"/><stop offset="0.20588" stop-color="#ec0000"/><stop offset="0.23529" stop-color="#ec0000"/><stop offset="0.23529" stop-color="#ff0000"/><stop offset="0.26471" stop-color="#ff0000"/><stop offset="0.26471" stop-color="#ff1f1f"/><stop offset="0.29412" stop-color="#ff1f1f"/><stop offset="0.29412" stop-color="#ff3c3c"/><stop offset="0.32353" stop-color="#ff3c3c"/><stop offset="0.32353" stop-color="#ff5c5c"/><stop offset="0.35294" stop-color="#ff5c5c"/><stop offset="0.35294" stop-color="#ff7a7a"/><stop offset="0.38235" stop-color="#ff7a7a"/><stop offset="0.38235" stop-color="#ff9696"/><stop offset="0.41176" stop-color="#ff9696"/><stop offset="0.41176" stop-color="#ffb4b4"/><stop offset="0.44118" stop-color="#ffb4b4"/><stop offset="0.44118" stop-color="#ffd4d4"/><stop offset="0.47059" stop-color="#ffd4d4"/><stop offset="0.47059" stop-color="#fff3f3"/><stop offset="0.50000" stop-color="#fff3f3"/><stop offset="0.50000" stop-color="#e9e9ff"/><stop offset="0.52941" stop-color="#e9e9ff"/><stop offset="0.52941" stop-color="#cbcbff"/><stop offset="0.55882" stop-color="#cbcbff"/><stop offset="0.55882" stop-color="#adadff"/><stop offset="0.58824" stop-color="#adadff"/><stop offset="0.58824" stop-color="#9090ff"/><stop offset="0.61765" stop-color="#9090ff"/><stop offset="0.61765" stop-color="#7272ff"/><stop offset="0.64706" stop-color="#7272ff"/><stop offset="0.64706" stop-color="#5050ff"/><stop offset="0.67647" stop-color="#5050ff"/><stop offset="0.67647" stop-color="#3232ff"/><stop offset="0.70588" stop-color="#3232ff"/><stop offset="0.70588" stop-color="#1515ff"/><stop offset="0.73529" stop-color="#1515ff"/><stop offset="0.73529" stop-color="#0000ff"/><stop offset="0.76471" stop-color="#0000ff"/><stop offset="0.76471" stop-color="#0000ec"/><stop offset="0.79412" stop-color="#0000ec"/><stop offset="0.79412" stop-color="#0000dd"/><stop offset="0.82353" stop-color="#0000dd"/><stop offset="0.82353" stop-color="#0000cf"/><stop offset="0.85294" stop-color="#0000cf"/><stop offset="0.85294" stop-color="#0000c2"/><stop offset="0.88235" stop-color="#0000c2"/><stop offset="0.88235" stop-color="#0000b5"/><stop offset="0.91176" stop-color="#0000b5"/><stop offset="0.91176" stop-color="#0000a8"/><stop offset="0.94118" stop-color="#0000a8"/><stop offset="0.94118" stop-color="#000099"/><stop offset="0.97059" stop-color="#000099"/><stop offset="0.97059" stop-color="#000087"/><stop offset="1.00000" stop-color="#000087"/></linearGradient>
<rect x="1315.7" y="1475" width="53.6" height="302.4" fill="url(#cb41)"/>
<rect x="1315.7" y="1475" width="53.6" height="302.4" fill="none" stroke="#3a3a3a" stroke-width="1.3"/>
<text transform="translate(1380.5 1504.8) scale(1 1.1)" class="t">2</text>
<text transform="translate(1380.5 1572) scale(1 1.1)" class="t">1</text>
<text transform="translate(1380.5 1639.2) scale(1 1.1)" class="t">0</text>
<text transform="translate(1380.5 1706.4) scale(1 1.1)" class="t">-1</text>
<text transform="translate(1380.5 1773.6) scale(1 1.1)" class="t">-2</text>
<path fill="none" stroke="#3a3a3a" stroke-width="1.3" d="M1369.3 1491.8h-3.5M1369.3 1559h-3.5M1369.3 1626.2h-3.5M1369.3 1693.4h-3.5M1369.3 1760.6h-3.5"/>
<text class="v" x="859.4" y="1776">dvdiff</text>
<text class="L" transform="translate(807.9 1462.2) scale(1 1.05)">J</text>
</svg></body></html>
